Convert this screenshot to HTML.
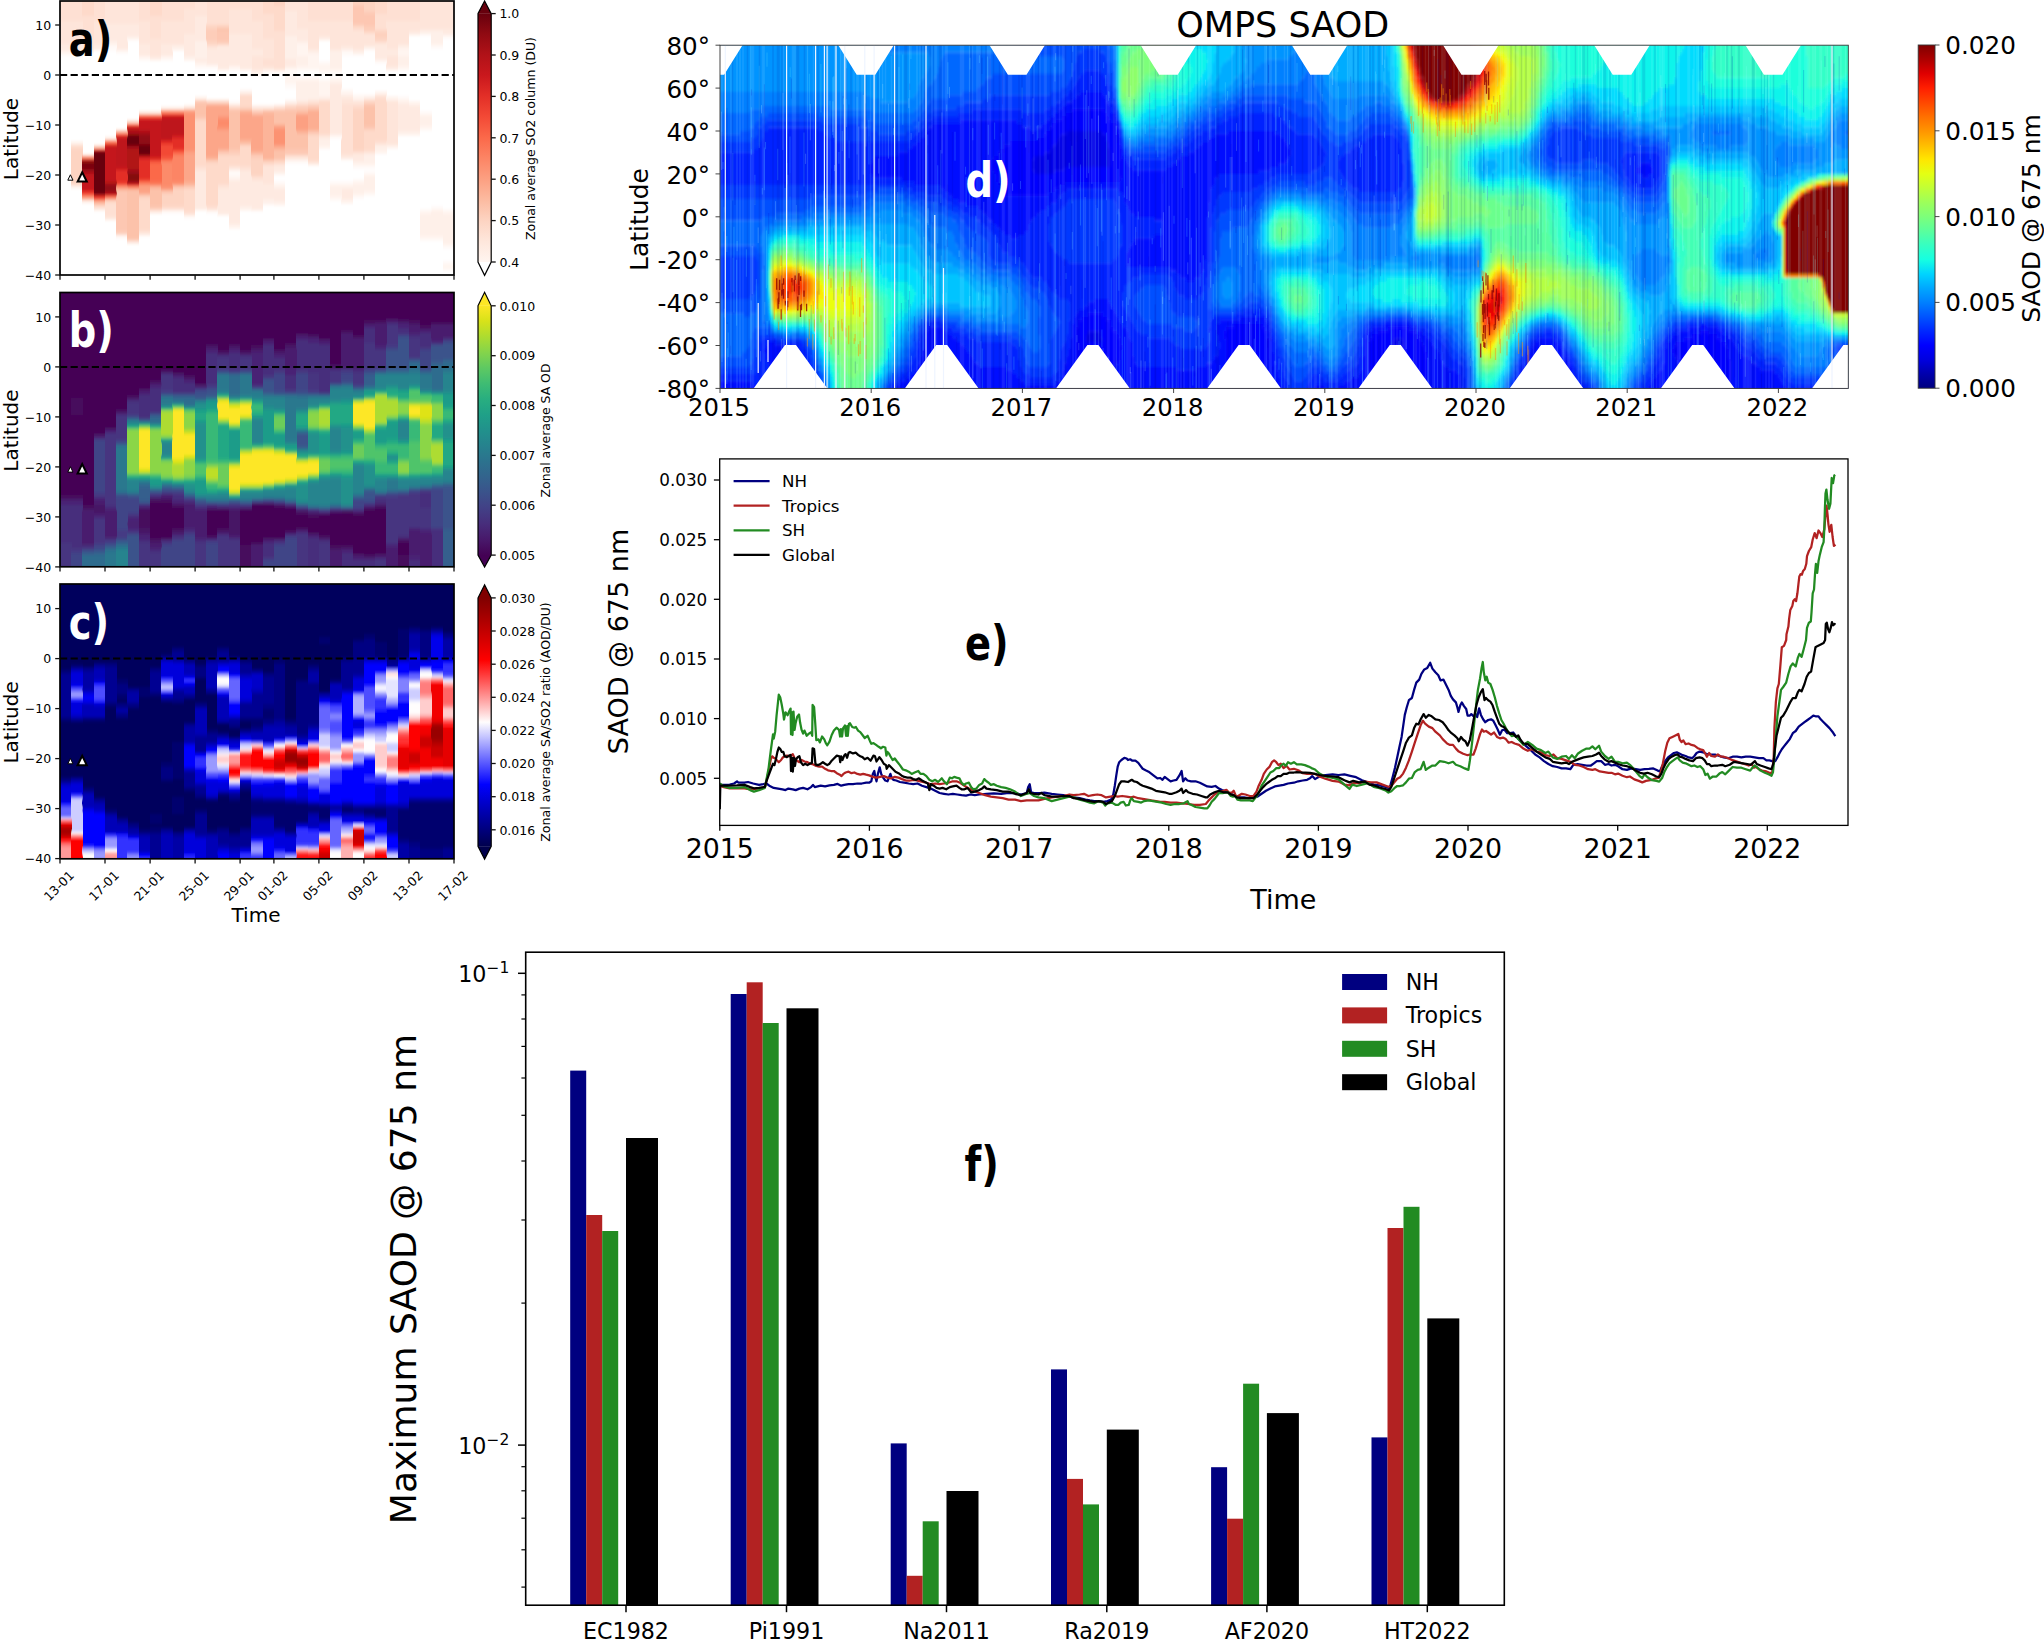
<!DOCTYPE html><html><head><meta charset="utf-8"><title>Figure</title><style>html,body{margin:0;padding:0;background:#fff}svg{display:block}text{white-space:pre}</style></head><body><svg width="2044" height="1639" viewBox="0 0 2044 1639" font-family="'DejaVu Sans','Liberation Sans',sans-serif" shape-rendering="auto"><defs>
<linearGradient id="gR" x1="0" y1="0" x2="0" y2="1"><stop offset="0%" stop-color="#67000d"/><stop offset="8.3%" stop-color="#900a12"/><stop offset="16.7%" stop-color="#b11218"/><stop offset="25%" stop-color="#ca181d"/><stop offset="33.3%" stop-color="#e32f27"/><stop offset="41.7%" stop-color="#f34a36"/><stop offset="50%" stop-color="#fb694a"/><stop offset="58.3%" stop-color="#fc8565"/><stop offset="66.7%" stop-color="#fca082"/><stop offset="75%" stop-color="#fcbba1"/><stop offset="83.3%" stop-color="#fdd4c2"/><stop offset="91.7%" stop-color="#fee7dc"/><stop offset="100%" stop-color="#fff5f0"/></linearGradient>
<linearGradient id="gV" x1="0" y1="0" x2="0" y2="1"><stop offset="0%" stop-color="#fde725"/><stop offset="6.2%" stop-color="#d8e219"/><stop offset="12.5%" stop-color="#addc30"/><stop offset="18.8%" stop-color="#84d44b"/><stop offset="25%" stop-color="#5ec962"/><stop offset="31.2%" stop-color="#3fbc73"/><stop offset="37.5%" stop-color="#28ae80"/><stop offset="43.8%" stop-color="#1fa088"/><stop offset="50%" stop-color="#21918c"/><stop offset="56.2%" stop-color="#26828e"/><stop offset="62.5%" stop-color="#2c728e"/><stop offset="68.8%" stop-color="#33638d"/><stop offset="75%" stop-color="#3b528b"/><stop offset="81.2%" stop-color="#424086"/><stop offset="87.5%" stop-color="#472d7b"/><stop offset="93.8%" stop-color="#48186a"/><stop offset="100%" stop-color="#440154"/></linearGradient>
<linearGradient id="gS" x1="0" y1="0" x2="0" y2="1"><stop offset="0%" stop-color="#800000"/><stop offset="6.2%" stop-color="#9e0000"/><stop offset="12.5%" stop-color="#be0000"/><stop offset="18.8%" stop-color="#de0000"/><stop offset="25%" stop-color="#fe0000"/><stop offset="31.2%" stop-color="#ff3d3d"/><stop offset="37.5%" stop-color="#ff7d7d"/><stop offset="43.8%" stop-color="#ffbdbd"/><stop offset="50%" stop-color="#fffdfd"/><stop offset="56.2%" stop-color="#c1c1ff"/><stop offset="62.5%" stop-color="#8181ff"/><stop offset="68.8%" stop-color="#4141ff"/><stop offset="75%" stop-color="#0101ff"/><stop offset="81.2%" stop-color="#0000d3"/><stop offset="87.5%" stop-color="#0000a6"/><stop offset="93.8%" stop-color="#000079"/><stop offset="100%" stop-color="#00004c"/></linearGradient>
<linearGradient id="gJ" x1="0" y1="0" x2="0" y2="1"><stop offset="0%" stop-color="#800000"/><stop offset="4.2%" stop-color="#ad0000"/><stop offset="8.3%" stop-color="#df0000"/><stop offset="12.5%" stop-color="#ff1e00"/><stop offset="16.7%" stop-color="#ff4700"/><stop offset="20.8%" stop-color="#ff6f00"/><stop offset="25%" stop-color="#ff9400"/><stop offset="29.2%" stop-color="#ffbd00"/><stop offset="33.3%" stop-color="#ffe600"/><stop offset="37.5%" stop-color="#e4ff13"/><stop offset="41.7%" stop-color="#c1ff36"/><stop offset="45.8%" stop-color="#9dff5a"/><stop offset="50%" stop-color="#7dff7a"/><stop offset="54.2%" stop-color="#5aff9d"/><stop offset="58.3%" stop-color="#36ffc1"/><stop offset="62.5%" stop-color="#16ffe1"/><stop offset="66.7%" stop-color="#00d4ff"/><stop offset="70.8%" stop-color="#00a8ff"/><stop offset="75%" stop-color="#0080ff"/><stop offset="79.2%" stop-color="#0054ff"/><stop offset="83.3%" stop-color="#0028ff"/><stop offset="87.5%" stop-color="#00f"/><stop offset="91.7%" stop-color="#0000df"/><stop offset="95.8%" stop-color="#0000ad"/><stop offset="100%" stop-color="#000080"/></linearGradient>
<clipPath id="ca"><rect x="60" y="1" width="394" height="274"/></clipPath>
<clipPath id="cb"><rect x="60" y="292.5" width="394" height="274.3"/></clipPath>
<clipPath id="cc"><rect x="60" y="584" width="394" height="274.8"/></clipPath>
<clipPath id="cd"><rect x="720" y="45.2" width="1128.3" height="343.2"/></clipPath>
<clipPath id="ce"><rect x="720" y="459" width="1128" height="366.5"/></clipPath>
<filter id="vb" x="-1%" y="-4%" width="102%" height="108%"><feGaussianBlur stdDeviation="0 1.4"/></filter>
<filter id="bl" x="-1%" y="-3%" width="102%" height="106%"><feGaussianBlur stdDeviation="1.1 1.6"/></filter>
</defs>
<g clip-path="url(#ca)" shape-rendering="crispEdges"><g filter="url(#vb)"><path fill="#fee0d3" d="M59.9 -5h11.6v26.2h-11.6zM71.1 -5h11.6v26.2h-11.6zM71.1 183.5h11.6v2.7h-11.6zM82.4 16h11.6v22.7h-11.6zM93.6 -5h11.6v26.2h-11.6zM93.6 206h11.6v2.7h-11.6zM104.9 203.5h11.6v12.7h-11.6zM138.6 -5h11.6v26.2h-11.6zM149.9 16h11.6v22.7h-11.6zM161.2 -5h11.6v26.2h-11.6zM172.4 -5h11.6v26.2h-11.6zM183.7 -5h11.6v13.7h-11.6zM183.7 211h11.6v2.7h-11.6zM194.9 98.5h11.6v2.7h-11.6zM194.9 166h11.6v2.7h-11.6zM206.2 -5h11.6v28.7h-11.6zM206.2 206h11.6v2.7h-11.6zM217.4 -5h11.6v28.7h-11.6zM217.4 43.5h11.6v2.7h-11.6zM217.4 183.5h11.6v2.7h-11.6zM228.7 -5h11.6v13.7h-11.6zM240 -5h11.6v13.7h-11.6zM240 93.5h11.6v2.7h-11.6zM240 166h11.6v2.7h-11.6zM251.2 -5h11.6v26.2h-11.6zM251.2 176h11.6v2.7h-11.6zM262.5 13.5h11.6v25.2h-11.6zM262.5 58.5h11.6v7.7h-11.6zM262.5 163.5h11.6v2.7h-11.6zM273.7 31h11.6v37.7h-11.6zM273.7 106h11.6v2.7h-11.6zM285 103.5h11.6v2.7h-11.6zM307.5 -5h11.6v26.2h-11.6zM307.5 101h11.6v2.7h-11.6zM318.8 -5h11.6v26.2h-11.6zM318.8 133.5h11.6v2.7h-11.6zM330 -5h11.6v26.2h-11.6zM341.3 -5h11.6v26.2h-11.6zM341.3 103.5h11.6v50.2h-11.6zM352.5 28.5h11.6v2.7h-11.6zM352.5 103.5h11.6v2.7h-11.6zM352.5 151h11.6v2.7h-11.6zM363.8 98.5h11.6v2.7h-11.6zM375 13.5h11.6v15.2h-11.6zM375 41h11.6v2.7h-11.6zM375 96h11.6v2.7h-11.6zM375 141h11.6v2.7h-11.6zM386.3 -5h11.6v26.2h-11.6zM397.6 -5h11.6v26.2h-11.6zM408.8 -5h11.6v26.2h-11.6z"/><path fill="#fee5da" d="M59.9 21h11.6v22.7h-11.6zM71.1 21h11.6v22.7h-11.6zM71.1 143.5h11.6v2.7h-11.6zM82.4 38.5h11.6v10.2h-11.6zM93.6 21h11.6v22.7h-11.6zM104.9 -5h11.6v28.7h-11.6zM104.9 216h11.6v2.7h-11.6zM116.1 -5h11.6v28.7h-11.6zM116.1 233.5h11.6v2.7h-11.6zM127.4 -5h11.6v28.7h-11.6zM138.6 21h11.6v22.7h-11.6zM138.6 231h11.6v2.7h-11.6zM149.9 38.5h11.6v17.7h-11.6zM161.2 21h11.6v22.7h-11.6zM172.4 21h11.6v22.7h-11.6zM183.7 8.5h11.6v25.2h-11.6zM183.7 106h11.6v2.7h-11.6zM194.9 -5h11.6v21.2h-11.6zM194.9 168.5h11.6v2.7h-11.6zM206.2 46h11.6v2.7h-11.6zM217.4 186h11.6v2.7h-11.6zM228.7 8.5h11.6v25.2h-11.6zM228.7 166h11.6v2.7h-11.6zM240 8.5h11.6v25.2h-11.6zM240 168.5h11.6v2.7h-11.6zM251.2 21h11.6v27.7h-11.6zM251.2 56h11.6v12.7h-11.6zM251.2 178.5h11.6v2.7h-11.6zM262.5 38.5h11.6v20.2h-11.6zM262.5 66h11.6v2.7h-11.6zM262.5 166h11.6v17.7h-11.6zM273.7 163.5h11.6v2.7h-11.6zM285 -5h11.6v16.2h-11.6zM285 156h11.6v2.7h-11.6zM296.2 -5h11.6v33.7h-11.6zM296.2 101h11.6v2.7h-11.6zM296.2 156h11.6v2.7h-11.6zM307.5 21h11.6v27.7h-11.6zM307.5 161h11.6v2.7h-11.6zM318.8 21h11.6v15.2h-11.6zM318.8 98.5h11.6v2.7h-11.6zM330 21h11.6v27.7h-11.6zM341.3 21h11.6v25.2h-11.6zM341.3 98.5h11.6v5.2h-11.6zM341.3 153.5h11.6v2.7h-11.6zM352.5 31h11.6v17.7h-11.6zM352.5 101h11.6v2.7h-11.6zM363.8 33.5h11.6v12.7h-11.6zM363.8 151h11.6v2.7h-11.6zM386.3 21h11.6v27.7h-11.6zM386.3 56h11.6v10.2h-11.6zM386.3 101h11.6v42.7h-11.6zM397.6 21h11.6v22.7h-11.6zM408.8 21h11.6v10.2h-11.6zM420.1 -5h11.6v33.7h-11.6zM431.3 -5h11.6v33.7h-11.6zM442.6 -5h11.6v33.7h-11.6z"/><path fill="#feeae1" d="M59.9 43.5h11.6v7.7h-11.6zM71.1 43.5h11.6v7.7h-11.6zM82.4 48.5h11.6v2.7h-11.6zM82.4 153.5h11.6v2.7h-11.6zM93.6 43.5h11.6v5.2h-11.6zM104.9 23.5h11.6v17.7h-11.6zM116.1 23.5h11.6v25.2h-11.6zM116.1 128.5h11.6v2.7h-11.6zM127.4 23.5h11.6v12.7h-11.6zM127.4 241h11.6v2.7h-11.6zM138.6 43.5h11.6v12.7h-11.6zM138.6 111h11.6v2.7h-11.6zM149.9 56h11.6v2.7h-11.6zM149.9 111h11.6v2.7h-11.6zM161.2 43.5h11.6v12.7h-11.6zM161.2 208.5h11.6v2.7h-11.6zM172.4 43.5h11.6v2.7h-11.6zM172.4 208.5h11.6v2.7h-11.6zM183.7 33.5h11.6v22.7h-11.6zM183.7 213.5h11.6v2.7h-11.6zM194.9 16h11.6v25.2h-11.6zM194.9 58.5h11.6v2.7h-11.6zM194.9 171h11.6v37.7h-11.6zM206.2 48.5h11.6v15.2h-11.6zM206.2 208.5h11.6v2.7h-11.6zM217.4 46h11.6v22.7h-11.6zM217.4 188.5h11.6v25.2h-11.6zM228.7 33.5h11.6v32.7h-11.6zM228.7 103.5h11.6v2.7h-11.6zM228.7 181h11.6v42.7h-11.6zM240 33.5h11.6v35.2h-11.6zM240 171h11.6v35.2h-11.6zM251.2 48.5h11.6v7.7h-11.6zM251.2 68.5h11.6v2.7h-11.6zM251.2 106h11.6v2.7h-11.6zM251.2 181h11.6v27.7h-11.6zM262.5 106h11.6v2.7h-11.6zM262.5 183.5h11.6v15.2h-11.6zM273.7 68.5h11.6v2.7h-11.6zM273.7 166h11.6v5.2h-11.6zM273.7 188.5h11.6v12.7h-11.6zM285 11h11.6v25.2h-11.6zM285 58.5h11.6v7.7h-11.6zM296.2 28.5h11.6v12.7h-11.6zM307.5 48.5h11.6v2.7h-11.6zM307.5 98.5h11.6v2.7h-11.6zM318.8 36h11.6v2.7h-11.6zM318.8 136h11.6v2.7h-11.6zM330 48.5h11.6v2.7h-11.6zM330 83.5h11.6v50.2h-11.6zM341.3 46h11.6v2.7h-11.6zM341.3 96h11.6v2.7h-11.6zM341.3 156h11.6v2.7h-11.6zM341.3 188.5h11.6v10.2h-11.6zM352.5 48.5h11.6v2.7h-11.6zM352.5 153.5h11.6v7.7h-11.6zM375 43.5h11.6v15.2h-11.6zM375 93.5h11.6v2.7h-11.6zM375 143.5h11.6v2.7h-11.6zM386.3 48.5h11.6v7.7h-11.6zM386.3 66h11.6v2.7h-11.6zM386.3 143.5h11.6v2.7h-11.6zM397.6 43.5h11.6v2.7h-11.6zM397.6 103.5h11.6v27.7h-11.6zM408.8 31h11.6v2.7h-11.6zM408.8 106h11.6v25.2h-11.6zM420.1 28.5h11.6v2.7h-11.6zM431.3 28.5h11.6v2.7h-11.6zM442.6 28.5h11.6v5.2h-11.6z"/><path fill="#fff5f0" d="M59.9 51h11.6v2.7h-11.6zM71.1 51h11.6v2.7h-11.6zM71.1 141h11.6v2.7h-11.6zM71.1 186h11.6v2.7h-11.6zM82.4 51h11.6v2.7h-11.6zM82.4 201h11.6v2.7h-11.6zM93.6 48.5h11.6v2.7h-11.6zM93.6 143.5h11.6v2.7h-11.6zM104.9 43.5h11.6v2.7h-11.6zM104.9 136h11.6v2.7h-11.6zM104.9 218.5h11.6v2.7h-11.6zM127.4 118.5h11.6v2.7h-11.6zM138.6 56h11.6v2.7h-11.6zM149.9 58.5h11.6v2.7h-11.6zM161.2 56h11.6v2.7h-11.6zM161.2 106h11.6v2.7h-11.6zM172.4 48.5h11.6v2.7h-11.6zM172.4 106h11.6v2.7h-11.6zM183.7 58.5h11.6v2.7h-11.6zM194.9 63.5h11.6v2.7h-11.6zM194.9 96h11.6v2.7h-11.6zM194.9 208.5h11.6v2.7h-11.6zM217.4 68.5h11.6v2.7h-11.6zM217.4 213.5h11.6v2.7h-11.6zM228.7 66h11.6v2.7h-11.6zM228.7 176h11.6v2.7h-11.6zM228.7 226h11.6v2.7h-11.6zM240 68.5h11.6v2.7h-11.6zM240 208.5h11.6v2.7h-11.6zM273.7 103.5h11.6v2.7h-11.6zM273.7 183.5h11.6v2.7h-11.6zM273.7 203.5h11.6v2.7h-11.6zM285 76h11.6v7.7h-11.6zM296.2 43.5h11.6v12.7h-11.6zM296.2 66h11.6v2.7h-11.6zM296.2 78.5h11.6v2.7h-11.6zM307.5 53.5h11.6v15.2h-11.6zM307.5 78.5h11.6v2.7h-11.6zM307.5 163.5h11.6v2.7h-11.6zM318.8 38.5h11.6v2.7h-11.6zM318.8 63.5h11.6v7.7h-11.6zM318.8 81h11.6v15.2h-11.6zM318.8 146h11.6v2.7h-11.6zM330 68.5h11.6v2.7h-11.6zM330 78.5h11.6v2.7h-11.6zM330 183.5h11.6v2.7h-11.6zM330 196h11.6v2.7h-11.6zM341.3 91h11.6v2.7h-11.6zM341.3 183.5h11.6v2.7h-11.6zM341.3 201h11.6v2.7h-11.6zM352.5 96h11.6v2.7h-11.6zM352.5 163.5h11.6v2.7h-11.6zM352.5 181h11.6v2.7h-11.6zM352.5 193.5h11.6v2.7h-11.6zM363.8 163.5h11.6v2.7h-11.6zM363.8 173.5h11.6v2.7h-11.6zM363.8 191h11.6v2.7h-11.6zM375 91h11.6v2.7h-11.6zM375 151h11.6v2.7h-11.6zM386.3 68.5h11.6v2.7h-11.6zM386.3 96h11.6v2.7h-11.6zM386.3 146h11.6v2.7h-11.6zM397.6 48.5h11.6v7.7h-11.6zM397.6 66h11.6v2.7h-11.6zM397.6 98.5h11.6v2.7h-11.6zM397.6 133.5h11.6v2.7h-11.6zM408.8 33.5h11.6v2.7h-11.6zM408.8 101h11.6v2.7h-11.6zM408.8 133.5h11.6v2.7h-11.6zM420.1 113.5h11.6v2.7h-11.6zM420.1 126h11.6v2.7h-11.6zM420.1 211h11.6v2.7h-11.6zM420.1 236h11.6v2.7h-11.6zM431.3 43.5h11.6v2.7h-11.6zM431.3 208.5h11.6v2.7h-11.6zM431.3 236h11.6v2.7h-11.6zM442.6 211h11.6v2.7h-11.6zM442.6 243.5h11.6v2.7h-11.6zM442.6 263.5h11.6v5.2h-11.6z"/><path fill="#fffaf8" d="M59.9 53.5h11.6v2.7h-11.6zM71.1 53.5h11.6v2.7h-11.6zM104.9 46h11.6v5.2h-11.6zM116.1 51h11.6v2.7h-11.6zM116.1 236h11.6v2.7h-11.6zM127.4 38.5h11.6v2.7h-11.6zM138.6 58.5h11.6v2.7h-11.6zM161.2 58.5h11.6v2.7h-11.6zM161.2 211h11.6v2.7h-11.6zM172.4 211h11.6v2.7h-11.6zM183.7 103.5h11.6v2.7h-11.6zM183.7 216h11.6v2.7h-11.6zM194.9 66h11.6v2.7h-11.6zM206.2 66h11.6v2.7h-11.6zM206.2 211h11.6v2.7h-11.6zM228.7 68.5h11.6v2.7h-11.6zM228.7 101h11.6v2.7h-11.6zM228.7 171h11.6v5.2h-11.6zM240 88.5h11.6v2.7h-11.6zM251.2 73.5h11.6v2.7h-11.6zM251.2 103.5h11.6v2.7h-11.6zM262.5 71h11.6v2.7h-11.6zM262.5 103.5h11.6v2.7h-11.6zM262.5 203.5h11.6v2.7h-11.6zM273.7 71h11.6v2.7h-11.6zM273.7 173.5h11.6v2.7h-11.6zM273.7 181h11.6v2.7h-11.6zM285 68.5h11.6v7.7h-11.6zM285 83.5h11.6v5.2h-11.6zM285 98.5h11.6v2.7h-11.6zM285 161h11.6v2.7h-11.6zM296.2 68.5h11.6v2.7h-11.6zM296.2 76h11.6v2.7h-11.6zM296.2 161h11.6v2.7h-11.6zM307.5 68.5h11.6v2.7h-11.6zM307.5 76h11.6v2.7h-11.6zM318.8 61h11.6v2.7h-11.6zM318.8 71h11.6v2.7h-11.6zM318.8 78.5h11.6v2.7h-11.6zM330 71h11.6v2.7h-11.6zM330 76h11.6v2.7h-11.6zM330 136h11.6v2.7h-11.6zM330 181h11.6v2.7h-11.6zM330 198.5h11.6v2.7h-11.6zM341.3 51h11.6v5.2h-11.6zM341.3 88.5h11.6v2.7h-11.6zM341.3 158.5h11.6v2.7h-11.6zM341.3 181h11.6v2.7h-11.6zM352.5 53.5h11.6v2.7h-11.6zM352.5 93.5h11.6v2.7h-11.6zM352.5 166h11.6v2.7h-11.6zM352.5 178.5h11.6v2.7h-11.6zM352.5 196h11.6v2.7h-11.6zM363.8 48.5h11.6v2.7h-11.6zM363.8 93.5h11.6v2.7h-11.6zM363.8 166h11.6v2.7h-11.6zM363.8 171h11.6v2.7h-11.6zM363.8 193.5h11.6v2.7h-11.6zM375 61h11.6v2.7h-11.6zM397.6 68.5h11.6v2.7h-11.6zM397.6 96h11.6v2.7h-11.6zM420.1 33.5h11.6v2.7h-11.6zM420.1 111h11.6v2.7h-11.6zM420.1 128.5h11.6v2.7h-11.6zM420.1 208.5h11.6v2.7h-11.6zM420.1 238.5h11.6v2.7h-11.6zM431.3 46h11.6v2.7h-11.6zM431.3 206h11.6v2.7h-11.6zM431.3 238.5h11.6v2.7h-11.6zM442.6 36h11.6v2.7h-11.6zM442.6 208.5h11.6v2.7h-11.6zM442.6 246h11.6v2.7h-11.6zM442.6 261h11.6v2.7h-11.6zM442.6 268.5h11.6v2.7h-11.6z"/><path fill="#fedaca" d="M71.1 146h11.6v2.7h-11.6zM82.4 -5h11.6v21.2h-11.6zM104.9 201h11.6v2.7h-11.6zM138.6 198.5h11.6v32.7h-11.6zM149.9 -5h11.6v21.2h-11.6zM149.9 208.5h11.6v2.7h-11.6zM161.2 206h11.6v2.7h-11.6zM172.4 206h11.6v2.7h-11.6zM183.7 188.5h11.6v22.7h-11.6zM194.9 121h11.6v45.2h-11.6zM206.2 23.5h11.6v2.7h-11.6zM206.2 43.5h11.6v2.7h-11.6zM206.2 163.5h11.6v42.7h-11.6zM217.4 23.5h11.6v2.7h-11.6zM217.4 156h11.6v27.7h-11.6zM228.7 106h11.6v2.7h-11.6zM228.7 156h11.6v10.2h-11.6zM240 96h11.6v10.2h-11.6zM240 146h11.6v20.2h-11.6zM251.2 108.5h11.6v2.7h-11.6zM262.5 -5h11.6v18.7h-11.6zM273.7 6h11.6v25.2h-11.6zM273.7 161h11.6v2.7h-11.6zM296.2 103.5h11.6v2.7h-11.6zM307.5 136h11.6v25.2h-11.6zM318.8 101h11.6v32.7h-11.6zM352.5 26h11.6v2.7h-11.6zM352.5 106h11.6v2.7h-11.6zM363.8 31h11.6v2.7h-11.6zM363.8 131h11.6v20.2h-11.6zM375 -5h11.6v18.7h-11.6zM375 28.5h11.6v2.7h-11.6zM375 98.5h11.6v42.7h-11.6z"/><path fill="#fdd4c2" d="M71.1 148.5h11.6v35.2h-11.6zM82.4 198.5h11.6v2.7h-11.6zM138.6 196h11.6v2.7h-11.6zM161.2 193.5h11.6v12.7h-11.6zM172.4 188.5h11.6v17.7h-11.6zM194.9 118.5h11.6v2.7h-11.6zM206.2 26h11.6v2.7h-11.6zM206.2 41h11.6v2.7h-11.6zM206.2 101h11.6v2.7h-11.6zM206.2 161h11.6v2.7h-11.6zM217.4 101h11.6v2.7h-11.6zM217.4 153.5h11.6v2.7h-11.6zM228.7 153.5h11.6v2.7h-11.6zM240 106h11.6v2.7h-11.6zM251.2 158.5h11.6v17.7h-11.6zM262.5 108.5h11.6v2.7h-11.6zM262.5 161h11.6v2.7h-11.6zM273.7 -5h11.6v11.2h-11.6zM285 106h11.6v2.7h-11.6zM285 153.5h11.6v2.7h-11.6zM296.2 153.5h11.6v2.7h-11.6zM307.5 103.5h11.6v2.7h-11.6zM307.5 133.5h11.6v2.7h-11.6zM352.5 -5h11.6v8.7h-11.6zM352.5 108.5h11.6v42.7h-11.6zM363.8 -5h11.6v16.2h-11.6zM363.8 101h11.6v2.7h-11.6zM363.8 128.5h11.6v2.7h-11.6zM375 31h11.6v2.7h-11.6zM375 36h11.6v5.2h-11.6z"/><path fill="#fc8b6b" d="M82.4 156h11.6v2.7h-11.6zM127.4 186h11.6v2.7h-11.6zM149.9 183.5h11.6v2.7h-11.6zM161.2 163.5h11.6v22.7h-11.6zM172.4 181h11.6v2.7h-11.6zM217.4 118.5h11.6v7.7h-11.6z"/><path fill="#c4161c" d="M82.4 158.5h11.6v2.7h-11.6zM82.4 176h11.6v12.7h-11.6zM104.9 146h11.6v35.2h-11.6zM116.1 166h11.6v2.7h-11.6zM138.6 121h11.6v7.7h-11.6zM149.9 121h11.6v35.2h-11.6zM161.2 116h11.6v2.7h-11.6zM172.4 116h11.6v2.7h-11.6zM172.4 133.5h11.6v2.7h-11.6z"/><path fill="#840711" d="M82.4 161h11.6v2.7h-11.6zM127.4 133.5h11.6v2.7h-11.6zM127.4 173.5h11.6v7.7h-11.6zM138.6 153.5h11.6v2.7h-11.6z"/><path fill="#7a0510" d="M82.4 163.5h11.6v5.2h-11.6zM138.6 143.5h11.6v2.7h-11.6z"/><path fill="#900a12" d="M82.4 168.5h11.6v2.7h-11.6zM104.9 186h11.6v5.2h-11.6zM138.6 136h11.6v7.7h-11.6z"/><path fill="#ab1016" d="M82.4 171h11.6v2.7h-11.6zM93.6 193.5h11.6v2.7h-11.6zM127.4 131h11.6v2.7h-11.6zM138.6 131h11.6v2.7h-11.6z"/><path fill="#be151a" d="M82.4 173.5h11.6v2.7h-11.6zM116.1 138.5h11.6v27.7h-11.6zM138.6 128.5h11.6v2.7h-11.6zM161.2 118.5h11.6v20.2h-11.6zM172.4 118.5h11.6v15.2h-11.6z"/><path fill="#ca181d" d="M82.4 188.5h11.6v2.7h-11.6zM116.1 136h11.6v2.7h-11.6zM127.4 126h11.6v2.7h-11.6zM138.6 118.5h11.6v2.7h-11.6zM138.6 156h11.6v2.7h-11.6zM149.9 118.5h11.6v2.7h-11.6zM161.2 138.5h11.6v2.7h-11.6z"/><path fill="#e93529" d="M82.4 191h11.6v2.7h-11.6zM93.6 196h11.6v2.7h-11.6zM116.1 181h11.6v2.7h-11.6zM149.9 158.5h11.6v2.7h-11.6zM161.2 113.5h11.6v2.7h-11.6zM172.4 113.5h11.6v2.7h-11.6z"/><path fill="#f96245" d="M82.4 193.5h11.6v2.7h-11.6zM116.1 183.5h11.6v2.7h-11.6zM172.4 151h11.6v2.7h-11.6z"/><path fill="#fc997a" d="M82.4 196h11.6v2.7h-11.6zM116.1 186h11.6v2.7h-11.6zM183.7 111h11.6v2.7h-11.6zM217.4 116h11.6v2.7h-11.6zM273.7 143.5h11.6v2.7h-11.6z"/><path fill="#fcbba1" d="M93.6 146h11.6v2.7h-11.6zM116.1 188.5h11.6v2.7h-11.6zM127.4 188.5h11.6v2.7h-11.6zM183.7 108.5h11.6v2.7h-11.6zM183.7 183.5h11.6v2.7h-11.6zM240 141h11.6v2.7h-11.6zM262.5 111h11.6v2.7h-11.6zM273.7 148.5h11.6v2.7h-11.6zM296.2 111h11.6v2.7h-11.6zM307.5 108.5h11.6v2.7h-11.6z"/><path fill="#e32f27" d="M93.6 148.5h11.6v2.7h-11.6zM116.1 171h11.6v10.2h-11.6zM127.4 183.5h11.6v2.7h-11.6zM138.6 158.5h11.6v20.2h-11.6zM161.2 141h11.6v2.7h-11.6zM172.4 138.5h11.6v10.2h-11.6z"/><path fill="#71020e" d="M93.6 151h11.6v2.7h-11.6zM127.4 143.5h11.6v2.7h-11.6z"/><path fill="#67000d" d="M93.6 153.5h11.6v40.2h-11.6zM127.4 136h11.6v2.7h-11.6zM127.4 138.5h11.6v5.2h-11.6zM138.6 146h11.6v2.7h-11.6zM138.6 148.5h11.6v5.2h-11.6z"/><path fill="#fb7d5d" d="M93.6 198.5h11.6v2.7h-11.6zM104.9 196h11.6v2.7h-11.6zM172.4 153.5h11.6v2.7h-11.6z"/><path fill="#fcb499" d="M93.6 201h11.6v2.7h-11.6zM149.9 186h11.6v2.7h-11.6zM206.2 103.5h11.6v2.7h-11.6zM217.4 103.5h11.6v2.7h-11.6zM217.4 148.5h11.6v2.7h-11.6zM251.2 113.5h11.6v2.7h-11.6zM251.2 151h11.6v2.7h-11.6zM262.5 113.5h11.6v45.2h-11.6zM273.7 123.5h11.6v2.7h-11.6zM296.2 131h11.6v2.7h-11.6zM307.5 128.5h11.6v2.7h-11.6z"/><path fill="#fdcdb9" d="M93.6 203.5h11.6v2.7h-11.6zM116.1 231h11.6v2.7h-11.6zM127.4 121h11.6v2.7h-11.6zM127.4 238.5h11.6v2.7h-11.6zM183.7 186h11.6v2.7h-11.6zM206.2 28.5h11.6v12.7h-11.6zM217.4 26h11.6v2.7h-11.6zM217.4 41h11.6v2.7h-11.6zM228.7 151h11.6v2.7h-11.6zM240 143.5h11.6v2.7h-11.6zM251.2 156h11.6v2.7h-11.6zM273.7 108.5h11.6v2.7h-11.6zM273.7 158.5h11.6v2.7h-11.6zM296.2 106h11.6v2.7h-11.6zM352.5 3.5h11.6v2.7h-11.6zM352.5 23.5h11.6v2.7h-11.6zM363.8 11h11.6v2.7h-11.6zM363.8 26h11.6v5.2h-11.6zM375 33.5h11.6v2.7h-11.6z"/><path fill="#fef0e9" d="M93.6 208.5h11.6v2.7h-11.6zM104.9 41h11.6v2.7h-11.6zM116.1 48.5h11.6v2.7h-11.6zM127.4 36h11.6v2.7h-11.6zM138.6 233.5h11.6v2.7h-11.6zM149.9 211h11.6v2.7h-11.6zM172.4 46h11.6v2.7h-11.6zM183.7 56h11.6v2.7h-11.6zM194.9 41h11.6v17.7h-11.6zM194.9 61h11.6v2.7h-11.6zM206.2 63.5h11.6v2.7h-11.6zM206.2 98.5h11.6v2.7h-11.6zM217.4 98.5h11.6v2.7h-11.6zM228.7 168.5h11.6v2.7h-11.6zM228.7 178.5h11.6v2.7h-11.6zM228.7 223.5h11.6v2.7h-11.6zM240 91h11.6v2.7h-11.6zM240 206h11.6v2.7h-11.6zM251.2 71h11.6v2.7h-11.6zM251.2 208.5h11.6v2.7h-11.6zM262.5 68.5h11.6v2.7h-11.6zM262.5 198.5h11.6v5.2h-11.6zM273.7 171h11.6v2.7h-11.6zM273.7 186h11.6v2.7h-11.6zM273.7 201h11.6v2.7h-11.6zM285 36h11.6v22.7h-11.6zM285 66h11.6v2.7h-11.6zM285 101h11.6v2.7h-11.6zM285 158.5h11.6v2.7h-11.6zM296.2 41h11.6v2.7h-11.6zM296.2 56h11.6v10.2h-11.6zM296.2 81h11.6v20.2h-11.6zM296.2 158.5h11.6v2.7h-11.6zM307.5 51h11.6v2.7h-11.6zM307.5 81h11.6v17.7h-11.6zM318.8 96h11.6v2.7h-11.6zM318.8 138.5h11.6v7.7h-11.6zM330 51h11.6v17.7h-11.6zM330 81h11.6v2.7h-11.6zM330 133.5h11.6v2.7h-11.6zM330 186h11.6v10.2h-11.6zM341.3 48.5h11.6v2.7h-11.6zM341.3 93.5h11.6v2.7h-11.6zM341.3 186h11.6v2.7h-11.6zM341.3 198.5h11.6v2.7h-11.6zM352.5 51h11.6v2.7h-11.6zM352.5 98.5h11.6v2.7h-11.6zM352.5 161h11.6v2.7h-11.6zM352.5 183.5h11.6v10.2h-11.6zM363.8 46h11.6v2.7h-11.6zM363.8 96h11.6v2.7h-11.6zM363.8 153.5h11.6v10.2h-11.6zM363.8 176h11.6v15.2h-11.6zM375 58.5h11.6v2.7h-11.6zM375 146h11.6v5.2h-11.6zM386.3 98.5h11.6v2.7h-11.6zM397.6 46h11.6v2.7h-11.6zM397.6 56h11.6v10.2h-11.6zM397.6 101h11.6v2.7h-11.6zM397.6 131h11.6v2.7h-11.6zM408.8 103.5h11.6v2.7h-11.6zM408.8 131h11.6v2.7h-11.6zM420.1 31h11.6v2.7h-11.6zM420.1 116h11.6v10.2h-11.6zM420.1 213.5h11.6v22.7h-11.6zM431.3 31h11.6v12.7h-11.6zM431.3 211h11.6v25.2h-11.6zM442.6 33.5h11.6v2.7h-11.6zM442.6 213.5h11.6v30.2h-11.6z"/><path fill="#fff" d="M93.6 211h11.6v2.7h-11.6zM138.6 236h11.6v2.7h-11.6zM251.2 211h11.6v2.7h-11.6zM273.7 206h11.6v2.7h-11.6zM318.8 73.5h11.6v5.2h-11.6zM318.8 148.5h11.6v2.7h-11.6zM363.8 168.5h11.6v2.7h-11.6zM375 153.5h11.6v2.7h-11.6z"/><path fill="#fdc7b2" d="M104.9 138.5h11.6v2.7h-11.6zM116.1 191h11.6v40.2h-11.6zM149.9 206h11.6v2.7h-11.6zM161.2 108.5h11.6v2.7h-11.6zM161.2 191h11.6v2.7h-11.6zM172.4 108.5h11.6v2.7h-11.6zM172.4 186h11.6v2.7h-11.6zM194.9 101h11.6v2.7h-11.6zM194.9 116h11.6v2.7h-11.6zM217.4 31h11.6v10.2h-11.6zM217.4 151h11.6v2.7h-11.6zM228.7 108.5h11.6v2.7h-11.6zM228.7 148.5h11.6v2.7h-11.6zM251.2 111h11.6v2.7h-11.6zM251.2 153.5h11.6v2.7h-11.6zM285 108.5h11.6v2.7h-11.6zM285 148.5h11.6v5.2h-11.6zM296.2 108.5h11.6v2.7h-11.6zM296.2 148.5h11.6v5.2h-11.6zM307.5 106h11.6v2.7h-11.6zM307.5 131h11.6v2.7h-11.6zM352.5 6h11.6v17.7h-11.6zM363.8 13.5h11.6v12.7h-11.6zM363.8 103.5h11.6v2.7h-11.6zM363.8 126h11.6v2.7h-11.6z"/><path fill="#fb7151" d="M104.9 141h11.6v2.7h-11.6zM138.6 181h11.6v2.7h-11.6zM149.9 181h11.6v2.7h-11.6z"/><path fill="#dc2924" d="M104.9 143.5h11.6v2.7h-11.6z"/><path fill="#b71319" d="M104.9 181h11.6v2.7h-11.6z"/><path fill="#9a0c14" d="M104.9 183.5h11.6v2.7h-11.6zM127.4 171h11.6v2.7h-11.6zM138.6 133.5h11.6v2.7h-11.6z"/><path fill="#a30f15" d="M104.9 191h11.6v2.7h-11.6zM127.4 146h11.6v2.7h-11.6zM127.4 168.5h11.6v2.7h-11.6zM127.4 181h11.6v2.7h-11.6z"/><path fill="#d72322" d="M104.9 193.5h11.6v2.7h-11.6zM116.1 168.5h11.6v2.7h-11.6zM172.4 136h11.6v2.7h-11.6z"/><path fill="#fcc2aa" d="M104.9 198.5h11.6v2.7h-11.6zM127.4 191h11.6v47.7h-11.6zM138.6 193.5h11.6v2.7h-11.6zM149.9 188.5h11.6v17.7h-11.6zM194.9 103.5h11.6v12.7h-11.6zM206.2 158.5h11.6v2.7h-11.6zM217.4 28.5h11.6v2.7h-11.6zM228.7 111h11.6v37.7h-11.6zM240 108.5h11.6v2.7h-11.6zM262.5 158.5h11.6v2.7h-11.6zM273.7 111h11.6v12.7h-11.6zM273.7 151h11.6v7.7h-11.6zM285 111h11.6v37.7h-11.6zM296.2 133.5h11.6v15.2h-11.6zM363.8 106h11.6v20.2h-11.6z"/><path fill="#fca689" d="M116.1 131h11.6v2.7h-11.6zM138.6 113.5h11.6v2.7h-11.6zM138.6 191h11.6v2.7h-11.6zM149.9 113.5h11.6v2.7h-11.6zM172.4 183.5h11.6v2.7h-11.6zM183.7 153.5h11.6v27.7h-11.6zM206.2 106h11.6v50.2h-11.6zM217.4 106h11.6v10.2h-11.6zM217.4 131h11.6v17.7h-11.6zM240 113.5h11.6v25.2h-11.6zM251.2 116h11.6v35.2h-11.6zM296.2 113.5h11.6v2.7h-11.6zM296.2 128.5h11.6v2.7h-11.6z"/><path fill="#f34a36" d="M116.1 133.5h11.6v2.7h-11.6zM161.2 146h11.6v10.2h-11.6z"/><path fill="#fb694a" d="M127.4 123.5h11.6v2.7h-11.6zM149.9 163.5h11.6v17.7h-11.6zM161.2 158.5h11.6v2.7h-11.6z"/><path fill="#b11218" d="M127.4 128.5h11.6v2.7h-11.6zM127.4 148.5h11.6v20.2h-11.6z"/><path fill="#f14331" d="M138.6 116h11.6v2.7h-11.6zM149.9 116h11.6v2.7h-11.6zM161.2 143.5h11.6v2.7h-11.6z"/><path fill="#ee3a2c" d="M138.6 178.5h11.6v2.7h-11.6zM172.4 148.5h11.6v2.7h-11.6z"/><path fill="#fc9272" d="M138.6 183.5h11.6v2.7h-11.6zM161.2 186h11.6v2.7h-11.6zM183.7 113.5h11.6v37.7h-11.6zM217.4 126h11.6v2.7h-11.6zM273.7 128.5h11.6v15.2h-11.6z"/><path fill="#fca082" d="M138.6 186h11.6v5.2h-11.6zM183.7 151h11.6v2.7h-11.6zM217.4 128.5h11.6v2.7h-11.6zM273.7 126h11.6v2.7h-11.6zM296.2 116h11.6v12.7h-11.6z"/><path fill="#d11e1f" d="M149.9 156h11.6v2.7h-11.6z"/><path fill="#f75b40" d="M149.9 161h11.6v2.7h-11.6z"/><path fill="#fc8565" d="M161.2 111h11.6v2.7h-11.6zM161.2 161h11.6v2.7h-11.6zM172.4 111h11.6v2.7h-11.6zM172.4 156h11.6v25.2h-11.6z"/><path fill="#f5523a" d="M161.2 156h11.6v2.7h-11.6z"/><path fill="#fcae92" d="M161.2 188.5h11.6v2.7h-11.6zM183.7 181h11.6v2.7h-11.6zM206.2 156h11.6v2.7h-11.6zM240 111h11.6v2.7h-11.6zM240 138.5h11.6v2.7h-11.6zM273.7 146h11.6v2.7h-11.6zM307.5 111h11.6v17.7h-11.6z"/></g></g>
<path d="M60 75H454" stroke="#000" stroke-width="2" stroke-dasharray="7.2 3.4"/><rect x="60" y="1" width="394" height="274" fill="none" stroke="#000" stroke-width="1.7"/><path d="M55.2 25L60 25" stroke="#111" stroke-width="1.3"/><text x="51.2" y="29.7" font-size="12.5" text-anchor="end">10</text><path d="M55.2 75L60 75" stroke="#111" stroke-width="1.3"/><text x="51.2" y="79.7" font-size="12.5" text-anchor="end">0</text><path d="M55.2 125L60 125" stroke="#111" stroke-width="1.3"/><text x="51.2" y="129.7" font-size="12.5" text-anchor="end">−10</text><path d="M55.2 175L60 175" stroke="#111" stroke-width="1.3"/><text x="51.2" y="179.7" font-size="12.5" text-anchor="end">−20</text><path d="M55.2 225L60 225" stroke="#111" stroke-width="1.3"/><text x="51.2" y="229.7" font-size="12.5" text-anchor="end">−30</text><path d="M55.2 275L60 275" stroke="#111" stroke-width="1.3"/><text x="51.2" y="279.7" font-size="12.5" text-anchor="end">−40</text><path d="M60 275L60 279.8" stroke="#111" stroke-width="1.3"/><path d="M105 275L105 279.8" stroke="#111" stroke-width="1.3"/><path d="M150.1 275L150.1 279.8" stroke="#111" stroke-width="1.3"/><path d="M195.1 275L195.1 279.8" stroke="#111" stroke-width="1.3"/><path d="M240.1 275L240.1 279.8" stroke="#111" stroke-width="1.3"/><path d="M273.9 275L273.9 279.8" stroke="#111" stroke-width="1.3"/><path d="M318.9 275L318.9 279.8" stroke="#111" stroke-width="1.3"/><path d="M363.9 275L363.9 279.8" stroke="#111" stroke-width="1.3"/><path d="M409 275L409 279.8" stroke="#111" stroke-width="1.3"/><path d="M454 275L454 279.8" stroke="#111" stroke-width="1.3"/><text x="18" y="139" font-size="20" text-anchor="middle" transform="rotate(-90 18 139)">Latitude</text><path d="M67.8 180.2l2.6 -5.4l2.6 5.4z" fill="#fff" stroke="#000" stroke-width="1"/><path d="M77.6 181.6l4.6 -9.4l4.6 9.4z" fill="#fff" stroke="#000" stroke-width="2"/><text transform="translate(68.8 55.6) scale(0.8 1)" font-size="48" font-weight="bold" fill="#000" font-family="'DejaVu Sans','Liberation Sans',sans-serif">a)</text><path d="M478 13.3H491.2V262.3H478Z" fill="url(#gR)"/><path d="M478 13.6L484.6 1L491.2 13.6Z" fill="#67000d"/><path d="M478 262L484.6 275.3L491.2 262Z" fill="#fff"/><path d="M478 13.6L484.6 1L491.2 13.6V262L484.6 275.3L478 262Z" fill="none" stroke="#000" stroke-width="1.2" stroke-linejoin="miter"/><path d="M491.2 262L495.7 262" stroke="#111" stroke-width="1.3"/><text x="499.4" y="266.7" font-size="12.5">0.4</text><path d="M491.2 220.6L495.7 220.6" stroke="#111" stroke-width="1.3"/><text x="499.4" y="225.3" font-size="12.5">0.5</text><path d="M491.2 179.2L495.7 179.2" stroke="#111" stroke-width="1.3"/><text x="499.4" y="183.9" font-size="12.5">0.6</text><path d="M491.2 137.8L495.7 137.8" stroke="#111" stroke-width="1.3"/><text x="499.4" y="142.5" font-size="12.5">0.7</text><path d="M491.2 96.4L495.7 96.4" stroke="#111" stroke-width="1.3"/><text x="499.4" y="101.1" font-size="12.5">0.8</text><path d="M491.2 55L495.7 55" stroke="#111" stroke-width="1.3"/><text x="499.4" y="59.7" font-size="12.5">0.9</text><path d="M491.2 13.6L495.7 13.6" stroke="#111" stroke-width="1.3"/><text x="499.4" y="18.3" font-size="12.5">1.0</text><text x="534.8" y="138.5" font-size="12.9" text-anchor="middle" transform="rotate(-90 534.8 138.5)" textLength="203" lengthAdjust="spacingAndGlyphs">Zonal average SO2 column (DU)</text>
<g clip-path="url(#cb)" shape-rendering="crispEdges"><g filter="url(#vb)"><rect x="60" y="282" width="394" height="295" fill="#440154"/><path fill="#460a5d" d="M59.9 495h11.6v2.7h-11.6zM71.1 397.5h11.6v17.7h-11.6zM71.1 495h11.6v2.7h-11.6zM82.4 505h11.6v2.7h-11.6zM93.6 432.5h11.6v2.7h-11.6zM127.4 395h11.6v2.7h-11.6zM138.6 387.5h11.6v2.7h-11.6zM138.6 510h11.6v17.7h-11.6zM149.9 380h11.6v2.7h-11.6zM149.9 500h11.6v2.7h-11.6zM149.9 537.5h11.6v2.7h-11.6zM161.2 500h11.6v2.7h-11.6zM172.4 505h11.6v2.7h-11.6zM172.4 527.5h11.6v2.7h-11.6zM183.7 375h11.6v2.7h-11.6zM194.9 382.5h11.6v2.7h-11.6zM206.2 535h11.6v2.7h-11.6zM217.4 350h11.6v2.7h-11.6zM217.4 527.5h11.6v2.7h-11.6zM240 350h11.6v2.7h-11.6zM240 545h11.6v28h-11.6zM251.2 345h11.6v2.7h-11.6zM262.5 337.5h11.6v2.7h-11.6zM273.7 505h11.6v2.7h-11.6zM285 342.5h11.6v2.7h-11.6zM285 530h11.6v2.7h-11.6zM296.2 332.5h11.6v2.7h-11.6zM296.2 512.5h11.6v2.7h-11.6zM296.2 527.5h11.6v2.7h-11.6zM307.5 515h11.6v2.7h-11.6zM318.8 337.5h11.6v2.7h-11.6zM318.8 535h11.6v2.7h-11.6zM330 545h11.6v2.7h-11.6zM341.3 330h11.6v2.7h-11.6zM341.3 545h11.6v2.7h-11.6zM352.5 335h11.6v2.7h-11.6zM352.5 512.5h11.6v2.7h-11.6zM352.5 552.5h11.6v2.7h-11.6zM363.8 320h11.6v2.7h-11.6zM363.8 507.5h11.6v2.7h-11.6zM375 320h11.6v2.7h-11.6zM375 552.5h11.6v2.7h-11.6zM386.3 317.5h11.6v2.7h-11.6zM397.6 540h11.6v2.7h-11.6zM397.6 555h11.6v18h-11.6zM408.8 320h11.6v2.7h-11.6zM420.1 325h11.6v2.7h-11.6z"/><path fill="#471365" d="M59.9 497.5h11.6v2.7h-11.6zM71.1 497.5h11.6v2.7h-11.6zM82.4 507.5h11.6v2.7h-11.6zM93.6 505h11.6v7.7h-11.6zM104.9 427.5h11.6v2.7h-11.6zM116.1 410h11.6v2.7h-11.6zM138.6 507.5h11.6v2.7h-11.6zM138.6 527.5h11.6v5.2h-11.6zM149.9 497.5h11.6v2.7h-11.6zM149.9 540h11.6v2.7h-11.6zM161.2 370h11.6v2.7h-11.6zM161.2 497.5h11.6v2.7h-11.6zM161.2 537.5h11.6v2.7h-11.6zM172.4 372.5h11.6v2.7h-11.6zM172.4 530h11.6v2.7h-11.6zM206.2 345h11.6v2.7h-11.6zM206.2 507.5h11.6v2.7h-11.6zM217.4 507.5h11.6v2.7h-11.6zM217.4 530h11.6v2.7h-11.6zM228.7 345h11.6v2.7h-11.6zM228.7 510h11.6v25.2h-11.6zM240 507.5h11.6v2.7h-11.6zM251.2 347.5h11.6v2.7h-11.6zM251.2 502.5h11.6v2.7h-11.6zM251.2 542.5h11.6v2.7h-11.6zM262.5 502.5h11.6v2.7h-11.6zM262.5 537.5h11.6v2.7h-11.6zM273.7 350h11.6v2.7h-11.6zM273.7 537.5h11.6v2.7h-11.6zM285 345h11.6v2.7h-11.6zM296.2 510h11.6v2.7h-11.6zM307.5 335h11.6v2.7h-11.6zM307.5 512.5h11.6v2.7h-11.6zM307.5 532.5h11.6v2.7h-11.6zM318.8 512.5h11.6v2.7h-11.6zM330 365h11.6v2.7h-11.6zM330 547.5h11.6v2.7h-11.6zM341.3 510h11.6v2.7h-11.6zM363.8 322.5h11.6v2.7h-11.6zM363.8 555h11.6v2.7h-11.6zM375 505h11.6v2.7h-11.6zM397.6 320h11.6v2.7h-11.6zM408.8 322.5h11.6v2.7h-11.6zM420.1 327.5h11.6v2.7h-11.6zM431.3 322.5h11.6v2.7h-11.6zM442.6 322.5h11.6v2.7h-11.6z"/><path fill="#482475" d="M59.9 500h11.6v5.2h-11.6zM71.1 500h11.6v5.2h-11.6zM93.6 497.5h11.6v2.7h-11.6zM93.6 515h11.6v2.7h-11.6zM104.9 430h11.6v2.7h-11.6zM104.9 507.5h11.6v2.7h-11.6zM116.1 412.5h11.6v2.7h-11.6zM127.4 517.5h11.6v5.2h-11.6zM127.4 525h11.6v5.2h-11.6zM138.6 392.5h11.6v2.7h-11.6zM138.6 505h11.6v2.7h-11.6zM138.6 535h11.6v5.2h-11.6zM149.9 385h11.6v2.7h-11.6zM149.9 547.5h11.6v2.7h-11.6zM172.4 375h11.6v2.7h-11.6zM172.4 500h11.6v2.7h-11.6zM183.7 380h11.6v2.7h-11.6zM183.7 527.5h11.6v2.7h-11.6zM194.9 507.5h11.6v2.7h-11.6zM194.9 537.5h11.6v2.7h-11.6zM206.2 350h11.6v2.7h-11.6zM206.2 505h11.6v2.7h-11.6zM206.2 537.5h11.6v2.7h-11.6zM217.4 532.5h11.6v2.7h-11.6zM228.7 350h11.6v2.7h-11.6zM251.2 352.5h11.6v32.7h-11.6zM262.5 342.5h11.6v2.7h-11.6zM262.5 540h11.6v2.7h-11.6zM273.7 355h11.6v2.7h-11.6zM273.7 502.5h11.6v2.7h-11.6zM285 367.5h11.6v7.7h-11.6zM285 532.5h11.6v2.7h-11.6zM296.2 337.5h11.6v2.7h-11.6zM296.2 530h11.6v2.7h-11.6zM307.5 337.5h11.6v5.2h-11.6zM307.5 510h11.6v2.7h-11.6zM307.5 535h11.6v2.7h-11.6zM318.8 342.5h11.6v2.7h-11.6zM330 367.5h11.6v2.7h-11.6zM341.3 550h11.6v2.7h-11.6zM352.5 367.5h11.6v2.7h-11.6zM352.5 510h11.6v2.7h-11.6zM352.5 557.5h11.6v2.7h-11.6zM363.8 325h11.6v2.7h-11.6zM363.8 505h11.6v2.7h-11.6zM363.8 557.5h11.6v2.7h-11.6zM375 345h11.6v2.7h-11.6zM375 502.5h11.6v2.7h-11.6zM386.3 545h11.6v2.7h-11.6zM397.6 322.5h11.6v5.2h-11.6zM408.8 332.5h11.6v2.7h-11.6zM408.8 527.5h11.6v2.7h-11.6zM408.8 555h11.6v5.2h-11.6zM420.1 330h11.6v2.7h-11.6zM420.1 530h11.6v2.7h-11.6zM431.3 340h11.6v2.7h-11.6z"/><path fill="#472d7b" d="M59.9 505h11.6v37.7h-11.6zM71.1 505h11.6v42.7h-11.6zM82.4 545h11.6v2.7h-11.6zM104.9 505h11.6v2.7h-11.6zM104.9 537.5h11.6v2.7h-11.6zM127.4 400h11.6v2.7h-11.6zM127.4 515h11.6v2.7h-11.6zM138.6 395h11.6v22.7h-11.6zM138.6 540h11.6v2.7h-11.6zM149.9 387.5h11.6v25.2h-11.6zM149.9 495h11.6v2.7h-11.6zM149.9 550h11.6v2.7h-11.6zM161.2 372.5h11.6v2.7h-11.6zM161.2 492.5h11.6v2.7h-11.6zM161.2 540h11.6v2.7h-11.6zM172.4 377.5h11.6v15.2h-11.6zM172.4 495h11.6v5.2h-11.6zM172.4 535h11.6v2.7h-11.6zM183.7 382.5h11.6v10.2h-11.6zM183.7 500h11.6v2.7h-11.6zM183.7 530h11.6v2.7h-11.6zM194.9 540h11.6v2.7h-11.6zM206.2 352.5h11.6v32.7h-11.6zM217.4 355h11.6v2.7h-11.6zM217.4 505h11.6v2.7h-11.6zM228.7 352.5h11.6v17.7h-11.6zM228.7 505h11.6v2.7h-11.6zM228.7 537.5h11.6v2.7h-11.6zM240 355h11.6v2.7h-11.6zM240 505h11.6v2.7h-11.6zM262.5 345h11.6v30.2h-11.6zM262.5 542.5h11.6v15.2h-11.6zM273.7 357.5h11.6v12.7h-11.6zM273.7 540h11.6v2.7h-11.6zM285 375h11.6v15.2h-11.6zM296.2 340h11.6v30.2h-11.6zM296.2 507.5h11.6v2.7h-11.6zM307.5 342.5h11.6v30.2h-11.6zM307.5 537.5h11.6v35.5h-11.6zM318.8 345h11.6v47.7h-11.6zM318.8 540h11.6v2.7h-11.6zM341.3 367.5h11.6v2.7h-11.6zM341.3 552.5h11.6v20.5h-11.6zM352.5 370h11.6v2.7h-11.6zM352.5 560h11.6v13h-11.6zM363.8 327.5h11.6v15.2h-11.6zM363.8 560h11.6v13h-11.6zM375 347.5h11.6v2.7h-11.6zM375 497.5h11.6v5.2h-11.6zM375 557.5h11.6v2.7h-11.6zM386.3 322.5h11.6v2.7h-11.6zM386.3 542.5h11.6v2.7h-11.6zM397.6 327.5h11.6v5.2h-11.6zM397.6 535h11.6v2.7h-11.6zM408.8 335h11.6v2.7h-11.6zM408.8 560h11.6v13h-11.6zM420.1 332.5h11.6v15.2h-11.6zM420.1 492.5h11.6v15.2h-11.6zM420.1 527.5h11.6v2.7h-11.6zM431.3 530h11.6v43h-11.6zM442.6 337.5h11.6v2.7h-11.6z"/><path fill="#463480" d="M59.9 542.5h11.6v30.5h-11.6zM71.1 547.5h11.6v2.7h-11.6zM93.6 437.5h11.6v2.7h-11.6zM93.6 495h11.6v2.7h-11.6zM93.6 517.5h11.6v25.2h-11.6zM104.9 432.5h11.6v72.7h-11.6zM116.1 415h11.6v25.2h-11.6zM127.4 402.5h11.6v12.7h-11.6zM127.4 530h11.6v2.7h-11.6zM138.6 542.5h11.6v30.5h-11.6zM149.9 552.5h11.6v20.5h-11.6zM161.2 375h11.6v15.2h-11.6zM172.4 492.5h11.6v2.7h-11.6zM172.4 537.5h11.6v2.7h-11.6zM194.9 505h11.6v2.7h-11.6zM194.9 542.5h11.6v30.5h-11.6zM217.4 357.5h11.6v12.7h-11.6zM217.4 535h11.6v38h-11.6zM228.7 540h11.6v33h-11.6zM240 357.5h11.6v12.7h-11.6zM251.2 385h11.6v2.7h-11.6zM262.5 375h11.6v2.7h-11.6zM273.7 370h11.6v2.7h-11.6zM296.2 370h11.6v2.7h-11.6zM296.2 532.5h11.6v40.5h-11.6zM307.5 372.5h11.6v17.7h-11.6zM318.8 510h11.6v2.7h-11.6zM318.8 542.5h11.6v30.5h-11.6zM330 370h11.6v12.7h-11.6zM352.5 372.5h11.6v12.7h-11.6zM363.8 342.5h11.6v25.2h-11.6zM375 350h11.6v17.7h-11.6zM375 560h11.6v13h-11.6zM386.3 325h11.6v20.2h-11.6zM386.3 497.5h11.6v45.2h-11.6zM397.6 332.5h11.6v2.7h-11.6zM397.6 495h11.6v40.2h-11.6zM408.8 337.5h11.6v20.2h-11.6zM408.8 492.5h11.6v35.2h-11.6zM420.1 490h11.6v2.7h-11.6zM420.1 507.5h11.6v20.2h-11.6zM431.3 527.5h11.6v2.7h-11.6z"/><path fill="#443b84" d="M71.1 550h11.6v2.7h-11.6zM82.4 547.5h11.6v2.7h-11.6zM93.6 492.5h11.6v2.7h-11.6zM93.6 542.5h11.6v2.7h-11.6zM104.9 540h11.6v2.7h-11.6zM116.1 530h11.6v7.7h-11.6zM127.4 512.5h11.6v2.7h-11.6zM138.6 417.5h11.6v2.7h-11.6zM149.9 492.5h11.6v2.7h-11.6zM161.2 390h11.6v2.7h-11.6zM161.2 542.5h11.6v2.7h-11.6zM183.7 497.5h11.6v2.7h-11.6zM183.7 532.5h11.6v2.7h-11.6zM194.9 387.5h11.6v2.7h-11.6zM206.2 385h11.6v2.7h-11.6zM206.2 540h11.6v2.7h-11.6zM228.7 370h11.6v2.7h-11.6zM228.7 502.5h11.6v2.7h-11.6zM262.5 500h11.6v2.7h-11.6zM262.5 557.5h11.6v2.7h-11.6zM273.7 542.5h11.6v2.7h-11.6zM285 390h11.6v2.7h-11.6zM285 502.5h11.6v2.7h-11.6zM285 535h11.6v2.7h-11.6zM307.5 390h11.6v2.7h-11.6zM330 507.5h11.6v2.7h-11.6zM341.3 370h11.6v2.7h-11.6zM352.5 507.5h11.6v2.7h-11.6zM363.8 367.5h11.6v2.7h-11.6zM363.8 502.5h11.6v2.7h-11.6zM375 367.5h11.6v2.7h-11.6zM375 495h11.6v2.7h-11.6zM386.3 345h11.6v2.7h-11.6zM386.3 495h11.6v2.7h-11.6zM420.1 347.5h11.6v2.7h-11.6zM431.3 342.5h11.6v2.7h-11.6z"/><path fill="#414487" d="M71.1 552.5h11.6v20.5h-11.6zM93.6 440h11.6v52.7h-11.6zM93.6 545h11.6v2.7h-11.6zM116.1 440h11.6v2.7h-11.6zM116.1 497.5h11.6v32.7h-11.6zM116.1 537.5h11.6v2.7h-11.6zM127.4 415h11.6v2.7h-11.6zM127.4 497.5h11.6v15.2h-11.6zM127.4 532.5h11.6v2.7h-11.6zM138.6 502.5h11.6v2.7h-11.6zM161.2 490h11.6v2.7h-11.6zM161.2 545h11.6v28h-11.6zM172.4 392.5h11.6v2.7h-11.6zM172.4 490h11.6v2.7h-11.6zM172.4 540h11.6v33h-11.6zM183.7 392.5h11.6v2.7h-11.6zM183.7 535h11.6v38h-11.6zM194.9 502.5h11.6v2.7h-11.6zM206.2 502.5h11.6v2.7h-11.6zM206.2 542.5h11.6v30.5h-11.6zM251.2 500h11.6v2.7h-11.6zM262.5 560h11.6v13h-11.6zM273.7 372.5h11.6v17.7h-11.6zM273.7 545h11.6v28h-11.6zM285 537.5h11.6v35.5h-11.6zM296.2 372.5h11.6v17.7h-11.6zM341.3 372.5h11.6v7.7h-11.6zM341.3 507.5h11.6v2.7h-11.6zM352.5 385h11.6v2.7h-11.6zM352.5 500h11.6v7.7h-11.6zM386.3 347.5h11.6v2.7h-11.6zM397.6 492.5h11.6v2.7h-11.6zM408.8 357.5h11.6v2.7h-11.6zM408.8 490h11.6v2.7h-11.6zM420.1 350h11.6v17.7h-11.6zM431.3 490h11.6v37.7h-11.6zM442.6 340h11.6v2.7h-11.6z"/><path fill="#481c6e" d="M82.4 510h11.6v35.2h-11.6zM93.6 435h11.6v2.7h-11.6zM93.6 500h11.6v5.2h-11.6zM93.6 512.5h11.6v2.7h-11.6zM104.9 510h11.6v27.7h-11.6zM127.4 397.5h11.6v2.7h-11.6zM127.4 522.5h11.6v2.7h-11.6zM138.6 390h11.6v2.7h-11.6zM138.6 532.5h11.6v2.7h-11.6zM149.9 382.5h11.6v2.7h-11.6zM149.9 542.5h11.6v5.2h-11.6zM161.2 495h11.6v2.7h-11.6zM172.4 502.5h11.6v2.7h-11.6zM172.4 532.5h11.6v2.7h-11.6zM183.7 377.5h11.6v2.7h-11.6zM183.7 502.5h11.6v25.2h-11.6zM194.9 385h11.6v2.7h-11.6zM194.9 510h11.6v27.7h-11.6zM206.2 347.5h11.6v2.7h-11.6zM217.4 352.5h11.6v2.7h-11.6zM228.7 347.5h11.6v2.7h-11.6zM228.7 507.5h11.6v2.7h-11.6zM228.7 535h11.6v2.7h-11.6zM240 352.5h11.6v2.7h-11.6zM251.2 350h11.6v2.7h-11.6zM251.2 545h11.6v28h-11.6zM262.5 340h11.6v2.7h-11.6zM273.7 352.5h11.6v2.7h-11.6zM285 347.5h11.6v20.2h-11.6zM285 505h11.6v2.7h-11.6zM296.2 335h11.6v2.7h-11.6zM318.8 340h11.6v2.7h-11.6zM318.8 537.5h11.6v2.7h-11.6zM330 510h11.6v2.7h-11.6zM330 550h11.6v23h-11.6zM341.3 332.5h11.6v35.2h-11.6zM341.3 547.5h11.6v2.7h-11.6zM352.5 337.5h11.6v30.2h-11.6zM352.5 555h11.6v2.7h-11.6zM375 322.5h11.6v22.7h-11.6zM375 555h11.6v2.7h-11.6zM386.3 320h11.6v2.7h-11.6zM386.3 547.5h11.6v25.5h-11.6zM397.6 537.5h11.6v2.7h-11.6zM408.8 325h11.6v7.7h-11.6zM408.8 530h11.6v25.2h-11.6zM420.1 532.5h11.6v40.5h-11.6zM431.3 325h11.6v15.2h-11.6zM442.6 325h11.6v12.7h-11.6z"/><path fill="#3b528b" d="M82.4 550h11.6v2.7h-11.6zM127.4 495h11.6v2.7h-11.6zM127.4 535h11.6v38h-11.6zM161.2 487.5h11.6v2.7h-11.6zM194.9 392.5h11.6v5.2h-11.6zM194.9 500h11.6v2.7h-11.6zM206.2 390h11.6v5.2h-11.6zM262.5 380h11.6v12.7h-11.6zM296.2 435h11.6v10.2h-11.6zM296.2 505h11.6v2.7h-11.6zM307.5 392.5h11.6v2.7h-11.6zM352.5 497.5h11.6v2.7h-11.6zM363.8 492.5h11.6v7.7h-11.6zM386.3 350h11.6v17.7h-11.6zM397.6 337.5h11.6v30.2h-11.6zM420.1 487.5h11.6v2.7h-11.6zM431.3 345h11.6v15.2h-11.6zM442.6 342.5h11.6v15.2h-11.6zM442.6 487.5h11.6v40.2h-11.6z"/><path fill="#355f8d" d="M82.4 552.5h11.6v2.7h-11.6zM116.1 492.5h11.6v2.7h-11.6zM138.6 487.5h11.6v12.7h-11.6zM149.9 415h11.6v2.7h-11.6zM172.4 395h11.6v2.7h-11.6zM183.7 395h11.6v2.7h-11.6zM194.9 397.5h11.6v2.7h-11.6zM206.2 395h11.6v2.7h-11.6zM228.7 372.5h11.6v2.7h-11.6zM251.2 387.5h11.6v2.7h-11.6zM341.3 382.5h11.6v2.7h-11.6zM363.8 375h11.6v10.2h-11.6zM375 492.5h11.6v2.7h-11.6zM397.6 490h11.6v2.7h-11.6zM408.8 360h11.6v2.7h-11.6zM408.8 487.5h11.6v2.7h-11.6zM420.1 370h11.6v2.7h-11.6zM431.3 362.5h11.6v2.7h-11.6zM431.3 485h11.6v2.7h-11.6zM442.6 530h11.6v43h-11.6z"/><path fill="#2f6c8e" d="M82.4 555h11.6v18h-11.6zM93.6 555h11.6v18h-11.6zM104.9 547.5h11.6v2.7h-11.6zM127.4 492.5h11.6v2.7h-11.6zM138.6 420h11.6v2.7h-11.6zM138.6 482.5h11.6v2.7h-11.6zM149.9 417.5h11.6v5.2h-11.6zM161.2 395h11.6v2.7h-11.6zM172.4 397.5h11.6v2.7h-11.6zM183.7 397.5h11.6v7.7h-11.6zM194.9 497.5h11.6v2.7h-11.6zM217.4 372.5h11.6v2.7h-11.6zM228.7 375h11.6v20.2h-11.6zM240 372.5h11.6v2.7h-11.6zM273.7 497.5h11.6v2.7h-11.6zM296.2 395h11.6v2.7h-11.6zM363.8 385h11.6v2.7h-11.6zM408.8 362.5h11.6v7.7h-11.6zM431.3 365h11.6v25.2h-11.6zM442.6 362.5h11.6v5.2h-11.6zM442.6 482.5h11.6v2.7h-11.6z"/><path fill="#3e4a89" d="M93.6 547.5h11.6v2.7h-11.6zM104.9 542.5h11.6v2.7h-11.6zM116.1 495h11.6v2.7h-11.6zM149.9 412.5h11.6v2.7h-11.6zM161.2 392.5h11.6v2.7h-11.6zM194.9 390h11.6v2.7h-11.6zM206.2 387.5h11.6v2.7h-11.6zM217.4 370h11.6v2.7h-11.6zM217.4 502.5h11.6v2.7h-11.6zM240 370h11.6v2.7h-11.6zM240 502.5h11.6v2.7h-11.6zM262.5 377.5h11.6v2.7h-11.6zM273.7 390h11.6v2.7h-11.6zM273.7 500h11.6v2.7h-11.6zM296.2 390h11.6v2.7h-11.6zM307.5 507.5h11.6v2.7h-11.6zM318.8 392.5h11.6v2.7h-11.6zM330 382.5h11.6v2.7h-11.6zM341.3 380h11.6v2.7h-11.6zM363.8 370h11.6v2.7h-11.6zM363.8 500h11.6v2.7h-11.6zM386.3 492.5h11.6v2.7h-11.6zM397.6 335h11.6v2.7h-11.6zM420.1 367.5h11.6v2.7h-11.6zM431.3 487.5h11.6v2.7h-11.6z"/><path fill="#38598c" d="M93.6 550h11.6v2.7h-11.6zM104.9 545h11.6v2.7h-11.6zM116.1 442.5h11.6v2.7h-11.6zM116.1 540h11.6v2.7h-11.6zM138.6 500h11.6v2.7h-11.6zM149.9 490h11.6v2.7h-11.6zM172.4 487.5h11.6v2.7h-11.6zM183.7 495h11.6v2.7h-11.6zM228.7 500h11.6v2.7h-11.6zM273.7 392.5h11.6v2.7h-11.6zM285 392.5h11.6v2.7h-11.6zM296.2 392.5h11.6v2.7h-11.6zM296.2 432.5h11.6v2.7h-11.6zM296.2 445h11.6v2.7h-11.6zM318.8 507.5h11.6v2.7h-11.6zM363.8 372.5h11.6v2.7h-11.6zM363.8 490h11.6v2.7h-11.6zM375 370h11.6v2.7h-11.6zM386.3 367.5h11.6v2.7h-11.6zM397.6 367.5h11.6v2.7h-11.6zM431.3 360h11.6v2.7h-11.6zM442.6 357.5h11.6v2.7h-11.6zM442.6 485h11.6v2.7h-11.6zM442.6 527.5h11.6v2.7h-11.6z"/><path fill="#31668e" d="M93.6 552.5h11.6v2.7h-11.6zM116.1 542.5h11.6v2.7h-11.6zM127.4 417.5h11.6v2.7h-11.6zM138.6 485h11.6v2.7h-11.6zM161.2 485h11.6v2.7h-11.6zM206.2 500h11.6v2.7h-11.6zM217.4 500h11.6v2.7h-11.6zM240 500h11.6v2.7h-11.6zM262.5 392.5h11.6v2.7h-11.6zM262.5 497.5h11.6v2.7h-11.6zM285 500h11.6v2.7h-11.6zM330 505h11.6v2.7h-11.6zM352.5 387.5h11.6v2.7h-11.6zM352.5 495h11.6v2.7h-11.6zM386.3 370h11.6v2.7h-11.6zM386.3 490h11.6v2.7h-11.6zM397.6 370h11.6v2.7h-11.6zM442.6 360h11.6v2.7h-11.6z"/><path fill="#2c728e" d="M104.9 550h11.6v2.7h-11.6zM116.1 445h11.6v2.7h-11.6zM116.1 490h11.6v2.7h-11.6zM116.1 545h11.6v2.7h-11.6zM172.4 400h11.6v2.7h-11.6zM172.4 485h11.6v2.7h-11.6zM183.7 492.5h11.6v2.7h-11.6zM251.2 497.5h11.6v2.7h-11.6zM285 395h11.6v2.7h-11.6zM296.2 430h11.6v2.7h-11.6zM296.2 447.5h11.6v2.7h-11.6zM307.5 395h11.6v2.7h-11.6zM307.5 505h11.6v2.7h-11.6zM318.8 395h11.6v2.7h-11.6zM330 385h11.6v2.7h-11.6zM363.8 487.5h11.6v2.7h-11.6zM420.1 372.5h11.6v2.7h-11.6zM420.1 485h11.6v2.7h-11.6zM442.6 367.5h11.6v2.7h-11.6z"/><path fill="#2a788e" d="M104.9 552.5h11.6v20.5h-11.6zM116.1 447.5h11.6v42.7h-11.6zM149.9 487.5h11.6v2.7h-11.6zM161.2 397.5h11.6v7.7h-11.6zM217.4 375h11.6v15.2h-11.6zM228.7 395h11.6v2.7h-11.6zM228.7 497.5h11.6v2.7h-11.6zM240 375h11.6v20.2h-11.6zM251.2 390h11.6v2.7h-11.6zM262.5 395h11.6v2.7h-11.6zM273.7 395h11.6v2.7h-11.6zM285 397.5h11.6v42.7h-11.6zM296.2 397.5h11.6v10.2h-11.6zM296.2 502.5h11.6v2.7h-11.6zM318.8 505h11.6v2.7h-11.6zM341.3 385h11.6v2.7h-11.6zM341.3 505h11.6v2.7h-11.6zM375 372.5h11.6v2.7h-11.6zM375 490h11.6v2.7h-11.6zM386.3 480h11.6v10.2h-11.6zM408.8 370h11.6v2.7h-11.6zM420.1 375h11.6v15.2h-11.6zM431.3 482.5h11.6v2.7h-11.6zM442.6 370h11.6v2.7h-11.6z"/><path fill="#277e8e" d="M116.1 547.5h11.6v2.7h-11.6zM127.4 420h11.6v2.7h-11.6zM127.4 490h11.6v2.7h-11.6zM138.6 480h11.6v2.7h-11.6zM149.9 422.5h11.6v2.7h-11.6zM161.2 482.5h11.6v2.7h-11.6zM183.7 405h11.6v2.7h-11.6zM194.9 400h11.6v2.7h-11.6zM206.2 397.5h11.6v2.7h-11.6zM206.2 497.5h11.6v2.7h-11.6zM217.4 390h11.6v2.7h-11.6zM217.4 497.5h11.6v2.7h-11.6zM240 497.5h11.6v2.7h-11.6zM251.2 392.5h11.6v5.2h-11.6zM262.5 495h11.6v2.7h-11.6zM273.7 495h11.6v2.7h-11.6zM285 440h11.6v2.7h-11.6zM285 497.5h11.6v2.7h-11.6zM296.2 407.5h11.6v2.7h-11.6zM330 502.5h11.6v2.7h-11.6zM352.5 390h11.6v2.7h-11.6zM352.5 492.5h11.6v2.7h-11.6zM386.3 372.5h11.6v2.7h-11.6zM386.3 477.5h11.6v2.7h-11.6zM397.6 372.5h11.6v2.7h-11.6zM397.6 487.5h11.6v2.7h-11.6zM408.8 372.5h11.6v2.7h-11.6zM408.8 485h11.6v2.7h-11.6zM431.3 390h11.6v2.7h-11.6zM442.6 480h11.6v2.7h-11.6z"/><path fill="#25848e" d="M116.1 550h11.6v23h-11.6zM127.4 480h11.6v10.2h-11.6zM161.2 442.5h11.6v12.7h-11.6zM183.7 490h11.6v2.7h-11.6zM194.9 495h11.6v2.7h-11.6zM206.2 495h11.6v2.7h-11.6zM217.4 495h11.6v2.7h-11.6zM240 395h11.6v2.7h-11.6zM240 492.5h11.6v5.2h-11.6zM251.2 420h11.6v22.7h-11.6zM251.2 492.5h11.6v5.2h-11.6zM262.5 397.5h11.6v7.7h-11.6zM262.5 490h11.6v5.2h-11.6zM273.7 397.5h11.6v10.2h-11.6zM273.7 490h11.6v5.2h-11.6zM285 487.5h11.6v10.2h-11.6zM307.5 397.5h11.6v7.7h-11.6zM307.5 482.5h11.6v22.7h-11.6zM318.8 397.5h11.6v5.2h-11.6zM318.8 480h11.6v25.2h-11.6zM330 387.5h11.6v12.7h-11.6zM330 427.5h11.6v22.7h-11.6zM330 477.5h11.6v25.2h-11.6zM341.3 387.5h11.6v10.2h-11.6zM352.5 392.5h11.6v2.7h-11.6zM352.5 465h11.6v27.7h-11.6zM363.8 387.5h11.6v2.7h-11.6zM375 375h11.6v12.7h-11.6zM375 480h11.6v10.2h-11.6zM386.3 375h11.6v10.2h-11.6zM397.6 375h11.6v12.7h-11.6zM397.6 422.5h11.6v15.2h-11.6zM397.6 480h11.6v7.7h-11.6zM408.8 375h11.6v10.2h-11.6zM408.8 480h11.6v5.2h-11.6zM420.1 477.5h11.6v7.7h-11.6zM431.3 477.5h11.6v5.2h-11.6zM442.6 372.5h11.6v17.7h-11.6zM442.6 470h11.6v10.2h-11.6z"/><path fill="#238a8d" d="M127.4 422.5h11.6v2.7h-11.6zM161.2 405h11.6v2.7h-11.6zM172.4 402.5h11.6v2.7h-11.6zM172.4 482.5h11.6v2.7h-11.6zM217.4 492.5h11.6v2.7h-11.6zM251.2 397.5h11.6v2.7h-11.6zM251.2 417.5h11.6v2.7h-11.6zM262.5 405h11.6v2.7h-11.6zM273.7 407.5h11.6v2.7h-11.6zM273.7 487.5h11.6v2.7h-11.6zM296.2 450h11.6v2.7h-11.6zM296.2 500h11.6v2.7h-11.6zM318.8 477.5h11.6v2.7h-11.6zM330 450h11.6v2.7h-11.6zM341.3 397.5h11.6v2.7h-11.6zM352.5 395h11.6v2.7h-11.6zM363.8 485h11.6v2.7h-11.6zM375 387.5h11.6v2.7h-11.6zM375 477.5h11.6v2.7h-11.6zM397.6 387.5h11.6v2.7h-11.6zM397.6 420h11.6v2.7h-11.6zM397.6 437.5h11.6v2.7h-11.6zM397.6 477.5h11.6v2.7h-11.6zM408.8 477.5h11.6v2.7h-11.6zM420.1 390h11.6v2.7h-11.6zM442.6 390h11.6v2.7h-11.6z"/><path fill="#22a884" d="M127.4 425h11.6v2.7h-11.6zM149.9 425h11.6v2.7h-11.6zM183.7 480h11.6v2.7h-11.6zM194.9 412.5h11.6v7.7h-11.6zM194.9 460h11.6v2.7h-11.6zM194.9 477.5h11.6v2.7h-11.6zM206.2 490h11.6v2.7h-11.6zM217.4 425h11.6v32.7h-11.6zM228.7 495h11.6v2.7h-11.6zM240 397.5h11.6v2.7h-11.6zM262.5 442.5h11.6v2.7h-11.6zM273.7 445h11.6v2.7h-11.6zM273.7 485h11.6v2.7h-11.6zM296.2 415h11.6v10.2h-11.6zM296.2 455h11.6v2.7h-11.6zM330 405h11.6v17.7h-11.6zM341.3 405h11.6v17.7h-11.6zM352.5 460h11.6v2.7h-11.6zM375 390h11.6v2.7h-11.6zM375 442.5h11.6v2.7h-11.6zM386.3 390h11.6v5.2h-11.6zM386.3 440h11.6v2.7h-11.6zM386.3 452.5h11.6v2.7h-11.6zM397.6 392.5h11.6v5.2h-11.6zM397.6 475h11.6v2.7h-11.6zM431.3 425h11.6v12.7h-11.6zM431.3 472.5h11.6v2.7h-11.6zM442.6 420h11.6v2.7h-11.6zM442.6 442.5h11.6v22.7h-11.6z"/><path fill="#6ccd5a" d="M127.4 427.5h11.6v2.7h-11.6zM127.4 472.5h11.6v2.7h-11.6zM138.6 425h11.6v2.7h-11.6zM138.6 472.5h11.6v2.7h-11.6zM149.9 427.5h11.6v2.7h-11.6zM149.9 472.5h11.6v2.7h-11.6zM172.4 477.5h11.6v2.7h-11.6zM183.7 410h11.6v2.7h-11.6zM217.4 465h11.6v20.2h-11.6zM273.7 417.5h11.6v10.2h-11.6zM318.8 460h11.6v10.2h-11.6zM352.5 445h11.6v12.7h-11.6zM375 392.5h11.6v2.7h-11.6zM397.6 460h11.6v2.7h-11.6zM408.8 400h11.6v2.7h-11.6zM420.1 400h11.6v2.7h-11.6zM431.3 440h11.6v2.7h-11.6z"/><path fill="#8bd646" d="M127.4 430h11.6v42.7h-11.6zM149.9 430h11.6v42.7h-11.6zM161.2 435h11.6v2.7h-11.6zM161.2 462.5h11.6v12.7h-11.6zM183.7 412.5h11.6v15.2h-11.6zM183.7 460h11.6v15.2h-11.6zM206.2 465h11.6v2.7h-11.6zM217.4 420h11.6v2.7h-11.6zM228.7 462.5h11.6v2.7h-11.6zM228.7 492.5h11.6v2.7h-11.6zM296.2 477.5h11.6v2.7h-11.6zM307.5 412.5h11.6v12.7h-11.6zM318.8 407.5h11.6v2.7h-11.6zM363.8 397.5h11.6v2.7h-11.6zM386.3 397.5h11.6v2.7h-11.6zM386.3 415h11.6v2.7h-11.6zM397.6 402.5h11.6v10.2h-11.6zM397.6 462.5h11.6v10.2h-11.6zM420.1 425h11.6v32.7h-11.6zM431.3 405h11.6v12.7h-11.6zM431.3 462.5h11.6v2.7h-11.6z"/><path fill="#2fb47c" d="M127.4 475h11.6v2.7h-11.6zM161.2 457.5h11.6v2.7h-11.6zM206.2 487.5h11.6v2.7h-11.6zM217.4 487.5h11.6v2.7h-11.6zM251.2 402.5h11.6v2.7h-11.6zM251.2 410h11.6v2.7h-11.6zM318.8 405h11.6v2.7h-11.6zM318.8 472.5h11.6v2.7h-11.6zM330 455h11.6v2.7h-11.6zM352.5 440h11.6v2.7h-11.6zM375 425h11.6v2.7h-11.6zM386.3 442.5h11.6v2.7h-11.6zM386.3 450h11.6v2.7h-11.6zM386.3 462.5h11.6v2.7h-11.6zM397.6 397.5h11.6v2.7h-11.6zM408.8 387.5h11.6v2.7h-11.6zM420.1 472.5h11.6v2.7h-11.6zM431.3 422.5h11.6v2.7h-11.6zM431.3 437.5h11.6v2.7h-11.6zM442.6 417.5h11.6v2.7h-11.6z"/><path fill="#21918c" d="M127.4 477.5h11.6v2.7h-11.6zM149.9 485h11.6v2.7h-11.6zM161.2 440h11.6v2.7h-11.6zM161.2 455h11.6v2.7h-11.6zM183.7 485h11.6v5.2h-11.6zM194.9 402.5h11.6v5.2h-11.6zM194.9 422.5h11.6v35.2h-11.6zM206.2 492.5h11.6v2.7h-11.6zM217.4 392.5h11.6v2.7h-11.6zM240 490h11.6v2.7h-11.6zM251.2 442.5h11.6v2.7h-11.6zM251.2 490h11.6v2.7h-11.6zM262.5 407.5h11.6v2.7h-11.6zM285 442.5h11.6v2.7h-11.6zM285 485h11.6v2.7h-11.6zM296.2 410h11.6v2.7h-11.6zM296.2 427.5h11.6v2.7h-11.6zM296.2 485h11.6v15.2h-11.6zM307.5 405h11.6v2.7h-11.6zM307.5 432.5h11.6v20.2h-11.6zM307.5 480h11.6v2.7h-11.6zM318.8 402.5h11.6v2.7h-11.6zM330 400h11.6v2.7h-11.6zM330 425h11.6v2.7h-11.6zM330 475h11.6v2.7h-11.6zM341.3 427.5h11.6v22.7h-11.6zM341.3 477.5h11.6v27.7h-11.6zM352.5 462.5h11.6v2.7h-11.6zM363.8 465h11.6v20.2h-11.6zM386.3 385h11.6v2.7h-11.6zM386.3 455h11.6v5.2h-11.6zM431.3 475h11.6v2.7h-11.6zM442.6 425h11.6v12.7h-11.6zM442.6 467.5h11.6v2.7h-11.6z"/><path fill="#1e9c89" d="M138.6 422.5h11.6v2.7h-11.6zM149.9 480h11.6v5.2h-11.6zM161.2 480h11.6v2.7h-11.6zM194.9 420h11.6v2.7h-11.6zM194.9 480h11.6v12.7h-11.6zM206.2 402.5h11.6v5.2h-11.6zM217.4 490h11.6v2.7h-11.6zM228.7 430h11.6v27.7h-11.6zM251.2 400h11.6v2.7h-11.6zM251.2 415h11.6v2.7h-11.6zM262.5 410h11.6v32.7h-11.6zM273.7 410h11.6v2.7h-11.6zM273.7 435h11.6v10.2h-11.6zM285 445h11.6v5.2h-11.6zM296.2 452.5h11.6v2.7h-11.6zM307.5 452.5h11.6v2.7h-11.6zM318.8 435h11.6v17.7h-11.6zM330 452.5h11.6v2.7h-11.6zM341.3 475h11.6v2.7h-11.6zM352.5 432.5h11.6v5.2h-11.6zM363.8 390h11.6v5.2h-11.6zM363.8 462.5h11.6v2.7h-11.6zM375 430h11.6v12.7h-11.6zM386.3 422.5h11.6v15.2h-11.6zM408.8 475h11.6v2.7h-11.6zM442.6 395h11.6v10.2h-11.6z"/><path fill="#dfe318" d="M138.6 427.5h11.6v2.7h-11.6zM172.4 460h11.6v2.7h-11.6zM183.7 455h11.6v2.7h-11.6zM217.4 417.5h11.6v2.7h-11.6zM228.7 405h11.6v2.7h-11.6zM228.7 422.5h11.6v2.7h-11.6zM228.7 465h11.6v2.7h-11.6zM228.7 490h11.6v2.7h-11.6zM240 402.5h11.6v2.7h-11.6zM240 415h11.6v2.7h-11.6zM273.7 480h11.6v2.7h-11.6zM296.2 475h11.6v2.7h-11.6zM307.5 472.5h11.6v2.7h-11.6zM363.8 427.5h11.6v2.7h-11.6zM408.8 415h11.6v2.7h-11.6zM420.1 405h11.6v12.7h-11.6z"/><path fill="#fde725" d="M138.6 430h11.6v37.7h-11.6zM172.4 410h11.6v47.7h-11.6zM183.7 435h11.6v20.2h-11.6zM217.4 402.5h11.6v15.2h-11.6zM228.7 407.5h11.6v15.2h-11.6zM228.7 467.5h11.6v22.7h-11.6zM240 405h11.6v10.2h-11.6zM240 455h11.6v27.7h-11.6zM251.2 452.5h11.6v30.2h-11.6zM262.5 452.5h11.6v30.2h-11.6zM273.7 455h11.6v25.2h-11.6zM285 455h11.6v22.7h-11.6zM296.2 462.5h11.6v12.7h-11.6zM307.5 462.5h11.6v10.2h-11.6zM352.5 402.5h11.6v20.2h-11.6zM363.8 402.5h11.6v25.2h-11.6zM408.8 407.5h11.6v7.7h-11.6z"/><path fill="#efe51c" d="M138.6 467.5h11.6v2.7h-11.6zM172.4 457.5h11.6v2.7h-11.6zM183.7 432.5h11.6v2.7h-11.6zM217.4 400h11.6v2.7h-11.6zM240 452.5h11.6v2.7h-11.6zM240 482.5h11.6v2.7h-11.6zM251.2 450h11.6v2.7h-11.6zM251.2 482.5h11.6v2.7h-11.6zM262.5 450h11.6v2.7h-11.6zM273.7 452.5h11.6v2.7h-11.6zM285 477.5h11.6v2.7h-11.6zM307.5 460h11.6v2.7h-11.6zM352.5 422.5h11.6v2.7h-11.6zM363.8 400h11.6v2.7h-11.6zM408.8 405h11.6v2.7h-11.6z"/><path fill="#cde11d" d="M138.6 470h11.6v2.7h-11.6zM172.4 407.5h11.6v2.7h-11.6zM262.5 482.5h11.6v2.7h-11.6zM296.2 460h11.6v2.7h-11.6zM420.1 417.5h11.6v2.7h-11.6z"/><path fill="#28ae80" d="M138.6 475h11.6v2.7h-11.6zM172.4 480h11.6v2.7h-11.6zM183.7 407.5h11.6v2.7h-11.6zM206.2 410h11.6v2.7h-11.6zM217.4 457.5h11.6v2.7h-11.6zM228.7 427.5h11.6v2.7h-11.6zM251.2 412.5h11.6v2.7h-11.6zM296.2 480h11.6v2.7h-11.6zM307.5 477.5h11.6v2.7h-11.6zM318.8 430h11.6v2.7h-11.6zM341.3 472.5h11.6v2.7h-11.6zM352.5 397.5h11.6v2.7h-11.6zM363.8 395h11.6v2.7h-11.6zM363.8 460h11.6v2.7h-11.6zM375 472.5h11.6v2.7h-11.6zM386.3 472.5h11.6v2.7h-11.6zM397.6 442.5h11.6v2.7h-11.6zM420.1 392.5h11.6v2.7h-11.6zM442.6 407.5h11.6v2.7h-11.6z"/><path fill="#1f968b" d="M138.6 477.5h11.6v2.7h-11.6zM183.7 482.5h11.6v2.7h-11.6zM194.9 407.5h11.6v2.7h-11.6zM194.9 457.5h11.6v2.7h-11.6zM194.9 492.5h11.6v2.7h-11.6zM206.2 400h11.6v2.7h-11.6zM228.7 397.5h11.6v2.7h-11.6zM262.5 487.5h11.6v2.7h-11.6zM296.2 482.5h11.6v2.7h-11.6zM318.8 475h11.6v2.7h-11.6zM341.3 400h11.6v2.7h-11.6zM341.3 425h11.6v2.7h-11.6zM341.3 450h11.6v2.7h-11.6zM375 475h11.6v2.7h-11.6zM386.3 475h11.6v2.7h-11.6zM397.6 440h11.6v2.7h-11.6zM408.8 385h11.6v2.7h-11.6zM420.1 475h11.6v2.7h-11.6zM442.6 392.5h11.6v2.7h-11.6zM442.6 422.5h11.6v2.7h-11.6zM442.6 437.5h11.6v2.7h-11.6z"/><path fill="#38b977" d="M149.9 475h11.6v2.7h-11.6zM161.2 407.5h11.6v2.7h-11.6zM161.2 437.5h11.6v2.7h-11.6zM194.9 475h11.6v2.7h-11.6zM206.2 412.5h11.6v47.7h-11.6zM206.2 485h11.6v2.7h-11.6zM217.4 395h11.6v2.7h-11.6zM217.4 422.5h11.6v2.7h-11.6zM217.4 460h11.6v2.7h-11.6zM228.7 460h11.6v2.7h-11.6zM240 422.5h11.6v25.2h-11.6zM240 487.5h11.6v2.7h-11.6zM251.2 405h11.6v5.2h-11.6zM251.2 445h11.6v2.7h-11.6zM251.2 487.5h11.6v2.7h-11.6zM273.7 412.5h11.6v2.7h-11.6zM273.7 430h11.6v2.7h-11.6zM285 450h11.6v2.7h-11.6zM285 482.5h11.6v2.7h-11.6zM307.5 407.5h11.6v2.7h-11.6zM318.8 455h11.6v2.7h-11.6zM330 470h11.6v2.7h-11.6zM341.3 455h11.6v2.7h-11.6zM341.3 470h11.6v2.7h-11.6zM375 445h11.6v2.7h-11.6zM375 462.5h11.6v10.2h-11.6zM386.3 395h11.6v2.7h-11.6zM386.3 445h11.6v5.2h-11.6zM386.3 465h11.6v7.7h-11.6zM397.6 445h11.6v12.7h-11.6zM408.8 422.5h11.6v17.7h-11.6zM408.8 472.5h11.6v2.7h-11.6zM431.3 395h11.6v5.2h-11.6zM431.3 467.5h11.6v5.2h-11.6zM442.6 410h11.6v7.7h-11.6z"/><path fill="#1fa287" d="M149.9 477.5h11.6v2.7h-11.6zM194.9 410h11.6v2.7h-11.6zM206.2 407.5h11.6v2.7h-11.6zM228.7 457.5h11.6v2.7h-11.6zM273.7 432.5h11.6v2.7h-11.6zM296.2 412.5h11.6v2.7h-11.6zM296.2 425h11.6v2.7h-11.6zM307.5 430h11.6v2.7h-11.6zM318.8 432.5h11.6v2.7h-11.6zM318.8 452.5h11.6v2.7h-11.6zM330 402.5h11.6v2.7h-11.6zM330 422.5h11.6v2.7h-11.6zM330 472.5h11.6v2.7h-11.6zM341.3 402.5h11.6v2.7h-11.6zM341.3 422.5h11.6v2.7h-11.6zM341.3 452.5h11.6v2.7h-11.6zM352.5 430h11.6v2.7h-11.6zM352.5 437.5h11.6v2.7h-11.6zM375 427.5h11.6v2.7h-11.6zM386.3 387.5h11.6v2.7h-11.6zM386.3 420h11.6v2.7h-11.6zM386.3 437.5h11.6v2.7h-11.6zM386.3 460h11.6v2.7h-11.6zM397.6 390h11.6v2.7h-11.6zM397.6 417.5h11.6v2.7h-11.6zM431.3 392.5h11.6v2.7h-11.6zM442.6 405h11.6v2.7h-11.6zM442.6 440h11.6v2.7h-11.6zM442.6 465h11.6v2.7h-11.6z"/><path fill="#9bd93c" d="M161.2 410h11.6v2.7h-11.6zM172.4 475h11.6v2.7h-11.6zM183.7 427.5h11.6v2.7h-11.6zM251.2 447.5h11.6v2.7h-11.6zM318.8 425h11.6v2.7h-11.6zM352.5 425h11.6v2.7h-11.6zM363.8 430h11.6v2.7h-11.6zM420.1 422.5h11.6v2.7h-11.6zM431.3 442.5h11.6v2.7h-11.6z"/><path fill="#addc30" d="M161.2 412.5h11.6v22.7h-11.6zM172.4 465h11.6v10.2h-11.6zM183.7 457.5h11.6v2.7h-11.6zM206.2 477.5h11.6v2.7h-11.6zM217.4 397.5h11.6v2.7h-11.6zM228.7 402.5h11.6v2.7h-11.6zM240 450h11.6v2.7h-11.6zM240 485h11.6v2.7h-11.6zM251.2 485h11.6v2.7h-11.6zM262.5 447.5h11.6v2.7h-11.6zM285 480h11.6v2.7h-11.6zM307.5 457.5h11.6v2.7h-11.6zM318.8 410h11.6v15.2h-11.6zM352.5 400h11.6v2.7h-11.6zM375 395h11.6v27.7h-11.6zM386.3 400h11.6v15.2h-11.6zM408.8 402.5h11.6v2.7h-11.6zM420.1 402.5h11.6v2.7h-11.6zM431.3 445h11.6v17.7h-11.6z"/><path fill="#7ad151" d="M161.2 460h11.6v2.7h-11.6zM161.2 475h11.6v2.7h-11.6zM183.7 475h11.6v2.7h-11.6zM206.2 480h11.6v2.7h-11.6zM228.7 425h11.6v2.7h-11.6zM240 400h11.6v2.7h-11.6zM240 417.5h11.6v2.7h-11.6zM273.7 482.5h11.6v2.7h-11.6zM307.5 410h11.6v2.7h-11.6zM307.5 425h11.6v2.7h-11.6zM307.5 475h11.6v2.7h-11.6zM375 422.5h11.6v2.7h-11.6zM397.6 412.5h11.6v2.7h-11.6zM408.8 417.5h11.6v2.7h-11.6zM420.1 457.5h11.6v2.7h-11.6zM431.3 402.5h11.6v2.7h-11.6zM431.3 417.5h11.6v2.7h-11.6z"/><path fill="#44bf70" d="M161.2 477.5h11.6v2.7h-11.6zM194.9 462.5h11.6v2.7h-11.6zM206.2 460h11.6v2.7h-11.6zM206.2 482.5h11.6v2.7h-11.6zM240 420h11.6v2.7h-11.6zM307.5 427.5h11.6v2.7h-11.6zM307.5 455h11.6v2.7h-11.6zM330 457.5h11.6v2.7h-11.6zM330 467.5h11.6v2.7h-11.6zM341.3 457.5h11.6v2.7h-11.6zM341.3 467.5h11.6v2.7h-11.6zM352.5 427.5h11.6v2.7h-11.6zM363.8 457.5h11.6v2.7h-11.6zM375 447.5h11.6v2.7h-11.6zM375 460h11.6v2.7h-11.6zM386.3 417.5h11.6v2.7h-11.6zM397.6 415h11.6v2.7h-11.6zM397.6 457.5h11.6v2.7h-11.6zM408.8 420h11.6v2.7h-11.6zM408.8 440h11.6v2.7h-11.6zM431.3 400h11.6v2.7h-11.6z"/><path fill="#50c46a" d="M172.4 405h11.6v2.7h-11.6zM183.7 477.5h11.6v2.7h-11.6zM194.9 465h11.6v10.2h-11.6zM217.4 485h11.6v2.7h-11.6zM228.7 400h11.6v2.7h-11.6zM240 447.5h11.6v2.7h-11.6zM262.5 445h11.6v2.7h-11.6zM273.7 447.5h11.6v2.7h-11.6zM330 460h11.6v7.7h-11.6zM341.3 460h11.6v7.7h-11.6zM352.5 442.5h11.6v2.7h-11.6zM352.5 457.5h11.6v2.7h-11.6zM363.8 435h11.6v22.7h-11.6zM375 450h11.6v10.2h-11.6zM408.8 390h11.6v10.2h-11.6zM408.8 442.5h11.6v30.2h-11.6zM420.1 395h11.6v5.2h-11.6zM420.1 462.5h11.6v10.2h-11.6zM431.3 420h11.6v2.7h-11.6zM431.3 465h11.6v2.7h-11.6z"/><path fill="#bddf26" d="M172.4 462.5h11.6v2.7h-11.6zM183.7 430h11.6v2.7h-11.6zM206.2 467.5h11.6v10.2h-11.6zM273.7 450h11.6v2.7h-11.6zM285 452.5h11.6v2.7h-11.6zM420.1 420h11.6v2.7h-11.6z"/><path fill="#5ec962" d="M206.2 462.5h11.6v2.7h-11.6zM217.4 462.5h11.6v2.7h-11.6zM262.5 485h11.6v2.7h-11.6zM273.7 415h11.6v2.7h-11.6zM273.7 427.5h11.6v2.7h-11.6zM296.2 457.5h11.6v2.7h-11.6zM318.8 427.5h11.6v2.7h-11.6zM318.8 457.5h11.6v2.7h-11.6zM318.8 470h11.6v2.7h-11.6zM363.8 432.5h11.6v2.7h-11.6zM397.6 400h11.6v2.7h-11.6zM397.6 472.5h11.6v2.7h-11.6zM420.1 460h11.6v2.7h-11.6z"/></g></g>
<path d="M60 366.9H454" stroke="#000" stroke-width="2" stroke-dasharray="7.2 3.4"/><rect x="60" y="292.5" width="394" height="274.3" fill="none" stroke="#000" stroke-width="1.7"/><path d="M55.2 316.9L60 316.9" stroke="#111" stroke-width="1.3"/><text x="51.2" y="321.6" font-size="12.5" text-anchor="end">10</text><path d="M55.2 366.9L60 366.9" stroke="#111" stroke-width="1.3"/><text x="51.2" y="371.6" font-size="12.5" text-anchor="end">0</text><path d="M55.2 416.9L60 416.9" stroke="#111" stroke-width="1.3"/><text x="51.2" y="421.6" font-size="12.5" text-anchor="end">−10</text><path d="M55.2 466.9L60 466.9" stroke="#111" stroke-width="1.3"/><text x="51.2" y="471.6" font-size="12.5" text-anchor="end">−20</text><path d="M55.2 516.9L60 516.9" stroke="#111" stroke-width="1.3"/><text x="51.2" y="521.6" font-size="12.5" text-anchor="end">−30</text><path d="M55.2 566.9L60 566.9" stroke="#111" stroke-width="1.3"/><text x="51.2" y="571.6" font-size="12.5" text-anchor="end">−40</text><path d="M60 566.8L60 571.6" stroke="#111" stroke-width="1.3"/><path d="M105 566.8L105 571.6" stroke="#111" stroke-width="1.3"/><path d="M150.1 566.8L150.1 571.6" stroke="#111" stroke-width="1.3"/><path d="M195.1 566.8L195.1 571.6" stroke="#111" stroke-width="1.3"/><path d="M240.1 566.8L240.1 571.6" stroke="#111" stroke-width="1.3"/><path d="M273.9 566.8L273.9 571.6" stroke="#111" stroke-width="1.3"/><path d="M318.9 566.8L318.9 571.6" stroke="#111" stroke-width="1.3"/><path d="M363.9 566.8L363.9 571.6" stroke="#111" stroke-width="1.3"/><path d="M409 566.8L409 571.6" stroke="#111" stroke-width="1.3"/><path d="M454 566.8L454 571.6" stroke="#111" stroke-width="1.3"/><text x="18" y="430.6" font-size="20" text-anchor="middle" transform="rotate(-90 18 430.6)">Latitude</text><path d="M67.8 472.1l2.6 -5.4l2.6 5.4z" fill="#fff" stroke="#000" stroke-width="1"/><path d="M77.6 473.5l4.6 -9.4l4.6 9.4z" fill="#fff" stroke="#000" stroke-width="2"/><text transform="translate(68.8 347.1) scale(0.8 1)" font-size="48" font-weight="bold" fill="#fff" font-family="'DejaVu Sans','Liberation Sans',sans-serif">b)</text><path d="M478 305.5H491.2V555.4H478Z" fill="url(#gV)"/><path d="M478 305.8L484.6 292.3L491.2 305.8Z" fill="#fde725"/><path d="M478 555.1L484.6 567L491.2 555.1Z" fill="#440154"/><path d="M478 305.8L484.6 292.3L491.2 305.8V555.1L484.6 567L478 555.1Z" fill="none" stroke="#000" stroke-width="1.2" stroke-linejoin="miter"/><path d="M491.2 555.1L495.7 555.1" stroke="#111" stroke-width="1.3"/><text x="499.4" y="559.8" font-size="12.5">0.005</text><path d="M491.2 505.2L495.7 505.2" stroke="#111" stroke-width="1.3"/><text x="499.4" y="509.9" font-size="12.5">0.006</text><path d="M491.2 455.4L495.7 455.4" stroke="#111" stroke-width="1.3"/><text x="499.4" y="460.1" font-size="12.5">0.007</text><path d="M491.2 405.5L495.7 405.5" stroke="#111" stroke-width="1.3"/><text x="499.4" y="410.2" font-size="12.5">0.008</text><path d="M491.2 355.7L495.7 355.7" stroke="#111" stroke-width="1.3"/><text x="499.4" y="360.4" font-size="12.5">0.009</text><path d="M491.2 305.8L495.7 305.8" stroke="#111" stroke-width="1.3"/><text x="499.4" y="310.5" font-size="12.5">0.010</text><text x="549.5" y="430.5" font-size="12.9" text-anchor="middle" transform="rotate(-90 549.5 430.5)" textLength="134" lengthAdjust="spacingAndGlyphs">Zonal average SA OD</text>
<g clip-path="url(#cc)" shape-rendering="crispEdges"><g filter="url(#vb)"><rect x="60" y="574" width="394" height="295" fill="#00004c"/><path fill="#00005d" d="M59.9 578h11.6v91.2h-11.6zM59.9 721.5h11.6v55.2h-11.6zM71.1 578h11.6v86.2h-11.6zM71.1 721.5h11.6v55.2h-11.6zM82.4 578h11.6v88.7h-11.6zM82.4 721.5h11.6v65.2h-11.6zM93.6 578h11.6v83.7h-11.6zM93.6 721.5h11.6v75.2h-11.6zM104.9 578h11.6v83.7h-11.6zM104.9 706.5h11.6v102.7h-11.6zM116.1 578h11.6v101.2h-11.6zM116.1 699h11.6v2.7h-11.6zM116.1 719h11.6v97.7h-11.6zM127.4 578h11.6v108.7h-11.6zM127.4 709h11.6v112.7h-11.6zM138.6 578h11.6v108.7h-11.6zM138.6 696.5h11.6v132.7h-11.6zM149.9 578h11.6v88.7h-11.6zM149.9 696.5h11.6v117.7h-11.6zM149.9 824h11.6v2.7h-11.6zM161.2 578h11.6v76.2h-11.6zM161.2 701.5h11.6v60.2h-11.6zM161.2 781.5h11.6v45.2h-11.6zM172.4 578h11.6v68.7h-11.6zM172.4 704h11.6v37.7h-11.6zM172.4 779h11.6v17.7h-11.6zM172.4 814h11.6v17.7h-11.6zM183.7 578h11.6v81.2h-11.6zM183.7 699h11.6v22.7h-11.6zM183.7 791.5h11.6v35.2h-11.6zM194.9 578h11.6v86.2h-11.6zM194.9 679h11.6v22.7h-11.6zM194.9 799h11.6v10.2h-11.6zM206.2 578h11.6v78.7h-11.6zM206.2 694h11.6v35.2h-11.6zM206.2 801.5h11.6v27.7h-11.6zM217.4 578h11.6v68.7h-11.6zM217.4 724h11.6v7.7h-11.6zM217.4 796.5h11.6v30.2h-11.6zM228.7 578h11.6v78.7h-11.6zM228.7 729h11.6v7.7h-11.6zM228.7 801.5h11.6v30.2h-11.6zM240 578h11.6v81.2h-11.6zM240 721.5h11.6v7.7h-11.6zM240 791.5h11.6v35.2h-11.6zM251.2 578h11.6v91.2h-11.6zM262.5 578h11.6v93.7h-11.6zM273.7 578h11.6v81.2h-11.6zM285 578h11.6v141.2h-11.6zM296.2 578h11.6v101.2h-11.6zM307.5 578h11.6v86.2h-11.6zM318.8 578h11.6v58.7h-11.6zM318.8 644h11.6v47.7h-11.6zM330 578h11.6v101.2h-11.6zM341.3 578h11.6v78.7h-11.6zM352.5 578h11.6v61.2h-11.6zM363.8 578h11.6v56.2h-11.6zM375 578h11.6v63.7h-11.6zM386.3 578h11.6v78.7h-11.6zM397.6 578h11.6v51.2h-11.6zM408.8 578h11.6v48.7h-11.6zM420.1 578h11.6v51.2h-11.6zM431.3 578h11.6v48.7h-11.6zM442.6 578h11.6v53.7h-11.6z"/><path fill="#00006e" d="M59.9 669h11.6v2.7h-11.6zM59.9 719h11.6v2.7h-11.6zM59.9 776.5h11.6v2.7h-11.6zM71.1 664h11.6v2.7h-11.6zM82.4 719h11.6v2.7h-11.6zM82.4 786.5h11.6v2.7h-11.6zM93.6 661.5h11.6v2.7h-11.6zM93.6 719h11.6v2.7h-11.6zM93.6 796.5h11.6v2.7h-11.6zM104.9 661.5h11.6v2.7h-11.6zM104.9 704h11.6v2.7h-11.6zM104.9 809h11.6v2.7h-11.6zM116.1 679h11.6v5.2h-11.6zM116.1 694h11.6v5.2h-11.6zM116.1 701.5h11.6v2.7h-11.6zM116.1 716.5h11.6v2.7h-11.6zM116.1 816.5h11.6v2.7h-11.6zM127.4 686.5h11.6v2.7h-11.6zM127.4 706.5h11.6v2.7h-11.6zM127.4 821.5h11.6v2.7h-11.6zM138.6 686.5h11.6v10.2h-11.6zM138.6 829h11.6v2.7h-11.6zM149.9 666.5h11.6v2.7h-11.6zM149.9 694h11.6v2.7h-11.6zM149.9 814h11.6v10.2h-11.6zM149.9 826.5h11.6v5.2h-11.6zM161.2 654h11.6v2.7h-11.6zM161.2 761.5h11.6v5.2h-11.6zM161.2 779h11.6v2.7h-11.6zM161.2 826.5h11.6v2.7h-11.6zM172.4 646.5h11.6v2.7h-11.6zM172.4 701.5h11.6v2.7h-11.6zM172.4 741.5h11.6v37.7h-11.6zM172.4 796.5h11.6v17.7h-11.6zM183.7 721.5h11.6v2.7h-11.6zM183.7 789h11.6v2.7h-11.6zM183.7 826.5h11.6v2.7h-11.6zM194.9 664h11.6v2.7h-11.6zM194.9 676.5h11.6v2.7h-11.6zM194.9 701.5h11.6v2.7h-11.6zM194.9 796.5h11.6v2.7h-11.6zM194.9 809h11.6v2.7h-11.6zM206.2 656.5h11.6v2.7h-11.6zM206.2 729h11.6v2.7h-11.6zM206.2 799h11.6v2.7h-11.6zM206.2 829h11.6v2.7h-11.6zM217.4 646.5h11.6v2.7h-11.6zM217.4 731.5h11.6v2.7h-11.6zM217.4 794h11.6v2.7h-11.6zM217.4 826.5h11.6v2.7h-11.6zM228.7 726.5h11.6v2.7h-11.6zM228.7 799h11.6v2.7h-11.6zM228.7 831.5h11.6v2.7h-11.6zM240 659h11.6v2.7h-11.6zM240 719h11.6v2.7h-11.6zM240 789h11.6v2.7h-11.6zM240 826.5h11.6v2.7h-11.6zM251.2 719h11.6v7.7h-11.6zM251.2 801.5h11.6v12.7h-11.6zM262.5 671.5h11.6v2.7h-11.6zM262.5 709h11.6v10.2h-11.6zM262.5 801.5h11.6v12.7h-11.6zM273.7 659h11.6v5.2h-11.6zM273.7 801.5h11.6v25.2h-11.6zM285 719h11.6v2.7h-11.6zM285 804h11.6v27.7h-11.6zM296.2 679h11.6v2.7h-11.6zM296.2 804h11.6v17.7h-11.6zM307.5 664h11.6v2.7h-11.6zM307.5 806.5h11.6v5.2h-11.6zM318.8 636.5h11.6v7.7h-11.6zM318.8 806.5h11.6v12.7h-11.6zM330 679h11.6v2.7h-11.6zM341.3 656.5h11.6v2.7h-11.6zM341.3 806.5h11.6v5.2h-11.6zM352.5 639h11.6v2.7h-11.6zM363.8 634h11.6v5.2h-11.6zM363.8 809h11.6v5.2h-11.6zM375 641.5h11.6v15.2h-11.6zM375 809h11.6v7.7h-11.6zM386.3 656.5h11.6v2.7h-11.6zM397.6 629h11.6v27.7h-11.6zM397.6 809h11.6v30.2h-11.6zM408.8 626.5h11.6v2.7h-11.6zM408.8 801.5h11.6v40.2h-11.6zM420.1 629h11.6v2.7h-11.6zM420.1 801.5h11.6v47.7h-11.6zM431.3 626.5h11.6v2.7h-11.6zM431.3 801.5h11.6v47.7h-11.6zM442.6 631.5h11.6v2.7h-11.6zM442.6 801.5h11.6v45.2h-11.6z"/><path fill="#000082" d="M59.9 671.5h11.6v2.7h-11.6zM59.9 716.5h11.6v2.7h-11.6zM59.9 779h11.6v2.7h-11.6zM71.1 719h11.6v2.7h-11.6zM71.1 776.5h11.6v2.7h-11.6zM82.4 666.5h11.6v2.7h-11.6zM82.4 789h11.6v2.7h-11.6zM104.9 664h11.6v2.7h-11.6zM104.9 701.5h11.6v2.7h-11.6zM104.9 811.5h11.6v2.7h-11.6zM116.1 684h11.6v10.2h-11.6zM116.1 704h11.6v2.7h-11.6zM116.1 714h11.6v2.7h-11.6zM127.4 704h11.6v2.7h-11.6zM127.4 824h11.6v2.7h-11.6zM138.6 831.5h11.6v2.7h-11.6zM149.9 669h11.6v2.7h-11.6zM149.9 691.5h11.6v2.7h-11.6zM149.9 831.5h11.6v2.7h-11.6zM161.2 699h11.6v2.7h-11.6zM161.2 766.5h11.6v12.7h-11.6zM172.4 649h11.6v2.7h-11.6zM172.4 699h11.6v2.7h-11.6zM172.4 831.5h11.6v2.7h-11.6zM183.7 659h11.6v2.7h-11.6zM183.7 696.5h11.6v2.7h-11.6zM183.7 786.5h11.6v2.7h-11.6zM194.9 666.5h11.6v10.2h-11.6zM194.9 704h11.6v2.7h-11.6zM194.9 794h11.6v2.7h-11.6zM194.9 811.5h11.6v2.7h-11.6zM206.2 691.5h11.6v2.7h-11.6zM206.2 731.5h11.6v2.7h-11.6zM206.2 831.5h11.6v2.7h-11.6zM217.4 649h11.6v2.7h-11.6zM217.4 721.5h11.6v2.7h-11.6zM217.4 829h11.6v2.7h-11.6zM228.7 656.5h11.6v2.7h-11.6zM228.7 724h11.6v2.7h-11.6zM228.7 736.5h11.6v2.7h-11.6zM228.7 796.5h11.6v2.7h-11.6zM228.7 834h11.6v2.7h-11.6zM240 661.5h11.6v2.7h-11.6zM240 716.5h11.6v2.7h-11.6zM240 729h11.6v2.7h-11.6zM240 786.5h11.6v2.7h-11.6zM240 829h11.6v2.7h-11.6zM251.2 669h11.6v2.7h-11.6zM251.2 716.5h11.6v2.7h-11.6zM251.2 726.5h11.6v2.7h-11.6zM251.2 799h11.6v2.7h-11.6zM251.2 814h11.6v2.7h-11.6zM262.5 674h11.6v2.7h-11.6zM262.5 704h11.6v5.2h-11.6zM262.5 719h11.6v5.2h-11.6zM262.5 814h11.6v2.7h-11.6zM273.7 664h11.6v55.2h-11.6zM273.7 826.5h11.6v2.7h-11.6zM285 721.5h11.6v2.7h-11.6zM285 801.5h11.6v2.7h-11.6zM296.2 681.5h11.6v52.7h-11.6zM307.5 666.5h11.6v2.7h-11.6zM307.5 684h11.6v40.2h-11.6zM307.5 804h11.6v2.7h-11.6zM318.8 691.5h11.6v2.7h-11.6zM341.3 659h11.6v2.7h-11.6zM352.5 641.5h11.6v17.7h-11.6zM352.5 806.5h11.6v5.2h-11.6zM363.8 639h11.6v17.7h-11.6zM363.8 806.5h11.6v2.7h-11.6zM375 656.5h11.6v2.7h-11.6zM375 806.5h11.6v2.7h-11.6zM386.3 659h11.6v2.7h-11.6zM397.6 656.5h11.6v2.7h-11.6zM397.6 839h11.6v2.7h-11.6zM408.8 629h11.6v2.7h-11.6zM408.8 841.5h11.6v5.2h-11.6zM420.1 631.5h11.6v25.2h-11.6zM420.1 849h11.6v16h-11.6zM431.3 849h11.6v16h-11.6zM442.6 634h11.6v2.7h-11.6zM442.6 846.5h11.6v2.7h-11.6z"/><path fill="#000092" d="M59.9 674h11.6v42.7h-11.6zM71.1 666.5h11.6v2.7h-11.6zM82.4 669h11.6v2.7h-11.6zM82.4 716.5h11.6v2.7h-11.6zM93.6 664h11.6v2.7h-11.6zM93.6 716.5h11.6v2.7h-11.6zM93.6 799h11.6v2.7h-11.6zM104.9 666.5h11.6v35.2h-11.6zM116.1 706.5h11.6v2.7h-11.6zM116.1 711.5h11.6v2.7h-11.6zM116.1 819h11.6v2.7h-11.6zM127.4 689h11.6v2.7h-11.6zM127.4 701.5h11.6v2.7h-11.6zM127.4 826.5h11.6v2.7h-11.6zM149.9 671.5h11.6v20.2h-11.6zM149.9 834h11.6v31h-11.6zM161.2 656.5h11.6v2.7h-11.6zM161.2 829h11.6v2.7h-11.6zM172.4 651.5h11.6v7.7h-11.6zM172.4 691.5h11.6v7.7h-11.6zM172.4 834h11.6v2.7h-11.6zM183.7 661.5h11.6v2.7h-11.6zM183.7 694h11.6v2.7h-11.6zM183.7 724h11.6v2.7h-11.6zM183.7 771.5h11.6v15.2h-11.6zM194.9 736.5h11.6v15.2h-11.6zM194.9 786.5h11.6v7.7h-11.6zM194.9 814h11.6v20.2h-11.6zM206.2 659h11.6v2.7h-11.6zM206.2 689h11.6v2.7h-11.6zM206.2 734h11.6v7.7h-11.6zM217.4 651.5h11.6v10.2h-11.6zM217.4 734h11.6v2.7h-11.6zM217.4 791.5h11.6v2.7h-11.6zM217.4 831.5h11.6v12.7h-11.6zM228.7 719h11.6v5.2h-11.6zM228.7 794h11.6v2.7h-11.6zM228.7 836.5h11.6v10.2h-11.6zM240 664h11.6v10.2h-11.6zM240 704h11.6v12.7h-11.6zM240 784h11.6v2.7h-11.6zM240 831.5h11.6v15.2h-11.6zM251.2 694h11.6v22.7h-11.6zM251.2 729h11.6v2.7h-11.6zM262.5 676.5h11.6v27.7h-11.6zM262.5 799h11.6v2.7h-11.6zM273.7 719h11.6v2.7h-11.6zM273.7 799h11.6v2.7h-11.6zM285 724h11.6v2.7h-11.6zM285 831.5h11.6v2.7h-11.6zM296.2 734h11.6v2.7h-11.6zM296.2 801.5h11.6v2.7h-11.6zM296.2 821.5h11.6v2.7h-11.6zM307.5 669h11.6v2.7h-11.6zM307.5 681.5h11.6v2.7h-11.6zM307.5 724h11.6v2.7h-11.6zM307.5 811.5h11.6v2.7h-11.6zM318.8 804h11.6v2.7h-11.6zM318.8 819h11.6v2.7h-11.6zM330 681.5h11.6v2.7h-11.6zM330 806.5h11.6v2.7h-11.6zM341.3 661.5h11.6v27.7h-11.6zM341.3 804h11.6v2.7h-11.6zM341.3 811.5h11.6v2.7h-11.6zM352.5 659h11.6v15.2h-11.6zM352.5 811.5h11.6v2.7h-11.6zM363.8 656.5h11.6v2.7h-11.6zM363.8 814h11.6v2.7h-11.6zM375 816.5h11.6v2.7h-11.6zM386.3 661.5h11.6v5.2h-11.6zM386.3 806.5h11.6v25.2h-11.6zM397.6 806.5h11.6v2.7h-11.6zM397.6 841.5h11.6v2.7h-11.6zM408.8 631.5h11.6v2.7h-11.6zM408.8 799h11.6v2.7h-11.6zM408.8 846.5h11.6v18.5h-11.6zM420.1 656.5h11.6v2.7h-11.6zM420.1 799h11.6v2.7h-11.6zM431.3 629h11.6v2.7h-11.6zM431.3 799h11.6v2.7h-11.6zM442.6 636.5h11.6v2.7h-11.6zM442.6 799h11.6v2.7h-11.6zM442.6 849h11.6v16h-11.6z"/><path fill="#0000a6" d="M59.9 781.5h11.6v2.7h-11.6zM71.1 716.5h11.6v2.7h-11.6zM71.1 779h11.6v2.7h-11.6zM82.4 671.5h11.6v17.7h-11.6zM82.4 791.5h11.6v2.7h-11.6zM93.6 666.5h11.6v2.7h-11.6zM93.6 801.5h11.6v2.7h-11.6zM104.9 814h11.6v2.7h-11.6zM116.1 709h11.6v2.7h-11.6zM116.1 821.5h11.6v2.7h-11.6zM127.4 691.5h11.6v10.2h-11.6zM127.4 829h11.6v5.2h-11.6zM138.6 834h11.6v2.7h-11.6zM161.2 696.5h11.6v2.7h-11.6zM161.2 831.5h11.6v2.7h-11.6zM172.4 659h11.6v2.7h-11.6zM172.4 689h11.6v2.7h-11.6zM172.4 836.5h11.6v28.5h-11.6zM183.7 726.5h11.6v15.2h-11.6zM183.7 829h11.6v2.7h-11.6zM194.9 706.5h11.6v2.7h-11.6zM194.9 734h11.6v2.7h-11.6zM194.9 784h11.6v2.7h-11.6zM194.9 834h11.6v2.7h-11.6zM206.2 661.5h11.6v2.7h-11.6zM206.2 741.5h11.6v2.7h-11.6zM206.2 796.5h11.6v2.7h-11.6zM206.2 834h11.6v2.7h-11.6zM217.4 719h11.6v2.7h-11.6zM217.4 844h11.6v2.7h-11.6zM228.7 659h11.6v2.7h-11.6zM228.7 791.5h11.6v2.7h-11.6zM228.7 846.5h11.6v2.7h-11.6zM240 701.5h11.6v2.7h-11.6zM240 731.5h11.6v2.7h-11.6zM240 781.5h11.6v2.7h-11.6zM251.2 671.5h11.6v2.7h-11.6zM251.2 691.5h11.6v2.7h-11.6zM251.2 796.5h11.6v2.7h-11.6zM251.2 816.5h11.6v2.7h-11.6zM262.5 724h11.6v2.7h-11.6zM262.5 816.5h11.6v2.7h-11.6zM273.7 721.5h11.6v5.2h-11.6zM273.7 829h11.6v2.7h-11.6zM285 726.5h11.6v7.7h-11.6zM285 799h11.6v2.7h-11.6zM296.2 736.5h11.6v2.7h-11.6zM307.5 671.5h11.6v10.2h-11.6zM307.5 726.5h11.6v2.7h-11.6zM307.5 814h11.6v2.7h-11.6zM318.8 694h11.6v2.7h-11.6zM352.5 674h11.6v2.7h-11.6zM375 804h11.6v2.7h-11.6zM397.6 844h11.6v21h-11.6zM408.8 634h11.6v15.2h-11.6zM442.6 639h11.6v17.7h-11.6z"/><path fill="#0000c8" d="M59.9 784h11.6v2.7h-11.6zM71.1 714h11.6v2.7h-11.6zM71.1 781.5h11.6v2.7h-11.6zM82.4 806.5h11.6v2.7h-11.6zM93.6 679h11.6v2.7h-11.6zM93.6 704h11.6v2.7h-11.6zM93.6 809h11.6v2.7h-11.6zM127.4 834h11.6v2.7h-11.6zM161.2 694h11.6v2.7h-11.6zM172.4 661.5h11.6v2.7h-11.6zM172.4 686.5h11.6v2.7h-11.6zM183.7 674h11.6v2.7h-11.6zM183.7 831.5h11.6v2.7h-11.6zM194.9 751.5h11.6v2.7h-11.6zM194.9 781.5h11.6v2.7h-11.6zM194.9 836.5h11.6v2.7h-11.6zM206.2 744h11.6v2.7h-11.6zM206.2 794h11.6v2.7h-11.6zM217.4 789h11.6v2.7h-11.6zM228.7 661.5h11.6v2.7h-11.6zM228.7 741.5h11.6v2.7h-11.6zM228.7 851.5h11.6v2.7h-11.6zM240 676.5h11.6v2.7h-11.6zM240 699h11.6v2.7h-11.6zM240 734h11.6v2.7h-11.6zM251.2 674h11.6v15.2h-11.6zM251.2 794h11.6v2.7h-11.6zM251.2 834h11.6v2.7h-11.6zM262.5 834h11.6v2.7h-11.6zM273.7 736.5h11.6v2.7h-11.6zM273.7 831.5h11.6v2.7h-11.6zM296.2 739h11.6v2.7h-11.6zM296.2 796.5h11.6v2.7h-11.6zM296.2 824h11.6v2.7h-11.6zM307.5 729h11.6v2.7h-11.6zM318.8 696.5h11.6v2.7h-11.6zM318.8 801.5h11.6v2.7h-11.6zM330 699h11.6v2.7h-11.6zM352.5 676.5h11.6v2.7h-11.6zM363.8 659h11.6v2.7h-11.6zM375 659h11.6v2.7h-11.6zM375 801.5h11.6v2.7h-11.6zM397.6 659h11.6v2.7h-11.6zM397.6 801.5h11.6v2.7h-11.6zM420.1 659h11.6v2.7h-11.6z"/><path fill="#0000db" d="M59.9 786.5h11.6v15.2h-11.6zM71.1 671.5h11.6v12.7h-11.6zM71.1 701.5h11.6v12.7h-11.6zM71.1 784h11.6v7.7h-11.6zM82.4 691.5h11.6v2.7h-11.6zM82.4 701.5h11.6v2.7h-11.6zM104.9 831.5h11.6v2.7h-11.6zM116.1 831.5h11.6v2.7h-11.6zM138.6 851.5h11.6v2.7h-11.6zM161.2 661.5h11.6v15.2h-11.6zM172.4 664h11.6v22.7h-11.6zM183.7 684h11.6v2.7h-11.6zM183.7 766.5h11.6v2.7h-11.6zM183.7 834h11.6v17.7h-11.6zM194.9 771.5h11.6v10.2h-11.6zM194.9 839h11.6v26h-11.6zM206.2 781.5h11.6v12.7h-11.6zM217.4 664h11.6v2.7h-11.6zM217.4 694h11.6v2.7h-11.6zM217.4 739h11.6v5.2h-11.6zM217.4 781.5h11.6v7.7h-11.6zM217.4 849h11.6v2.7h-11.6zM228.7 664h11.6v10.2h-11.6zM228.7 714h11.6v2.7h-11.6zM228.7 744h11.6v5.2h-11.6zM228.7 789h11.6v2.7h-11.6zM228.7 854h11.6v11h-11.6zM240 679h11.6v20.2h-11.6zM240 736.5h11.6v2.7h-11.6zM240 779h11.6v2.7h-11.6zM240 849h11.6v2.7h-11.6zM251.2 739h11.6v2.7h-11.6zM251.2 786.5h11.6v7.7h-11.6zM262.5 786.5h11.6v10.2h-11.6zM273.7 784h11.6v12.7h-11.6zM273.7 834h11.6v12.7h-11.6zM285 796.5h11.6v2.7h-11.6zM285 836.5h11.6v15.2h-11.6zM296.2 741.5h11.6v2.7h-11.6zM296.2 786.5h11.6v10.2h-11.6zM307.5 731.5h11.6v7.7h-11.6zM307.5 826.5h11.6v2.7h-11.6zM318.8 794h11.6v7.7h-11.6zM318.8 824h11.6v5.2h-11.6zM330 811.5h11.6v2.7h-11.6zM341.3 691.5h11.6v2.7h-11.6zM341.3 816.5h11.6v5.2h-11.6zM352.5 679h11.6v10.2h-11.6zM352.5 721.5h11.6v5.2h-11.6zM352.5 816.5h11.6v5.2h-11.6zM363.8 819h11.6v2.7h-11.6zM375 786.5h11.6v15.2h-11.6zM375 819h11.6v2.7h-11.6zM386.3 666.5h11.6v2.7h-11.6zM386.3 834h11.6v2.7h-11.6zM397.6 781.5h11.6v20.2h-11.6zM408.8 651.5h11.6v2.7h-11.6zM408.8 659h11.6v10.2h-11.6zM408.8 784h11.6v12.7h-11.6zM420.1 781.5h11.6v15.2h-11.6zM431.3 634h11.6v2.7h-11.6zM431.3 779h11.6v17.7h-11.6zM442.6 779h11.6v17.7h-11.6z"/><path fill="#0101ff" d="M59.9 801.5h11.6v2.7h-11.6zM82.4 696.5h11.6v2.7h-11.6zM82.4 811.5h11.6v32.7h-11.6zM93.6 681.5h11.6v2.7h-11.6zM93.6 814h11.6v32.7h-11.6zM127.4 836.5h11.6v2.7h-11.6zM138.6 854h11.6v2.7h-11.6zM161.2 676.5h11.6v2.7h-11.6zM161.2 691.5h11.6v2.7h-11.6zM183.7 676.5h11.6v2.7h-11.6zM183.7 681.5h11.6v2.7h-11.6zM183.7 746.5h11.6v20.2h-11.6zM194.9 754h11.6v2.7h-11.6zM206.2 749h11.6v2.7h-11.6zM217.4 666.5h11.6v5.2h-11.6zM217.4 691.5h11.6v2.7h-11.6zM217.4 744h11.6v2.7h-11.6zM217.4 779h11.6v2.7h-11.6zM217.4 854h11.6v11h-11.6zM228.7 674h11.6v2.7h-11.6zM228.7 704h11.6v10.2h-11.6zM240 739h11.6v2.7h-11.6zM262.5 781.5h11.6v2.7h-11.6zM262.5 839h11.6v26h-11.6zM285 736.5h11.6v2.7h-11.6zM285 784h11.6v12.7h-11.6zM285 851.5h11.6v2.7h-11.6zM296.2 744h11.6v2.7h-11.6zM296.2 781.5h11.6v2.7h-11.6zM307.5 739h11.6v2.7h-11.6zM307.5 789h11.6v10.2h-11.6zM318.8 791.5h11.6v2.7h-11.6zM330 784h11.6v17.7h-11.6zM330 814h11.6v2.7h-11.6zM341.3 694h11.6v45.2h-11.6zM341.3 769h11.6v30.2h-11.6zM341.3 821.5h11.6v2.7h-11.6zM352.5 766.5h11.6v35.2h-11.6zM363.8 664h11.6v20.2h-11.6zM363.8 759h11.6v15.2h-11.6zM363.8 781.5h11.6v20.2h-11.6zM363.8 821.5h11.6v2.7h-11.6zM363.8 836.5h11.6v2.7h-11.6zM375 664h11.6v7.7h-11.6zM375 711.5h11.6v12.7h-11.6zM375 821.5h11.6v12.7h-11.6zM386.3 709h11.6v12.7h-11.6zM386.3 784h11.6v17.7h-11.6zM386.3 836.5h11.6v12.7h-11.6zM397.6 664h11.6v10.2h-11.6zM397.6 701.5h11.6v15.2h-11.6zM397.6 779h11.6v2.7h-11.6zM408.8 781.5h11.6v2.7h-11.6zM420.1 664h11.6v2.7h-11.6zM431.3 661.5h11.6v7.7h-11.6zM442.6 776.5h11.6v2.7h-11.6z"/><path fill="#3131ff" d="M59.9 804h11.6v2.7h-11.6zM71.1 686.5h11.6v2.7h-11.6zM71.1 794h11.6v2.7h-11.6zM93.6 684h11.6v2.7h-11.6zM93.6 699h11.6v2.7h-11.6zM93.6 846.5h11.6v2.7h-11.6zM104.9 834h11.6v2.7h-11.6zM116.1 836.5h11.6v28.5h-11.6zM127.4 839h11.6v12.7h-11.6zM138.6 856.5h11.6v8.5h-11.6zM183.7 679h11.6v2.7h-11.6zM183.7 856.5h11.6v8.5h-11.6zM194.9 756.5h11.6v10.2h-11.6zM206.2 751.5h11.6v2.7h-11.6zM217.4 671.5h11.6v2.7h-11.6zM217.4 774h11.6v2.7h-11.6zM228.7 749h11.6v2.7h-11.6zM240 776.5h11.6v2.7h-11.6zM240 854h11.6v11h-11.6zM251.2 779h11.6v2.7h-11.6zM251.2 856.5h11.6v8.5h-11.6zM262.5 779h11.6v2.7h-11.6zM285 781.5h11.6v2.7h-11.6zM296.2 779h11.6v2.7h-11.6zM296.2 829h11.6v15.2h-11.6zM307.5 831.5h11.6v12.7h-11.6zM318.8 831.5h11.6v2.7h-11.6zM330 704h11.6v2.7h-11.6zM330 769h11.6v12.7h-11.6zM330 816.5h11.6v2.7h-11.6zM341.3 739h11.6v2.7h-11.6zM341.3 766.5h11.6v2.7h-11.6zM352.5 691.5h11.6v2.7h-11.6zM352.5 731.5h11.6v2.7h-11.6zM363.8 721.5h11.6v5.2h-11.6zM363.8 756.5h11.6v2.7h-11.6zM363.8 776.5h11.6v5.2h-11.6zM363.8 824h11.6v2.7h-11.6zM363.8 839h11.6v2.7h-11.6zM375 671.5h11.6v2.7h-11.6zM375 699h11.6v10.2h-11.6zM375 776.5h11.6v5.2h-11.6zM375 834h11.6v2.7h-11.6zM386.3 781.5h11.6v2.7h-11.6zM386.3 849h11.6v2.7h-11.6zM397.6 674h11.6v2.7h-11.6zM397.6 694h11.6v7.7h-11.6zM408.8 671.5h11.6v2.7h-11.6zM420.1 666.5h11.6v2.7h-11.6zM431.3 774h11.6v2.7h-11.6zM442.6 664h11.6v10.2h-11.6z"/><path fill="#6565ff" d="M59.9 806.5h11.6v10.2h-11.6zM71.1 689h11.6v2.7h-11.6zM71.1 696.5h11.6v2.7h-11.6zM82.4 846.5h11.6v2.7h-11.6zM206.2 771.5h11.6v2.7h-11.6zM217.4 771.5h11.6v2.7h-11.6zM228.7 679h11.6v20.2h-11.6zM228.7 784h11.6v2.7h-11.6zM251.2 776.5h11.6v2.7h-11.6zM251.2 841.5h11.6v2.7h-11.6zM262.5 776.5h11.6v2.7h-11.6zM273.7 776.5h11.6v2.7h-11.6zM273.7 854h11.6v11h-11.6zM318.8 706.5h11.6v22.7h-11.6zM318.8 779h11.6v10.2h-11.6zM330 711.5h11.6v2.7h-11.6zM330 719h11.6v2.7h-11.6zM330 731.5h11.6v2.7h-11.6zM330 766.5h11.6v2.7h-11.6zM330 819h11.6v27.7h-11.6zM341.3 824h11.6v2.7h-11.6zM352.5 761.5h11.6v2.7h-11.6zM363.8 709h11.6v2.7h-11.6zM363.8 826.5h11.6v5.2h-11.6zM386.3 704h11.6v2.7h-11.6zM386.3 724h11.6v2.7h-11.6zM397.6 676.5h11.6v2.7h-11.6zM397.6 719h11.6v2.7h-11.6zM408.8 674h11.6v5.2h-11.6zM408.8 779h11.6v2.7h-11.6zM431.3 671.5h11.6v2.7h-11.6z"/><path fill="#cdcdff" d="M59.9 816.5h11.6v2.7h-11.6zM71.1 799h11.6v32.7h-11.6zM161.2 686.5h11.6v2.7h-11.6zM217.4 749h11.6v2.7h-11.6zM217.4 766.5h11.6v2.7h-11.6zM228.7 781.5h11.6v2.7h-11.6zM240 744h11.6v2.7h-11.6zM251.2 774h11.6v2.7h-11.6zM285 856.5h11.6v8.5h-11.6zM296.2 746.5h11.6v2.7h-11.6zM296.2 846.5h11.6v2.7h-11.6zM307.5 771.5h11.6v2.7h-11.6zM318.8 734h11.6v12.7h-11.6zM318.8 769h11.6v5.2h-11.6zM318.8 834h11.6v2.7h-11.6zM330 749h11.6v2.7h-11.6zM341.3 831.5h11.6v2.7h-11.6zM363.8 734h11.6v2.7h-11.6zM375 736.5h11.6v5.2h-11.6zM375 771.5h11.6v2.7h-11.6zM386.3 696.5h11.6v2.7h-11.6zM386.3 744h11.6v7.7h-11.6zM386.3 854h11.6v11h-11.6zM397.6 724h11.6v2.7h-11.6zM408.8 689h11.6v10.2h-11.6zM408.8 774h11.6v2.7h-11.6zM420.1 669h11.6v2.7h-11.6zM431.3 674h11.6v2.7h-11.6zM442.6 771.5h11.6v2.7h-11.6z"/><path fill="#ff7d7d" d="M59.9 819h11.6v2.7h-11.6zM59.9 844h11.6v2.7h-11.6zM228.7 776.5h11.6v2.7h-11.6zM240 769h11.6v2.7h-11.6zM262.5 771.5h11.6v2.7h-11.6zM285 744h11.6v2.7h-11.6zM285 771.5h11.6v2.7h-11.6zM307.5 746.5h11.6v2.7h-11.6zM318.8 751.5h11.6v2.7h-11.6zM341.3 751.5h11.6v2.7h-11.6zM341.3 841.5h11.6v2.7h-11.6zM386.3 756.5h11.6v10.2h-11.6zM397.6 771.5h11.6v2.7h-11.6zM420.1 681.5h11.6v12.7h-11.6zM420.1 716.5h11.6v2.7h-11.6zM442.6 704h11.6v2.7h-11.6zM442.6 769h11.6v2.7h-11.6z"/><path fill="#f20000" d="M59.9 821.5h11.6v2.7h-11.6zM273.7 756.5h11.6v2.7h-11.6zM273.7 769h11.6v2.7h-11.6zM296.2 751.5h11.6v2.7h-11.6zM318.8 849h11.6v2.7h-11.6zM397.6 746.5h11.6v2.7h-11.6zM408.8 749h11.6v2.7h-11.6zM408.8 764h11.6v2.7h-11.6zM420.1 726.5h11.6v7.7h-11.6zM420.1 749h11.6v17.7h-11.6zM431.3 684h11.6v35.2h-11.6zM431.3 759h11.6v7.7h-11.6zM442.6 726.5h11.6v2.7h-11.6z"/><path fill="#d80000" d="M59.9 824h11.6v2.7h-11.6zM273.7 759h11.6v2.7h-11.6zM273.7 766.5h11.6v2.7h-11.6zM318.8 851.5h11.6v2.7h-11.6zM352.5 829h11.6v2.7h-11.6zM408.8 751.5h11.6v2.7h-11.6zM408.8 761.5h11.6v2.7h-11.6z"/><path fill="#b20000" d="M59.9 826.5h11.6v2.7h-11.6zM431.3 741.5h11.6v2.7h-11.6z"/><path fill="#a60000" d="M59.9 829h11.6v5.2h-11.6zM285 751.5h11.6v2.7h-11.6zM296.2 756.5h11.6v2.7h-11.6zM296.2 764h11.6v2.7h-11.6zM431.3 724h11.6v2.7h-11.6zM431.3 739h11.6v2.7h-11.6z"/><path fill="#be0000" d="M59.9 834h11.6v2.7h-11.6zM285 761.5h11.6v2.7h-11.6zM431.3 744h11.6v2.7h-11.6z"/><path fill="#e60000" d="M59.9 836.5h11.6v2.7h-11.6zM285 764h11.6v2.7h-11.6zM352.5 844h11.6v2.7h-11.6zM397.6 749h11.6v20.2h-11.6zM420.1 734h11.6v2.7h-11.6zM420.1 746.5h11.6v2.7h-11.6zM431.3 719h11.6v2.7h-11.6zM431.3 756.5h11.6v2.7h-11.6zM442.6 729h11.6v37.7h-11.6z"/><path fill="#ff1919" d="M59.9 839h11.6v2.7h-11.6zM228.7 766.5h11.6v2.7h-11.6zM228.7 774h11.6v2.7h-11.6zM240 754h11.6v12.7h-11.6zM262.5 756.5h11.6v2.7h-11.6zM262.5 769h11.6v2.7h-11.6zM285 766.5h11.6v2.7h-11.6zM296.2 769h11.6v2.7h-11.6zM296.2 854h11.6v11h-11.6zM307.5 854h11.6v11h-11.6zM318.8 844h11.6v2.7h-11.6zM352.5 826.5h11.6v2.7h-11.6zM397.6 744h11.6v2.7h-11.6zM442.6 724h11.6v2.7h-11.6z"/><path fill="#ff4d4d" d="M59.9 841.5h11.6v2.7h-11.6zM240 751.5h11.6v2.7h-11.6zM251.2 746.5h11.6v2.7h-11.6zM273.7 749h11.6v2.7h-11.6zM273.7 771.5h11.6v2.7h-11.6zM285 769h11.6v2.7h-11.6zM296.2 749h11.6v2.7h-11.6zM307.5 851.5h11.6v2.7h-11.6zM363.8 854h11.6v2.7h-11.6zM375 849h11.6v2.7h-11.6zM397.6 734h11.6v2.7h-11.6zM420.1 719h11.6v2.7h-11.6z"/><path fill="#f99" d="M59.9 846.5h11.6v18.5h-11.6zM71.1 834h11.6v2.7h-11.6zM104.9 854h11.6v11h-11.6zM228.7 754h11.6v10.2h-11.6zM262.5 754h11.6v2.7h-11.6zM296.2 849h11.6v2.7h-11.6zM318.8 761.5h11.6v2.7h-11.6zM318.8 839h11.6v2.7h-11.6zM341.3 759h11.6v2.7h-11.6zM341.3 836.5h11.6v2.7h-11.6zM341.3 844h11.6v2.7h-11.6zM363.8 851.5h11.6v2.7h-11.6zM386.3 766.5h11.6v2.7h-11.6zM397.6 729h11.6v2.7h-11.6zM408.8 719h11.6v2.7h-11.6zM420.1 679h11.6v2.7h-11.6zM420.1 694h11.6v2.7h-11.6zM431.3 769h11.6v2.7h-11.6zM442.6 684h11.6v2.7h-11.6z"/><path fill="#0000b7" d="M71.1 669h11.6v2.7h-11.6zM82.4 689h11.6v2.7h-11.6zM82.4 704h11.6v12.7h-11.6zM82.4 794h11.6v12.7h-11.6zM93.6 669h11.6v10.2h-11.6zM93.6 706.5h11.6v10.2h-11.6zM93.6 804h11.6v5.2h-11.6zM104.9 816.5h11.6v15.2h-11.6zM116.1 824h11.6v7.7h-11.6zM138.6 836.5h11.6v15.2h-11.6zM161.2 659h11.6v2.7h-11.6zM161.2 834h11.6v31h-11.6zM183.7 664h11.6v10.2h-11.6zM183.7 686.5h11.6v7.7h-11.6zM183.7 741.5h11.6v2.7h-11.6zM183.7 769h11.6v2.7h-11.6zM194.9 709h11.6v25.2h-11.6zM206.2 664h11.6v25.2h-11.6zM206.2 836.5h11.6v28.5h-11.6zM217.4 661.5h11.6v2.7h-11.6zM217.4 696.5h11.6v22.7h-11.6zM217.4 736.5h11.6v2.7h-11.6zM217.4 846.5h11.6v2.7h-11.6zM228.7 716.5h11.6v2.7h-11.6zM228.7 739h11.6v2.7h-11.6zM228.7 849h11.6v2.7h-11.6zM240 674h11.6v2.7h-11.6zM240 846.5h11.6v2.7h-11.6zM251.2 689h11.6v2.7h-11.6zM251.2 731.5h11.6v7.7h-11.6zM251.2 819h11.6v15.2h-11.6zM262.5 726.5h11.6v15.2h-11.6zM262.5 796.5h11.6v2.7h-11.6zM262.5 819h11.6v15.2h-11.6zM273.7 726.5h11.6v10.2h-11.6zM273.7 796.5h11.6v2.7h-11.6zM285 734h11.6v2.7h-11.6zM285 834h11.6v2.7h-11.6zM296.2 799h11.6v2.7h-11.6zM307.5 801.5h11.6v2.7h-11.6zM307.5 816.5h11.6v10.2h-11.6zM318.8 821.5h11.6v2.7h-11.6zM330 684h11.6v15.2h-11.6zM330 804h11.6v2.7h-11.6zM330 809h11.6v2.7h-11.6zM341.3 689h11.6v2.7h-11.6zM341.3 801.5h11.6v2.7h-11.6zM341.3 814h11.6v2.7h-11.6zM352.5 804h11.6v2.7h-11.6zM352.5 814h11.6v2.7h-11.6zM363.8 804h11.6v2.7h-11.6zM363.8 816.5h11.6v2.7h-11.6zM386.3 804h11.6v2.7h-11.6zM386.3 831.5h11.6v2.7h-11.6zM397.6 804h11.6v2.7h-11.6zM408.8 649h11.6v2.7h-11.6zM408.8 796.5h11.6v2.7h-11.6zM420.1 796.5h11.6v2.7h-11.6zM431.3 631.5h11.6v2.7h-11.6zM431.3 796.5h11.6v2.7h-11.6zM442.6 656.5h11.6v2.7h-11.6zM442.6 796.5h11.6v2.7h-11.6z"/><path fill="#0000ec" d="M71.1 684h11.6v2.7h-11.6zM71.1 791.5h11.6v2.7h-11.6zM82.4 694h11.6v2.7h-11.6zM82.4 699h11.6v2.7h-11.6zM82.4 809h11.6v2.7h-11.6zM93.6 701.5h11.6v2.7h-11.6zM93.6 811.5h11.6v2.7h-11.6zM183.7 744h11.6v2.7h-11.6zM183.7 851.5h11.6v2.7h-11.6zM194.9 769h11.6v2.7h-11.6zM206.2 746.5h11.6v2.7h-11.6zM206.2 779h11.6v2.7h-11.6zM217.4 851.5h11.6v2.7h-11.6zM251.2 784h11.6v2.7h-11.6zM251.2 836.5h11.6v2.7h-11.6zM262.5 741.5h11.6v2.7h-11.6zM262.5 784h11.6v2.7h-11.6zM262.5 836.5h11.6v2.7h-11.6zM273.7 781.5h11.6v2.7h-11.6zM273.7 846.5h11.6v2.7h-11.6zM296.2 784h11.6v2.7h-11.6zM307.5 799h11.6v2.7h-11.6zM318.8 699h11.6v2.7h-11.6zM318.8 829h11.6v2.7h-11.6zM330 701.5h11.6v2.7h-11.6zM330 801.5h11.6v2.7h-11.6zM341.3 799h11.6v2.7h-11.6zM352.5 689h11.6v2.7h-11.6zM352.5 719h11.6v2.7h-11.6zM352.5 726.5h11.6v2.7h-11.6zM352.5 801.5h11.6v2.7h-11.6zM363.8 661.5h11.6v2.7h-11.6zM363.8 801.5h11.6v2.7h-11.6zM375 661.5h11.6v2.7h-11.6zM375 784h11.6v2.7h-11.6zM386.3 801.5h11.6v2.7h-11.6zM397.6 661.5h11.6v2.7h-11.6zM408.8 654h11.6v5.2h-11.6zM408.8 669h11.6v2.7h-11.6zM420.1 661.5h11.6v2.7h-11.6zM420.1 779h11.6v2.7h-11.6zM431.3 636.5h11.6v25.2h-11.6zM431.3 776.5h11.6v2.7h-11.6zM442.6 659h11.6v2.7h-11.6z"/><path fill="#99f" d="M71.1 691.5h11.6v5.2h-11.6zM71.1 796.5h11.6v2.7h-11.6zM93.6 851.5h11.6v13.5h-11.6zM104.9 839h11.6v7.7h-11.6zM127.4 856.5h11.6v8.5h-11.6zM206.2 756.5h11.6v15.2h-11.6zM217.4 746.5h11.6v2.7h-11.6zM217.4 769h11.6v2.7h-11.6zM240 741.5h11.6v2.7h-11.6zM251.2 846.5h11.6v5.2h-11.6zM262.5 746.5h11.6v2.7h-11.6zM273.7 741.5h11.6v2.7h-11.6zM285 779h11.6v2.7h-11.6zM296.2 774h11.6v2.7h-11.6zM307.5 741.5h11.6v2.7h-11.6zM307.5 774h11.6v7.7h-11.6zM318.8 731.5h11.6v2.7h-11.6zM330 736.5h11.6v12.7h-11.6zM330 764h11.6v2.7h-11.6zM330 846.5h11.6v2.7h-11.6zM341.3 741.5h11.6v2.7h-11.6zM341.3 826.5h11.6v2.7h-11.6zM352.5 694h11.6v2.7h-11.6zM352.5 754h11.6v7.7h-11.6zM363.8 714h11.6v2.7h-11.6zM363.8 731.5h11.6v2.7h-11.6zM363.8 841.5h11.6v2.7h-11.6zM375 676.5h11.6v5.2h-11.6zM375 731.5h11.6v2.7h-11.6zM375 839h11.6v2.7h-11.6zM386.3 669h11.6v2.7h-11.6zM386.3 701.5h11.6v2.7h-11.6zM386.3 726.5h11.6v2.7h-11.6zM397.6 721.5h11.6v2.7h-11.6zM397.6 776.5h11.6v2.7h-11.6zM408.8 679h11.6v2.7h-11.6zM408.8 776.5h11.6v2.7h-11.6zM442.6 676.5h11.6v2.7h-11.6z"/><path fill="#1919ff" d="M71.1 699h11.6v2.7h-11.6zM82.4 844h11.6v2.7h-11.6zM116.1 834h11.6v2.7h-11.6zM183.7 854h11.6v2.7h-11.6zM194.9 766.5h11.6v2.7h-11.6zM206.2 776.5h11.6v2.7h-11.6zM217.4 776.5h11.6v2.7h-11.6zM228.7 701.5h11.6v2.7h-11.6zM228.7 786.5h11.6v2.7h-11.6zM240 851.5h11.6v2.7h-11.6zM251.2 781.5h11.6v2.7h-11.6zM251.2 839h11.6v2.7h-11.6zM273.7 739h11.6v2.7h-11.6zM273.7 779h11.6v2.7h-11.6zM273.7 849h11.6v2.7h-11.6zM296.2 826.5h11.6v2.7h-11.6zM307.5 786.5h11.6v2.7h-11.6zM307.5 829h11.6v2.7h-11.6zM318.8 701.5h11.6v2.7h-11.6zM330 781.5h11.6v2.7h-11.6zM352.5 716.5h11.6v2.7h-11.6zM352.5 729h11.6v2.7h-11.6zM352.5 764h11.6v2.7h-11.6zM352.5 821.5h11.6v2.7h-11.6zM363.8 684h11.6v2.7h-11.6zM363.8 774h11.6v2.7h-11.6zM363.8 834h11.6v2.7h-11.6zM375 709h11.6v2.7h-11.6zM375 724h11.6v2.7h-11.6zM375 781.5h11.6v2.7h-11.6zM386.3 706.5h11.6v2.7h-11.6zM386.3 721.5h11.6v2.7h-11.6zM397.6 716.5h11.6v2.7h-11.6zM420.1 776.5h11.6v2.7h-11.6zM431.3 669h11.6v2.7h-11.6zM442.6 661.5h11.6v2.7h-11.6z"/><path fill="#fffdfd" d="M71.1 831.5h11.6v2.7h-11.6zM82.4 854h11.6v11h-11.6zM104.9 849h11.6v2.7h-11.6zM217.4 676.5h11.6v7.7h-11.6zM228.7 751.5h11.6v2.7h-11.6zM273.7 744h11.6v2.7h-11.6zM273.7 774h11.6v2.7h-11.6zM285 741.5h11.6v2.7h-11.6zM318.8 746.5h11.6v2.7h-11.6zM330 751.5h11.6v2.7h-11.6zM330 851.5h11.6v13.5h-11.6zM341.3 744h11.6v2.7h-11.6zM341.3 761.5h11.6v2.7h-11.6zM352.5 739h11.6v2.7h-11.6zM352.5 749h11.6v2.7h-11.6zM352.5 851.5h11.6v13.5h-11.6zM363.8 739h11.6v12.7h-11.6zM363.8 846.5h11.6v2.7h-11.6zM375 686.5h11.6v2.7h-11.6zM375 741.5h11.6v2.7h-11.6zM375 769h11.6v2.7h-11.6zM386.3 676.5h11.6v2.7h-11.6zM386.3 734h11.6v7.7h-11.6zM386.3 751.5h11.6v2.7h-11.6zM386.3 771.5h11.6v2.7h-11.6zM408.8 684h11.6v2.7h-11.6zM408.8 701.5h11.6v12.7h-11.6zM420.1 671.5h11.6v5.2h-11.6z"/><path fill="#ff3131" d="M71.1 836.5h11.6v2.7h-11.6zM240 766.5h11.6v2.7h-11.6zM296.2 851.5h11.6v2.7h-11.6zM307.5 749h11.6v2.7h-11.6zM307.5 766.5h11.6v2.7h-11.6zM352.5 846.5h11.6v2.7h-11.6zM363.8 856.5h11.6v8.5h-11.6zM397.6 736.5h11.6v7.7h-11.6zM408.8 721.5h11.6v2.7h-11.6zM408.8 769h11.6v2.7h-11.6zM420.1 721.5h11.6v2.7h-11.6zM442.6 721.5h11.6v2.7h-11.6z"/><path fill="#fe0000" d="M71.1 839h11.6v26h-11.6zM228.7 769h11.6v5.2h-11.6zM251.2 749h11.6v20.2h-11.6zM262.5 759h11.6v10.2h-11.6zM273.7 751.5h11.6v5.2h-11.6zM285 746.5h11.6v2.7h-11.6zM307.5 751.5h11.6v15.2h-11.6zM318.8 846.5h11.6v2.7h-11.6zM375 851.5h11.6v13.5h-11.6zM397.6 769h11.6v2.7h-11.6zM408.8 724h11.6v25.2h-11.6zM408.8 766.5h11.6v2.7h-11.6zM420.1 724h11.6v2.7h-11.6zM420.1 766.5h11.6v2.7h-11.6zM431.3 681.5h11.6v2.7h-11.6zM431.3 766.5h11.6v2.7h-11.6zM442.6 766.5h11.6v2.7h-11.6z"/><path fill="#b1b1ff" d="M82.4 849h11.6v2.7h-11.6zM104.9 846.5h11.6v2.7h-11.6zM161.2 684h11.6v2.7h-11.6zM217.4 674h11.6v2.7h-11.6zM240 774h11.6v2.7h-11.6zM307.5 846.5h11.6v2.7h-11.6zM318.8 774h11.6v2.7h-11.6zM341.3 829h11.6v2.7h-11.6zM352.5 696.5h11.6v17.7h-11.6zM352.5 736.5h11.6v2.7h-11.6zM352.5 751.5h11.6v2.7h-11.6zM375 681.5h11.6v2.7h-11.6zM375 691.5h11.6v2.7h-11.6zM375 734h11.6v2.7h-11.6zM375 841.5h11.6v2.7h-11.6zM386.3 699h11.6v2.7h-11.6zM386.3 729h11.6v2.7h-11.6zM386.3 776.5h11.6v2.7h-11.6zM431.3 771.5h11.6v2.7h-11.6z"/><path fill="#e5e5ff" d="M82.4 851.5h11.6v2.7h-11.6zM217.4 684h11.6v2.7h-11.6zM217.4 751.5h11.6v2.7h-11.6zM217.4 764h11.6v2.7h-11.6zM240 746.5h11.6v2.7h-11.6zM262.5 749h11.6v2.7h-11.6zM262.5 774h11.6v2.7h-11.6zM285 776.5h11.6v2.7h-11.6zM318.8 766.5h11.6v2.7h-11.6zM330 761.5h11.6v2.7h-11.6zM330 849h11.6v2.7h-11.6zM352.5 824h11.6v2.7h-11.6zM363.8 736.5h11.6v2.7h-11.6zM363.8 751.5h11.6v2.7h-11.6zM363.8 844h11.6v2.7h-11.6zM375 684h11.6v2.7h-11.6zM375 689h11.6v2.7h-11.6zM375 844h11.6v2.7h-11.6zM386.3 679h11.6v17.7h-11.6zM386.3 731.5h11.6v2.7h-11.6zM386.3 741.5h11.6v2.7h-11.6zM386.3 774h11.6v2.7h-11.6zM408.8 681.5h11.6v2.7h-11.6zM408.8 686.5h11.6v2.7h-11.6zM408.8 699h11.6v2.7h-11.6zM420.1 771.5h11.6v2.7h-11.6zM442.6 679h11.6v2.7h-11.6z"/><path fill="#4d4dff" d="M93.6 686.5h11.6v12.7h-11.6zM127.4 851.5h11.6v2.7h-11.6zM161.2 679h11.6v2.7h-11.6zM206.2 774h11.6v2.7h-11.6zM217.4 689h11.6v2.7h-11.6zM228.7 676.5h11.6v2.7h-11.6zM228.7 699h11.6v2.7h-11.6zM251.2 854h11.6v2.7h-11.6zM262.5 744h11.6v2.7h-11.6zM273.7 851.5h11.6v2.7h-11.6zM296.2 776.5h11.6v2.7h-11.6zM296.2 844h11.6v2.7h-11.6zM307.5 784h11.6v2.7h-11.6zM307.5 844h11.6v2.7h-11.6zM318.8 704h11.6v2.7h-11.6zM318.8 789h11.6v2.7h-11.6zM330 706.5h11.6v5.2h-11.6zM330 721.5h11.6v10.2h-11.6zM352.5 734h11.6v2.7h-11.6zM363.8 686.5h11.6v22.7h-11.6zM363.8 719h11.6v2.7h-11.6zM363.8 726.5h11.6v2.7h-11.6zM363.8 831.5h11.6v2.7h-11.6zM375 696.5h11.6v2.7h-11.6zM375 726.5h11.6v2.7h-11.6zM397.6 691.5h11.6v2.7h-11.6zM420.1 774h11.6v2.7h-11.6zM442.6 674h11.6v2.7h-11.6zM442.6 774h11.6v2.7h-11.6z"/><path fill="#8181ff" d="M93.6 849h11.6v2.7h-11.6zM104.9 836.5h11.6v2.7h-11.6zM127.4 854h11.6v2.7h-11.6zM161.2 681.5h11.6v2.7h-11.6zM161.2 689h11.6v2.7h-11.6zM206.2 754h11.6v2.7h-11.6zM217.4 686.5h11.6v2.7h-11.6zM251.2 741.5h11.6v2.7h-11.6zM251.2 844h11.6v2.7h-11.6zM251.2 851.5h11.6v2.7h-11.6zM285 739h11.6v2.7h-11.6zM285 854h11.6v2.7h-11.6zM307.5 781.5h11.6v2.7h-11.6zM318.8 729h11.6v2.7h-11.6zM318.8 776.5h11.6v2.7h-11.6zM330 714h11.6v5.2h-11.6zM330 734h11.6v2.7h-11.6zM341.3 764h11.6v2.7h-11.6zM352.5 714h11.6v2.7h-11.6zM363.8 711.5h11.6v2.7h-11.6zM363.8 716.5h11.6v2.7h-11.6zM363.8 729h11.6v2.7h-11.6zM363.8 754h11.6v2.7h-11.6zM375 674h11.6v2.7h-11.6zM375 694h11.6v2.7h-11.6zM375 729h11.6v2.7h-11.6zM375 774h11.6v2.7h-11.6zM375 836.5h11.6v2.7h-11.6zM386.3 779h11.6v2.7h-11.6zM386.3 851.5h11.6v2.7h-11.6zM397.6 679h11.6v12.7h-11.6z"/><path fill="#ffb1b1" d="M104.9 851.5h11.6v2.7h-11.6zM273.7 746.5h11.6v2.7h-11.6zM296.2 771.5h11.6v2.7h-11.6zM307.5 849h11.6v2.7h-11.6zM318.8 749h11.6v2.7h-11.6zM341.3 749h11.6v2.7h-11.6zM341.3 846.5h11.6v18.5h-11.6zM352.5 849h11.6v2.7h-11.6zM386.3 754h11.6v2.7h-11.6zM408.8 771.5h11.6v2.7h-11.6zM420.1 696.5h11.6v2.7h-11.6zM420.1 714h11.6v2.7h-11.6zM442.6 706.5h11.6v2.7h-11.6zM442.6 716.5h11.6v2.7h-11.6z"/><path fill="#ffe5e5" d="M217.4 754h11.6v2.7h-11.6zM217.4 761.5h11.6v2.7h-11.6zM228.7 779h11.6v2.7h-11.6zM240 771.5h11.6v2.7h-11.6zM262.5 751.5h11.6v2.7h-11.6zM318.8 764h11.6v2.7h-11.6zM330 759h11.6v2.7h-11.6zM341.3 834h11.6v2.7h-11.6zM363.8 849h11.6v2.7h-11.6zM375 766.5h11.6v2.7h-11.6zM386.3 671.5h11.6v5.2h-11.6zM397.6 774h11.6v2.7h-11.6zM408.8 714h11.6v2.7h-11.6zM420.1 676.5h11.6v2.7h-11.6z"/><path fill="#ffcdcd" d="M217.4 756.5h11.6v5.2h-11.6zM240 749h11.6v2.7h-11.6zM251.2 744h11.6v2.7h-11.6zM251.2 771.5h11.6v2.7h-11.6zM285 774h11.6v2.7h-11.6zM307.5 744h11.6v2.7h-11.6zM307.5 769h11.6v2.7h-11.6zM318.8 836.5h11.6v2.7h-11.6zM330 754h11.6v5.2h-11.6zM341.3 746.5h11.6v2.7h-11.6zM352.5 741.5h11.6v7.7h-11.6zM375 744h11.6v22.7h-11.6zM375 846.5h11.6v2.7h-11.6zM386.3 769h11.6v2.7h-11.6zM397.6 726.5h11.6v2.7h-11.6zM408.8 716.5h11.6v2.7h-11.6zM420.1 699h11.6v15.2h-11.6zM431.3 676.5h11.6v2.7h-11.6zM442.6 681.5h11.6v2.7h-11.6zM442.6 709h11.6v7.7h-11.6z"/><path fill="#ff6565" d="M228.7 764h11.6v2.7h-11.6zM251.2 769h11.6v2.7h-11.6zM318.8 754h11.6v7.7h-11.6zM318.8 841.5h11.6v2.7h-11.6zM341.3 754h11.6v5.2h-11.6zM341.3 839h11.6v2.7h-11.6zM397.6 731.5h11.6v2.7h-11.6zM420.1 769h11.6v2.7h-11.6zM431.3 679h11.6v2.7h-11.6zM442.6 686.5h11.6v17.7h-11.6zM442.6 719h11.6v2.7h-11.6z"/><path fill="#c00" d="M273.7 761.5h11.6v5.2h-11.6zM285 749h11.6v2.7h-11.6zM296.2 754h11.6v2.7h-11.6zM296.2 766.5h11.6v2.7h-11.6zM318.8 854h11.6v11h-11.6zM352.5 831.5h11.6v12.7h-11.6zM408.8 754h11.6v7.7h-11.6zM420.1 736.5h11.6v10.2h-11.6zM431.3 721.5h11.6v2.7h-11.6zM431.3 746.5h11.6v10.2h-11.6z"/><path fill="#980000" d="M285 754h11.6v7.7h-11.6zM296.2 759h11.6v5.2h-11.6zM431.3 726.5h11.6v12.7h-11.6z"/></g></g>
<path d="M60 658.6H454" stroke="#000" stroke-width="2" stroke-dasharray="7.2 3.4"/><rect x="60" y="584" width="394" height="274.8" fill="none" stroke="#000" stroke-width="1.7"/><path d="M55.2 608.6L60 608.6" stroke="#111" stroke-width="1.3"/><text x="51.2" y="613.3" font-size="12.5" text-anchor="end">10</text><path d="M55.2 658.6L60 658.6" stroke="#111" stroke-width="1.3"/><text x="51.2" y="663.3" font-size="12.5" text-anchor="end">0</text><path d="M55.2 708.6L60 708.6" stroke="#111" stroke-width="1.3"/><text x="51.2" y="713.3" font-size="12.5" text-anchor="end">−10</text><path d="M55.2 758.6L60 758.6" stroke="#111" stroke-width="1.3"/><text x="51.2" y="763.3" font-size="12.5" text-anchor="end">−20</text><path d="M55.2 808.6L60 808.6" stroke="#111" stroke-width="1.3"/><text x="51.2" y="813.3" font-size="12.5" text-anchor="end">−30</text><path d="M55.2 858.6L60 858.6" stroke="#111" stroke-width="1.3"/><text x="51.2" y="863.3" font-size="12.5" text-anchor="end">−40</text><path d="M60 858.8L60 863.6" stroke="#111" stroke-width="1.3"/><path d="M105 858.8L105 863.6" stroke="#111" stroke-width="1.3"/><path d="M150.1 858.8L150.1 863.6" stroke="#111" stroke-width="1.3"/><path d="M195.1 858.8L195.1 863.6" stroke="#111" stroke-width="1.3"/><path d="M240.1 858.8L240.1 863.6" stroke="#111" stroke-width="1.3"/><path d="M273.9 858.8L273.9 863.6" stroke="#111" stroke-width="1.3"/><path d="M318.9 858.8L318.9 863.6" stroke="#111" stroke-width="1.3"/><path d="M363.9 858.8L363.9 863.6" stroke="#111" stroke-width="1.3"/><path d="M409 858.8L409 863.6" stroke="#111" stroke-width="1.3"/><path d="M454 858.8L454 863.6" stroke="#111" stroke-width="1.3"/><text x="18" y="722.4" font-size="20" text-anchor="middle" transform="rotate(-90 18 722.4)">Latitude</text><path d="M67.8 763.8l2.6 -5.4l2.6 5.4z" fill="#fff" stroke="#000" stroke-width="1"/><path d="M77.6 765.2l4.6 -9.4l4.6 9.4z" fill="#fff" stroke="#000" stroke-width="2"/><text transform="translate(68.8 638.6) scale(0.8 1)" font-size="48" font-weight="bold" fill="#fff" font-family="'DejaVu Sans','Liberation Sans',sans-serif">c)</text><path d="M478 597.6H491.2V846.7H478Z" fill="url(#gS)"/><path d="M478 597.9L484.6 584.9L491.2 597.9Z" fill="#800000"/><path d="M478 846.4L484.6 859.1L491.2 846.4Z" fill="#00004c"/><path d="M478 597.9L484.6 584.9L491.2 597.9V846.4L484.6 859.1L478 846.4Z" fill="none" stroke="#000" stroke-width="1.2" stroke-linejoin="miter"/><path d="M491.2 597.9L495.7 597.9" stroke="#111" stroke-width="1.3"/><text x="499.4" y="602.6" font-size="12.5">0.030</text><path d="M491.2 631L495.7 631" stroke="#111" stroke-width="1.3"/><text x="499.4" y="635.7" font-size="12.5">0.028</text><path d="M491.2 664.2L495.7 664.2" stroke="#111" stroke-width="1.3"/><text x="499.4" y="668.9" font-size="12.5">0.026</text><path d="M491.2 697.3L495.7 697.3" stroke="#111" stroke-width="1.3"/><text x="499.4" y="702" font-size="12.5">0.024</text><path d="M491.2 730.4L495.7 730.4" stroke="#111" stroke-width="1.3"/><text x="499.4" y="735.1" font-size="12.5">0.022</text><path d="M491.2 763.5L495.7 763.5" stroke="#111" stroke-width="1.3"/><text x="499.4" y="768.2" font-size="12.5">0.020</text><path d="M491.2 796.7L495.7 796.7" stroke="#111" stroke-width="1.3"/><text x="499.4" y="801.4" font-size="12.5">0.018</text><path d="M491.2 829.8L495.7 829.8" stroke="#111" stroke-width="1.3"/><text x="499.4" y="834.5" font-size="12.5">0.016</text><text x="549.5" y="722" font-size="12.9" text-anchor="middle" transform="rotate(-90 549.5 722)" textLength="239.5" lengthAdjust="spacingAndGlyphs">Zonal average SA/SO2 ratio (AOD/DU)</text>
<text x="62" y="889" font-size="12.5" text-anchor="middle" transform="rotate(-45 62 889)">13-01</text>
<text x="107" y="889" font-size="12.5" text-anchor="middle" transform="rotate(-45 107 889)">17-01</text>
<text x="152.1" y="889" font-size="12.5" text-anchor="middle" transform="rotate(-45 152.1 889)">21-01</text>
<text x="197.1" y="889" font-size="12.5" text-anchor="middle" transform="rotate(-45 197.1 889)">25-01</text>
<text x="242.1" y="889" font-size="12.5" text-anchor="middle" transform="rotate(-45 242.1 889)">29-01</text>
<text x="275.9" y="889" font-size="12.5" text-anchor="middle" transform="rotate(-45 275.9 889)">01-02</text>
<text x="320.9" y="889" font-size="12.5" text-anchor="middle" transform="rotate(-45 320.9 889)">05-02</text>
<text x="365.9" y="889" font-size="12.5" text-anchor="middle" transform="rotate(-45 365.9 889)">09-02</text>
<text x="411" y="889" font-size="12.5" text-anchor="middle" transform="rotate(-45 411 889)">13-02</text>
<text x="456" y="889" font-size="12.5" text-anchor="middle" transform="rotate(-45 456 889)">17-02</text>
<text x="256" y="922" font-size="20" text-anchor="middle">Time</text>
<g clip-path="url(#cd)">
<g filter="url(#bl)"><path fill="#0094ff" d="M715 40.2h155.3v8.8h-155.3zM1242.1 40.2h54.3v8.8h-54.3zM1316.2 40.2h10.3v8.8h-10.3zM715 48.8h163.3v3.8h-163.3zM1244.1 48.8h50.3v3.8h-50.3zM1318.2 48.8h8.3v3.8h-8.3zM715 52.4h213.4v3.8h-213.4zM1244.1 52.4h48.3v3.8h-48.3zM1318.2 52.4h8.3v3.8h-8.3zM715 55.9h215.4v3.8h-215.4zM1244.1 55.9h44.3v3.8h-44.3zM1320.2 55.9h8.3v3.8h-8.3zM715 59.5h215.4v3.8h-215.4zM1246.1 59.5h20.3v3.8h-20.3zM1320.2 59.5h8.3v3.8h-8.3zM715 63.1h215.4v3.8h-215.4zM1244.1 63.1h16.3v3.8h-16.3zM1322.2 63.1h6.3v3.8h-6.3zM715 66.7h213.4v3.8h-213.4zM1244.1 66.7h12.3v3.8h-12.3zM1322.2 66.7h6.3v3.8h-6.3zM715 70.2h211.4v3.8h-211.4zM1242.1 70.2h12.3v3.8h-12.3zM1322.2 70.2h8.3v3.8h-8.3zM715 73.8h209.4v3.8h-209.4zM1238.1 73.8h12.3v3.8h-12.3zM1322.2 73.8h8.3v3.8h-8.3zM715 77.4h207.4v3.8h-207.4zM1234.1 77.4h12.3v3.8h-12.3zM1324.2 77.4h10.3v3.8h-10.3zM715 81h205.4v3.8h-205.4zM1232.1 81h10.3v3.8h-10.3zM1324.2 81h60.3v3.8h-60.3zM715 84.5h203.4v3.8h-203.4zM1228.1 84.5h10.3v3.8h-10.3zM1326.2 84.5h62.3v3.8h-62.3zM715 88.1h203.4v3.8h-203.4zM1116.1 88.1h2.3v3.8h-2.3zM1224.1 88.1h10.3v3.8h-10.3zM1328.2 88.1h62.3v3.8h-62.3zM864 91.7h52.3v3.8h-52.3zM1116.1 91.7h2.3v3.8h-2.3zM1210.1 91.7h20.3v3.8h-20.3zM1330.2 91.7h62.3v3.8h-62.3zM870 95.2h44.3v3.8h-44.3zM1204.1 95.2h18.3v3.8h-18.3zM1332.2 95.2h26.3v3.8h-26.3zM1388.2 95.2h6.3v3.8h-6.3zM880 98.8h28.3v3.8h-28.3zM1200.1 98.8h8.3v3.8h-8.3zM1390.2 98.8h4.3v3.8h-4.3zM1198.1 102.4h6.3v3.8h-6.3zM1394.2 102.4h2.3v3.8h-2.3zM1576.2 102.4h14.3v3.8h-14.3zM1194.1 106h6.3v3.8h-6.3zM1396.2 106h4.3v3.8h-4.3zM1570.2 106h8.3v3.8h-8.3zM1588.2 106h6.3v3.8h-6.3zM1118.1 109.5h2.3v3.8h-2.3zM1190.1 109.5h6.3v3.8h-6.3zM1398.2 109.5h4.3v3.8h-4.3zM1560.2 109.5h14.3v3.8h-14.3zM1590.2 109.5h6.3v3.8h-6.3zM1182.1 113.1h10.3v3.8h-10.3zM1400.2 113.1h2.3v3.8h-2.3zM1550.2 113.1h14.3v3.8h-14.3zM1594.2 113.1h8.3v3.8h-8.3zM1838.3 113.1h15.3v3.8h-15.3zM1178.1 116.7h8.3v3.8h-8.3zM1402.2 116.7h2.3v3.8h-2.3zM1546.2 116.7h4.3v3.8h-4.3zM1598.2 116.7h24.3v3.8h-24.3zM1696.3 116.7h46.3v3.8h-46.3zM1834.3 116.7h19.3v3.8h-19.3zM1120.1 120.3h2.3v3.8h-2.3zM1174.1 120.3h8.3v3.8h-8.3zM1404.2 120.3h2.3v3.8h-2.3zM1544.2 120.3h2.3v3.8h-2.3zM1620.2 120.3h10.3v3.8h-10.3zM1688.3 120.3h62.3v3.8h-62.3zM1832.3 120.3h6.3v3.8h-6.3zM1168.1 123.8h10.3v3.8h-10.3zM1406.2 123.8h2.3v3.8h-2.3zM1542.2 123.8h2.3v3.8h-2.3zM1628.2 123.8h26.3v3.8h-26.3zM1682.3 123.8h12.3v3.8h-12.3zM1742.3 123.8h14.3v3.8h-14.3zM1830.3 123.8h6.3v3.8h-6.3zM1122.1 127.4h2.3v3.8h-2.3zM1148.1 127.4h26.3v3.8h-26.3zM1540.2 127.4h2.3v3.8h-2.3zM1642.2 127.4h50.3v3.8h-50.3zM1746.3 127.4h22.3v3.8h-22.3zM1830.3 127.4h4.3v3.8h-4.3zM1142.1 131h24.3v3.8h-24.3zM1538.2 131h2.3v3.8h-2.3zM1662.3 131h28.3v3.8h-28.3zM1748.3 131h28.3v3.8h-28.3zM1828.3 131h4.3v3.8h-4.3zM1124.1 134.6h4.3v3.8h-4.3zM1136.1 134.6h8.3v3.8h-8.3zM1408.2 134.6h2.3v3.8h-2.3zM1536.2 134.6h4.3v3.8h-4.3zM1670.3 134.6h20.3v3.8h-20.3zM1748.3 134.6h42.3v3.8h-42.3zM1826.3 134.6h6.3v3.8h-6.3zM1130.1 138.1h8.3v3.8h-8.3zM1534.2 138.1h4.3v3.8h-4.3zM1670.3 138.1h24.3v3.8h-24.3zM1748.3 138.1h66.3v3.8h-66.3zM1824.3 138.1h8.3v3.8h-8.3zM1532.2 141.7h4.3v3.8h-4.3zM1670.3 141.7h30.3v3.8h-30.3zM1746.3 141.7h34.3v3.8h-34.3zM1788.3 141.7h46.3v3.8h-46.3zM1530.2 145.3h2.3v3.8h-2.3zM1670.3 145.3h6.3v3.8h-6.3zM1692.3 145.3h24.3v3.8h-24.3zM1730.3 145.3h46.3v3.8h-46.3zM1814.3 145.3h26.3v3.8h-26.3zM1528.2 148.9h4.3v3.8h-4.3zM1670.3 148.9h2.3v3.8h-2.3zM1700.3 148.9h74.3v3.8h-74.3zM1818.3 148.9h35.3v3.8h-35.3zM1410.2 152.4h2.3v3.8h-2.3zM1526.2 152.4h4.3v3.8h-4.3zM1670.3 152.4h2.3v3.8h-2.3zM1748.3 152.4h26.3v3.8h-26.3zM1818.3 152.4h35.3v3.8h-35.3zM1410.2 156h2.3v3.8h-2.3zM1526.2 156h6.3v3.8h-6.3zM1754.3 156h20.3v3.8h-20.3zM1818.3 156h35.3v3.8h-35.3zM1528.2 159.6h4.3v3.8h-4.3zM1668.3 159.6h2.3v3.8h-2.3zM1756.3 159.6h20.3v3.8h-20.3zM1814.3 159.6h20.3v3.8h-20.3zM1530.2 163.2h4.3v3.8h-4.3zM1758.3 163.2h20.3v3.8h-20.3zM1792.3 163.2h32.3v3.8h-32.3zM1534.2 166.8h4.3v3.8h-4.3zM1760.3 166.8h56.3v3.8h-56.3zM1536.2 170.3h6.3v3.8h-6.3zM1762.3 170.3h32.3v3.8h-32.3zM1412.2 173.9h2.3v3.8h-2.3zM1540.2 173.9h6.3v3.8h-6.3zM1766.3 173.9h18.3v3.8h-18.3zM1412.2 177.5h2.3v3.8h-2.3zM1548.2 177.5h16.3v3.8h-16.3zM1562.2 181.1h10.3v3.8h-10.3zM1570.2 184.6h8.3v3.8h-8.3zM1572.2 188.2h30.3v3.8h-30.3zM1576.2 191.8h38.3v3.8h-38.3zM1278.1 195.3h22.3v3.8h-22.3zM1578.2 195.3h40.3v3.8h-40.3zM1272.1 198.9h4.3v3.8h-4.3zM1302.2 198.9h16.3v3.8h-16.3zM1582.2 198.9h38.3v3.8h-38.3zM1268.1 202.5h4.3v3.8h-4.3zM1318.2 202.5h8.3v3.8h-8.3zM1614.2 202.5h8.3v3.8h-8.3zM1266.1 206.1h2.3v3.8h-2.3zM1324.2 206.1h8.3v3.8h-8.3zM1412.2 206.1h2.3v3.8h-2.3zM1618.2 206.1h6.3v3.8h-6.3zM880 209.6h22.3v3.8h-22.3zM1264.1 209.6h2.3v3.8h-2.3zM1326.2 209.6h12.3v3.8h-12.3zM1410.2 209.6h2.3v3.8h-2.3zM1620.2 209.6h6.3v3.8h-6.3zM872 213.2h40.3v3.8h-40.3zM1262.1 213.2h2.3v3.8h-2.3zM1330.2 213.2h12.3v3.8h-12.3zM1408.2 213.2h4.3v3.8h-4.3zM1620.2 213.2h8.3v3.8h-8.3zM1666.3 213.2h2.3v3.8h-2.3zM824 216.8h92.3v3.8h-92.3zM1260.1 216.8h4.3v3.8h-4.3zM1332.2 216.8h14.3v3.8h-14.3zM1406.2 216.8h4.3v3.8h-4.3zM1622.2 216.8h8.3v3.8h-8.3zM1660.2 216.8h8.3v3.8h-8.3zM806 220.4h114.3v3.8h-114.3zM1260.1 220.4h2.3v3.8h-2.3zM1336.2 220.4h12.3v3.8h-12.3zM1406.2 220.4h4.3v3.8h-4.3zM1622.2 220.4h12.3v3.8h-12.3zM1658.2 220.4h10.3v3.8h-10.3zM776 223.9h32.3v3.8h-32.3zM908 223.9h14.3v3.8h-14.3zM1258.1 223.9h2.3v3.8h-2.3zM1340.2 223.9h10.3v3.8h-10.3zM1404.2 223.9h4.3v3.8h-4.3zM1624.2 223.9h44.3v3.8h-44.3zM770 227.5h6.3v3.8h-6.3zM914.1 227.5h8.3v3.8h-8.3zM1258.1 227.5h2.3v3.8h-2.3zM1342.2 227.5h8.3v3.8h-8.3zM1402.2 227.5h6.3v3.8h-6.3zM1624.2 227.5h44.3v3.8h-44.3zM768 231.1h4.3v3.8h-4.3zM916.1 231.1h8.3v3.8h-8.3zM1256.1 231.1h4.3v3.8h-4.3zM1344.2 231.1h8.3v3.8h-8.3zM1402.2 231.1h4.3v3.8h-4.3zM1626.2 231.1h42.3v3.8h-42.3zM1764.3 231.1h4.3v3.8h-4.3zM766 234.7h4.3v3.8h-4.3zM918.1 234.7h8.3v3.8h-8.3zM1256.1 234.7h2.3v3.8h-2.3zM1344.2 234.7h8.3v3.8h-8.3zM1400.2 234.7h6.3v3.8h-6.3zM1626.2 234.7h42.3v3.8h-42.3zM1760.3 234.7h12.3v3.8h-12.3zM766 238.2h2.3v3.8h-2.3zM920.1 238.2h8.3v3.8h-8.3zM1256.1 238.2h4.3v3.8h-4.3zM1344.2 238.2h8.3v3.8h-8.3zM1400.2 238.2h8.3v3.8h-8.3zM1626.2 238.2h42.3v3.8h-42.3zM1756.3 238.2h16.3v3.8h-16.3zM766 241.8h2.3v3.8h-2.3zM920.1 241.8h10.3v3.8h-10.3zM1256.1 241.8h4.3v3.8h-4.3zM1344.2 241.8h8.3v3.8h-8.3zM1400.2 241.8h10.3v3.8h-10.3zM1626.2 241.8h42.3v3.8h-42.3zM1754.3 241.8h20.3v3.8h-20.3zM766 245.4h2.3v3.8h-2.3zM922.1 245.4h12.3v3.8h-12.3zM1258.1 245.4h2.3v3.8h-2.3zM1342.2 245.4h10.3v3.8h-10.3zM1402.2 245.4h10.3v3.8h-10.3zM1476.2 245.4h4.3v3.8h-4.3zM1626.2 245.4h44.3v3.8h-44.3zM1750.3 245.4h24.3v3.8h-24.3zM766 249h2.3v3.8h-2.3zM924.1 249h24.3v3.8h-24.3zM1258.1 249h4.3v3.8h-4.3zM1340.2 249h12.3v3.8h-12.3zM1404.2 249h12.3v3.8h-12.3zM1468.2 249h8.3v3.8h-8.3zM1478.2 249h2.3v3.8h-2.3zM1626.2 249h14.3v3.8h-14.3zM1656.2 249h14.3v3.8h-14.3zM1742.3 249h16.3v3.8h-16.3zM1768.3 249h6.3v3.8h-6.3zM766 252.6h2.3v3.8h-2.3zM924.1 252.6h28.3v3.8h-28.3zM1260.1 252.6h6.3v3.8h-6.3zM1334.2 252.6h18.3v3.8h-18.3zM1406.2 252.6h68.3v3.8h-68.3zM1626.2 252.6h10.3v3.8h-10.3zM1660.2 252.6h6.3v3.8h-6.3zM1668.3 252.6h2.3v3.8h-2.3zM1724.3 252.6h30.3v3.8h-30.3zM1768.3 252.6h6.3v3.8h-6.3zM766 256.1h2.3v3.8h-2.3zM928.1 256.1h28.3v3.8h-28.3zM1264.1 256.1h6.3v3.8h-6.3zM1314.2 256.1h40.3v3.8h-40.3zM1390.2 256.1h20.3v3.8h-20.3zM1420.2 256.1h20.3v3.8h-20.3zM1626.2 256.1h8.3v3.8h-8.3zM1724.3 256.1h30.3v3.8h-30.3zM1766.3 256.1h8.3v3.8h-8.3zM766 259.7h2.3v3.8h-2.3zM932.1 259.7h28.3v3.8h-28.3zM1266.1 259.7h8.3v3.8h-8.3zM1312.2 259.7h18.3v3.8h-18.3zM1338.2 259.7h100.3v3.8h-100.3zM1628.2 259.7h6.3v3.8h-6.3zM1670.3 259.7h2.3v3.8h-2.3zM1724.3 259.7h48.3v3.8h-48.3zM766 263.3h2.3v3.8h-2.3zM952.1 263.3h12.3v3.8h-12.3zM1266.1 263.3h8.3v3.8h-8.3zM1346.2 263.3h38.3v3.8h-38.3zM1408.2 263.3h36.3v3.8h-36.3zM1628.2 263.3h6.3v3.8h-6.3zM1668.3 263.3h2.3v3.8h-2.3zM1734.3 263.3h30.3v3.8h-30.3zM766 266.8h2.3v3.8h-2.3zM958.1 266.8h12.3v3.8h-12.3zM1266.1 266.8h6.3v3.8h-6.3zM1354.2 266.8h14.3v3.8h-14.3zM1440.2 266.8h10.3v3.8h-10.3zM1472.2 266.8h2.3v3.8h-2.3zM1478.2 266.8h2.3v3.8h-2.3zM1628.2 266.8h6.3v3.8h-6.3zM1666.3 266.8h4.3v3.8h-4.3zM766 270.4h2.3v3.8h-2.3zM964.1 270.4h10.3v3.8h-10.3zM1264.1 270.4h6.3v3.8h-6.3zM1446.2 270.4h34.3v3.8h-34.3zM1630.2 270.4h4.3v3.8h-4.3zM1666.3 270.4h4.3v3.8h-4.3zM766 274h2.3v3.8h-2.3zM970.1 274h10.3v3.8h-10.3zM1264.1 274h4.3v3.8h-4.3zM1452.2 274h18.3v3.8h-18.3zM1630.2 274h6.3v3.8h-6.3zM1664.3 274h4.3v3.8h-4.3zM766 277.6h2.3v3.8h-2.3zM974.1 277.6h14.3v3.8h-14.3zM1226.1 277.6h4.3v3.8h-4.3zM1264.1 277.6h4.3v3.8h-4.3zM1632.2 277.6h6.3v3.8h-6.3zM1660.2 277.6h8.3v3.8h-8.3zM766 281.1h2.3v3.8h-2.3zM980.1 281.1h18.3v3.8h-18.3zM1222.1 281.1h10.3v3.8h-10.3zM1264.1 281.1h4.3v3.8h-4.3zM1632.2 281.1h10.3v3.8h-10.3zM1656.2 281.1h12.3v3.8h-12.3zM766 284.7h2.3v3.8h-2.3zM990.1 284.7h14.3v3.8h-14.3zM1222.1 284.7h10.3v3.8h-10.3zM1266.1 284.7h2.3v3.8h-2.3zM1634.2 284.7h32.3v3.8h-32.3zM766 288.3h2.3v3.8h-2.3zM996.1 288.3h14.3v3.8h-14.3zM1222.1 288.3h10.3v3.8h-10.3zM1266.1 288.3h4.3v3.8h-4.3zM1638.2 288.3h28.3v3.8h-28.3zM766 291.9h2.3v3.8h-2.3zM998.1 291.9h14.3v3.8h-14.3zM1222.1 291.9h10.3v3.8h-10.3zM1268.1 291.9h2.3v3.8h-2.3zM1648.2 291.9h14.3v3.8h-14.3zM766 295.4h2.3v3.8h-2.3zM1000.1 295.4h14.3v3.8h-14.3zM1224.1 295.4h6.3v3.8h-6.3zM1270.1 295.4h2.3v3.8h-2.3zM766 299h2.3v3.8h-2.3zM1000.1 299h16.3v3.8h-16.3zM1270.1 299h4.3v3.8h-4.3zM766 302.6h2.3v3.8h-2.3zM1000.1 302.6h16.3v3.8h-16.3zM1272.1 302.6h2.3v3.8h-2.3zM930.1 306.2h18.3v3.8h-18.3zM998.1 306.2h18.3v3.8h-18.3zM1274.1 306.2h2.3v3.8h-2.3zM922.1 309.7h6.3v3.8h-6.3zM948.1 309.7h22.3v3.8h-22.3zM996.1 309.7h18.3v3.8h-18.3zM1274.1 309.7h2.3v3.8h-2.3zM1364.2 309.7h32.3v3.8h-32.3zM1400.2 309.7h12.3v3.8h-12.3zM1662.3 309.7h16.3v3.8h-16.3zM768 313.3h2.3v3.8h-2.3zM918.1 313.3h4.3v3.8h-4.3zM964.1 313.3h20.3v3.8h-20.3zM986.1 313.3h24.3v3.8h-24.3zM1276.1 313.3h2.3v3.8h-2.3zM1354.2 313.3h10.3v3.8h-10.3zM1418.2 313.3h16.3v3.8h-16.3zM1658.2 313.3h10.3v3.8h-10.3zM1718.3 313.3h4.3v3.8h-4.3zM768 316.9h2.3v3.8h-2.3zM914.1 316.9h4.3v3.8h-4.3zM976.1 316.9h22.3v3.8h-22.3zM1278.1 316.9h2.3v3.8h-2.3zM1340.2 316.9h16.3v3.8h-16.3zM1436.2 316.9h26.3v3.8h-26.3zM1656.2 316.9h8.3v3.8h-8.3zM1726.3 316.9h6.3v3.8h-6.3zM912.1 320.5h4.3v3.8h-4.3zM1278.1 320.5h4.3v3.8h-4.3zM1336.2 320.5h14.3v3.8h-14.3zM1448.2 320.5h16.3v3.8h-16.3zM1536.2 320.5h6.3v3.8h-6.3zM1554.2 320.5h4.3v3.8h-4.3zM1654.2 320.5h6.3v3.8h-6.3zM1738.3 320.5h6.3v3.8h-6.3zM910.1 324h2.3v3.8h-2.3zM1280.1 324h4.3v3.8h-4.3zM1336.2 324h8.3v3.8h-8.3zM1462.2 324h4.3v3.8h-4.3zM1530.2 324h4.3v3.8h-4.3zM1560.2 324h2.3v3.8h-2.3zM1652.2 324h6.3v3.8h-6.3zM1746.3 324h38.3v3.8h-38.3zM772 327.6h2.3v3.8h-2.3zM908 327.6h4.3v3.8h-4.3zM1282.1 327.6h6.3v3.8h-6.3zM1334.2 327.6h6.3v3.8h-6.3zM1464.2 327.6h2.3v3.8h-2.3zM1528.2 327.6h2.3v3.8h-2.3zM1564.2 327.6h2.3v3.8h-2.3zM1650.2 327.6h6.3v3.8h-6.3zM1760.3 327.6h26.3v3.8h-26.3zM782 331.2h10.3v3.8h-10.3zM800 331.2h6.3v3.8h-6.3zM906 331.2h4.3v3.8h-4.3zM1286.2 331.2h8.3v3.8h-8.3zM1334.2 331.2h6.3v3.8h-6.3zM1464.2 331.2h4.3v3.8h-4.3zM1524.2 331.2h2.3v3.8h-2.3zM1566.2 331.2h2.3v3.8h-2.3zM1650.2 331.2h4.3v3.8h-4.3zM1782.3 331.2h8.3v3.8h-8.3zM808 334.8h2.3v3.8h-2.3zM904 334.8h4.3v3.8h-4.3zM1290.2 334.8h16.3v3.8h-16.3zM1334.2 334.8h6.3v3.8h-6.3zM1466.2 334.8h2.3v3.8h-2.3zM1522.2 334.8h2.3v3.8h-2.3zM1568.2 334.8h2.3v3.8h-2.3zM1648.2 334.8h4.3v3.8h-4.3zM1786.3 334.8h6.3v3.8h-6.3zM810 338.3h2.3v3.8h-2.3zM902 338.3h4.3v3.8h-4.3zM1294.2 338.3h22.3v3.8h-22.3zM1334.2 338.3h4.3v3.8h-4.3zM1466.2 338.3h2.3v3.8h-2.3zM1520.2 338.3h2.3v3.8h-2.3zM1570.2 338.3h4.3v3.8h-4.3zM1646.2 338.3h4.3v3.8h-4.3zM1788.3 338.3h8.3v3.8h-8.3zM1822.3 338.3h10.3v3.8h-10.3zM812 341.9h2.3v3.8h-2.3zM902 341.9h2.3v3.8h-2.3zM1310.2 341.9h12.3v3.8h-12.3zM1334.2 341.9h4.3v3.8h-4.3zM1468.2 341.9h2.3v3.8h-2.3zM1518.2 341.9h2.3v3.8h-2.3zM1572.2 341.9h4.3v3.8h-4.3zM1646.2 341.9h2.3v3.8h-2.3zM1790.3 341.9h36.3v3.8h-36.3zM814 345.5h2.3v3.8h-2.3zM900 345.5h4.3v3.8h-4.3zM1318.2 345.5h8.3v3.8h-8.3zM1332.2 345.5h6.3v3.8h-6.3zM1468.2 345.5h2.3v3.8h-2.3zM1516.2 345.5h2.3v3.8h-2.3zM1576.2 345.5h2.3v3.8h-2.3zM1644.2 345.5h4.3v3.8h-4.3zM1792.3 345.5h30.3v3.8h-30.3zM816 349.1h2.3v3.8h-2.3zM898 349.1h4.3v3.8h-4.3zM1322.2 349.1h14.3v3.8h-14.3zM1470.2 349.1h2.3v3.8h-2.3zM1514.2 349.1h2.3v3.8h-2.3zM1578.2 349.1h2.3v3.8h-2.3zM1642.2 349.1h4.3v3.8h-4.3zM1796.3 349.1h24.3v3.8h-24.3zM896 352.6h4.3v3.8h-4.3zM1324.2 352.6h12.3v3.8h-12.3zM1470.2 352.6h2.3v3.8h-2.3zM1580.2 352.6h2.3v3.8h-2.3zM1642.2 352.6h2.3v3.8h-2.3zM1798.3 352.6h20.3v3.8h-20.3zM818 356.2h2.3v3.8h-2.3zM894 356.2h4.3v3.8h-4.3zM1328.2 356.2h4.3v3.8h-4.3zM1512.2 356.2h2.3v3.8h-2.3zM1580.2 356.2h4.3v3.8h-4.3zM1640.2 356.2h4.3v3.8h-4.3zM820 359.8h2.3v3.8h-2.3zM894 359.8h2.3v3.8h-2.3zM1472.2 359.8h2.3v3.8h-2.3zM1582.2 359.8h2.3v3.8h-2.3zM1638.2 359.8h4.3v3.8h-4.3zM892 363.4h2.3v3.8h-2.3zM1472.2 363.4h2.3v3.8h-2.3zM1510.2 363.4h2.3v3.8h-2.3zM1584.2 363.4h4.3v3.8h-4.3zM1634.2 363.4h6.3v3.8h-6.3zM822 366.9h2.3v3.8h-2.3zM890 366.9h2.3v3.8h-2.3zM1472.2 366.9h2.3v3.8h-2.3zM1586.2 366.9h4.3v3.8h-4.3zM1632.2 366.9h4.3v3.8h-4.3zM824 370.5h2.3v3.8h-2.3zM888 370.5h2.3v3.8h-2.3zM1472.2 370.5h2.3v3.8h-2.3zM1508.2 370.5h2.3v3.8h-2.3zM1590.2 370.5h6.3v3.8h-6.3zM1630.2 370.5h4.3v3.8h-4.3zM886 374.1h2.3v3.8h-2.3zM1506.2 374.1h2.3v3.8h-2.3zM1596.2 374.1h2.3v3.8h-2.3zM1628.2 374.1h4.3v3.8h-4.3zM826 377.7h2.3v3.8h-2.3zM884 377.7h2.3v3.8h-2.3zM1504.2 377.7h2.3v3.8h-2.3zM1598.2 377.7h2.3v3.8h-2.3zM1626.2 377.7h4.3v3.8h-4.3zM826 381.2h2.3v3.8h-2.3zM882 381.2h2.3v3.8h-2.3zM1600.2 381.2h2.3v3.8h-2.3zM1626.2 381.2h2.3v3.8h-2.3zM880 384.8h2.3v8.8h-2.3zM1474.2 384.8h2.3v8.8h-2.3zM1502.2 384.8h2.3v8.8h-2.3zM1600.2 384.8h2.3v8.8h-2.3zM1624.2 384.8h4.3v8.8h-4.3z"/><path fill="#0080ff" d="M870 40.2h144.3v8.8h-144.3zM1112.1 40.2h4.3v8.8h-4.3zM1296.2 40.2h20.3v8.8h-20.3zM878 48.8h136.3v3.8h-136.3zM1114.1 48.8h2.3v3.8h-2.3zM1294.2 48.8h24.3v3.8h-24.3zM928.1 52.4h16.3v3.8h-16.3zM996.1 52.4h8.3v3.8h-8.3zM1114.1 52.4h2.3v3.8h-2.3zM1292.2 52.4h26.3v3.8h-26.3zM930.1 55.9h12.3v3.8h-12.3zM1114.1 55.9h2.3v3.8h-2.3zM1288.2 55.9h32.3v3.8h-32.3zM930.1 59.5h10.3v3.8h-10.3zM1266.1 59.5h54.3v3.8h-54.3zM930.1 63.1h10.3v3.8h-10.3zM1260.1 63.1h62.3v3.8h-62.3zM928.1 66.7h10.3v3.8h-10.3zM1256.1 66.7h66.3v3.8h-66.3zM926.1 70.2h12.3v3.8h-12.3zM1254.1 70.2h52.3v3.8h-52.3zM1312.2 70.2h10.3v3.8h-10.3zM924.1 73.8h12.3v3.8h-12.3zM1250.1 73.8h54.3v3.8h-54.3zM1314.2 73.8h8.3v3.8h-8.3zM922.1 77.4h12.3v3.8h-12.3zM1246.1 77.4h56.3v3.8h-56.3zM1314.2 77.4h10.3v3.8h-10.3zM920.1 81h12.3v3.8h-12.3zM1242.1 81h56.3v3.8h-56.3zM1314.2 81h10.3v3.8h-10.3zM918.1 84.5h10.3v3.8h-10.3zM1238.1 84.5h12.3v3.8h-12.3zM1316.2 84.5h10.3v3.8h-10.3zM918.1 88.1h8.3v3.8h-8.3zM1234.1 88.1h8.3v3.8h-8.3zM1318.2 88.1h10.3v3.8h-10.3zM715 91.7h149.3v3.8h-149.3zM916.1 91.7h8.3v3.8h-8.3zM1230.1 91.7h8.3v3.8h-8.3zM1320.2 91.7h10.3v3.8h-10.3zM715 95.2h155.3v3.8h-155.3zM914.1 95.2h10.3v3.8h-10.3zM1116.1 95.2h2.3v3.8h-2.3zM1222.1 95.2h10.3v3.8h-10.3zM1322.2 95.2h10.3v3.8h-10.3zM1358.2 95.2h30.3v3.8h-30.3zM715 98.8h165.3v3.8h-165.3zM908 98.8h14.3v3.8h-14.3zM1116.1 98.8h2.3v3.8h-2.3zM1208.1 98.8h18.3v3.8h-18.3zM1324.2 98.8h66.3v3.8h-66.3zM715 102.4h205.4v3.8h-205.4zM1204.1 102.4h14.3v3.8h-14.3zM1326.2 102.4h48.3v3.8h-48.3zM1382.2 102.4h12.3v3.8h-12.3zM715 106h47.3v3.8h-47.3zM830 106h88.3v3.8h-88.3zM1200.1 106h8.3v3.8h-8.3zM1328.2 106h36.3v3.8h-36.3zM1390.2 106h6.3v3.8h-6.3zM1578.2 106h10.3v3.8h-10.3zM715 109.5h35.3v3.8h-35.3zM872 109.5h42.3v3.8h-42.3zM1196.1 109.5h6.3v3.8h-6.3zM1328.2 109.5h32.3v3.8h-32.3zM1394.2 109.5h4.3v3.8h-4.3zM1574.2 109.5h16.3v3.8h-16.3zM1118.1 113.1h2.3v3.8h-2.3zM1192.1 113.1h6.3v3.8h-6.3zM1332.2 113.1h24.3v3.8h-24.3zM1396.2 113.1h4.3v3.8h-4.3zM1564.2 113.1h12.3v3.8h-12.3zM1588.2 113.1h6.3v3.8h-6.3zM1186.1 116.7h8.3v3.8h-8.3zM1336.2 116.7h14.3v3.8h-14.3zM1400.2 116.7h2.3v3.8h-2.3zM1550.2 116.7h18.3v3.8h-18.3zM1592.2 116.7h6.3v3.8h-6.3zM1182.1 120.3h6.3v3.8h-6.3zM1402.2 120.3h2.3v3.8h-2.3zM1546.2 120.3h4.3v3.8h-4.3zM1596.2 120.3h24.3v3.8h-24.3zM1838.3 120.3h15.3v3.8h-15.3zM1178.1 123.8h6.3v3.8h-6.3zM1404.2 123.8h2.3v3.8h-2.3zM1544.2 123.8h4.3v3.8h-4.3zM1616.2 123.8h12.3v3.8h-12.3zM1694.3 123.8h48.3v3.8h-48.3zM1836.3 123.8h17.3v3.8h-17.3zM1174.1 127.4h6.3v3.8h-6.3zM1406.2 127.4h2.3v3.8h-2.3zM1542.2 127.4h4.3v3.8h-4.3zM1626.2 127.4h16.3v3.8h-16.3zM1692.3 127.4h54.3v3.8h-54.3zM1834.3 127.4h19.3v3.8h-19.3zM1122.1 131h2.3v3.8h-2.3zM1166.1 131h10.3v3.8h-10.3zM1540.2 131h4.3v3.8h-4.3zM1634.2 131h28.3v3.8h-28.3zM1690.3 131h22.3v3.8h-22.3zM1730.3 131h18.3v3.8h-18.3zM1832.3 131h12.3v3.8h-12.3zM1144.1 134.6h28.3v3.8h-28.3zM1540.2 134.6h2.3v3.8h-2.3zM1656.2 134.6h14.3v3.8h-14.3zM1690.3 134.6h58.3v3.8h-58.3zM1832.3 134.6h21.3v3.8h-21.3zM1124.1 138.1h6.3v3.8h-6.3zM1138.1 138.1h16.3v3.8h-16.3zM1408.2 138.1h2.3v3.8h-2.3zM1538.2 138.1h2.3v3.8h-2.3zM1668.3 138.1h2.3v3.8h-2.3zM1694.3 138.1h54.3v3.8h-54.3zM1832.3 138.1h21.3v3.8h-21.3zM1130.1 141.7h8.3v3.8h-8.3zM1536.2 141.7h2.3v3.8h-2.3zM1668.3 141.7h2.3v3.8h-2.3zM1700.3 141.7h46.3v3.8h-46.3zM1780.3 141.7h8.3v3.8h-8.3zM1834.3 141.7h19.3v3.8h-19.3zM1532.2 145.3h6.3v3.8h-6.3zM1716.3 145.3h14.3v3.8h-14.3zM1776.3 145.3h38.3v3.8h-38.3zM1840.3 145.3h13.3v3.8h-13.3zM1532.2 148.9h4.3v3.8h-4.3zM1774.3 148.9h44.3v3.8h-44.3zM1530.2 152.4h6.3v3.8h-6.3zM1774.3 152.4h44.3v3.8h-44.3zM1532.2 156h4.3v3.8h-4.3zM1668.3 156h2.3v3.8h-2.3zM1774.3 156h44.3v3.8h-44.3zM1410.2 159.6h2.3v3.8h-2.3zM1532.2 159.6h6.3v3.8h-6.3zM1776.3 159.6h38.3v3.8h-38.3zM1534.2 163.2h6.3v3.8h-6.3zM1778.3 163.2h14.3v3.8h-14.3zM1538.2 166.8h4.3v3.8h-4.3zM1542.2 170.3h6.3v3.8h-6.3zM1546.2 173.9h22.3v3.8h-22.3zM1666.3 173.9h2.3v3.8h-2.3zM1564.2 177.5h18.3v3.8h-18.3zM1666.3 177.5h2.3v3.8h-2.3zM1412.2 181.1h2.3v3.8h-2.3zM1572.2 181.1h34.3v3.8h-34.3zM1666.3 181.1h2.3v3.8h-2.3zM1578.2 184.6h34.3v3.8h-34.3zM1666.3 184.6h2.3v3.8h-2.3zM1602.2 188.2h16.3v3.8h-16.3zM1666.3 188.2h2.3v3.8h-2.3zM1276.1 191.8h24.3v3.8h-24.3zM1614.2 191.8h8.3v3.8h-8.3zM1666.3 191.8h2.3v3.8h-2.3zM1272.1 195.3h6.3v3.8h-6.3zM1300.2 195.3h24.3v3.8h-24.3zM1618.2 195.3h6.3v3.8h-6.3zM1666.3 195.3h2.3v3.8h-2.3zM1268.1 198.9h4.3v3.8h-4.3zM1318.2 198.9h16.3v3.8h-16.3zM1412.2 198.9h2.3v3.8h-2.3zM1620.2 198.9h6.3v3.8h-6.3zM1666.3 198.9h2.3v3.8h-2.3zM874 202.5h32.3v3.8h-32.3zM1264.1 202.5h4.3v3.8h-4.3zM1326.2 202.5h16.3v3.8h-16.3zM1412.2 202.5h2.3v3.8h-2.3zM1622.2 202.5h6.3v3.8h-6.3zM1662.3 202.5h6.3v3.8h-6.3zM870 206.1h42.3v3.8h-42.3zM1262.1 206.1h4.3v3.8h-4.3zM1332.2 206.1h14.3v3.8h-14.3zM1408.2 206.1h4.3v3.8h-4.3zM1624.2 206.1h6.3v3.8h-6.3zM1660.2 206.1h8.3v3.8h-8.3zM862 209.6h18.3v3.8h-18.3zM902 209.6h16.3v3.8h-16.3zM1260.1 209.6h4.3v3.8h-4.3zM1338.2 209.6h10.3v3.8h-10.3zM1406.2 209.6h4.3v3.8h-4.3zM1626.2 209.6h10.3v3.8h-10.3zM1656.2 209.6h12.3v3.8h-12.3zM812 213.2h60.3v3.8h-60.3zM912.1 213.2h10.3v3.8h-10.3zM1260.1 213.2h2.3v3.8h-2.3zM1342.2 213.2h10.3v3.8h-10.3zM1404.2 213.2h4.3v3.8h-4.3zM1628.2 213.2h38.3v3.8h-38.3zM802 216.8h22.3v3.8h-22.3zM916.1 216.8h10.3v3.8h-10.3zM1258.1 216.8h2.3v3.8h-2.3zM1346.2 216.8h8.3v3.8h-8.3zM1402.2 216.8h4.3v3.8h-4.3zM1630.2 216.8h30.3v3.8h-30.3zM774 220.4h32.3v3.8h-32.3zM920.1 220.4h8.3v3.8h-8.3zM1256.1 220.4h4.3v3.8h-4.3zM1348.2 220.4h8.3v3.8h-8.3zM1400.2 220.4h6.3v3.8h-6.3zM1634.2 220.4h24.3v3.8h-24.3zM768 223.9h8.3v3.8h-8.3zM922.1 223.9h10.3v3.8h-10.3zM1254.1 223.9h4.3v3.8h-4.3zM1350.2 223.9h12.3v3.8h-12.3zM1392.2 223.9h12.3v3.8h-12.3zM764 227.5h6.3v3.8h-6.3zM922.1 227.5h24.3v3.8h-24.3zM1254.1 227.5h4.3v3.8h-4.3zM1350.2 227.5h52.3v3.8h-52.3zM762 231.1h6.3v3.8h-6.3zM924.1 231.1h28.3v3.8h-28.3zM1254.1 231.1h2.3v3.8h-2.3zM1352.2 231.1h50.3v3.8h-50.3zM760 234.7h6.3v3.8h-6.3zM926.1 234.7h28.3v3.8h-28.3zM1252.1 234.7h4.3v3.8h-4.3zM1352.2 234.7h48.3v3.8h-48.3zM760 238.2h6.3v3.8h-6.3zM928.1 238.2h26.3v3.8h-26.3zM1252.1 238.2h4.3v3.8h-4.3zM1352.2 238.2h48.3v3.8h-48.3zM760 241.8h6.3v3.8h-6.3zM930.1 241.8h26.3v3.8h-26.3zM1252.1 241.8h4.3v3.8h-4.3zM1352.2 241.8h48.3v3.8h-48.3zM762 245.4h4.3v3.8h-4.3zM934.1 245.4h24.3v3.8h-24.3zM1252.1 245.4h6.3v3.8h-6.3zM1352.2 245.4h50.3v3.8h-50.3zM762 249h4.3v3.8h-4.3zM948.1 249h12.3v3.8h-12.3zM1254.1 249h4.3v3.8h-4.3zM1352.2 249h52.3v3.8h-52.3zM1476.2 249h2.3v3.8h-2.3zM1640.2 249h16.3v3.8h-16.3zM1758.3 249h10.3v3.8h-10.3zM764 252.6h2.3v3.8h-2.3zM952.1 252.6h10.3v3.8h-10.3zM1256.1 252.6h4.3v3.8h-4.3zM1352.2 252.6h54.3v3.8h-54.3zM1474.2 252.6h6.3v3.8h-6.3zM1636.2 252.6h24.3v3.8h-24.3zM1666.3 252.6h2.3v3.8h-2.3zM1754.3 252.6h14.3v3.8h-14.3zM764 256.1h2.3v3.8h-2.3zM956.1 256.1h8.3v3.8h-8.3zM1256.1 256.1h8.3v3.8h-8.3zM1354.2 256.1h36.3v3.8h-36.3zM1410.2 256.1h10.3v3.8h-10.3zM1440.2 256.1h36.3v3.8h-36.3zM1478.2 256.1h2.3v3.8h-2.3zM1634.2 256.1h36.3v3.8h-36.3zM1754.3 256.1h12.3v3.8h-12.3zM764 259.7h2.3v3.8h-2.3zM960.1 259.7h10.3v3.8h-10.3zM1258.1 259.7h8.3v3.8h-8.3zM1438.2 259.7h38.3v3.8h-38.3zM1478.2 259.7h2.3v3.8h-2.3zM1634.2 259.7h36.3v3.8h-36.3zM764 263.3h2.3v3.8h-2.3zM964.1 263.3h12.3v3.8h-12.3zM1258.1 263.3h8.3v3.8h-8.3zM1444.2 263.3h36.3v3.8h-36.3zM1634.2 263.3h34.3v3.8h-34.3zM764 266.8h2.3v3.8h-2.3zM970.1 266.8h10.3v3.8h-10.3zM1222.1 266.8h14.3v3.8h-14.3zM1258.1 266.8h8.3v3.8h-8.3zM1450.2 266.8h22.3v3.8h-22.3zM1474.2 266.8h4.3v3.8h-4.3zM1634.2 266.8h32.3v3.8h-32.3zM762 270.4h4.3v3.8h-4.3zM974.1 270.4h12.3v3.8h-12.3zM1220.1 270.4h18.3v3.8h-18.3zM1258.1 270.4h6.3v3.8h-6.3zM1634.2 270.4h32.3v3.8h-32.3zM762 274h4.3v3.8h-4.3zM980.1 274h16.3v3.8h-16.3zM1218.1 274h22.3v3.8h-22.3zM1258.1 274h6.3v3.8h-6.3zM1636.2 274h28.3v3.8h-28.3zM762 277.6h4.3v3.8h-4.3zM988.1 277.6h22.3v3.8h-22.3zM1218.1 277.6h8.3v3.8h-8.3zM1230.1 277.6h10.3v3.8h-10.3zM1258.1 277.6h6.3v3.8h-6.3zM1638.2 277.6h22.3v3.8h-22.3zM762 281.1h4.3v3.8h-4.3zM998.1 281.1h16.3v3.8h-16.3zM1216.1 281.1h6.3v3.8h-6.3zM1232.1 281.1h8.3v3.8h-8.3zM1258.1 281.1h6.3v3.8h-6.3zM1642.2 281.1h14.3v3.8h-14.3zM762 284.7h4.3v3.8h-4.3zM1004.1 284.7h14.3v3.8h-14.3zM1216.1 284.7h6.3v3.8h-6.3zM1232.1 284.7h8.3v3.8h-8.3zM1260.1 284.7h6.3v3.8h-6.3zM762 288.3h4.3v3.8h-4.3zM1010.1 288.3h10.3v3.8h-10.3zM1216.1 288.3h6.3v3.8h-6.3zM1232.1 288.3h8.3v3.8h-8.3zM1262.1 288.3h4.3v3.8h-4.3zM762 291.9h4.3v3.8h-4.3zM1012.1 291.9h8.3v3.8h-8.3zM1216.1 291.9h6.3v3.8h-6.3zM1232.1 291.9h6.3v3.8h-6.3zM1264.1 291.9h4.3v3.8h-4.3zM762 295.4h4.3v3.8h-4.3zM1014.1 295.4h8.3v3.8h-8.3zM1216.1 295.4h8.3v3.8h-8.3zM1230.1 295.4h8.3v3.8h-8.3zM1266.1 295.4h4.3v3.8h-4.3zM762 299h4.3v3.8h-4.3zM1016.1 299h8.3v3.8h-8.3zM1218.1 299h18.3v3.8h-18.3zM1268.1 299h2.3v3.8h-2.3zM762 302.6h4.3v3.8h-4.3zM1016.1 302.6h8.3v3.8h-8.3zM1220.1 302.6h12.3v3.8h-12.3zM1270.1 302.6h2.3v3.8h-2.3zM762 306.2h6.3v3.8h-6.3zM1016.1 306.2h10.3v3.8h-10.3zM1272.1 306.2h2.3v3.8h-2.3zM762 309.7h6.3v3.8h-6.3zM928.1 309.7h20.3v3.8h-20.3zM1014.1 309.7h14.3v3.8h-14.3zM1272.1 309.7h2.3v3.8h-2.3zM1396.2 309.7h4.3v3.8h-4.3zM762 313.3h6.3v3.8h-6.3zM922.1 313.3h4.3v3.8h-4.3zM948.1 313.3h16.3v3.8h-16.3zM1010.1 313.3h18.3v3.8h-18.3zM1274.1 313.3h2.3v3.8h-2.3zM1364.2 313.3h20.3v3.8h-20.3zM1410.2 313.3h8.3v3.8h-8.3zM1668.3 313.3h50.3v3.8h-50.3zM762 316.9h6.3v3.8h-6.3zM918.1 316.9h4.3v3.8h-4.3zM962.1 316.9h14.3v3.8h-14.3zM998.1 316.9h30.3v3.8h-30.3zM1276.1 316.9h2.3v3.8h-2.3zM1356.2 316.9h6.3v3.8h-6.3zM1426.2 316.9h10.3v3.8h-10.3zM1664.3 316.9h6.3v3.8h-6.3zM1720.3 316.9h6.3v3.8h-6.3zM766 320.5h4.3v3.8h-4.3zM916.1 320.5h2.3v3.8h-2.3zM972.1 320.5h56.3v3.8h-56.3zM1276.1 320.5h2.3v3.8h-2.3zM1350.2 320.5h8.3v3.8h-8.3zM1438.2 320.5h10.3v3.8h-10.3zM1542.2 320.5h12.3v3.8h-12.3zM1660.2 320.5h6.3v3.8h-6.3zM1730.3 320.5h8.3v3.8h-8.3zM770 324h2.3v3.8h-2.3zM912.1 324h4.3v3.8h-4.3zM1020.1 324h6.3v3.8h-6.3zM1278.1 324h2.3v3.8h-2.3zM1344.2 324h12.3v3.8h-12.3zM1444.2 324h18.3v3.8h-18.3zM1534.2 324h4.3v3.8h-4.3zM1558.2 324h2.3v3.8h-2.3zM1658.2 324h6.3v3.8h-6.3zM1740.3 324h6.3v3.8h-6.3zM912.1 327.6h2.3v3.8h-2.3zM1280.1 327.6h2.3v3.8h-2.3zM1340.2 327.6h12.3v3.8h-12.3zM1454.2 327.6h10.3v3.8h-10.3zM1530.2 327.6h2.3v3.8h-2.3zM1562.2 327.6h2.3v3.8h-2.3zM1656.2 327.6h4.3v3.8h-4.3zM1746.3 327.6h14.3v3.8h-14.3zM776 331.2h6.3v3.8h-6.3zM792 331.2h8.3v3.8h-8.3zM910.1 331.2h2.3v3.8h-2.3zM1282.1 331.2h4.3v3.8h-4.3zM1340.2 331.2h10.3v3.8h-10.3zM1458.2 331.2h6.3v3.8h-6.3zM1526.2 331.2h2.3v3.8h-2.3zM1564.2 331.2h2.3v3.8h-2.3zM1654.2 331.2h4.3v3.8h-4.3zM1756.3 331.2h26.3v3.8h-26.3zM804 334.8h4.3v3.8h-4.3zM908 334.8h2.3v3.8h-2.3zM1284.2 334.8h6.3v3.8h-6.3zM1340.2 334.8h6.3v3.8h-6.3zM1460.2 334.8h6.3v3.8h-6.3zM1524.2 334.8h2.3v3.8h-2.3zM1566.2 334.8h2.3v3.8h-2.3zM1652.2 334.8h4.3v3.8h-4.3zM1762.3 334.8h24.3v3.8h-24.3zM808 338.3h2.3v3.8h-2.3zM906 338.3h4.3v3.8h-4.3zM1286.2 338.3h8.3v3.8h-8.3zM1338.2 338.3h6.3v3.8h-6.3zM1462.2 338.3h4.3v3.8h-4.3zM1522.2 338.3h2.3v3.8h-2.3zM1568.2 338.3h2.3v3.8h-2.3zM1650.2 338.3h4.3v3.8h-4.3zM1764.3 338.3h24.3v3.8h-24.3zM1832.3 338.3h21.3v3.8h-21.3zM810 341.9h2.3v3.8h-2.3zM904 341.9h4.3v3.8h-4.3zM1288.2 341.9h22.3v3.8h-22.3zM1338.2 341.9h6.3v3.8h-6.3zM1464.2 341.9h4.3v3.8h-4.3zM1520.2 341.9h2.3v3.8h-2.3zM1570.2 341.9h2.3v3.8h-2.3zM1648.2 341.9h4.3v3.8h-4.3zM1782.3 341.9h8.3v3.8h-8.3zM1826.3 341.9h4.3v3.8h-4.3zM812 345.5h2.3v3.8h-2.3zM904 345.5h2.3v3.8h-2.3zM1292.2 345.5h26.3v3.8h-26.3zM1338.2 345.5h4.3v3.8h-4.3zM1466.2 345.5h2.3v3.8h-2.3zM1518.2 345.5h2.3v3.8h-2.3zM1572.2 345.5h4.3v3.8h-4.3zM1648.2 345.5h4.3v3.8h-4.3zM1786.3 345.5h6.3v3.8h-6.3zM1822.3 345.5h6.3v3.8h-6.3zM814 349.1h2.3v3.8h-2.3zM902 349.1h2.3v3.8h-2.3zM1294.2 349.1h14.3v3.8h-14.3zM1314.2 349.1h8.3v3.8h-8.3zM1336.2 349.1h4.3v3.8h-4.3zM1466.2 349.1h4.3v3.8h-4.3zM1516.2 349.1h2.3v3.8h-2.3zM1574.2 349.1h4.3v3.8h-4.3zM1646.2 349.1h4.3v3.8h-4.3zM1788.3 349.1h8.3v3.8h-8.3zM1820.3 349.1h6.3v3.8h-6.3zM816 352.6h2.3v3.8h-2.3zM900 352.6h4.3v3.8h-4.3zM1320.2 352.6h4.3v3.8h-4.3zM1336.2 352.6h4.3v3.8h-4.3zM1468.2 352.6h2.3v3.8h-2.3zM1514.2 352.6h2.3v3.8h-2.3zM1576.2 352.6h4.3v3.8h-4.3zM1644.2 352.6h4.3v3.8h-4.3zM1790.3 352.6h8.3v3.8h-8.3zM1818.3 352.6h8.3v3.8h-8.3zM816 356.2h2.3v3.8h-2.3zM898 356.2h4.3v3.8h-4.3zM1322.2 356.2h6.3v3.8h-6.3zM1332.2 356.2h6.3v3.8h-6.3zM1470.2 356.2h2.3v3.8h-2.3zM1514.2 356.2h2.3v3.8h-2.3zM1578.2 356.2h2.3v3.8h-2.3zM1644.2 356.2h2.3v3.8h-2.3zM1790.3 356.2h36.3v3.8h-36.3zM818 359.8h2.3v3.8h-2.3zM896 359.8h4.3v3.8h-4.3zM1324.2 359.8h12.3v3.8h-12.3zM1470.2 359.8h2.3v3.8h-2.3zM1512.2 359.8h2.3v3.8h-2.3zM1580.2 359.8h2.3v3.8h-2.3zM1642.2 359.8h4.3v3.8h-4.3zM1792.3 359.8h36.3v3.8h-36.3zM820 363.4h2.3v3.8h-2.3zM894 363.4h4.3v3.8h-4.3zM1328.2 363.4h6.3v3.8h-6.3zM1470.2 363.4h2.3v3.8h-2.3zM1512.2 363.4h2.3v3.8h-2.3zM1582.2 363.4h2.3v3.8h-2.3zM1640.2 363.4h4.3v3.8h-4.3zM1794.3 363.4h32.3v3.8h-32.3zM820 366.9h2.3v3.8h-2.3zM892 366.9h2.3v3.8h-2.3zM1510.2 366.9h2.3v3.8h-2.3zM1584.2 366.9h2.3v3.8h-2.3zM1636.2 366.9h6.3v3.8h-6.3zM822 370.5h2.3v3.8h-2.3zM890 370.5h2.3v3.8h-2.3zM1510.2 370.5h2.3v3.8h-2.3zM1586.2 370.5h4.3v3.8h-4.3zM1634.2 370.5h4.3v3.8h-4.3zM824 374.1h2.3v3.8h-2.3zM888 374.1h2.3v3.8h-2.3zM1472.2 374.1h2.3v3.8h-2.3zM1508.2 374.1h2.3v3.8h-2.3zM1590.2 374.1h6.3v3.8h-6.3zM1632.2 374.1h4.3v3.8h-4.3zM824 377.7h2.3v3.8h-2.3zM886 377.7h2.3v3.8h-2.3zM1472.2 377.7h2.3v3.8h-2.3zM1506.2 377.7h2.3v3.8h-2.3zM1594.2 377.7h4.3v3.8h-4.3zM1630.2 377.7h2.3v3.8h-2.3zM884 381.2h2.3v3.8h-2.3zM1472.2 381.2h2.3v3.8h-2.3zM1504.2 381.2h2.3v3.8h-2.3zM1598.2 381.2h2.3v3.8h-2.3zM1628.2 381.2h2.3v3.8h-2.3zM826 384.8h2.3v8.8h-2.3zM882 384.8h2.3v8.8h-2.3zM1472.2 384.8h2.3v8.8h-2.3zM1504.2 384.8h2.3v8.8h-2.3zM1598.2 384.8h2.3v8.8h-2.3zM1628.2 384.8h2.3v8.8h-2.3z"/><path fill="#0068ff" d="M1014.1 40.2h12.3v8.8h-12.3zM1108.1 40.2h4.3v8.8h-4.3zM1014.1 48.8h14.3v3.8h-14.3zM1110.1 48.8h4.3v3.8h-4.3zM944.1 52.4h52.3v3.8h-52.3zM1004.1 52.4h28.3v3.8h-28.3zM1110.1 52.4h4.3v3.8h-4.3zM942.1 55.9h120.3v3.8h-120.3zM1110.1 55.9h4.3v3.8h-4.3zM940.1 59.5h124.3v3.8h-124.3zM1110.1 59.5h6.3v3.8h-6.3zM940.1 63.1h124.3v3.8h-124.3zM1112.1 63.1h4.3v3.8h-4.3zM938.1 66.7h126.3v3.8h-126.3zM1112.1 66.7h4.3v3.8h-4.3zM938.1 70.2h124.3v3.8h-124.3zM1114.1 70.2h2.3v3.8h-2.3zM1306.2 70.2h6.3v3.8h-6.3zM936.1 73.8h56.3v3.8h-56.3zM1114.1 73.8h2.3v3.8h-2.3zM1304.2 73.8h10.3v3.8h-10.3zM934.1 77.4h52.3v3.8h-52.3zM1114.1 77.4h2.3v3.8h-2.3zM1302.2 77.4h12.3v3.8h-12.3zM932.1 81h52.3v3.8h-52.3zM1114.1 81h2.3v3.8h-2.3zM1298.2 81h16.3v3.8h-16.3zM928.1 84.5h52.3v3.8h-52.3zM1114.1 84.5h2.3v3.8h-2.3zM1250.1 84.5h66.3v3.8h-66.3zM926.1 88.1h50.3v3.8h-50.3zM1242.1 88.1h76.3v3.8h-76.3zM924.1 91.7h38.3v3.8h-38.3zM1238.1 91.7h82.3v3.8h-82.3zM924.1 95.2h24.3v3.8h-24.3zM1232.1 95.2h10.3v3.8h-10.3zM1288.2 95.2h34.3v3.8h-34.3zM922.1 98.8h8.3v3.8h-8.3zM1226.1 98.8h10.3v3.8h-10.3zM1304.2 98.8h20.3v3.8h-20.3zM920.1 102.4h8.3v3.8h-8.3zM1116.1 102.4h2.3v3.8h-2.3zM1218.1 102.4h10.3v3.8h-10.3zM1316.2 102.4h10.3v3.8h-10.3zM1374.2 102.4h8.3v3.8h-8.3zM762 106h68.3v3.8h-68.3zM918.1 106h8.3v3.8h-8.3zM1208.1 106h14.3v3.8h-14.3zM1318.2 106h10.3v3.8h-10.3zM1364.2 106h26.3v3.8h-26.3zM750 109.5h122.3v3.8h-122.3zM914.1 109.5h8.3v3.8h-8.3zM1202.1 109.5h14.3v3.8h-14.3zM1320.2 109.5h8.3v3.8h-8.3zM1360.2 109.5h34.3v3.8h-34.3zM715 113.1h53.3v3.8h-53.3zM818 113.1h102.3v3.8h-102.3zM1198.1 113.1h8.3v3.8h-8.3zM1322.2 113.1h10.3v3.8h-10.3zM1356.2 113.1h14.3v3.8h-14.3zM1390.2 113.1h6.3v3.8h-6.3zM1576.2 113.1h12.3v3.8h-12.3zM715 116.7h45.3v3.8h-45.3zM866 116.7h50.3v3.8h-50.3zM1118.1 116.7h2.3v3.8h-2.3zM1194.1 116.7h8.3v3.8h-8.3zM1324.2 116.7h12.3v3.8h-12.3zM1350.2 116.7h14.3v3.8h-14.3zM1394.2 116.7h6.3v3.8h-6.3zM1568.2 116.7h24.3v3.8h-24.3zM715 120.3h41.3v3.8h-41.3zM874 120.3h38.3v3.8h-38.3zM1188.1 120.3h8.3v3.8h-8.3zM1326.2 120.3h36.3v3.8h-36.3zM1398.2 120.3h4.3v3.8h-4.3zM1550.2 120.3h22.3v3.8h-22.3zM1586.2 120.3h10.3v3.8h-10.3zM715 123.8h39.3v3.8h-39.3zM1120.1 123.8h2.3v3.8h-2.3zM1184.1 123.8h6.3v3.8h-6.3zM1326.2 123.8h32.3v3.8h-32.3zM1400.2 123.8h4.3v3.8h-4.3zM1548.2 123.8h4.3v3.8h-4.3zM1590.2 123.8h26.3v3.8h-26.3zM715 127.4h35.3v3.8h-35.3zM1180.1 127.4h6.3v3.8h-6.3zM1330.2 127.4h26.3v3.8h-26.3zM1404.2 127.4h2.3v3.8h-2.3zM1546.2 127.4h2.3v3.8h-2.3zM1600.2 127.4h26.3v3.8h-26.3zM715 131h25.3v3.8h-25.3zM1176.1 131h8.3v3.8h-8.3zM1334.2 131h14.3v3.8h-14.3zM1406.2 131h2.3v3.8h-2.3zM1544.2 131h2.3v3.8h-2.3zM1622.2 131h12.3v3.8h-12.3zM1712.3 131h18.3v3.8h-18.3zM1844.3 131h9.3v3.8h-9.3zM1122.1 134.6h2.3v3.8h-2.3zM1172.1 134.6h8.3v3.8h-8.3zM1542.2 134.6h4.3v3.8h-4.3zM1628.2 134.6h28.3v3.8h-28.3zM1154.1 138.1h20.3v3.8h-20.3zM1540.2 138.1h4.3v3.8h-4.3zM1650.2 138.1h18.3v3.8h-18.3zM1124.1 141.7h6.3v3.8h-6.3zM1138.1 141.7h30.3v3.8h-30.3zM1408.2 141.7h2.3v3.8h-2.3zM1538.2 141.7h4.3v3.8h-4.3zM1666.3 141.7h2.3v3.8h-2.3zM1130.1 145.3h12.3v3.8h-12.3zM1408.2 145.3h2.3v3.8h-2.3zM1538.2 145.3h4.3v3.8h-4.3zM1668.3 145.3h2.3v3.8h-2.3zM1536.2 148.9h4.3v3.8h-4.3zM1668.3 148.9h2.3v3.8h-2.3zM1536.2 152.4h4.3v3.8h-4.3zM1668.3 152.4h2.3v3.8h-2.3zM1536.2 156h6.3v3.8h-6.3zM1538.2 159.6h4.3v3.8h-4.3zM1410.2 163.2h2.3v3.8h-2.3zM1540.2 163.2h6.3v3.8h-6.3zM1666.3 163.2h2.3v3.8h-2.3zM1410.2 166.8h2.3v3.8h-2.3zM1542.2 166.8h10.3v3.8h-10.3zM1666.3 166.8h2.3v3.8h-2.3zM1548.2 170.3h54.3v3.8h-54.3zM1666.3 170.3h2.3v3.8h-2.3zM1568.2 173.9h40.3v3.8h-40.3zM1582.2 177.5h30.3v3.8h-30.3zM1606.2 181.1h10.3v3.8h-10.3zM1412.2 184.6h2.3v3.8h-2.3zM1612.2 184.6h8.3v3.8h-8.3zM1276.1 188.2h30.3v3.8h-30.3zM1324.2 188.2h4.3v3.8h-4.3zM1412.2 188.2h2.3v3.8h-2.3zM1618.2 188.2h6.3v3.8h-6.3zM1270.1 191.8h6.3v3.8h-6.3zM1300.2 191.8h38.3v3.8h-38.3zM1412.2 191.8h2.3v3.8h-2.3zM1622.2 191.8h4.3v3.8h-4.3zM1662.3 191.8h4.3v3.8h-4.3zM874 195.3h30.3v3.8h-30.3zM1266.1 195.3h6.3v3.8h-6.3zM1324.2 195.3h20.3v3.8h-20.3zM1412.2 195.3h2.3v3.8h-2.3zM1624.2 195.3h6.3v3.8h-6.3zM1660.2 195.3h6.3v3.8h-6.3zM868 198.9h42.3v3.8h-42.3zM1264.1 198.9h4.3v3.8h-4.3zM1334.2 198.9h14.3v3.8h-14.3zM1408.2 198.9h4.3v3.8h-4.3zM1626.2 198.9h6.3v3.8h-6.3zM1658.2 198.9h8.3v3.8h-8.3zM862 202.5h12.3v3.8h-12.3zM906 202.5h12.3v3.8h-12.3zM1260.1 202.5h4.3v3.8h-4.3zM1342.2 202.5h8.3v3.8h-8.3zM1406.2 202.5h6.3v3.8h-6.3zM1628.2 202.5h34.3v3.8h-34.3zM810 206.1h60.3v3.8h-60.3zM912.1 206.1h12.3v3.8h-12.3zM1258.1 206.1h4.3v3.8h-4.3zM1346.2 206.1h8.3v3.8h-8.3zM1404.2 206.1h4.3v3.8h-4.3zM1630.2 206.1h30.3v3.8h-30.3zM804 209.6h58.3v3.8h-58.3zM918.1 209.6h12.3v3.8h-12.3zM1256.1 209.6h4.3v3.8h-4.3zM1348.2 209.6h10.3v3.8h-10.3zM1400.2 209.6h6.3v3.8h-6.3zM1636.2 209.6h20.3v3.8h-20.3zM776 213.2h36.3v3.8h-36.3zM922.1 213.2h22.3v3.8h-22.3zM1254.1 213.2h6.3v3.8h-6.3zM1352.2 213.2h52.3v3.8h-52.3zM762 216.8h40.3v3.8h-40.3zM926.1 216.8h26.3v3.8h-26.3zM1252.1 216.8h6.3v3.8h-6.3zM1354.2 216.8h48.3v3.8h-48.3zM715 220.4h59.3v3.8h-59.3zM928.1 220.4h28.3v3.8h-28.3zM1250.1 220.4h6.3v3.8h-6.3zM1356.2 220.4h44.3v3.8h-44.3zM715 223.9h53.3v3.8h-53.3zM932.1 223.9h26.3v3.8h-26.3zM1248.1 223.9h6.3v3.8h-6.3zM1362.2 223.9h30.3v3.8h-30.3zM715 227.5h49.3v3.8h-49.3zM946.1 227.5h12.3v3.8h-12.3zM1232.1 227.5h22.3v3.8h-22.3zM715 231.1h47.3v3.8h-47.3zM952.1 231.1h8.3v3.8h-8.3zM1222.1 231.1h32.3v3.8h-32.3zM715 234.7h45.3v3.8h-45.3zM954.1 234.7h8.3v3.8h-8.3zM1222.1 234.7h30.3v3.8h-30.3zM715 238.2h45.3v3.8h-45.3zM954.1 238.2h10.3v3.8h-10.3zM1220.1 238.2h32.3v3.8h-32.3zM715 241.8h45.3v3.8h-45.3zM956.1 241.8h8.3v3.8h-8.3zM1220.1 241.8h32.3v3.8h-32.3zM756 245.4h6.3v3.8h-6.3zM958.1 245.4h8.3v3.8h-8.3zM1220.1 245.4h32.3v3.8h-32.3zM758 249h4.3v3.8h-4.3zM960.1 249h10.3v3.8h-10.3zM1220.1 249h34.3v3.8h-34.3zM760 252.6h4.3v3.8h-4.3zM962.1 252.6h14.3v3.8h-14.3zM1220.1 252.6h36.3v3.8h-36.3zM760 256.1h4.3v3.8h-4.3zM964.1 256.1h16.3v3.8h-16.3zM1218.1 256.1h38.3v3.8h-38.3zM1476.2 256.1h2.3v3.8h-2.3zM760 259.7h4.3v3.8h-4.3zM970.1 259.7h12.3v3.8h-12.3zM1218.1 259.7h40.3v3.8h-40.3zM1476.2 259.7h2.3v3.8h-2.3zM760 263.3h4.3v3.8h-4.3zM976.1 263.3h10.3v3.8h-10.3zM1216.1 263.3h42.3v3.8h-42.3zM760 266.8h4.3v3.8h-4.3zM980.1 266.8h12.3v3.8h-12.3zM1216.1 266.8h6.3v3.8h-6.3zM1236.1 266.8h22.3v3.8h-22.3zM760 270.4h2.3v3.8h-2.3zM986.1 270.4h24.3v3.8h-24.3zM1216.1 270.4h4.3v3.8h-4.3zM1238.1 270.4h20.3v3.8h-20.3zM760 274h2.3v3.8h-2.3zM996.1 274h20.3v3.8h-20.3zM1214.1 274h4.3v3.8h-4.3zM1240.1 274h18.3v3.8h-18.3zM760 277.6h2.3v3.8h-2.3zM1010.1 277.6h10.3v3.8h-10.3zM1214.1 277.6h4.3v3.8h-4.3zM1240.1 277.6h18.3v3.8h-18.3zM760 281.1h2.3v3.8h-2.3zM1014.1 281.1h8.3v3.8h-8.3zM1214.1 281.1h2.3v3.8h-2.3zM1240.1 281.1h18.3v3.8h-18.3zM760 284.7h2.3v3.8h-2.3zM1018.1 284.7h6.3v3.8h-6.3zM1212.1 284.7h4.3v3.8h-4.3zM1240.1 284.7h20.3v3.8h-20.3zM760 288.3h2.3v3.8h-2.3zM1020.1 288.3h4.3v3.8h-4.3zM1212.1 288.3h4.3v3.8h-4.3zM1240.1 288.3h22.3v3.8h-22.3zM760 291.9h2.3v3.8h-2.3zM1020.1 291.9h8.3v3.8h-8.3zM1212.1 291.9h4.3v3.8h-4.3zM1238.1 291.9h10.3v3.8h-10.3zM1254.1 291.9h10.3v3.8h-10.3zM760 295.4h2.3v3.8h-2.3zM1022.1 295.4h8.3v3.8h-8.3zM1212.1 295.4h4.3v3.8h-4.3zM1238.1 295.4h6.3v3.8h-6.3zM1260.1 295.4h6.3v3.8h-6.3zM758 299h4.3v3.8h-4.3zM1024.1 299h12.3v3.8h-12.3zM1212.1 299h6.3v3.8h-6.3zM1236.1 299h6.3v3.8h-6.3zM1264.1 299h4.3v3.8h-4.3zM758 302.6h4.3v3.8h-4.3zM1024.1 302.6h14.3v3.8h-14.3zM1214.1 302.6h6.3v3.8h-6.3zM1232.1 302.6h6.3v3.8h-6.3zM1266.1 302.6h4.3v3.8h-4.3zM758 306.2h4.3v3.8h-4.3zM1026.1 306.2h14.3v3.8h-14.3zM1218.1 306.2h16.3v3.8h-16.3zM1268.1 306.2h4.3v3.8h-4.3zM756 309.7h6.3v3.8h-6.3zM1028.1 309.7h12.3v3.8h-12.3zM1270.1 309.7h2.3v3.8h-2.3zM715 313.3h29.3v3.8h-29.3zM750 313.3h12.3v3.8h-12.3zM926.1 313.3h22.3v3.8h-22.3zM1028.1 313.3h12.3v3.8h-12.3zM1272.1 313.3h2.3v3.8h-2.3zM1384.2 313.3h26.3v3.8h-26.3zM715 316.9h47.3v3.8h-47.3zM922.1 316.9h2.3v3.8h-2.3zM948.1 316.9h14.3v3.8h-14.3zM1028.1 316.9h10.3v3.8h-10.3zM1272.1 316.9h4.3v3.8h-4.3zM1362.2 316.9h10.3v3.8h-10.3zM1414.2 316.9h12.3v3.8h-12.3zM1670.3 316.9h20.3v3.8h-20.3zM1714.3 316.9h6.3v3.8h-6.3zM715 320.5h51.3v3.8h-51.3zM918.1 320.5h4.3v3.8h-4.3zM958.1 320.5h14.3v3.8h-14.3zM1028.1 320.5h10.3v3.8h-10.3zM1274.1 320.5h2.3v3.8h-2.3zM1358.2 320.5h6.3v3.8h-6.3zM1430.2 320.5h8.3v3.8h-8.3zM1666.3 320.5h6.3v3.8h-6.3zM1724.3 320.5h6.3v3.8h-6.3zM715 324h55.3v3.8h-55.3zM916.1 324h2.3v3.8h-2.3zM970.1 324h50.3v3.8h-50.3zM1026.1 324h12.3v3.8h-12.3zM1276.1 324h2.3v3.8h-2.3zM1356.2 324h4.3v3.8h-4.3zM1438.2 324h6.3v3.8h-6.3zM1538.2 324h20.3v3.8h-20.3zM1664.3 324h4.3v3.8h-4.3zM1732.3 324h8.3v3.8h-8.3zM715 327.6h39.3v3.8h-39.3zM770 327.6h2.3v3.8h-2.3zM914.1 327.6h4.3v3.8h-4.3zM980.1 327.6h58.3v3.8h-58.3zM1276.1 327.6h4.3v3.8h-4.3zM1352.2 327.6h6.3v3.8h-6.3zM1442.2 327.6h12.3v3.8h-12.3zM1532.2 327.6h4.3v3.8h-4.3zM1558.2 327.6h4.3v3.8h-4.3zM1660.2 327.6h4.3v3.8h-4.3zM1740.3 327.6h6.3v3.8h-6.3zM715 331.2h37.3v3.8h-37.3zM772 331.2h4.3v3.8h-4.3zM912.1 331.2h4.3v3.8h-4.3zM1018.1 331.2h20.3v3.8h-20.3zM1278.1 331.2h4.3v3.8h-4.3zM1350.2 331.2h6.3v3.8h-6.3zM1448.2 331.2h10.3v3.8h-10.3zM1528.2 331.2h4.3v3.8h-4.3zM1562.2 331.2h2.3v3.8h-2.3zM1658.2 331.2h4.3v3.8h-4.3zM1744.3 331.2h12.3v3.8h-12.3zM715 334.8h37.3v3.8h-37.3zM782 334.8h22.3v3.8h-22.3zM910.1 334.8h4.3v3.8h-4.3zM1022.1 334.8h18.3v3.8h-18.3zM1280.1 334.8h4.3v3.8h-4.3zM1346.2 334.8h10.3v3.8h-10.3zM1452.2 334.8h8.3v3.8h-8.3zM1526.2 334.8h2.3v3.8h-2.3zM1564.2 334.8h2.3v3.8h-2.3zM1656.2 334.8h4.3v3.8h-4.3zM1752.3 334.8h10.3v3.8h-10.3zM715 338.3h35.3v3.8h-35.3zM806 338.3h2.3v3.8h-2.3zM910.1 338.3h2.3v3.8h-2.3zM1026.1 338.3h14.3v3.8h-14.3zM1282.1 338.3h4.3v3.8h-4.3zM1344.2 338.3h10.3v3.8h-10.3zM1454.2 338.3h8.3v3.8h-8.3zM1524.2 338.3h2.3v3.8h-2.3zM1566.2 338.3h2.3v3.8h-2.3zM1654.2 338.3h4.3v3.8h-4.3zM1758.3 338.3h6.3v3.8h-6.3zM715 341.9h35.3v3.8h-35.3zM808 341.9h2.3v3.8h-2.3zM908 341.9h4.3v3.8h-4.3zM1028.1 341.9h12.3v3.8h-12.3zM1282.1 341.9h6.3v3.8h-6.3zM1344.2 341.9h8.3v3.8h-8.3zM1458.2 341.9h6.3v3.8h-6.3zM1522.2 341.9h2.3v3.8h-2.3zM1568.2 341.9h2.3v3.8h-2.3zM1652.2 341.9h4.3v3.8h-4.3zM1760.3 341.9h22.3v3.8h-22.3zM1830.3 341.9h6.3v3.8h-6.3zM715 345.5h33.3v3.8h-33.3zM810 345.5h2.3v3.8h-2.3zM906 345.5h4.3v3.8h-4.3zM1030.1 345.5h10.3v3.8h-10.3zM1284.2 345.5h8.3v3.8h-8.3zM1342.2 345.5h8.3v3.8h-8.3zM1460.2 345.5h6.3v3.8h-6.3zM1520.2 345.5h2.3v3.8h-2.3zM1570.2 345.5h2.3v3.8h-2.3zM1652.2 345.5h2.3v3.8h-2.3zM1764.3 345.5h22.3v3.8h-22.3zM1828.3 345.5h4.3v3.8h-4.3zM715 349.1h31.3v3.8h-31.3zM812 349.1h2.3v3.8h-2.3zM904 349.1h4.3v3.8h-4.3zM1032.1 349.1h6.3v3.8h-6.3zM1286.2 349.1h8.3v3.8h-8.3zM1308.2 349.1h6.3v3.8h-6.3zM1340.2 349.1h8.3v3.8h-8.3zM1464.2 349.1h2.3v3.8h-2.3zM1518.2 349.1h2.3v3.8h-2.3zM1572.2 349.1h2.3v3.8h-2.3zM1650.2 349.1h4.3v3.8h-4.3zM1770.3 349.1h18.3v3.8h-18.3zM1826.3 349.1h4.3v3.8h-4.3zM715 352.6h27.3v3.8h-27.3zM814 352.6h2.3v3.8h-2.3zM904 352.6h4.3v3.8h-4.3zM1288.2 352.6h32.3v3.8h-32.3zM1340.2 352.6h4.3v3.8h-4.3zM1466.2 352.6h2.3v3.8h-2.3zM1516.2 352.6h4.3v3.8h-4.3zM1574.2 352.6h2.3v3.8h-2.3zM1648.2 352.6h4.3v3.8h-4.3zM1782.3 352.6h8.3v3.8h-8.3zM1826.3 352.6h4.3v3.8h-4.3zM814 356.2h2.3v3.8h-2.3zM902 356.2h4.3v3.8h-4.3zM1290.2 356.2h22.3v3.8h-22.3zM1316.2 356.2h6.3v3.8h-6.3zM1338.2 356.2h4.3v3.8h-4.3zM1466.2 356.2h4.3v3.8h-4.3zM1516.2 356.2h2.3v3.8h-2.3zM1576.2 356.2h2.3v3.8h-2.3zM1646.2 356.2h4.3v3.8h-4.3zM1784.3 356.2h6.3v3.8h-6.3zM1826.3 356.2h6.3v3.8h-6.3zM816 359.8h2.3v3.8h-2.3zM900 359.8h4.3v3.8h-4.3zM1292.2 359.8h16.3v3.8h-16.3zM1320.2 359.8h4.3v3.8h-4.3zM1336.2 359.8h4.3v3.8h-4.3zM1468.2 359.8h2.3v3.8h-2.3zM1514.2 359.8h2.3v3.8h-2.3zM1578.2 359.8h2.3v3.8h-2.3zM1646.2 359.8h2.3v3.8h-2.3zM1786.3 359.8h6.3v3.8h-6.3zM1828.3 359.8h10.3v3.8h-10.3zM818 363.4h2.3v3.8h-2.3zM898 363.4h4.3v3.8h-4.3zM1294.2 363.4h10.3v3.8h-10.3zM1322.2 363.4h6.3v3.8h-6.3zM1334.2 363.4h4.3v3.8h-4.3zM1468.2 363.4h2.3v3.8h-2.3zM1580.2 363.4h2.3v3.8h-2.3zM1644.2 363.4h2.3v3.8h-2.3zM1788.3 363.4h6.3v3.8h-6.3zM1826.3 363.4h27.3v3.8h-27.3zM818 366.9h2.3v3.8h-2.3zM894 366.9h4.3v3.8h-4.3zM1326.2 366.9h10.3v3.8h-10.3zM1470.2 366.9h2.3v3.8h-2.3zM1512.2 366.9h2.3v3.8h-2.3zM1580.2 366.9h4.3v3.8h-4.3zM1642.2 366.9h4.3v3.8h-4.3zM1790.3 366.9h63.3v3.8h-63.3zM820 370.5h2.3v3.8h-2.3zM892 370.5h4.3v3.8h-4.3zM1470.2 370.5h2.3v3.8h-2.3zM1582.2 370.5h4.3v3.8h-4.3zM1638.2 370.5h6.3v3.8h-6.3zM1794.3 370.5h59.3v3.8h-59.3zM822 374.1h2.3v3.8h-2.3zM890 374.1h2.3v3.8h-2.3zM1470.2 374.1h2.3v3.8h-2.3zM1510.2 374.1h2.3v3.8h-2.3zM1586.2 374.1h4.3v3.8h-4.3zM1636.2 374.1h4.3v3.8h-4.3zM822 377.7h2.3v3.8h-2.3zM888 377.7h2.3v3.8h-2.3zM1470.2 377.7h2.3v3.8h-2.3zM1508.2 377.7h2.3v3.8h-2.3zM1590.2 377.7h4.3v3.8h-4.3zM1632.2 377.7h4.3v3.8h-4.3zM824 381.2h2.3v3.8h-2.3zM886 381.2h2.3v3.8h-2.3zM1470.2 381.2h2.3v3.8h-2.3zM1506.2 381.2h2.3v3.8h-2.3zM1594.2 381.2h4.3v3.8h-4.3zM1630.2 381.2h4.3v3.8h-4.3zM824 384.8h2.3v8.8h-2.3zM884 384.8h2.3v8.8h-2.3zM1470.2 384.8h2.3v8.8h-2.3zM1506.2 384.8h2.3v8.8h-2.3zM1596.2 384.8h2.3v8.8h-2.3zM1630.2 384.8h2.3v8.8h-2.3z"/><path fill="#0050ff" d="M1026.1 40.2h82.3v8.8h-82.3zM1028.1 48.8h54.3v3.8h-54.3zM1100.1 48.8h10.3v3.8h-10.3zM1032.1 52.4h46.3v3.8h-46.3zM1104.1 52.4h6.3v3.8h-6.3zM1062.1 55.9h14.3v3.8h-14.3zM1106.1 55.9h4.3v3.8h-4.3zM1064.1 59.5h12.3v3.8h-12.3zM1106.1 59.5h4.3v3.8h-4.3zM1064.1 63.1h10.3v3.8h-10.3zM1108.1 63.1h4.3v3.8h-4.3zM1064.1 66.7h10.3v3.8h-10.3zM1108.1 66.7h4.3v3.8h-4.3zM1062.1 70.2h10.3v3.8h-10.3zM1108.1 70.2h6.3v3.8h-6.3zM992.1 73.8h80.3v3.8h-80.3zM1110.1 73.8h4.3v3.8h-4.3zM986.1 77.4h84.3v3.8h-84.3zM1110.1 77.4h4.3v3.8h-4.3zM984.1 81h84.3v3.8h-84.3zM1110.1 81h4.3v3.8h-4.3zM980.1 84.5h86.3v3.8h-86.3zM1112.1 84.5h2.3v3.8h-2.3zM976.1 88.1h84.3v3.8h-84.3zM1112.1 88.1h4.3v3.8h-4.3zM962.1 91.7h88.3v3.8h-88.3zM1114.1 91.7h2.3v3.8h-2.3zM948.1 95.2h42.3v3.8h-42.3zM1114.1 95.2h2.3v3.8h-2.3zM1242.1 95.2h46.3v3.8h-46.3zM930.1 98.8h52.3v3.8h-52.3zM1236.1 98.8h68.3v3.8h-68.3zM928.1 102.4h36.3v3.8h-36.3zM1228.1 102.4h14.3v3.8h-14.3zM1278.1 102.4h38.3v3.8h-38.3zM926.1 106h30.3v3.8h-30.3zM1116.1 106h2.3v3.8h-2.3zM1222.1 106h12.3v3.8h-12.3zM1286.2 106h32.3v3.8h-32.3zM922.1 109.5h10.3v3.8h-10.3zM1216.1 109.5h10.3v3.8h-10.3zM1292.2 109.5h28.3v3.8h-28.3zM768 113.1h50.3v3.8h-50.3zM920.1 113.1h6.3v3.8h-6.3zM1206.1 113.1h16.3v3.8h-16.3zM1298.2 113.1h24.3v3.8h-24.3zM1370.2 113.1h20.3v3.8h-20.3zM760 116.7h106.3v3.8h-106.3zM916.1 116.7h8.3v3.8h-8.3zM1202.1 116.7h12.3v3.8h-12.3zM1314.2 116.7h10.3v3.8h-10.3zM1364.2 116.7h30.3v3.8h-30.3zM756 120.3h10.3v3.8h-10.3zM822 120.3h52.3v3.8h-52.3zM912.1 120.3h8.3v3.8h-8.3zM1196.1 120.3h10.3v3.8h-10.3zM1316.2 120.3h10.3v3.8h-10.3zM1362.2 120.3h36.3v3.8h-36.3zM1572.2 120.3h14.3v3.8h-14.3zM754 123.8h8.3v3.8h-8.3zM860 123.8h58.3v3.8h-58.3zM1190.1 123.8h10.3v3.8h-10.3zM1318.2 123.8h8.3v3.8h-8.3zM1358.2 123.8h10.3v3.8h-10.3zM1394.2 123.8h6.3v3.8h-6.3zM1552.2 123.8h38.3v3.8h-38.3zM750 127.4h8.3v3.8h-8.3zM870 127.4h44.3v3.8h-44.3zM1120.1 127.4h2.3v3.8h-2.3zM1186.1 127.4h8.3v3.8h-8.3zM1320.2 127.4h10.3v3.8h-10.3zM1356.2 127.4h8.3v3.8h-8.3zM1398.2 127.4h6.3v3.8h-6.3zM1548.2 127.4h12.3v3.8h-12.3zM1578.2 127.4h22.3v3.8h-22.3zM740 131h18.3v3.8h-18.3zM878 131h28.3v3.8h-28.3zM1184.1 131h6.3v3.8h-6.3zM1322.2 131h12.3v3.8h-12.3zM1348.2 131h14.3v3.8h-14.3zM1400.2 131h6.3v3.8h-6.3zM1546.2 131h6.3v3.8h-6.3zM1584.2 131h38.3v3.8h-38.3zM715 134.6h41.3v3.8h-41.3zM1180.1 134.6h6.3v3.8h-6.3zM1326.2 134.6h32.3v3.8h-32.3zM1406.2 134.6h2.3v3.8h-2.3zM1546.2 134.6h4.3v3.8h-4.3zM1592.2 134.6h36.3v3.8h-36.3zM715 138.1h37.3v3.8h-37.3zM1122.1 138.1h2.3v3.8h-2.3zM1174.1 138.1h8.3v3.8h-8.3zM1328.2 138.1h24.3v3.8h-24.3zM1406.2 138.1h2.3v3.8h-2.3zM1544.2 138.1h4.3v3.8h-4.3zM1620.2 138.1h30.3v3.8h-30.3zM1168.1 141.7h10.3v3.8h-10.3zM1334.2 141.7h8.3v3.8h-8.3zM1542.2 141.7h6.3v3.8h-6.3zM1634.2 141.7h32.3v3.8h-32.3zM1124.1 145.3h6.3v3.8h-6.3zM1142.1 145.3h30.3v3.8h-30.3zM1542.2 145.3h4.3v3.8h-4.3zM1658.2 145.3h10.3v3.8h-10.3zM1128.1 148.9h38.3v3.8h-38.3zM1408.2 148.9h2.3v3.8h-2.3zM1540.2 148.9h6.3v3.8h-6.3zM1666.3 148.9h2.3v3.8h-2.3zM1408.2 152.4h2.3v3.8h-2.3zM1540.2 152.4h6.3v3.8h-6.3zM1666.3 152.4h2.3v3.8h-2.3zM1408.2 156h2.3v3.8h-2.3zM1542.2 156h6.3v3.8h-6.3zM1666.3 156h2.3v3.8h-2.3zM1542.2 159.6h12.3v3.8h-12.3zM1582.2 159.6h12.3v3.8h-12.3zM1666.3 159.6h2.3v3.8h-2.3zM1546.2 163.2h62.3v3.8h-62.3zM1552.2 166.8h60.3v3.8h-60.3zM1410.2 170.3h2.3v3.8h-2.3zM1602.2 170.3h12.3v3.8h-12.3zM1410.2 173.9h2.3v3.8h-2.3zM1608.2 173.9h10.3v3.8h-10.3zM1664.3 173.9h2.3v3.8h-2.3zM1324.2 177.5h8.3v3.8h-8.3zM1410.2 177.5h2.3v3.8h-2.3zM1612.2 177.5h8.3v3.8h-8.3zM1664.3 177.5h2.3v3.8h-2.3zM1278.1 181.1h26.3v3.8h-26.3zM1316.2 181.1h20.3v3.8h-20.3zM1410.2 181.1h2.3v3.8h-2.3zM1616.2 181.1h8.3v3.8h-8.3zM1662.3 181.1h4.3v3.8h-4.3zM1272.1 184.6h68.3v3.8h-68.3zM1410.2 184.6h2.3v3.8h-2.3zM1620.2 184.6h6.3v3.8h-6.3zM1660.2 184.6h6.3v3.8h-6.3zM878 188.2h20.3v3.8h-20.3zM1266.1 188.2h10.3v3.8h-10.3zM1306.2 188.2h18.3v3.8h-18.3zM1328.2 188.2h18.3v3.8h-18.3zM1408.2 188.2h4.3v3.8h-4.3zM1624.2 188.2h6.3v3.8h-6.3zM1658.2 188.2h8.3v3.8h-8.3zM866 191.8h42.3v3.8h-42.3zM1262.1 191.8h8.3v3.8h-8.3zM1338.2 191.8h12.3v3.8h-12.3zM1406.2 191.8h6.3v3.8h-6.3zM1626.2 191.8h8.3v3.8h-8.3zM1656.2 191.8h6.3v3.8h-6.3zM812 195.3h62.3v3.8h-62.3zM904 195.3h10.3v3.8h-10.3zM1260.1 195.3h6.3v3.8h-6.3zM1344.2 195.3h10.3v3.8h-10.3zM1404.2 195.3h8.3v3.8h-8.3zM1630.2 195.3h30.3v3.8h-30.3zM715 198.9h153.3v3.8h-153.3zM910.1 198.9h14.3v3.8h-14.3zM1256.1 198.9h8.3v3.8h-8.3zM1348.2 198.9h10.3v3.8h-10.3zM1402.2 198.9h6.3v3.8h-6.3zM1632.2 198.9h26.3v3.8h-26.3zM715 202.5h147.3v3.8h-147.3zM918.1 202.5h20.3v3.8h-20.3zM1254.1 202.5h6.3v3.8h-6.3zM1350.2 202.5h56.3v3.8h-56.3zM715 206.1h95.3v3.8h-95.3zM924.1 206.1h22.3v3.8h-22.3zM1250.1 206.1h8.3v3.8h-8.3zM1354.2 206.1h50.3v3.8h-50.3zM715 209.6h89.3v3.8h-89.3zM930.1 209.6h22.3v3.8h-22.3zM1226.1 209.6h30.3v3.8h-30.3zM1358.2 209.6h42.3v3.8h-42.3zM715 213.2h61.3v3.8h-61.3zM944.1 213.2h14.3v3.8h-14.3zM1220.1 213.2h34.3v3.8h-34.3zM715 216.8h47.3v3.8h-47.3zM952.1 216.8h8.3v3.8h-8.3zM1218.1 216.8h34.3v3.8h-34.3zM956.1 220.4h8.3v3.8h-8.3zM1216.1 220.4h34.3v3.8h-34.3zM958.1 223.9h8.3v3.8h-8.3zM1216.1 223.9h32.3v3.8h-32.3zM958.1 227.5h12.3v3.8h-12.3zM1216.1 227.5h16.3v3.8h-16.3zM960.1 231.1h16.3v3.8h-16.3zM1214.1 231.1h8.3v3.8h-8.3zM962.1 234.7h20.3v3.8h-20.3zM1214.1 234.7h8.3v3.8h-8.3zM964.1 238.2h22.3v3.8h-22.3zM1214.1 238.2h6.3v3.8h-6.3zM964.1 241.8h24.3v3.8h-24.3zM1214.1 241.8h6.3v3.8h-6.3zM715 245.4h41.3v3.8h-41.3zM966.1 245.4h22.3v3.8h-22.3zM1214.1 245.4h6.3v3.8h-6.3zM715 249h43.3v3.8h-43.3zM970.1 249h18.3v3.8h-18.3zM1214.1 249h6.3v3.8h-6.3zM715 252.6h45.3v3.8h-45.3zM976.1 252.6h12.3v3.8h-12.3zM1214.1 252.6h6.3v3.8h-6.3zM756 256.1h4.3v3.8h-4.3zM980.1 256.1h10.3v3.8h-10.3zM1214.1 256.1h4.3v3.8h-4.3zM758 259.7h2.3v3.8h-2.3zM982.1 259.7h12.3v3.8h-12.3zM1214.1 259.7h4.3v3.8h-4.3zM758 263.3h2.3v3.8h-2.3zM986.1 263.3h24.3v3.8h-24.3zM1212.1 263.3h4.3v3.8h-4.3zM758 266.8h2.3v3.8h-2.3zM992.1 266.8h26.3v3.8h-26.3zM1212.1 266.8h4.3v3.8h-4.3zM758 270.4h2.3v3.8h-2.3zM1010.1 270.4h10.3v3.8h-10.3zM1212.1 270.4h4.3v3.8h-4.3zM758 274h2.3v3.8h-2.3zM1016.1 274h6.3v3.8h-6.3zM1210.1 274h4.3v3.8h-4.3zM758 277.6h2.3v3.8h-2.3zM1020.1 277.6h6.3v3.8h-6.3zM1210.1 277.6h4.3v3.8h-4.3zM758 281.1h2.3v3.8h-2.3zM1022.1 281.1h6.3v3.8h-6.3zM1210.1 281.1h4.3v3.8h-4.3zM756 284.7h4.3v3.8h-4.3zM1024.1 284.7h8.3v3.8h-8.3zM1144.1 284.7h20.3v3.8h-20.3zM1210.1 284.7h2.3v3.8h-2.3zM756 288.3h4.3v3.8h-4.3zM1024.1 288.3h16.3v3.8h-16.3zM1140.1 288.3h26.3v3.8h-26.3zM1208.1 288.3h4.3v3.8h-4.3zM754 291.9h6.3v3.8h-6.3zM1028.1 291.9h16.3v3.8h-16.3zM1136.1 291.9h30.3v3.8h-30.3zM1208.1 291.9h4.3v3.8h-4.3zM1248.1 291.9h6.3v3.8h-6.3zM750 295.4h10.3v3.8h-10.3zM1030.1 295.4h16.3v3.8h-16.3zM1134.1 295.4h34.3v3.8h-34.3zM1208.1 295.4h4.3v3.8h-4.3zM1244.1 295.4h16.3v3.8h-16.3zM715 299h43.3v3.8h-43.3zM1036.1 299h12.3v3.8h-12.3zM1134.1 299h34.3v3.8h-34.3zM1208.1 299h4.3v3.8h-4.3zM1242.1 299h22.3v3.8h-22.3zM715 302.6h43.3v3.8h-43.3zM1038.1 302.6h10.3v3.8h-10.3zM1134.1 302.6h36.3v3.8h-36.3zM1208.1 302.6h6.3v3.8h-6.3zM1238.1 302.6h10.3v3.8h-10.3zM1260.1 302.6h6.3v3.8h-6.3zM715 306.2h43.3v3.8h-43.3zM1040.1 306.2h10.3v3.8h-10.3zM1136.1 306.2h34.3v3.8h-34.3zM1208.1 306.2h10.3v3.8h-10.3zM1234.1 306.2h8.3v3.8h-8.3zM1264.1 306.2h4.3v3.8h-4.3zM715 309.7h41.3v3.8h-41.3zM1040.1 309.7h12.3v3.8h-12.3zM1138.1 309.7h34.3v3.8h-34.3zM1214.1 309.7h22.3v3.8h-22.3zM1268.1 309.7h2.3v3.8h-2.3zM744 313.3h6.3v3.8h-6.3zM1040.1 313.3h14.3v3.8h-14.3zM1140.1 313.3h36.3v3.8h-36.3zM1270.1 313.3h2.3v3.8h-2.3zM924.1 316.9h8.3v3.8h-8.3zM940.1 316.9h8.3v3.8h-8.3zM1038.1 316.9h20.3v3.8h-20.3zM1142.1 316.9h52.3v3.8h-52.3zM1270.1 316.9h2.3v3.8h-2.3zM1372.2 316.9h16.3v3.8h-16.3zM1408.2 316.9h6.3v3.8h-6.3zM1690.3 316.9h24.3v3.8h-24.3zM922.1 320.5h2.3v3.8h-2.3zM948.1 320.5h10.3v3.8h-10.3zM1038.1 320.5h22.3v3.8h-22.3zM1146.1 320.5h52.3v3.8h-52.3zM1272.1 320.5h2.3v3.8h-2.3zM1364.2 320.5h4.3v3.8h-4.3zM1416.2 320.5h14.3v3.8h-14.3zM1672.3 320.5h14.3v3.8h-14.3zM1718.3 320.5h6.3v3.8h-6.3zM918.1 324h4.3v3.8h-4.3zM956.1 324h14.3v3.8h-14.3zM1038.1 324h20.3v3.8h-20.3zM1172.1 324h26.3v3.8h-26.3zM1272.1 324h4.3v3.8h-4.3zM1360.2 324h4.3v3.8h-4.3zM1430.2 324h8.3v3.8h-8.3zM1668.3 324h4.3v3.8h-4.3zM1726.3 324h6.3v3.8h-6.3zM754 327.6h16.3v3.8h-16.3zM918.1 327.6h2.3v3.8h-2.3zM966.1 327.6h14.3v3.8h-14.3zM1038.1 327.6h18.3v3.8h-18.3zM1184.1 327.6h10.3v3.8h-10.3zM1274.1 327.6h2.3v3.8h-2.3zM1358.2 327.6h4.3v3.8h-4.3zM1436.2 327.6h6.3v3.8h-6.3zM1536.2 327.6h8.3v3.8h-8.3zM1552.2 327.6h6.3v3.8h-6.3zM1664.3 327.6h4.3v3.8h-4.3zM1732.3 327.6h8.3v3.8h-8.3zM752 331.2h20.3v3.8h-20.3zM916.1 331.2h2.3v3.8h-2.3zM974.1 331.2h44.3v3.8h-44.3zM1038.1 331.2h16.3v3.8h-16.3zM1276.1 331.2h2.3v3.8h-2.3zM1356.2 331.2h4.3v3.8h-4.3zM1440.2 331.2h8.3v3.8h-8.3zM1532.2 331.2h4.3v3.8h-4.3zM1558.2 331.2h4.3v3.8h-4.3zM1662.3 331.2h4.3v3.8h-4.3zM1738.3 331.2h6.3v3.8h-6.3zM752 334.8h6.3v3.8h-6.3zM774 334.8h8.3v3.8h-8.3zM914.1 334.8h4.3v3.8h-4.3zM1012.1 334.8h10.3v3.8h-10.3zM1040.1 334.8h12.3v3.8h-12.3zM1276.1 334.8h4.3v3.8h-4.3zM1356.2 334.8h4.3v3.8h-4.3zM1444.2 334.8h8.3v3.8h-8.3zM1528.2 334.8h4.3v3.8h-4.3zM1560.2 334.8h4.3v3.8h-4.3zM1660.2 334.8h4.3v3.8h-4.3zM1742.3 334.8h10.3v3.8h-10.3zM750 338.3h6.3v3.8h-6.3zM802 338.3h4.3v3.8h-4.3zM912.1 338.3h4.3v3.8h-4.3zM1018.1 338.3h8.3v3.8h-8.3zM1040.1 338.3h10.3v3.8h-10.3zM1278.1 338.3h4.3v3.8h-4.3zM1354.2 338.3h4.3v3.8h-4.3zM1448.2 338.3h6.3v3.8h-6.3zM1526.2 338.3h2.3v3.8h-2.3zM1564.2 338.3h2.3v3.8h-2.3zM1658.2 338.3h4.3v3.8h-4.3zM1746.3 338.3h12.3v3.8h-12.3zM750 341.9h6.3v3.8h-6.3zM806 341.9h2.3v3.8h-2.3zM912.1 341.9h2.3v3.8h-2.3zM1020.1 341.9h8.3v3.8h-8.3zM1040.1 341.9h10.3v3.8h-10.3zM1278.1 341.9h4.3v3.8h-4.3zM1352.2 341.9h6.3v3.8h-6.3zM1450.2 341.9h8.3v3.8h-8.3zM1524.2 341.9h2.3v3.8h-2.3zM1564.2 341.9h4.3v3.8h-4.3zM1656.2 341.9h4.3v3.8h-4.3zM1754.3 341.9h6.3v3.8h-6.3zM1836.3 341.9h17.3v3.8h-17.3zM748 345.5h8.3v3.8h-8.3zM808 345.5h2.3v3.8h-2.3zM910.1 345.5h4.3v3.8h-4.3zM1022.1 345.5h8.3v3.8h-8.3zM1040.1 345.5h10.3v3.8h-10.3zM1280.1 345.5h4.3v3.8h-4.3zM1350.2 345.5h6.3v3.8h-6.3zM1452.2 345.5h8.3v3.8h-8.3zM1522.2 345.5h2.3v3.8h-2.3zM1566.2 345.5h4.3v3.8h-4.3zM1654.2 345.5h4.3v3.8h-4.3zM1756.3 345.5h8.3v3.8h-8.3zM1832.3 345.5h4.3v3.8h-4.3zM746 349.1h8.3v3.8h-8.3zM810 349.1h2.3v3.8h-2.3zM908 349.1h4.3v3.8h-4.3zM1024.1 349.1h8.3v3.8h-8.3zM1038.1 349.1h12.3v3.8h-12.3zM1282.1 349.1h4.3v3.8h-4.3zM1348.2 349.1h8.3v3.8h-8.3zM1456.2 349.1h8.3v3.8h-8.3zM1520.2 349.1h4.3v3.8h-4.3zM1568.2 349.1h4.3v3.8h-4.3zM1654.2 349.1h2.3v3.8h-2.3zM1760.3 349.1h10.3v3.8h-10.3zM1830.3 349.1h6.3v3.8h-6.3zM742 352.6h12.3v3.8h-12.3zM810 352.6h4.3v3.8h-4.3zM908 352.6h2.3v3.8h-2.3zM1024.1 352.6h26.3v3.8h-26.3zM1282.1 352.6h6.3v3.8h-6.3zM1344.2 352.6h10.3v3.8h-10.3zM1460.2 352.6h6.3v3.8h-6.3zM1520.2 352.6h2.3v3.8h-2.3zM1572.2 352.6h2.3v3.8h-2.3zM1652.2 352.6h4.3v3.8h-4.3zM1764.3 352.6h18.3v3.8h-18.3zM1830.3 352.6h8.3v3.8h-8.3zM715 356.2h39.3v3.8h-39.3zM812 356.2h2.3v3.8h-2.3zM906 356.2h4.3v3.8h-4.3zM1026.1 356.2h24.3v3.8h-24.3zM1284.2 356.2h6.3v3.8h-6.3zM1312.2 356.2h4.3v3.8h-4.3zM1342.2 356.2h10.3v3.8h-10.3zM1464.2 356.2h2.3v3.8h-2.3zM1518.2 356.2h2.3v3.8h-2.3zM1574.2 356.2h2.3v3.8h-2.3zM1650.2 356.2h4.3v3.8h-4.3zM1778.3 356.2h6.3v3.8h-6.3zM1832.3 356.2h21.3v3.8h-21.3zM715 359.8h37.3v3.8h-37.3zM814 359.8h2.3v3.8h-2.3zM904 359.8h4.3v3.8h-4.3zM1026.1 359.8h24.3v3.8h-24.3zM1286.2 359.8h6.3v3.8h-6.3zM1308.2 359.8h12.3v3.8h-12.3zM1340.2 359.8h8.3v3.8h-8.3zM1466.2 359.8h2.3v3.8h-2.3zM1516.2 359.8h2.3v3.8h-2.3zM1576.2 359.8h2.3v3.8h-2.3zM1648.2 359.8h4.3v3.8h-4.3zM1782.3 359.8h4.3v3.8h-4.3zM1838.3 359.8h15.3v3.8h-15.3zM715 363.4h35.3v3.8h-35.3zM814 363.4h4.3v3.8h-4.3zM902 363.4h4.3v3.8h-4.3zM1028.1 363.4h20.3v3.8h-20.3zM1286.2 363.4h8.3v3.8h-8.3zM1304.2 363.4h10.3v3.8h-10.3zM1316.2 363.4h6.3v3.8h-6.3zM1338.2 363.4h6.3v3.8h-6.3zM1466.2 363.4h2.3v3.8h-2.3zM1514.2 363.4h2.3v3.8h-2.3zM1576.2 363.4h4.3v3.8h-4.3zM1646.2 363.4h4.3v3.8h-4.3zM1784.3 363.4h4.3v3.8h-4.3zM816 366.9h2.3v3.8h-2.3zM898 366.9h6.3v3.8h-6.3zM1288.2 366.9h22.3v3.8h-22.3zM1320.2 366.9h6.3v3.8h-6.3zM1336.2 366.9h4.3v3.8h-4.3zM1468.2 366.9h2.3v3.8h-2.3zM1514.2 366.9h2.3v3.8h-2.3zM1578.2 366.9h2.3v3.8h-2.3zM1646.2 366.9h2.3v3.8h-2.3zM1786.3 366.9h4.3v3.8h-4.3zM818 370.5h2.3v3.8h-2.3zM896 370.5h4.3v3.8h-4.3zM1290.2 370.5h18.3v3.8h-18.3zM1324.2 370.5h14.3v3.8h-14.3zM1468.2 370.5h2.3v3.8h-2.3zM1512.2 370.5h2.3v3.8h-2.3zM1580.2 370.5h2.3v3.8h-2.3zM1644.2 370.5h2.3v3.8h-2.3zM1788.3 370.5h6.3v3.8h-6.3zM818 374.1h4.3v3.8h-4.3zM892 374.1h4.3v3.8h-4.3zM1292.2 374.1h14.3v3.8h-14.3zM1328.2 374.1h6.3v3.8h-6.3zM1468.2 374.1h2.3v3.8h-2.3zM1512.2 374.1h2.3v3.8h-2.3zM1582.2 374.1h4.3v3.8h-4.3zM1640.2 374.1h4.3v3.8h-4.3zM1790.3 374.1h63.3v3.8h-63.3zM820 377.7h2.3v3.8h-2.3zM890 377.7h4.3v3.8h-4.3zM1294.2 377.7h8.3v3.8h-8.3zM1468.2 377.7h2.3v3.8h-2.3zM1510.2 377.7h2.3v3.8h-2.3zM1584.2 377.7h6.3v3.8h-6.3zM1636.2 377.7h6.3v3.8h-6.3zM1824.3 377.7h29.3v3.8h-29.3zM820 381.2h4.3v3.8h-4.3zM888 381.2h2.3v3.8h-2.3zM1468.2 381.2h2.3v3.8h-2.3zM1508.2 381.2h2.3v3.8h-2.3zM1590.2 381.2h4.3v3.8h-4.3zM1634.2 381.2h4.3v3.8h-4.3zM822 384.8h2.3v8.8h-2.3zM886 384.8h2.3v8.8h-2.3zM1468.2 384.8h2.3v8.8h-2.3zM1508.2 384.8h2.3v8.8h-2.3zM1594.2 384.8h2.3v8.8h-2.3zM1632.2 384.8h4.3v8.8h-4.3z"/><path fill="#00acff" d="M1116.1 40.2h2.3v8.8h-2.3zM1234.1 40.2h8.3v8.8h-8.3zM1326.2 40.2h60.3v8.8h-60.3zM1116.1 48.8h2.3v3.8h-2.3zM1234.1 48.8h10.3v3.8h-10.3zM1326.2 48.8h60.3v3.8h-60.3zM1116.1 52.4h2.3v3.8h-2.3zM1232.1 52.4h12.3v3.8h-12.3zM1326.2 52.4h60.3v3.8h-60.3zM1116.1 55.9h2.3v3.8h-2.3zM1230.1 55.9h14.3v3.8h-14.3zM1328.2 55.9h60.3v3.8h-60.3zM1116.1 59.5h2.3v3.8h-2.3zM1226.1 59.5h20.3v3.8h-20.3zM1328.2 59.5h60.3v3.8h-60.3zM1116.1 63.1h2.3v3.8h-2.3zM1222.1 63.1h22.3v3.8h-22.3zM1328.2 63.1h60.3v3.8h-60.3zM1116.1 66.7h2.3v3.8h-2.3zM1220.1 66.7h24.3v3.8h-24.3zM1328.2 66.7h60.3v3.8h-60.3zM1116.1 70.2h2.3v3.8h-2.3zM1220.1 70.2h22.3v3.8h-22.3zM1330.2 70.2h60.3v3.8h-60.3zM1116.1 73.8h2.3v3.8h-2.3zM1218.1 73.8h20.3v3.8h-20.3zM1330.2 73.8h60.3v3.8h-60.3zM1116.1 77.4h2.3v3.8h-2.3zM1216.1 77.4h18.3v3.8h-18.3zM1334.2 77.4h56.3v3.8h-56.3zM1116.1 81h2.3v3.8h-2.3zM1214.1 81h18.3v3.8h-18.3zM1384.2 81h8.3v3.8h-8.3zM1116.1 84.5h2.3v3.8h-2.3zM1208.1 84.5h20.3v3.8h-20.3zM1388.2 84.5h4.3v3.8h-4.3zM1204.1 88.1h20.3v3.8h-20.3zM1390.2 88.1h4.3v3.8h-4.3zM1202.1 91.7h8.3v3.8h-8.3zM1392.2 91.7h2.3v3.8h-2.3zM1198.1 95.2h6.3v3.8h-6.3zM1394.2 95.2h2.3v3.8h-2.3zM1580.2 95.2h6.3v3.8h-6.3zM1196.1 98.8h4.3v3.8h-4.3zM1394.2 98.8h4.3v3.8h-4.3zM1572.2 98.8h20.3v3.8h-20.3zM1192.1 102.4h6.3v3.8h-6.3zM1396.2 102.4h4.3v3.8h-4.3zM1568.2 102.4h8.3v3.8h-8.3zM1590.2 102.4h6.3v3.8h-6.3zM1184.1 106h10.3v3.8h-10.3zM1400.2 106h2.3v3.8h-2.3zM1556.2 106h14.3v3.8h-14.3zM1594.2 106h4.3v3.8h-4.3zM1838.3 106h15.3v3.8h-15.3zM1178.1 109.5h12.3v3.8h-12.3zM1550.2 109.5h10.3v3.8h-10.3zM1596.2 109.5h16.3v3.8h-16.3zM1834.3 109.5h19.3v3.8h-19.3zM1174.1 113.1h8.3v3.8h-8.3zM1402.2 113.1h2.3v3.8h-2.3zM1546.2 113.1h4.3v3.8h-4.3zM1602.2 113.1h22.3v3.8h-22.3zM1684.3 113.1h68.3v3.8h-68.3zM1832.3 113.1h6.3v3.8h-6.3zM1170.1 116.7h8.3v3.8h-8.3zM1544.2 116.7h2.3v3.8h-2.3zM1622.2 116.7h12.3v3.8h-12.3zM1658.2 116.7h38.3v3.8h-38.3zM1742.3 116.7h28.3v3.8h-28.3zM1830.3 116.7h4.3v3.8h-4.3zM1158.1 120.3h16.3v3.8h-16.3zM1542.2 120.3h2.3v3.8h-2.3zM1630.2 120.3h58.3v3.8h-58.3zM1750.3 120.3h26.3v3.8h-26.3zM1828.3 120.3h4.3v3.8h-4.3zM1144.1 123.8h24.3v3.8h-24.3zM1540.2 123.8h2.3v3.8h-2.3zM1654.2 123.8h28.3v3.8h-28.3zM1756.3 123.8h26.3v3.8h-26.3zM1826.3 123.8h4.3v3.8h-4.3zM1140.1 127.4h8.3v3.8h-8.3zM1538.2 127.4h2.3v3.8h-2.3zM1768.3 127.4h24.3v3.8h-24.3zM1824.3 127.4h6.3v3.8h-6.3zM1124.1 131h4.3v3.8h-4.3zM1136.1 131h6.3v3.8h-6.3zM1408.2 131h2.3v3.8h-2.3zM1536.2 131h2.3v3.8h-2.3zM1776.3 131h26.3v3.8h-26.3zM1822.3 131h6.3v3.8h-6.3zM1128.1 134.6h8.3v3.8h-8.3zM1534.2 134.6h2.3v3.8h-2.3zM1790.3 134.6h36.3v3.8h-36.3zM1530.2 138.1h4.3v3.8h-4.3zM1814.3 138.1h10.3v3.8h-10.3zM1528.2 141.7h4.3v3.8h-4.3zM1526.2 145.3h4.3v3.8h-4.3zM1676.3 145.3h16.3v3.8h-16.3zM1410.2 148.9h2.3v3.8h-2.3zM1522.2 148.9h6.3v3.8h-6.3zM1672.3 148.9h28.3v3.8h-28.3zM1520.2 152.4h6.3v3.8h-6.3zM1672.3 152.4h4.3v3.8h-4.3zM1694.3 152.4h54.3v3.8h-54.3zM1518.2 156h8.3v3.8h-8.3zM1670.3 156h2.3v3.8h-2.3zM1704.3 156h50.3v3.8h-50.3zM1484.2 159.6h12.3v3.8h-12.3zM1518.2 159.6h10.3v3.8h-10.3zM1748.3 159.6h8.3v3.8h-8.3zM1834.3 159.6h19.3v3.8h-19.3zM1482.2 163.2h16.3v3.8h-16.3zM1522.2 163.2h8.3v3.8h-8.3zM1668.3 163.2h2.3v3.8h-2.3zM1750.3 163.2h8.3v3.8h-8.3zM1824.3 163.2h29.3v3.8h-29.3zM1482.2 166.8h14.3v3.8h-14.3zM1526.2 166.8h8.3v3.8h-8.3zM1752.3 166.8h8.3v3.8h-8.3zM1816.3 166.8h37.3v3.8h-37.3zM1412.2 170.3h2.3v3.8h-2.3zM1484.2 170.3h8.3v3.8h-8.3zM1532.2 170.3h4.3v3.8h-4.3zM1754.3 170.3h8.3v3.8h-8.3zM1794.3 170.3h59.3v3.8h-59.3zM1536.2 173.9h4.3v3.8h-4.3zM1756.3 173.9h10.3v3.8h-10.3zM1784.3 173.9h18.3v3.8h-18.3zM1542.2 177.5h6.3v3.8h-6.3zM1758.3 177.5h32.3v3.8h-32.3zM1550.2 181.1h12.3v3.8h-12.3zM1760.3 181.1h24.3v3.8h-24.3zM1562.2 184.6h8.3v3.8h-8.3zM1764.3 184.6h16.3v3.8h-16.3zM1414.2 188.2h2.3v3.8h-2.3zM1568.2 188.2h4.3v3.8h-4.3zM1414.2 191.8h2.3v3.8h-2.3zM1570.2 191.8h6.3v3.8h-6.3zM1414.2 195.3h2.3v3.8h-2.3zM1572.2 195.3h6.3v3.8h-6.3zM1276.1 198.9h26.3v3.8h-26.3zM1574.2 198.9h8.3v3.8h-8.3zM1272.1 202.5h4.3v3.8h-4.3zM1302.2 202.5h16.3v3.8h-16.3zM1574.2 202.5h40.3v3.8h-40.3zM1268.1 206.1h4.3v3.8h-4.3zM1316.2 206.1h8.3v3.8h-8.3zM1576.2 206.1h42.3v3.8h-42.3zM1266.1 209.6h2.3v3.8h-2.3zM1322.2 209.6h4.3v3.8h-4.3zM1412.2 209.6h2.3v3.8h-2.3zM1578.2 209.6h42.3v3.8h-42.3zM1668.3 209.6h2.3v3.8h-2.3zM1264.1 213.2h2.3v3.8h-2.3zM1324.2 213.2h6.3v3.8h-6.3zM1580.2 213.2h40.3v3.8h-40.3zM1668.3 213.2h2.3v3.8h-2.3zM1762.3 213.2h12.3v3.8h-12.3zM1264.1 216.8h2.3v3.8h-2.3zM1326.2 216.8h6.3v3.8h-6.3zM1410.2 216.8h2.3v3.8h-2.3zM1590.2 216.8h32.3v3.8h-32.3zM1668.3 216.8h2.3v3.8h-2.3zM1760.3 216.8h12.3v3.8h-12.3zM1262.1 220.4h2.3v3.8h-2.3zM1328.2 220.4h8.3v3.8h-8.3zM1410.2 220.4h2.3v3.8h-2.3zM1594.2 220.4h28.3v3.8h-28.3zM1668.3 220.4h2.3v3.8h-2.3zM1758.3 220.4h14.3v3.8h-14.3zM808 223.9h100.3v3.8h-100.3zM1260.1 223.9h2.3v3.8h-2.3zM1328.2 223.9h12.3v3.8h-12.3zM1408.2 223.9h4.3v3.8h-4.3zM1598.2 223.9h26.3v3.8h-26.3zM1668.3 223.9h2.3v3.8h-2.3zM1756.3 223.9h16.3v3.8h-16.3zM776 227.5h32.3v3.8h-32.3zM862 227.5h52.3v3.8h-52.3zM1260.1 227.5h2.3v3.8h-2.3zM1330.2 227.5h12.3v3.8h-12.3zM1408.2 227.5h4.3v3.8h-4.3zM1600.2 227.5h24.3v3.8h-24.3zM1668.3 227.5h2.3v3.8h-2.3zM1756.3 227.5h18.3v3.8h-18.3zM772 231.1h4.3v3.8h-4.3zM872 231.1h44.3v3.8h-44.3zM1260.1 231.1h2.3v3.8h-2.3zM1330.2 231.1h14.3v3.8h-14.3zM1406.2 231.1h6.3v3.8h-6.3zM1600.2 231.1h26.3v3.8h-26.3zM1668.3 231.1h2.3v3.8h-2.3zM1754.3 231.1h10.3v3.8h-10.3zM1768.3 231.1h8.3v3.8h-8.3zM770 234.7h2.3v3.8h-2.3zM876 234.7h42.3v3.8h-42.3zM1258.1 234.7h4.3v3.8h-4.3zM1330.2 234.7h14.3v3.8h-14.3zM1406.2 234.7h6.3v3.8h-6.3zM1602.2 234.7h24.3v3.8h-24.3zM1668.3 234.7h2.3v3.8h-2.3zM1752.3 234.7h8.3v3.8h-8.3zM1772.3 234.7h6.3v3.8h-6.3zM768 238.2h2.3v3.8h-2.3zM878 238.2h42.3v3.8h-42.3zM1260.1 238.2h2.3v3.8h-2.3zM1328.2 238.2h16.3v3.8h-16.3zM1408.2 238.2h4.3v3.8h-4.3zM1602.2 238.2h24.3v3.8h-24.3zM1668.3 238.2h2.3v3.8h-2.3zM1750.3 238.2h6.3v3.8h-6.3zM1772.3 238.2h6.3v3.8h-6.3zM768 241.8h2.3v3.8h-2.3zM886 241.8h34.3v3.8h-34.3zM1260.1 241.8h2.3v3.8h-2.3zM1326.2 241.8h18.3v3.8h-18.3zM1410.2 241.8h4.3v3.8h-4.3zM1476.2 241.8h4.3v3.8h-4.3zM1606.2 241.8h20.3v3.8h-20.3zM1668.3 241.8h2.3v3.8h-2.3zM1746.3 241.8h8.3v3.8h-8.3zM1774.3 241.8h4.3v3.8h-4.3zM912.1 245.4h10.3v3.8h-10.3zM1260.1 245.4h4.3v3.8h-4.3zM1324.2 245.4h18.3v3.8h-18.3zM1412.2 245.4h4.3v3.8h-4.3zM1468.2 245.4h8.3v3.8h-8.3zM1614.2 245.4h12.3v3.8h-12.3zM1726.3 245.4h24.3v3.8h-24.3zM1774.3 245.4h4.3v3.8h-4.3zM914.1 249h10.3v3.8h-10.3zM1262.1 249h4.3v3.8h-4.3zM1316.2 249h24.3v3.8h-24.3zM1416.2 249h52.3v3.8h-52.3zM1618.2 249h8.3v3.8h-8.3zM1670.3 249h2.3v3.8h-2.3zM1722.3 249h20.3v3.8h-20.3zM1774.3 249h4.3v3.8h-4.3zM916.1 252.6h8.3v3.8h-8.3zM1266.1 252.6h6.3v3.8h-6.3zM1298.2 252.6h36.3v3.8h-36.3zM1620.2 252.6h6.3v3.8h-6.3zM1670.3 252.6h2.3v3.8h-2.3zM1720.3 252.6h4.3v3.8h-4.3zM1774.3 252.6h4.3v3.8h-4.3zM918.1 256.1h10.3v3.8h-10.3zM1270.1 256.1h44.3v3.8h-44.3zM1480.2 256.1h2.3v3.8h-2.3zM1622.2 256.1h4.3v3.8h-4.3zM1670.3 256.1h2.3v3.8h-2.3zM1720.3 256.1h4.3v3.8h-4.3zM1774.3 256.1h4.3v3.8h-4.3zM920.1 259.7h12.3v3.8h-12.3zM1274.1 259.7h38.3v3.8h-38.3zM1330.2 259.7h8.3v3.8h-8.3zM1480.2 259.7h2.3v3.8h-2.3zM1622.2 259.7h6.3v3.8h-6.3zM1720.3 259.7h4.3v3.8h-4.3zM1772.3 259.7h4.3v3.8h-4.3zM922.1 263.3h30.3v3.8h-30.3zM1274.1 263.3h72.3v3.8h-72.3zM1384.2 263.3h24.3v3.8h-24.3zM1624.2 263.3h4.3v3.8h-4.3zM1670.3 263.3h2.3v3.8h-2.3zM1722.3 263.3h12.3v3.8h-12.3zM1764.3 263.3h12.3v3.8h-12.3zM926.1 266.8h32.3v3.8h-32.3zM1272.1 266.8h4.3v3.8h-4.3zM1312.2 266.8h42.3v3.8h-42.3zM1368.2 266.8h72.3v3.8h-72.3zM1626.2 266.8h2.3v3.8h-2.3zM1670.3 266.8h2.3v3.8h-2.3zM1728.3 266.8h40.3v3.8h-40.3zM932.1 270.4h32.3v3.8h-32.3zM1270.1 270.4h4.3v3.8h-4.3zM1322.2 270.4h52.3v3.8h-52.3zM1438.2 270.4h8.3v3.8h-8.3zM1626.2 270.4h4.3v3.8h-4.3zM1670.3 270.4h2.3v3.8h-2.3zM958.1 274h12.3v3.8h-12.3zM1268.1 274h4.3v3.8h-4.3zM1350.2 274h16.3v3.8h-16.3zM1444.2 274h8.3v3.8h-8.3zM1470.2 274h10.3v3.8h-10.3zM1628.2 274h2.3v3.8h-2.3zM1668.3 274h2.3v3.8h-2.3zM964.1 277.6h10.3v3.8h-10.3zM1268.1 277.6h4.3v3.8h-4.3zM1448.2 277.6h24.3v3.8h-24.3zM1628.2 277.6h4.3v3.8h-4.3zM1668.3 277.6h2.3v3.8h-2.3zM968.1 281.1h12.3v3.8h-12.3zM1268.1 281.1h2.3v3.8h-2.3zM1452.2 281.1h16.3v3.8h-16.3zM1630.2 281.1h2.3v3.8h-2.3zM1668.3 281.1h2.3v3.8h-2.3zM972.1 284.7h18.3v3.8h-18.3zM1268.1 284.7h4.3v3.8h-4.3zM1630.2 284.7h4.3v3.8h-4.3zM1666.3 284.7h4.3v3.8h-4.3zM974.1 288.3h22.3v3.8h-22.3zM1270.1 288.3h2.3v3.8h-2.3zM1632.2 288.3h6.3v3.8h-6.3zM1666.3 288.3h4.3v3.8h-4.3zM982.1 291.9h16.3v3.8h-16.3zM1270.1 291.9h2.3v3.8h-2.3zM1634.2 291.9h14.3v3.8h-14.3zM1662.3 291.9h8.3v3.8h-8.3zM990.1 295.4h10.3v3.8h-10.3zM1272.1 295.4h2.3v3.8h-2.3zM1638.2 295.4h32.3v3.8h-32.3zM990.1 299h10.3v3.8h-10.3zM1274.1 299h2.3v3.8h-2.3zM1644.2 299h28.3v3.8h-28.3zM768 302.6h2.3v3.8h-2.3zM930.1 302.6h30.3v3.8h-30.3zM990.1 302.6h10.3v3.8h-10.3zM1274.1 302.6h2.3v3.8h-2.3zM1648.2 302.6h26.3v3.8h-26.3zM768 306.2h2.3v3.8h-2.3zM922.1 306.2h8.3v3.8h-8.3zM948.1 306.2h50.3v3.8h-50.3zM1276.1 306.2h2.3v3.8h-2.3zM1366.2 306.2h8.3v3.8h-8.3zM1386.2 306.2h20.3v3.8h-20.3zM1648.2 306.2h30.3v3.8h-30.3zM768 309.7h2.3v3.8h-2.3zM916.1 309.7h6.3v3.8h-6.3zM970.1 309.7h26.3v3.8h-26.3zM1276.1 309.7h2.3v3.8h-2.3zM1336.2 309.7h28.3v3.8h-28.3zM1412.2 309.7h18.3v3.8h-18.3zM1454.2 309.7h10.3v3.8h-10.3zM1650.2 309.7h12.3v3.8h-12.3zM1678.3 309.7h40.3v3.8h-40.3zM914.1 313.3h4.3v3.8h-4.3zM984.1 313.3h2.3v3.8h-2.3zM1278.1 313.3h2.3v3.8h-2.3zM1334.2 313.3h20.3v3.8h-20.3zM1434.2 313.3h32.3v3.8h-32.3zM1648.2 313.3h10.3v3.8h-10.3zM1722.3 313.3h6.3v3.8h-6.3zM910.1 316.9h4.3v3.8h-4.3zM1280.1 316.9h2.3v3.8h-2.3zM1332.2 316.9h8.3v3.8h-8.3zM1462.2 316.9h4.3v3.8h-4.3zM1542.2 316.9h14.3v3.8h-14.3zM1648.2 316.9h8.3v3.8h-8.3zM1732.3 316.9h8.3v3.8h-8.3zM1774.3 316.9h6.3v3.8h-6.3zM770 320.5h2.3v3.8h-2.3zM908 320.5h4.3v3.8h-4.3zM1282.1 320.5h2.3v3.8h-2.3zM1330.2 320.5h6.3v3.8h-6.3zM1464.2 320.5h4.3v3.8h-4.3zM1534.2 320.5h2.3v3.8h-2.3zM1558.2 320.5h4.3v3.8h-4.3zM1648.2 320.5h6.3v3.8h-6.3zM1744.3 320.5h42.3v3.8h-42.3zM906 324h4.3v3.8h-4.3zM1284.2 324h4.3v3.8h-4.3zM1330.2 324h6.3v3.8h-6.3zM1466.2 324h2.3v3.8h-2.3zM1528.2 324h2.3v3.8h-2.3zM1562.2 324h4.3v3.8h-4.3zM1646.2 324h6.3v3.8h-6.3zM1784.3 324h4.3v3.8h-4.3zM774 327.6h6.3v3.8h-6.3zM798 327.6h2.3v3.8h-2.3zM904 327.6h4.3v3.8h-4.3zM1288.2 327.6h10.3v3.8h-10.3zM1328.2 327.6h6.3v3.8h-6.3zM1466.2 327.6h2.3v3.8h-2.3zM1526.2 327.6h2.3v3.8h-2.3zM1566.2 327.6h2.3v3.8h-2.3zM1646.2 327.6h4.3v3.8h-4.3zM1786.3 327.6h6.3v3.8h-6.3zM806 331.2h2.3v3.8h-2.3zM902 331.2h4.3v3.8h-4.3zM1294.2 331.2h16.3v3.8h-16.3zM1328.2 331.2h6.3v3.8h-6.3zM1468.2 331.2h2.3v3.8h-2.3zM1522.2 331.2h2.3v3.8h-2.3zM1568.2 331.2h2.3v3.8h-2.3zM1644.2 331.2h6.3v3.8h-6.3zM1790.3 331.2h6.3v3.8h-6.3zM810 334.8h2.3v3.8h-2.3zM900 334.8h4.3v3.8h-4.3zM1306.2 334.8h16.3v3.8h-16.3zM1324.2 334.8h10.3v3.8h-10.3zM1468.2 334.8h2.3v3.8h-2.3zM1520.2 334.8h2.3v3.8h-2.3zM1570.2 334.8h4.3v3.8h-4.3zM1644.2 334.8h4.3v3.8h-4.3zM1792.3 334.8h61.3v3.8h-61.3zM812 338.3h2.3v3.8h-2.3zM898 338.3h4.3v3.8h-4.3zM1316.2 338.3h18.3v3.8h-18.3zM1468.2 338.3h2.3v3.8h-2.3zM1518.2 338.3h2.3v3.8h-2.3zM1574.2 338.3h2.3v3.8h-2.3zM1642.2 338.3h4.3v3.8h-4.3zM1796.3 338.3h26.3v3.8h-26.3zM814 341.9h2.3v3.8h-2.3zM898 341.9h4.3v3.8h-4.3zM1322.2 341.9h12.3v3.8h-12.3zM1470.2 341.9h2.3v3.8h-2.3zM1516.2 341.9h2.3v3.8h-2.3zM1576.2 341.9h2.3v3.8h-2.3zM1642.2 341.9h4.3v3.8h-4.3zM816 345.5h2.3v3.8h-2.3zM896 345.5h4.3v3.8h-4.3zM1326.2 345.5h6.3v3.8h-6.3zM1470.2 345.5h2.3v3.8h-2.3zM1514.2 345.5h2.3v3.8h-2.3zM1578.2 345.5h2.3v3.8h-2.3zM1640.2 345.5h4.3v3.8h-4.3zM818 349.1h2.3v3.8h-2.3zM894 349.1h4.3v3.8h-4.3zM1512.2 349.1h2.3v3.8h-2.3zM1580.2 349.1h2.3v3.8h-2.3zM1640.2 349.1h2.3v3.8h-2.3zM818 352.6h2.3v3.8h-2.3zM894 352.6h2.3v3.8h-2.3zM1472.2 352.6h2.3v3.8h-2.3zM1512.2 352.6h2.3v3.8h-2.3zM1582.2 352.6h2.3v3.8h-2.3zM1638.2 352.6h4.3v3.8h-4.3zM820 356.2h2.3v3.8h-2.3zM892 356.2h2.3v3.8h-2.3zM1472.2 356.2h2.3v3.8h-2.3zM1510.2 356.2h2.3v3.8h-2.3zM1584.2 356.2h2.3v3.8h-2.3zM1636.2 356.2h4.3v3.8h-4.3zM822 359.8h2.3v3.8h-2.3zM890 359.8h4.3v3.8h-4.3zM1510.2 359.8h2.3v3.8h-2.3zM1584.2 359.8h4.3v3.8h-4.3zM1632.2 359.8h6.3v3.8h-6.3zM822 363.4h2.3v3.8h-2.3zM888 363.4h4.3v3.8h-4.3zM1508.2 363.4h2.3v3.8h-2.3zM1588.2 363.4h4.3v3.8h-4.3zM1630.2 363.4h4.3v3.8h-4.3zM824 366.9h2.3v3.8h-2.3zM888 366.9h2.3v3.8h-2.3zM1508.2 366.9h2.3v3.8h-2.3zM1590.2 366.9h6.3v3.8h-6.3zM1628.2 366.9h4.3v3.8h-4.3zM826 370.5h2.3v3.8h-2.3zM886 370.5h2.3v3.8h-2.3zM1506.2 370.5h2.3v3.8h-2.3zM1596.2 370.5h2.3v3.8h-2.3zM1626.2 370.5h4.3v3.8h-4.3zM826 374.1h2.3v3.8h-2.3zM884 374.1h2.3v3.8h-2.3zM1474.2 374.1h2.3v3.8h-2.3zM1504.2 374.1h2.3v3.8h-2.3zM1598.2 374.1h2.3v3.8h-2.3zM1626.2 374.1h2.3v3.8h-2.3zM828 377.7h2.3v3.8h-2.3zM880 377.7h4.3v3.8h-4.3zM1474.2 377.7h2.3v3.8h-2.3zM1502.2 377.7h2.3v3.8h-2.3zM1600.2 377.7h2.3v3.8h-2.3zM1624.2 377.7h2.3v3.8h-2.3zM828 381.2h2.3v3.8h-2.3zM878 381.2h4.3v3.8h-4.3zM1474.2 381.2h2.3v3.8h-2.3zM1502.2 381.2h2.3v3.8h-2.3zM1602.2 381.2h2.3v3.8h-2.3zM1624.2 381.2h2.3v3.8h-2.3zM828 384.8h2.3v8.8h-2.3zM878 384.8h2.3v8.8h-2.3zM1500.2 384.8h2.3v8.8h-2.3zM1602.2 384.8h2.3v8.8h-2.3zM1622.2 384.8h2.3v8.8h-2.3z"/><path fill="#1cffdb" d="M1118.1 40.2h2.3v8.8h-2.3zM1176.1 40.2h2.3v8.8h-2.3zM1396.2 40.2h2.3v8.8h-2.3zM1554.2 40.2h60.3v8.8h-60.3zM1708.3 40.2h8.3v8.8h-8.3zM1778.3 40.2h28.3v8.8h-28.3zM1118.1 48.8h2.3v3.8h-2.3zM1176.1 48.8h4.3v3.8h-4.3zM1396.2 48.8h2.3v3.8h-2.3zM1554.2 48.8h58.3v3.8h-58.3zM1708.3 48.8h6.3v3.8h-6.3zM1778.3 48.8h28.3v3.8h-28.3zM1118.1 52.4h2.3v3.8h-2.3zM1176.1 52.4h4.3v3.8h-4.3zM1556.2 52.4h54.3v3.8h-54.3zM1708.3 52.4h6.3v3.8h-6.3zM1776.3 52.4h30.3v3.8h-30.3zM1118.1 55.9h2.3v3.8h-2.3zM1178.1 55.9h4.3v3.8h-4.3zM1556.2 55.9h50.3v3.8h-50.3zM1708.3 55.9h4.3v3.8h-4.3zM1776.3 55.9h32.3v3.8h-32.3zM1118.1 59.5h2.3v3.8h-2.3zM1178.1 59.5h6.3v3.8h-6.3zM1398.2 59.5h2.3v3.8h-2.3zM1558.2 59.5h46.3v3.8h-46.3zM1706.3 59.5h6.3v3.8h-6.3zM1776.3 59.5h32.3v3.8h-32.3zM1178.1 63.1h12.3v3.8h-12.3zM1398.2 63.1h2.3v3.8h-2.3zM1560.2 63.1h42.3v3.8h-42.3zM1706.3 63.1h6.3v3.8h-6.3zM1774.3 63.1h34.3v3.8h-34.3zM1178.1 66.7h14.3v3.8h-14.3zM1398.2 66.7h2.3v3.8h-2.3zM1558.2 66.7h42.3v3.8h-42.3zM1706.3 66.7h6.3v3.8h-6.3zM1774.3 66.7h34.3v3.8h-34.3zM1178.1 70.2h14.3v3.8h-14.3zM1398.2 70.2h2.3v3.8h-2.3zM1558.2 70.2h38.3v3.8h-38.3zM1706.3 70.2h8.3v3.8h-8.3zM1772.3 70.2h36.3v3.8h-36.3zM1178.1 73.8h12.3v3.8h-12.3zM1398.2 73.8h2.3v3.8h-2.3zM1556.2 73.8h36.3v3.8h-36.3zM1706.3 73.8h10.3v3.8h-10.3zM1768.3 73.8h40.3v3.8h-40.3zM1844.3 73.8h9.3v3.8h-9.3zM1176.1 77.4h12.3v3.8h-12.3zM1398.2 77.4h2.3v3.8h-2.3zM1554.2 77.4h16.3v3.8h-16.3zM1706.3 77.4h102.3v3.8h-102.3zM1832.3 77.4h21.3v3.8h-21.3zM1174.1 81h12.3v3.8h-12.3zM1398.2 81h2.3v3.8h-2.3zM1552.2 81h10.3v3.8h-10.3zM1708.3 81h100.3v3.8h-100.3zM1828.3 81h14.3v3.8h-14.3zM1172.1 84.5h10.3v3.8h-10.3zM1398.2 84.5h2.3v3.8h-2.3zM1552.2 84.5h8.3v3.8h-8.3zM1710.3 84.5h70.3v3.8h-70.3zM1788.3 84.5h20.3v3.8h-20.3zM1824.3 84.5h10.3v3.8h-10.3zM1164.1 88.1h12.3v3.8h-12.3zM1548.2 88.1h8.3v3.8h-8.3zM1790.3 88.1h40.3v3.8h-40.3zM1118.1 91.7h2.3v3.8h-2.3zM1150.1 91.7h22.3v3.8h-22.3zM1546.2 91.7h6.3v3.8h-6.3zM1792.3 91.7h36.3v3.8h-36.3zM1118.1 95.2h2.3v3.8h-2.3zM1148.1 95.2h18.3v3.8h-18.3zM1400.2 95.2h2.3v3.8h-2.3zM1544.2 95.2h6.3v3.8h-6.3zM1796.3 95.2h30.3v3.8h-30.3zM1144.1 98.8h8.3v3.8h-8.3zM1544.2 98.8h2.3v3.8h-2.3zM1798.3 98.8h26.3v3.8h-26.3zM1142.1 102.4h4.3v3.8h-4.3zM1402.2 102.4h2.3v3.8h-2.3zM1542.2 102.4h2.3v3.8h-2.3zM1802.3 102.4h18.3v3.8h-18.3zM1140.1 106h4.3v3.8h-4.3zM1540.2 106h2.3v3.8h-2.3zM1808.3 106h6.3v3.8h-6.3zM1120.1 109.5h2.3v3.8h-2.3zM1138.1 109.5h4.3v3.8h-4.3zM1404.2 109.5h2.3v3.8h-2.3zM1538.2 109.5h2.3v3.8h-2.3zM1122.1 113.1h2.3v3.8h-2.3zM1136.1 113.1h2.3v3.8h-2.3zM1406.2 113.1h2.3v3.8h-2.3zM1536.2 113.1h2.3v3.8h-2.3zM1124.1 116.7h12.3v3.8h-12.3zM1408.2 116.7h2.3v3.8h-2.3zM1536.2 116.7h2.3v3.8h-2.3zM1130.1 120.3h2.3v3.8h-2.3zM1534.2 120.3h2.3v3.8h-2.3zM1410.2 123.8h2.3v3.8h-2.3zM1532.2 123.8h2.3v3.8h-2.3zM1410.2 127.4h2.3v3.8h-2.3zM1528.2 127.4h4.3v3.8h-4.3zM1526.2 131h2.3v3.8h-2.3zM1412.2 134.6h2.3v3.8h-2.3zM1522.2 134.6h4.3v3.8h-4.3zM1412.2 138.1h2.3v3.8h-2.3zM1502.2 138.1h18.3v3.8h-18.3zM1412.2 141.7h2.3v3.8h-2.3zM1482.2 141.7h16.3v3.8h-16.3zM1412.2 145.3h2.3v3.8h-2.3zM1474.2 145.3h8.3v3.8h-8.3zM1412.2 148.9h2.3v3.8h-2.3zM1468.2 148.9h6.3v3.8h-6.3zM1464.2 152.4h6.3v3.8h-6.3zM1464.2 156h4.3v3.8h-4.3zM1462.2 159.6h6.3v3.8h-6.3zM1414.2 163.2h2.3v3.8h-2.3zM1462.2 163.2h6.3v3.8h-6.3zM1672.3 163.2h16.3v3.8h-16.3zM1414.2 166.8h2.3v3.8h-2.3zM1464.2 166.8h6.3v3.8h-6.3zM1670.3 166.8h2.3v3.8h-2.3zM1688.3 166.8h4.3v3.8h-4.3zM1414.2 170.3h2.3v3.8h-2.3zM1466.2 170.3h4.3v3.8h-4.3zM1690.3 170.3h8.3v3.8h-8.3zM1468.2 173.9h4.3v3.8h-4.3zM1694.3 173.9h26.3v3.8h-26.3zM1818.3 173.9h4.3v3.8h-4.3zM1472.2 177.5h4.3v3.8h-4.3zM1698.3 177.5h44.3v3.8h-44.3zM1474.2 181.1h6.3v3.8h-6.3zM1504.2 181.1h24.3v3.8h-24.3zM1712.3 181.1h32.3v3.8h-32.3zM1800.3 181.1h2.3v3.8h-2.3zM1482.2 184.6h38.3v3.8h-38.3zM1524.2 184.6h14.3v3.8h-14.3zM1722.3 184.6h24.3v3.8h-24.3zM1794.3 184.6h2.3v3.8h-2.3zM1538.2 188.2h8.3v3.8h-8.3zM1726.3 188.2h20.3v3.8h-20.3zM1546.2 191.8h4.3v3.8h-4.3zM1728.3 191.8h20.3v3.8h-20.3zM1550.2 195.3h6.3v3.8h-6.3zM1728.3 195.3h20.3v3.8h-20.3zM1784.3 195.3h2.3v3.8h-2.3zM1552.2 198.9h8.3v3.8h-8.3zM1726.3 198.9h22.3v3.8h-22.3zM1554.2 202.5h8.3v3.8h-8.3zM1724.3 202.5h22.3v3.8h-22.3zM1556.2 206.1h6.3v3.8h-6.3zM1670.3 206.1h2.3v3.8h-2.3zM1722.3 206.1h24.3v3.8h-24.3zM1278.1 209.6h20.3v3.8h-20.3zM1414.2 209.6h2.3v3.8h-2.3zM1558.2 209.6h6.3v3.8h-6.3zM1670.3 209.6h2.3v3.8h-2.3zM1720.3 209.6h24.3v3.8h-24.3zM1776.3 209.6h2.3v3.8h-2.3zM1274.1 213.2h4.3v3.8h-4.3zM1298.2 213.2h6.3v3.8h-6.3zM1558.2 213.2h6.3v3.8h-6.3zM1718.3 213.2h22.3v3.8h-22.3zM1774.3 213.2h2.3v3.8h-2.3zM1272.1 216.8h2.3v3.8h-2.3zM1302.2 216.8h6.3v3.8h-6.3zM1560.2 216.8h6.3v3.8h-6.3zM1716.3 216.8h14.3v3.8h-14.3zM1270.1 220.4h2.3v3.8h-2.3zM1304.2 220.4h8.3v3.8h-8.3zM1560.2 220.4h6.3v3.8h-6.3zM1714.3 220.4h10.3v3.8h-10.3zM1772.3 220.4h2.3v3.8h-2.3zM1268.1 223.9h2.3v3.8h-2.3zM1306.2 223.9h8.3v3.8h-8.3zM1560.2 223.9h6.3v3.8h-6.3zM1712.3 223.9h8.3v3.8h-8.3zM1268.1 227.5h2.3v3.8h-2.3zM1308.2 227.5h6.3v3.8h-6.3zM1414.2 227.5h2.3v3.8h-2.3zM1562.2 227.5h4.3v3.8h-4.3zM1672.3 227.5h2.3v3.8h-2.3zM1710.3 227.5h8.3v3.8h-8.3zM1774.3 227.5h2.3v3.8h-2.3zM1268.1 231.1h2.3v3.8h-2.3zM1308.2 231.1h6.3v3.8h-6.3zM1414.2 231.1h2.3v3.8h-2.3zM1474.2 231.1h6.3v3.8h-6.3zM1562.2 231.1h6.3v3.8h-6.3zM1672.3 231.1h2.3v3.8h-2.3zM1710.3 231.1h6.3v3.8h-6.3zM1268.1 234.7h2.3v3.8h-2.3zM1306.2 234.7h8.3v3.8h-8.3zM1464.2 234.7h8.3v3.8h-8.3zM1480.2 234.7h2.3v3.8h-2.3zM1562.2 234.7h8.3v3.8h-8.3zM1672.3 234.7h2.3v3.8h-2.3zM1708.3 234.7h6.3v3.8h-6.3zM778 238.2h22.3v3.8h-22.3zM1268.1 238.2h2.3v3.8h-2.3zM1300.2 238.2h10.3v3.8h-10.3zM1416.2 238.2h2.3v3.8h-2.3zM1436.2 238.2h24.3v3.8h-24.3zM1482.2 238.2h2.3v3.8h-2.3zM1562.2 238.2h12.3v3.8h-12.3zM1674.3 238.2h2.3v3.8h-2.3zM1708.3 238.2h4.3v3.8h-4.3zM772 241.8h4.3v3.8h-4.3zM798 241.8h12.3v3.8h-12.3zM1270.1 241.8h4.3v3.8h-4.3zM1292.2 241.8h8.3v3.8h-8.3zM1420.2 241.8h2.3v3.8h-2.3zM1482.2 241.8h2.3v3.8h-2.3zM1564.2 241.8h18.3v3.8h-18.3zM1674.3 241.8h2.3v3.8h-2.3zM1708.3 241.8h4.3v3.8h-4.3zM806 245.4h10.3v3.8h-10.3zM1274.1 245.4h16.3v3.8h-16.3zM1482.2 245.4h2.3v3.8h-2.3zM1564.2 245.4h20.3v3.8h-20.3zM1674.3 245.4h4.3v3.8h-4.3zM1708.3 245.4h4.3v3.8h-4.3zM812 249h18.3v3.8h-18.3zM1484.2 249h2.3v3.8h-2.3zM1568.2 249h18.3v3.8h-18.3zM1674.3 249h4.3v3.8h-4.3zM1708.3 249h4.3v3.8h-4.3zM818 252.6h46.3v3.8h-46.3zM1484.2 252.6h2.3v3.8h-2.3zM1574.2 252.6h14.3v3.8h-14.3zM1676.3 252.6h2.3v3.8h-2.3zM1708.3 252.6h4.3v3.8h-4.3zM854 256.1h14.3v3.8h-14.3zM1484.2 256.1h2.3v3.8h-2.3zM1584.2 256.1h8.3v3.8h-8.3zM1676.3 256.1h4.3v3.8h-4.3zM1708.3 256.1h4.3v3.8h-4.3zM866 259.7h4.3v3.8h-4.3zM1590.2 259.7h4.3v3.8h-4.3zM1676.3 259.7h4.3v3.8h-4.3zM1710.3 259.7h2.3v3.8h-2.3zM868 263.3h4.3v3.8h-4.3zM1482.2 263.3h2.3v3.8h-2.3zM1594.2 263.3h6.3v3.8h-6.3zM1676.3 263.3h2.3v3.8h-2.3zM1710.3 263.3h2.3v3.8h-2.3zM870 266.8h4.3v3.8h-4.3zM1482.2 266.8h2.3v3.8h-2.3zM1600.2 266.8h6.3v3.8h-6.3zM1676.3 266.8h2.3v3.8h-2.3zM1712.3 266.8h2.3v3.8h-2.3zM768 270.4h2.3v3.8h-2.3zM872 270.4h4.3v3.8h-4.3zM1604.2 270.4h10.3v3.8h-10.3zM1676.3 270.4h2.3v3.8h-2.3zM1712.3 270.4h4.3v3.8h-4.3zM768 274h2.3v3.8h-2.3zM874 274h2.3v3.8h-2.3zM1612.2 274h6.3v3.8h-6.3zM1676.3 274h2.3v3.8h-2.3zM1714.3 274h4.3v3.8h-4.3zM1780.3 274h2.3v3.8h-2.3zM768 277.6h2.3v3.8h-2.3zM876 277.6h2.3v3.8h-2.3zM1280.1 277.6h12.3v3.8h-12.3zM1300.2 277.6h10.3v3.8h-10.3zM1616.2 277.6h4.3v3.8h-4.3zM1676.3 277.6h2.3v3.8h-2.3zM1716.3 277.6h48.3v3.8h-48.3zM1778.3 277.6h6.3v3.8h-6.3zM768 281.1h2.3v3.8h-2.3zM876 281.1h4.3v3.8h-4.3zM1280.1 281.1h4.3v3.8h-4.3zM1308.2 281.1h6.3v3.8h-6.3zM1420.2 281.1h6.3v3.8h-6.3zM1620.2 281.1h2.3v3.8h-2.3zM1676.3 281.1h2.3v3.8h-2.3zM1718.3 281.1h12.3v3.8h-12.3zM1760.3 281.1h22.3v3.8h-22.3zM878 284.7h6.3v3.8h-6.3zM1278.1 284.7h4.3v3.8h-4.3zM1312.2 284.7h4.3v3.8h-4.3zM1408.2 284.7h28.3v3.8h-28.3zM1620.2 284.7h4.3v3.8h-4.3zM1678.3 284.7h2.3v3.8h-2.3zM1770.3 284.7h12.3v3.8h-12.3zM880 288.3h12.3v3.8h-12.3zM1280.1 288.3h2.3v3.8h-2.3zM1314.2 288.3h4.3v3.8h-4.3zM1406.2 288.3h32.3v3.8h-32.3zM1474.2 288.3h4.3v3.8h-4.3zM1622.2 288.3h2.3v3.8h-2.3zM1678.3 288.3h2.3v3.8h-2.3zM1772.3 288.3h10.3v3.8h-10.3zM884 291.9h18.3v3.8h-18.3zM1280.1 291.9h2.3v3.8h-2.3zM1314.2 291.9h6.3v3.8h-6.3zM1406.2 291.9h34.3v3.8h-34.3zM1472.2 291.9h4.3v3.8h-4.3zM1622.2 291.9h4.3v3.8h-4.3zM1678.3 291.9h2.3v3.8h-2.3zM1774.3 291.9h8.3v3.8h-8.3zM888 295.4h16.3v3.8h-16.3zM1280.1 295.4h4.3v3.8h-4.3zM1316.2 295.4h4.3v3.8h-4.3zM1412.2 295.4h28.3v3.8h-28.3zM1472.2 295.4h2.3v3.8h-2.3zM1624.2 295.4h2.3v3.8h-2.3zM1680.3 295.4h2.3v3.8h-2.3zM1774.3 295.4h10.3v3.8h-10.3zM890 299h16.3v3.8h-16.3zM1282.1 299h2.3v3.8h-2.3zM1316.2 299h4.3v3.8h-4.3zM1470.2 299h2.3v3.8h-2.3zM1624.2 299h4.3v3.8h-4.3zM1682.3 299h6.3v3.8h-6.3zM1704.3 299h18.3v3.8h-18.3zM1772.3 299h12.3v3.8h-12.3zM890 302.6h14.3v3.8h-14.3zM1282.1 302.6h4.3v3.8h-4.3zM1316.2 302.6h4.3v3.8h-4.3zM1470.2 302.6h2.3v3.8h-2.3zM1626.2 302.6h2.3v3.8h-2.3zM1720.3 302.6h6.3v3.8h-6.3zM1770.3 302.6h8.3v3.8h-8.3zM1780.3 302.6h6.3v3.8h-6.3zM890 306.2h14.3v3.8h-14.3zM1284.2 306.2h2.3v3.8h-2.3zM1314.2 306.2h6.3v3.8h-6.3zM1470.2 306.2h2.3v3.8h-2.3zM1626.2 306.2h2.3v3.8h-2.3zM1726.3 306.2h6.3v3.8h-6.3zM1766.3 306.2h6.3v3.8h-6.3zM1784.3 306.2h6.3v3.8h-6.3zM770 309.7h2.3v3.8h-2.3zM890 309.7h10.3v3.8h-10.3zM1286.2 309.7h4.3v3.8h-4.3zM1312.2 309.7h6.3v3.8h-6.3zM1470.2 309.7h2.3v3.8h-2.3zM1546.2 309.7h8.3v3.8h-8.3zM1626.2 309.7h4.3v3.8h-4.3zM1736.3 309.7h10.3v3.8h-10.3zM1756.3 309.7h10.3v3.8h-10.3zM1788.3 309.7h6.3v3.8h-6.3zM888 313.3h8.3v3.8h-8.3zM1290.2 313.3h6.3v3.8h-6.3zM1306.2 313.3h10.3v3.8h-10.3zM1534.2 313.3h4.3v3.8h-4.3zM1560.2 313.3h4.3v3.8h-4.3zM1628.2 313.3h2.3v3.8h-2.3zM1792.3 313.3h16.3v3.8h-16.3zM888 316.9h4.3v3.8h-4.3zM1528.2 316.9h2.3v3.8h-2.3zM1566.2 316.9h2.3v3.8h-2.3zM1628.2 316.9h2.3v3.8h-2.3zM1800.3 316.9h16.3v3.8h-16.3zM888 320.5h4.3v3.8h-4.3zM1472.2 320.5h2.3v3.8h-2.3zM1524.2 320.5h2.3v3.8h-2.3zM1570.2 320.5h2.3v3.8h-2.3zM1628.2 320.5h2.3v3.8h-2.3zM1816.3 320.5h6.3v3.8h-6.3zM784 324h6.3v3.8h-6.3zM806 324h4.3v3.8h-4.3zM886 324h4.3v3.8h-4.3zM1472.2 324h2.3v3.8h-2.3zM1520.2 324h2.3v3.8h-2.3zM1572.2 324h4.3v3.8h-4.3zM1628.2 324h2.3v3.8h-2.3zM1822.3 324h4.3v3.8h-4.3zM812 327.6h2.3v3.8h-2.3zM886 327.6h4.3v3.8h-4.3zM1472.2 327.6h2.3v3.8h-2.3zM1516.2 327.6h2.3v3.8h-2.3zM1576.2 327.6h2.3v3.8h-2.3zM1628.2 327.6h2.3v3.8h-2.3zM1828.3 327.6h4.3v3.8h-4.3zM816 331.2h2.3v3.8h-2.3zM886 331.2h4.3v3.8h-4.3zM1514.2 331.2h2.3v3.8h-2.3zM1578.2 331.2h4.3v3.8h-4.3zM1626.2 331.2h4.3v3.8h-4.3zM818 334.8h2.3v3.8h-2.3zM886 334.8h2.3v3.8h-2.3zM1512.2 334.8h2.3v3.8h-2.3zM1582.2 334.8h2.3v3.8h-2.3zM1626.2 334.8h4.3v3.8h-4.3zM820 338.3h2.3v3.8h-2.3zM886 338.3h2.3v3.8h-2.3zM1510.2 338.3h2.3v3.8h-2.3zM1584.2 338.3h2.3v3.8h-2.3zM1626.2 338.3h2.3v3.8h-2.3zM820 341.9h2.3v3.8h-2.3zM886 341.9h2.3v3.8h-2.3zM1474.2 341.9h2.3v3.8h-2.3zM1508.2 341.9h2.3v3.8h-2.3zM1586.2 341.9h2.3v3.8h-2.3zM1624.2 341.9h4.3v3.8h-4.3zM822 345.5h2.3v3.8h-2.3zM886 345.5h2.3v3.8h-2.3zM1474.2 345.5h2.3v3.8h-2.3zM1588.2 345.5h4.3v3.8h-4.3zM1622.2 345.5h4.3v3.8h-4.3zM824 349.1h2.3v3.8h-2.3zM884 349.1h2.3v3.8h-2.3zM1506.2 349.1h2.3v3.8h-2.3zM1590.2 349.1h6.3v3.8h-6.3zM1622.2 349.1h4.3v3.8h-4.3zM884 352.6h2.3v3.8h-2.3zM1594.2 352.6h8.3v3.8h-8.3zM1620.2 352.6h4.3v3.8h-4.3zM826 356.2h2.3v3.8h-2.3zM882 356.2h4.3v3.8h-4.3zM1504.2 356.2h2.3v3.8h-2.3zM1598.2 356.2h8.3v3.8h-8.3zM1618.2 356.2h4.3v3.8h-4.3zM828 359.8h2.3v3.8h-2.3zM882 359.8h2.3v3.8h-2.3zM1602.2 359.8h8.3v3.8h-8.3zM1616.2 359.8h6.3v3.8h-6.3zM830 363.4h2.3v3.8h-2.3zM880 363.4h2.3v3.8h-2.3zM1502.2 363.4h2.3v3.8h-2.3zM1604.2 363.4h16.3v3.8h-16.3zM830 366.9h2.3v3.8h-2.3zM878 366.9h2.3v3.8h-2.3zM1476.2 366.9h2.3v3.8h-2.3zM1500.2 366.9h2.3v3.8h-2.3zM1606.2 366.9h12.3v3.8h-12.3zM832 370.5h2.3v3.8h-2.3zM876 370.5h2.3v3.8h-2.3zM1476.2 370.5h2.3v3.8h-2.3zM1498.2 370.5h2.3v3.8h-2.3zM1610.2 370.5h6.3v3.8h-6.3zM832 374.1h2.3v3.8h-2.3zM874 374.1h2.3v3.8h-2.3zM1478.2 374.1h2.3v3.8h-2.3zM1494.2 374.1h4.3v3.8h-4.3zM872 377.7h2.3v3.8h-2.3zM1478.2 377.7h8.3v3.8h-8.3zM1490.2 377.7h6.3v3.8h-6.3zM834 381.2h2.3v3.8h-2.3zM870 381.2h2.3v3.8h-2.3zM1484.2 381.2h8.3v3.8h-8.3zM834 384.8h2.3v8.8h-2.3zM870 384.8h2.3v8.8h-2.3z"/><path fill="#43ffb4" d="M1120.1 40.2h2.3v8.8h-2.3zM1170.1 40.2h2.3v8.8h-2.3zM1546.2 40.2h4.3v8.8h-4.3zM1120.1 48.8h2.3v3.8h-2.3zM1170.1 48.8h4.3v3.8h-4.3zM1398.2 48.8h2.3v3.8h-2.3zM1546.2 48.8h4.3v3.8h-4.3zM1170.1 52.4h4.3v3.8h-4.3zM1548.2 52.4h2.3v3.8h-2.3zM1172.1 55.9h2.3v3.8h-2.3zM1548.2 55.9h2.3v3.8h-2.3zM1172.1 59.5h2.3v3.8h-2.3zM1548.2 59.5h4.3v3.8h-4.3zM1172.1 63.1h2.3v3.8h-2.3zM1548.2 63.1h4.3v3.8h-4.3zM1172.1 66.7h2.3v3.8h-2.3zM1548.2 66.7h4.3v3.8h-4.3zM1170.1 70.2h4.3v3.8h-4.3zM1400.2 70.2h2.3v3.8h-2.3zM1548.2 70.2h2.3v3.8h-2.3zM1168.1 73.8h6.3v3.8h-6.3zM1400.2 73.8h2.3v3.8h-2.3zM1546.2 73.8h4.3v3.8h-4.3zM1164.1 77.4h8.3v3.8h-8.3zM1400.2 77.4h2.3v3.8h-2.3zM1546.2 77.4h2.3v3.8h-2.3zM1150.1 81h18.3v3.8h-18.3zM1400.2 81h2.3v3.8h-2.3zM1544.2 81h4.3v3.8h-4.3zM1146.1 84.5h8.3v3.8h-8.3zM1400.2 84.5h2.3v3.8h-2.3zM1544.2 84.5h2.3v3.8h-2.3zM1144.1 88.1h4.3v3.8h-4.3zM1400.2 88.1h2.3v3.8h-2.3zM1542.2 88.1h2.3v3.8h-2.3zM1142.1 91.7h4.3v3.8h-4.3zM1540.2 91.7h4.3v3.8h-4.3zM1140.1 95.2h4.3v3.8h-4.3zM1402.2 95.2h2.3v3.8h-2.3zM1540.2 95.2h2.3v3.8h-2.3zM1138.1 98.8h4.3v3.8h-4.3zM1538.2 98.8h2.3v3.8h-2.3zM1120.1 102.4h2.3v3.8h-2.3zM1136.1 102.4h4.3v3.8h-4.3zM1404.2 102.4h2.3v3.8h-2.3zM1538.2 102.4h2.3v3.8h-2.3zM1122.1 106h2.3v3.8h-2.3zM1134.1 106h2.3v3.8h-2.3zM1406.2 106h2.3v3.8h-2.3zM1536.2 106h2.3v3.8h-2.3zM1124.1 109.5h10.3v3.8h-10.3zM1408.2 109.5h2.3v3.8h-2.3zM1534.2 109.5h2.3v3.8h-2.3zM1410.2 113.1h2.3v3.8h-2.3zM1534.2 113.1h2.3v3.8h-2.3zM1412.2 116.7h2.3v3.8h-2.3zM1532.2 116.7h2.3v3.8h-2.3zM1412.2 120.3h2.3v3.8h-2.3zM1530.2 120.3h2.3v3.8h-2.3zM1414.2 123.8h2.3v3.8h-2.3zM1526.2 123.8h4.3v3.8h-4.3zM1414.2 127.4h4.3v3.8h-4.3zM1524.2 127.4h2.3v3.8h-2.3zM1416.2 131h2.3v3.8h-2.3zM1518.2 131h4.3v3.8h-4.3zM1416.2 134.6h4.3v3.8h-4.3zM1492.2 134.6h22.3v3.8h-22.3zM1418.2 138.1h2.3v3.8h-2.3zM1476.2 138.1h12.3v3.8h-12.3zM1418.2 141.7h2.3v3.8h-2.3zM1466.2 141.7h8.3v3.8h-8.3zM1418.2 145.3h4.3v3.8h-4.3zM1460.2 145.3h6.3v3.8h-6.3zM1418.2 148.9h4.3v3.8h-4.3zM1458.2 148.9h4.3v3.8h-4.3zM1418.2 152.4h4.3v3.8h-4.3zM1456.2 152.4h4.3v3.8h-4.3zM1418.2 156h4.3v3.8h-4.3zM1454.2 156h4.3v3.8h-4.3zM1418.2 159.6h4.3v3.8h-4.3zM1454.2 159.6h4.3v3.8h-4.3zM1418.2 163.2h4.3v3.8h-4.3zM1454.2 163.2h4.3v3.8h-4.3zM1418.2 166.8h4.3v3.8h-4.3zM1454.2 166.8h4.3v3.8h-4.3zM1418.2 170.3h4.3v3.8h-4.3zM1454.2 170.3h4.3v3.8h-4.3zM1672.3 170.3h14.3v3.8h-14.3zM1418.2 173.9h2.3v3.8h-2.3zM1454.2 173.9h6.3v3.8h-6.3zM1670.3 173.9h2.3v3.8h-2.3zM1684.3 173.9h4.3v3.8h-4.3zM1828.3 173.9h14.3v3.8h-14.3zM1418.2 177.5h2.3v3.8h-2.3zM1456.2 177.5h10.3v3.8h-10.3zM1670.3 177.5h2.3v3.8h-2.3zM1686.3 177.5h6.3v3.8h-6.3zM1810.3 177.5h4.3v3.8h-4.3zM1462.2 181.1h8.3v3.8h-8.3zM1670.3 181.1h2.3v3.8h-2.3zM1688.3 181.1h6.3v3.8h-6.3zM1804.3 181.1h2.3v3.8h-2.3zM1470.2 184.6h6.3v3.8h-6.3zM1670.3 184.6h2.3v3.8h-2.3zM1690.3 184.6h6.3v3.8h-6.3zM1474.2 188.2h10.3v3.8h-10.3zM1670.3 188.2h2.3v3.8h-2.3zM1692.3 188.2h6.3v3.8h-6.3zM1486.2 191.8h52.3v3.8h-52.3zM1670.3 191.8h2.3v3.8h-2.3zM1692.3 191.8h10.3v3.8h-10.3zM1416.2 195.3h2.3v3.8h-2.3zM1532.2 195.3h12.3v3.8h-12.3zM1670.3 195.3h2.3v3.8h-2.3zM1694.3 195.3h14.3v3.8h-14.3zM1786.3 195.3h2.3v3.8h-2.3zM1416.2 198.9h2.3v3.8h-2.3zM1540.2 198.9h6.3v3.8h-6.3zM1694.3 198.9h16.3v3.8h-16.3zM1544.2 202.5h4.3v3.8h-4.3zM1696.3 202.5h14.3v3.8h-14.3zM1544.2 206.1h6.3v3.8h-6.3zM1672.3 206.1h2.3v3.8h-2.3zM1696.3 206.1h14.3v3.8h-14.3zM1546.2 209.6h4.3v3.8h-4.3zM1672.3 209.6h2.3v3.8h-2.3zM1696.3 209.6h12.3v3.8h-12.3zM1546.2 213.2h6.3v3.8h-6.3zM1672.3 213.2h4.3v3.8h-4.3zM1696.3 213.2h12.3v3.8h-12.3zM1776.3 213.2h2.3v3.8h-2.3zM1278.1 216.8h18.3v3.8h-18.3zM1546.2 216.8h6.3v3.8h-6.3zM1674.3 216.8h4.3v3.8h-4.3zM1696.3 216.8h10.3v3.8h-10.3zM1274.1 220.4h4.3v3.8h-4.3zM1292.2 220.4h6.3v3.8h-6.3zM1548.2 220.4h6.3v3.8h-6.3zM1674.3 220.4h6.3v3.8h-6.3zM1694.3 220.4h12.3v3.8h-12.3zM1774.3 220.4h2.3v3.8h-2.3zM1274.1 223.9h2.3v3.8h-2.3zM1292.2 223.9h8.3v3.8h-8.3zM1476.2 223.9h2.3v3.8h-2.3zM1548.2 223.9h6.3v3.8h-6.3zM1674.3 223.9h8.3v3.8h-8.3zM1692.3 223.9h12.3v3.8h-12.3zM1774.3 223.9h2.3v3.8h-2.3zM1272.1 227.5h2.3v3.8h-2.3zM1294.2 227.5h6.3v3.8h-6.3zM1464.2 227.5h10.3v3.8h-10.3zM1480.2 227.5h4.3v3.8h-4.3zM1548.2 227.5h8.3v3.8h-8.3zM1678.3 227.5h24.3v3.8h-24.3zM1776.3 227.5h2.3v3.8h-2.3zM1272.1 231.1h2.3v3.8h-2.3zM1292.2 231.1h8.3v3.8h-8.3zM1444.2 231.1h22.3v3.8h-22.3zM1482.2 231.1h6.3v3.8h-6.3zM1548.2 231.1h8.3v3.8h-8.3zM1680.3 231.1h22.3v3.8h-22.3zM1780.3 231.1h2.3v3.8h-2.3zM1272.1 234.7h2.3v3.8h-2.3zM1290.2 234.7h6.3v3.8h-6.3zM1416.2 234.7h2.3v3.8h-2.3zM1432.2 234.7h8.3v3.8h-8.3zM1484.2 234.7h6.3v3.8h-6.3zM1550.2 234.7h6.3v3.8h-6.3zM1682.3 234.7h20.3v3.8h-20.3zM1274.1 238.2h4.3v3.8h-4.3zM1286.2 238.2h6.3v3.8h-6.3zM1486.2 238.2h4.3v3.8h-4.3zM1550.2 238.2h8.3v3.8h-8.3zM1682.3 238.2h18.3v3.8h-18.3zM1278.1 241.8h8.3v3.8h-8.3zM1488.2 241.8h2.3v3.8h-2.3zM1552.2 241.8h6.3v3.8h-6.3zM1684.3 241.8h16.3v3.8h-16.3zM774 245.4h8.3v3.8h-8.3zM788 245.4h10.3v3.8h-10.3zM1488.2 245.4h2.3v3.8h-2.3zM1554.2 245.4h6.3v3.8h-6.3zM1684.3 245.4h16.3v3.8h-16.3zM798 249h6.3v3.8h-6.3zM1488.2 249h2.3v3.8h-2.3zM1556.2 249h4.3v3.8h-4.3zM1686.3 249h16.3v3.8h-16.3zM770 252.6h2.3v3.8h-2.3zM804 252.6h6.3v3.8h-6.3zM1488.2 252.6h2.3v3.8h-2.3zM1556.2 252.6h6.3v3.8h-6.3zM1686.3 252.6h16.3v3.8h-16.3zM810 256.1h6.3v3.8h-6.3zM1560.2 256.1h6.3v3.8h-6.3zM1684.3 256.1h20.3v3.8h-20.3zM818 259.7h12.3v3.8h-12.3zM1486.2 259.7h2.3v3.8h-2.3zM1562.2 259.7h14.3v3.8h-14.3zM1684.3 259.7h20.3v3.8h-20.3zM832 263.3h32.3v3.8h-32.3zM1484.2 263.3h2.3v3.8h-2.3zM1570.2 263.3h18.3v3.8h-18.3zM1684.3 263.3h22.3v3.8h-22.3zM864 266.8h4.3v3.8h-4.3zM1586.2 266.8h8.3v3.8h-8.3zM1682.3 266.8h8.3v3.8h-8.3zM1700.3 266.8h8.3v3.8h-8.3zM868 270.4h2.3v3.8h-2.3zM1594.2 270.4h6.3v3.8h-6.3zM1682.3 270.4h4.3v3.8h-4.3zM1704.3 270.4h4.3v3.8h-4.3zM870 274h2.3v3.8h-2.3zM1600.2 274h4.3v3.8h-4.3zM1682.3 274h4.3v3.8h-4.3zM1706.3 274h4.3v3.8h-4.3zM872 277.6h2.3v3.8h-2.3zM1604.2 277.6h6.3v3.8h-6.3zM1682.3 277.6h4.3v3.8h-4.3zM1706.3 277.6h6.3v3.8h-6.3zM1786.3 277.6h4.3v3.8h-4.3zM872 281.1h2.3v3.8h-2.3zM1294.2 281.1h6.3v3.8h-6.3zM1608.2 281.1h6.3v3.8h-6.3zM1682.3 281.1h4.3v3.8h-4.3zM1706.3 281.1h6.3v3.8h-6.3zM1786.3 281.1h4.3v3.8h-4.3zM874 284.7h2.3v3.8h-2.3zM1286.2 284.7h20.3v3.8h-20.3zM1612.2 284.7h6.3v3.8h-6.3zM1682.3 284.7h4.3v3.8h-4.3zM1706.3 284.7h6.3v3.8h-6.3zM1734.3 284.7h22.3v3.8h-22.3zM1786.3 284.7h4.3v3.8h-4.3zM876 288.3h2.3v3.8h-2.3zM1286.2 288.3h4.3v3.8h-4.3zM1304.2 288.3h6.3v3.8h-6.3zM1616.2 288.3h4.3v3.8h-4.3zM1682.3 288.3h6.3v3.8h-6.3zM1704.3 288.3h8.3v3.8h-8.3zM1726.3 288.3h38.3v3.8h-38.3zM1786.3 288.3h4.3v3.8h-4.3zM876 291.9h4.3v3.8h-4.3zM1286.2 291.9h4.3v3.8h-4.3zM1306.2 291.9h4.3v3.8h-4.3zM1618.2 291.9h2.3v3.8h-2.3zM1684.3 291.9h26.3v3.8h-26.3zM1724.3 291.9h8.3v3.8h-8.3zM1758.3 291.9h8.3v3.8h-8.3zM1786.3 291.9h6.3v3.8h-6.3zM878 295.4h4.3v3.8h-4.3zM1286.2 295.4h2.3v3.8h-2.3zM1308.2 295.4h4.3v3.8h-4.3zM1476.2 295.4h2.3v3.8h-2.3zM1618.2 295.4h4.3v3.8h-4.3zM1690.3 295.4h12.3v3.8h-12.3zM1726.3 295.4h4.3v3.8h-4.3zM1760.3 295.4h8.3v3.8h-8.3zM1788.3 295.4h4.3v3.8h-4.3zM880 299h4.3v3.8h-4.3zM1286.2 299h4.3v3.8h-4.3zM1308.2 299h4.3v3.8h-4.3zM1474.2 299h2.3v3.8h-2.3zM1620.2 299h2.3v3.8h-2.3zM1726.3 299h6.3v3.8h-6.3zM1760.3 299h6.3v3.8h-6.3zM1790.3 299h6.3v3.8h-6.3zM880 302.6h4.3v3.8h-4.3zM1288.2 302.6h4.3v3.8h-4.3zM1306.2 302.6h6.3v3.8h-6.3zM1474.2 302.6h2.3v3.8h-2.3zM1620.2 302.6h4.3v3.8h-4.3zM1730.3 302.6h10.3v3.8h-10.3zM1756.3 302.6h8.3v3.8h-8.3zM1792.3 302.6h16.3v3.8h-16.3zM770 306.2h2.3v3.8h-2.3zM882 306.2h2.3v3.8h-2.3zM1290.2 306.2h4.3v3.8h-4.3zM1302.2 306.2h8.3v3.8h-8.3zM1546.2 306.2h8.3v3.8h-8.3zM1622.2 306.2h2.3v3.8h-2.3zM1740.3 306.2h18.3v3.8h-18.3zM1796.3 306.2h16.3v3.8h-16.3zM882 309.7h2.3v3.8h-2.3zM1294.2 309.7h10.3v3.8h-10.3zM1534.2 309.7h4.3v3.8h-4.3zM1560.2 309.7h4.3v3.8h-4.3zM1622.2 309.7h2.3v3.8h-2.3zM1810.3 309.7h6.3v3.8h-6.3zM882 313.3h2.3v3.8h-2.3zM1526.2 313.3h4.3v3.8h-4.3zM1566.2 313.3h4.3v3.8h-4.3zM1622.2 313.3h2.3v3.8h-2.3zM1816.3 313.3h4.3v3.8h-4.3zM882 316.9h2.3v3.8h-2.3zM1522.2 316.9h2.3v3.8h-2.3zM1572.2 316.9h4.3v3.8h-4.3zM1622.2 316.9h4.3v3.8h-4.3zM1820.3 316.9h4.3v3.8h-4.3zM778 320.5h32.3v3.8h-32.3zM882 320.5h2.3v3.8h-2.3zM1518.2 320.5h2.3v3.8h-2.3zM1576.2 320.5h4.3v3.8h-4.3zM1622.2 320.5h4.3v3.8h-4.3zM1826.3 320.5h2.3v3.8h-2.3zM812 324h4.3v3.8h-4.3zM882 324h2.3v3.8h-2.3zM1516.2 324h2.3v3.8h-2.3zM1578.2 324h4.3v3.8h-4.3zM1622.2 324h2.3v3.8h-2.3zM1830.3 324h2.3v3.8h-2.3zM816 327.6h4.3v3.8h-4.3zM882 327.6h2.3v3.8h-2.3zM1474.2 327.6h2.3v3.8h-2.3zM1582.2 327.6h2.3v3.8h-2.3zM1622.2 327.6h2.3v3.8h-2.3zM1838.3 327.6h15.3v3.8h-15.3zM820 331.2h2.3v3.8h-2.3zM882 331.2h2.3v3.8h-2.3zM1474.2 331.2h2.3v3.8h-2.3zM1584.2 331.2h4.3v3.8h-4.3zM1620.2 331.2h4.3v3.8h-4.3zM882 334.8h2.3v3.8h-2.3zM1586.2 334.8h6.3v3.8h-6.3zM1618.2 334.8h4.3v3.8h-4.3zM822 338.3h2.3v3.8h-2.3zM882 338.3h2.3v3.8h-2.3zM1590.2 338.3h8.3v3.8h-8.3zM1614.2 338.3h8.3v3.8h-8.3zM824 341.9h2.3v3.8h-2.3zM882 341.9h2.3v3.8h-2.3zM1506.2 341.9h2.3v3.8h-2.3zM1594.2 341.9h26.3v3.8h-26.3zM826 345.5h2.3v3.8h-2.3zM880 345.5h4.3v3.8h-4.3zM1476.2 345.5h2.3v3.8h-2.3zM1504.2 345.5h2.3v3.8h-2.3zM1602.2 345.5h14.3v3.8h-14.3zM826 349.1h2.3v3.8h-2.3zM880 349.1h2.3v3.8h-2.3zM1476.2 349.1h2.3v3.8h-2.3zM828 352.6h2.3v3.8h-2.3zM880 352.6h2.3v3.8h-2.3zM1476.2 352.6h2.3v3.8h-2.3zM1502.2 352.6h2.3v3.8h-2.3zM830 356.2h2.3v3.8h-2.3zM878 356.2h2.3v3.8h-2.3zM1500.2 356.2h2.3v3.8h-2.3zM832 359.8h2.3v3.8h-2.3zM876 359.8h4.3v3.8h-4.3zM1500.2 359.8h2.3v3.8h-2.3zM834 363.4h2.3v3.8h-2.3zM876 363.4h2.3v3.8h-2.3zM1498.2 363.4h2.3v3.8h-2.3zM834 366.9h2.3v3.8h-2.3zM874 366.9h2.3v3.8h-2.3zM1478.2 366.9h2.3v3.8h-2.3zM1494.2 366.9h4.3v3.8h-4.3zM836 370.5h2.3v3.8h-2.3zM870 370.5h4.3v3.8h-4.3zM1480.2 370.5h6.3v3.8h-6.3zM1488.2 370.5h6.3v3.8h-6.3zM836 374.1h2.3v3.8h-2.3zM868 374.1h4.3v3.8h-4.3zM836 377.7h2.3v3.8h-2.3zM868 377.7h2.3v3.8h-2.3zM836 381.2h2.3v3.8h-2.3zM866 381.2h2.3v3.8h-2.3zM838 384.8h2.3v8.8h-2.3zM866 384.8h2.3v8.8h-2.3z"/><path fill="#56ffa0" d="M1122.1 40.2h6.3v8.8h-6.3zM1166.1 40.2h4.3v8.8h-4.3zM1398.2 40.2h2.3v8.8h-2.3zM1544.2 40.2h2.3v8.8h-2.3zM1122.1 48.8h4.3v3.8h-4.3zM1168.1 48.8h2.3v3.8h-2.3zM1544.2 48.8h2.3v3.8h-2.3zM1120.1 52.4h4.3v3.8h-4.3zM1168.1 52.4h2.3v3.8h-2.3zM1546.2 52.4h2.3v3.8h-2.3zM1120.1 55.9h2.3v3.8h-2.3zM1168.1 55.9h4.3v3.8h-4.3zM1546.2 55.9h2.3v3.8h-2.3zM1120.1 59.5h2.3v3.8h-2.3zM1168.1 59.5h4.3v3.8h-4.3zM1400.2 59.5h2.3v3.8h-2.3zM1546.2 59.5h2.3v3.8h-2.3zM1168.1 63.1h4.3v3.8h-4.3zM1400.2 63.1h2.3v3.8h-2.3zM1546.2 63.1h2.3v3.8h-2.3zM1168.1 66.7h4.3v3.8h-4.3zM1400.2 66.7h2.3v3.8h-2.3zM1546.2 66.7h2.3v3.8h-2.3zM1166.1 70.2h4.3v3.8h-4.3zM1544.2 70.2h4.3v3.8h-4.3zM1162.1 73.8h6.3v3.8h-6.3zM1544.2 73.8h2.3v3.8h-2.3zM1148.1 77.4h16.3v3.8h-16.3zM1542.2 77.4h4.3v3.8h-4.3zM1144.1 81h6.3v3.8h-6.3zM1542.2 81h2.3v3.8h-2.3zM1142.1 84.5h4.3v3.8h-4.3zM1540.2 84.5h4.3v3.8h-4.3zM1140.1 88.1h4.3v3.8h-4.3zM1540.2 88.1h2.3v3.8h-2.3zM1140.1 91.7h2.3v3.8h-2.3zM1402.2 91.7h2.3v3.8h-2.3zM1538.2 91.7h2.3v3.8h-2.3zM1138.1 95.2h2.3v3.8h-2.3zM1404.2 95.2h2.3v3.8h-2.3zM1538.2 95.2h2.3v3.8h-2.3zM1120.1 98.8h2.3v3.8h-2.3zM1136.1 98.8h2.3v3.8h-2.3zM1404.2 98.8h2.3v3.8h-2.3zM1536.2 98.8h2.3v3.8h-2.3zM1122.1 102.4h4.3v3.8h-4.3zM1132.1 102.4h4.3v3.8h-4.3zM1406.2 102.4h2.3v3.8h-2.3zM1536.2 102.4h2.3v3.8h-2.3zM1124.1 106h10.3v3.8h-10.3zM1408.2 106h2.3v3.8h-2.3zM1534.2 106h2.3v3.8h-2.3zM1410.2 109.5h2.3v3.8h-2.3zM1532.2 109.5h2.3v3.8h-2.3zM1412.2 113.1h2.3v3.8h-2.3zM1532.2 113.1h2.3v3.8h-2.3zM1530.2 116.7h2.3v3.8h-2.3zM1414.2 120.3h2.3v3.8h-2.3zM1528.2 120.3h2.3v3.8h-2.3zM1416.2 123.8h2.3v3.8h-2.3zM1524.2 123.8h2.3v3.8h-2.3zM1418.2 127.4h2.3v3.8h-2.3zM1518.2 127.4h6.3v3.8h-6.3zM1418.2 131h2.3v3.8h-2.3zM1496.2 131h22.3v3.8h-22.3zM1420.2 134.6h2.3v3.8h-2.3zM1478.2 134.6h14.3v3.8h-14.3zM1420.2 138.1h2.3v3.8h-2.3zM1468.2 138.1h8.3v3.8h-8.3zM1420.2 141.7h4.3v3.8h-4.3zM1460.2 141.7h6.3v3.8h-6.3zM1422.2 145.3h4.3v3.8h-4.3zM1456.2 145.3h4.3v3.8h-4.3zM1422.2 148.9h4.3v3.8h-4.3zM1454.2 148.9h4.3v3.8h-4.3zM1422.2 152.4h4.3v3.8h-4.3zM1450.2 152.4h6.3v3.8h-6.3zM1422.2 156h4.3v3.8h-4.3zM1450.2 156h4.3v3.8h-4.3zM1422.2 159.6h4.3v3.8h-4.3zM1450.2 159.6h4.3v3.8h-4.3zM1422.2 163.2h4.3v3.8h-4.3zM1450.2 163.2h4.3v3.8h-4.3zM1422.2 166.8h2.3v3.8h-2.3zM1450.2 166.8h4.3v3.8h-4.3zM1422.2 170.3h2.3v3.8h-2.3zM1450.2 170.3h4.3v3.8h-4.3zM1420.2 173.9h4.3v3.8h-4.3zM1450.2 173.9h4.3v3.8h-4.3zM1672.3 173.9h12.3v3.8h-12.3zM1842.3 173.9h11.3v3.8h-11.3zM1420.2 177.5h2.3v3.8h-2.3zM1452.2 177.5h4.3v3.8h-4.3zM1672.3 177.5h14.3v3.8h-14.3zM1814.3 177.5h4.3v3.8h-4.3zM1418.2 181.1h4.3v3.8h-4.3zM1454.2 181.1h8.3v3.8h-8.3zM1672.3 181.1h8.3v3.8h-8.3zM1682.3 181.1h6.3v3.8h-6.3zM1806.3 181.1h2.3v3.8h-2.3zM1418.2 184.6h2.3v3.8h-2.3zM1458.2 184.6h12.3v3.8h-12.3zM1672.3 184.6h6.3v3.8h-6.3zM1684.3 184.6h6.3v3.8h-6.3zM1798.3 184.6h2.3v3.8h-2.3zM1468.2 188.2h6.3v3.8h-6.3zM1672.3 188.2h2.3v3.8h-2.3zM1686.3 188.2h6.3v3.8h-6.3zM1794.3 188.2h2.3v3.8h-2.3zM1474.2 191.8h12.3v3.8h-12.3zM1672.3 191.8h2.3v3.8h-2.3zM1686.3 191.8h6.3v3.8h-6.3zM1790.3 191.8h2.3v3.8h-2.3zM1482.2 195.3h50.3v3.8h-50.3zM1672.3 195.3h2.3v3.8h-2.3zM1688.3 195.3h6.3v3.8h-6.3zM1496.2 198.9h44.3v3.8h-44.3zM1672.3 198.9h4.3v3.8h-4.3zM1688.3 198.9h6.3v3.8h-6.3zM1784.3 198.9h2.3v3.8h-2.3zM1416.2 202.5h2.3v3.8h-2.3zM1502.2 202.5h42.3v3.8h-42.3zM1672.3 202.5h6.3v3.8h-6.3zM1688.3 202.5h8.3v3.8h-8.3zM1782.3 202.5h2.3v3.8h-2.3zM1530.2 206.1h14.3v3.8h-14.3zM1674.3 206.1h6.3v3.8h-6.3zM1688.3 206.1h8.3v3.8h-8.3zM1780.3 206.1h2.3v3.8h-2.3zM1536.2 209.6h10.3v3.8h-10.3zM1674.3 209.6h8.3v3.8h-8.3zM1688.3 209.6h8.3v3.8h-8.3zM1778.3 209.6h2.3v3.8h-2.3zM1538.2 213.2h8.3v3.8h-8.3zM1676.3 213.2h8.3v3.8h-8.3zM1686.3 213.2h10.3v3.8h-10.3zM1538.2 216.8h8.3v3.8h-8.3zM1678.3 216.8h18.3v3.8h-18.3zM1278.1 220.4h14.3v3.8h-14.3zM1474.2 220.4h6.3v3.8h-6.3zM1536.2 220.4h12.3v3.8h-12.3zM1680.3 220.4h14.3v3.8h-14.3zM1276.1 223.9h6.3v3.8h-6.3zM1286.2 223.9h6.3v3.8h-6.3zM1456.2 223.9h20.3v3.8h-20.3zM1478.2 223.9h8.3v3.8h-8.3zM1504.2 223.9h44.3v3.8h-44.3zM1682.3 223.9h10.3v3.8h-10.3zM1274.1 227.5h4.3v3.8h-4.3zM1288.2 227.5h6.3v3.8h-6.3zM1444.2 227.5h20.3v3.8h-20.3zM1484.2 227.5h64.3v3.8h-64.3zM1274.1 231.1h4.3v3.8h-4.3zM1286.2 231.1h6.3v3.8h-6.3zM1416.2 231.1h2.3v3.8h-2.3zM1436.2 231.1h8.3v3.8h-8.3zM1488.2 231.1h60.3v3.8h-60.3zM1274.1 234.7h6.3v3.8h-6.3zM1284.2 234.7h6.3v3.8h-6.3zM1418.2 234.7h14.3v3.8h-14.3zM1490.2 234.7h60.3v3.8h-60.3zM1278.1 238.2h8.3v3.8h-8.3zM1490.2 238.2h60.3v3.8h-60.3zM1490.2 241.8h6.3v3.8h-6.3zM1504.2 241.8h48.3v3.8h-48.3zM782 245.4h6.3v3.8h-6.3zM1490.2 245.4h4.3v3.8h-4.3zM1508.2 245.4h46.3v3.8h-46.3zM772 249h6.3v3.8h-6.3zM792 249h6.3v3.8h-6.3zM1490.2 249h2.3v3.8h-2.3zM1516.2 249h40.3v3.8h-40.3zM800 252.6h4.3v3.8h-4.3zM1548.2 252.6h8.3v3.8h-8.3zM770 256.1h2.3v3.8h-2.3zM806 256.1h4.3v3.8h-4.3zM1488.2 256.1h2.3v3.8h-2.3zM1554.2 256.1h6.3v3.8h-6.3zM814 259.7h4.3v3.8h-4.3zM1488.2 259.7h2.3v3.8h-2.3zM1556.2 259.7h6.3v3.8h-6.3zM822 263.3h10.3v3.8h-10.3zM1486.2 263.3h2.3v3.8h-2.3zM1562.2 263.3h8.3v3.8h-8.3zM842 266.8h22.3v3.8h-22.3zM1484.2 266.8h2.3v3.8h-2.3zM1570.2 266.8h16.3v3.8h-16.3zM1690.3 266.8h10.3v3.8h-10.3zM864 270.4h4.3v3.8h-4.3zM1586.2 270.4h8.3v3.8h-8.3zM1686.3 270.4h18.3v3.8h-18.3zM868 274h2.3v3.8h-2.3zM1482.2 274h2.3v3.8h-2.3zM1594.2 274h6.3v3.8h-6.3zM1686.3 274h20.3v3.8h-20.3zM870 277.6h2.3v3.8h-2.3zM1600.2 277.6h4.3v3.8h-4.3zM1686.3 277.6h20.3v3.8h-20.3zM1790.3 277.6h10.3v3.8h-10.3zM870 281.1h2.3v3.8h-2.3zM1602.2 281.1h6.3v3.8h-6.3zM1686.3 281.1h20.3v3.8h-20.3zM1790.3 281.1h8.3v3.8h-8.3zM872 284.7h2.3v3.8h-2.3zM1480.2 284.7h2.3v3.8h-2.3zM1606.2 284.7h6.3v3.8h-6.3zM1686.3 284.7h20.3v3.8h-20.3zM1790.3 284.7h8.3v3.8h-8.3zM874 288.3h2.3v3.8h-2.3zM1290.2 288.3h14.3v3.8h-14.3zM1610.2 288.3h6.3v3.8h-6.3zM1688.3 288.3h16.3v3.8h-16.3zM1790.3 288.3h10.3v3.8h-10.3zM874 291.9h2.3v3.8h-2.3zM1290.2 291.9h16.3v3.8h-16.3zM1478.2 291.9h2.3v3.8h-2.3zM1612.2 291.9h6.3v3.8h-6.3zM1732.3 291.9h26.3v3.8h-26.3zM1792.3 291.9h12.3v3.8h-12.3zM876 295.4h2.3v3.8h-2.3zM1288.2 295.4h6.3v3.8h-6.3zM1302.2 295.4h6.3v3.8h-6.3zM1614.2 295.4h4.3v3.8h-4.3zM1730.3 295.4h30.3v3.8h-30.3zM1792.3 295.4h16.3v3.8h-16.3zM876 299h4.3v3.8h-4.3zM1290.2 299h4.3v3.8h-4.3zM1302.2 299h6.3v3.8h-6.3zM1476.2 299h2.3v3.8h-2.3zM1616.2 299h4.3v3.8h-4.3zM1732.3 299h28.3v3.8h-28.3zM1796.3 299h16.3v3.8h-16.3zM770 302.6h2.3v3.8h-2.3zM878 302.6h2.3v3.8h-2.3zM1292.2 302.6h14.3v3.8h-14.3zM1618.2 302.6h2.3v3.8h-2.3zM1740.3 302.6h16.3v3.8h-16.3zM1808.3 302.6h6.3v3.8h-6.3zM878 306.2h4.3v3.8h-4.3zM1294.2 306.2h8.3v3.8h-8.3zM1474.2 306.2h2.3v3.8h-2.3zM1538.2 306.2h8.3v3.8h-8.3zM1554.2 306.2h8.3v3.8h-8.3zM1618.2 306.2h4.3v3.8h-4.3zM1812.3 306.2h4.3v3.8h-4.3zM878 309.7h4.3v3.8h-4.3zM1474.2 309.7h2.3v3.8h-2.3zM1530.2 309.7h4.3v3.8h-4.3zM1564.2 309.7h6.3v3.8h-6.3zM1618.2 309.7h4.3v3.8h-4.3zM1816.3 309.7h4.3v3.8h-4.3zM880 313.3h2.3v3.8h-2.3zM1474.2 313.3h2.3v3.8h-2.3zM1524.2 313.3h2.3v3.8h-2.3zM1570.2 313.3h4.3v3.8h-4.3zM1620.2 313.3h2.3v3.8h-2.3zM1820.3 313.3h4.3v3.8h-4.3zM880 316.9h2.3v3.8h-2.3zM1474.2 316.9h2.3v3.8h-2.3zM1520.2 316.9h2.3v3.8h-2.3zM1576.2 316.9h4.3v3.8h-4.3zM1620.2 316.9h2.3v3.8h-2.3zM1824.3 316.9h2.3v3.8h-2.3zM810 320.5h4.3v3.8h-4.3zM880 320.5h2.3v3.8h-2.3zM1474.2 320.5h2.3v3.8h-2.3zM1516.2 320.5h2.3v3.8h-2.3zM1580.2 320.5h2.3v3.8h-2.3zM1620.2 320.5h2.3v3.8h-2.3zM1828.3 320.5h2.3v3.8h-2.3zM816 324h2.3v3.8h-2.3zM880 324h2.3v3.8h-2.3zM1474.2 324h2.3v3.8h-2.3zM1514.2 324h2.3v3.8h-2.3zM1582.2 324h4.3v3.8h-4.3zM1618.2 324h4.3v3.8h-4.3zM1832.3 324h4.3v3.8h-4.3zM820 327.6h2.3v3.8h-2.3zM880 327.6h2.3v3.8h-2.3zM1512.2 327.6h2.3v3.8h-2.3zM1584.2 327.6h6.3v3.8h-6.3zM1618.2 327.6h4.3v3.8h-4.3zM822 331.2h2.3v3.8h-2.3zM880 331.2h2.3v3.8h-2.3zM1510.2 331.2h2.3v3.8h-2.3zM1588.2 331.2h6.3v3.8h-6.3zM1614.2 331.2h6.3v3.8h-6.3zM822 334.8h2.3v3.8h-2.3zM880 334.8h2.3v3.8h-2.3zM1508.2 334.8h2.3v3.8h-2.3zM1592.2 334.8h26.3v3.8h-26.3zM824 338.3h2.3v3.8h-2.3zM878 338.3h4.3v3.8h-4.3zM1476.2 338.3h2.3v3.8h-2.3zM1506.2 338.3h2.3v3.8h-2.3zM1598.2 338.3h16.3v3.8h-16.3zM826 341.9h2.3v3.8h-2.3zM878 341.9h4.3v3.8h-4.3zM1476.2 341.9h2.3v3.8h-2.3zM1504.2 341.9h2.3v3.8h-2.3zM828 345.5h2.3v3.8h-2.3zM878 345.5h2.3v3.8h-2.3zM1502.2 345.5h2.3v3.8h-2.3zM828 349.1h4.3v3.8h-4.3zM878 349.1h2.3v3.8h-2.3zM1502.2 349.1h2.3v3.8h-2.3zM830 352.6h4.3v3.8h-4.3zM876 352.6h4.3v3.8h-4.3zM1500.2 352.6h2.3v3.8h-2.3zM832 356.2h4.3v3.8h-4.3zM876 356.2h2.3v3.8h-2.3zM1498.2 356.2h2.3v3.8h-2.3zM834 359.8h2.3v3.8h-2.3zM874 359.8h2.3v3.8h-2.3zM1478.2 359.8h2.3v3.8h-2.3zM1498.2 359.8h2.3v3.8h-2.3zM836 363.4h2.3v3.8h-2.3zM872 363.4h4.3v3.8h-4.3zM1478.2 363.4h2.3v3.8h-2.3zM1494.2 363.4h4.3v3.8h-4.3zM836 366.9h4.3v3.8h-4.3zM870 366.9h4.3v3.8h-4.3zM1480.2 366.9h4.3v3.8h-4.3zM1490.2 366.9h4.3v3.8h-4.3zM838 370.5h2.3v3.8h-2.3zM868 370.5h2.3v3.8h-2.3zM1486.2 370.5h2.3v3.8h-2.3zM838 374.1h2.3v3.8h-2.3zM866 374.1h2.3v3.8h-2.3zM838 377.7h4.3v3.8h-4.3zM864 377.7h4.3v3.8h-4.3zM838 381.2h4.3v3.8h-4.3zM862 381.2h4.3v3.8h-4.3zM840 384.8h2.3v8.8h-2.3zM862 384.8h4.3v8.8h-4.3z"/><path fill="#6aff8d" d="M1128.1 40.2h14.3v8.8h-14.3zM1160.1 40.2h6.3v8.8h-6.3zM1542.2 40.2h2.3v8.8h-2.3zM1126.1 48.8h10.3v3.8h-10.3zM1162.1 48.8h6.3v3.8h-6.3zM1542.2 48.8h2.3v3.8h-2.3zM1124.1 52.4h8.3v3.8h-8.3zM1164.1 52.4h4.3v3.8h-4.3zM1542.2 52.4h4.3v3.8h-4.3zM1122.1 55.9h8.3v3.8h-8.3zM1164.1 55.9h4.3v3.8h-4.3zM1400.2 55.9h2.3v3.8h-2.3zM1544.2 55.9h2.3v3.8h-2.3zM1122.1 59.5h6.3v3.8h-6.3zM1166.1 59.5h2.3v3.8h-2.3zM1544.2 59.5h2.3v3.8h-2.3zM1120.1 63.1h6.3v3.8h-6.3zM1164.1 63.1h4.3v3.8h-4.3zM1544.2 63.1h2.3v3.8h-2.3zM1120.1 66.7h2.3v3.8h-2.3zM1162.1 66.7h6.3v3.8h-6.3zM1542.2 66.7h4.3v3.8h-4.3zM1120.1 70.2h2.3v3.8h-2.3zM1150.1 70.2h16.3v3.8h-16.3zM1542.2 70.2h2.3v3.8h-2.3zM1120.1 73.8h2.3v3.8h-2.3zM1144.1 73.8h18.3v3.8h-18.3zM1542.2 73.8h2.3v3.8h-2.3zM1142.1 77.4h6.3v3.8h-6.3zM1540.2 77.4h2.3v3.8h-2.3zM1140.1 81h4.3v3.8h-4.3zM1540.2 81h2.3v3.8h-2.3zM1140.1 84.5h2.3v3.8h-2.3zM1402.2 84.5h2.3v3.8h-2.3zM1538.2 84.5h2.3v3.8h-2.3zM1138.1 88.1h2.3v3.8h-2.3zM1402.2 88.1h2.3v3.8h-2.3zM1538.2 88.1h2.3v3.8h-2.3zM1120.1 91.7h2.3v3.8h-2.3zM1136.1 91.7h4.3v3.8h-4.3zM1404.2 91.7h2.3v3.8h-2.3zM1536.2 91.7h2.3v3.8h-2.3zM1120.1 95.2h2.3v3.8h-2.3zM1134.1 95.2h4.3v3.8h-4.3zM1406.2 95.2h2.3v3.8h-2.3zM1536.2 95.2h2.3v3.8h-2.3zM1122.1 98.8h6.3v3.8h-6.3zM1130.1 98.8h6.3v3.8h-6.3zM1406.2 98.8h2.3v3.8h-2.3zM1534.2 98.8h2.3v3.8h-2.3zM1126.1 102.4h6.3v3.8h-6.3zM1408.2 102.4h2.3v3.8h-2.3zM1534.2 102.4h2.3v3.8h-2.3zM1410.2 106h2.3v3.8h-2.3zM1532.2 106h2.3v3.8h-2.3zM1412.2 109.5h2.3v3.8h-2.3zM1530.2 109.5h2.3v3.8h-2.3zM1530.2 113.1h2.3v3.8h-2.3zM1414.2 116.7h2.3v3.8h-2.3zM1528.2 116.7h2.3v3.8h-2.3zM1416.2 120.3h2.3v3.8h-2.3zM1524.2 120.3h4.3v3.8h-4.3zM1418.2 123.8h2.3v3.8h-2.3zM1520.2 123.8h4.3v3.8h-4.3zM1498.2 127.4h20.3v3.8h-20.3zM1420.2 131h2.3v3.8h-2.3zM1482.2 131h14.3v3.8h-14.3zM1422.2 134.6h2.3v3.8h-2.3zM1472.2 134.6h6.3v3.8h-6.3zM1422.2 138.1h4.3v3.8h-4.3zM1462.2 138.1h6.3v3.8h-6.3zM1424.2 141.7h4.3v3.8h-4.3zM1454.2 141.7h6.3v3.8h-6.3zM1426.2 145.3h6.3v3.8h-6.3zM1450.2 145.3h6.3v3.8h-6.3zM1426.2 148.9h28.3v3.8h-28.3zM1426.2 152.4h24.3v3.8h-24.3zM1426.2 156h24.3v3.8h-24.3zM1426.2 159.6h8.3v3.8h-8.3zM1442.2 159.6h8.3v3.8h-8.3zM1426.2 163.2h4.3v3.8h-4.3zM1444.2 163.2h6.3v3.8h-6.3zM1424.2 166.8h4.3v3.8h-4.3zM1446.2 166.8h4.3v3.8h-4.3zM1424.2 170.3h2.3v3.8h-2.3zM1446.2 170.3h4.3v3.8h-4.3zM1424.2 173.9h2.3v3.8h-2.3zM1446.2 173.9h4.3v3.8h-4.3zM1422.2 177.5h2.3v3.8h-2.3zM1448.2 177.5h4.3v3.8h-4.3zM1818.3 177.5h4.3v3.8h-4.3zM1422.2 181.1h2.3v3.8h-2.3zM1448.2 181.1h6.3v3.8h-6.3zM1680.3 181.1h2.3v3.8h-2.3zM1808.3 181.1h2.3v3.8h-2.3zM1420.2 184.6h2.3v3.8h-2.3zM1450.2 184.6h8.3v3.8h-8.3zM1678.3 184.6h6.3v3.8h-6.3zM1800.3 184.6h2.3v3.8h-2.3zM1418.2 188.2h2.3v3.8h-2.3zM1452.2 188.2h16.3v3.8h-16.3zM1674.3 188.2h12.3v3.8h-12.3zM1418.2 191.8h2.3v3.8h-2.3zM1456.2 191.8h18.3v3.8h-18.3zM1674.3 191.8h12.3v3.8h-12.3zM1792.3 191.8h2.3v3.8h-2.3zM1466.2 195.3h16.3v3.8h-16.3zM1674.3 195.3h14.3v3.8h-14.3zM1788.3 195.3h2.3v3.8h-2.3zM1472.2 198.9h24.3v3.8h-24.3zM1676.3 198.9h12.3v3.8h-12.3zM1478.2 202.5h24.3v3.8h-24.3zM1678.3 202.5h10.3v3.8h-10.3zM1416.2 206.1h2.3v3.8h-2.3zM1486.2 206.1h44.3v3.8h-44.3zM1680.3 206.1h8.3v3.8h-8.3zM1490.2 209.6h46.3v3.8h-46.3zM1682.3 209.6h6.3v3.8h-6.3zM1474.2 213.2h10.3v3.8h-10.3zM1488.2 213.2h50.3v3.8h-50.3zM1684.3 213.2h2.3v3.8h-2.3zM1778.3 213.2h2.3v3.8h-2.3zM1456.2 216.8h82.3v3.8h-82.3zM1776.3 216.8h2.3v3.8h-2.3zM1450.2 220.4h24.3v3.8h-24.3zM1480.2 220.4h56.3v3.8h-56.3zM1282.1 223.9h4.3v3.8h-4.3zM1444.2 223.9h12.3v3.8h-12.3zM1486.2 223.9h18.3v3.8h-18.3zM1776.3 223.9h2.3v3.8h-2.3zM1278.1 227.5h10.3v3.8h-10.3zM1416.2 227.5h2.3v3.8h-2.3zM1438.2 227.5h6.3v3.8h-6.3zM1778.3 227.5h2.3v3.8h-2.3zM1278.1 231.1h8.3v3.8h-8.3zM1418.2 231.1h18.3v3.8h-18.3zM1280.1 234.7h4.3v3.8h-4.3zM1496.2 241.8h8.3v3.8h-8.3zM1494.2 245.4h14.3v3.8h-14.3zM778 249h14.3v3.8h-14.3zM1492.2 249h4.3v3.8h-4.3zM1504.2 249h12.3v3.8h-12.3zM772 252.6h2.3v3.8h-2.3zM794 252.6h6.3v3.8h-6.3zM1490.2 252.6h4.3v3.8h-4.3zM1508.2 252.6h40.3v3.8h-40.3zM802 256.1h4.3v3.8h-4.3zM1490.2 256.1h2.3v3.8h-2.3zM1514.2 256.1h40.3v3.8h-40.3zM770 259.7h2.3v3.8h-2.3zM810 259.7h4.3v3.8h-4.3zM1546.2 259.7h10.3v3.8h-10.3zM816 263.3h6.3v3.8h-6.3zM1556.2 263.3h6.3v3.8h-6.3zM826 266.8h16.3v3.8h-16.3zM1486.2 266.8h2.3v3.8h-2.3zM1562.2 266.8h8.3v3.8h-8.3zM858 270.4h6.3v3.8h-6.3zM1570.2 270.4h16.3v3.8h-16.3zM864 274h4.3v3.8h-4.3zM1584.2 274h10.3v3.8h-10.3zM868 277.6h2.3v3.8h-2.3zM1482.2 277.6h2.3v3.8h-2.3zM1594.2 277.6h6.3v3.8h-6.3zM1800.3 277.6h12.3v3.8h-12.3zM868 281.1h2.3v3.8h-2.3zM1598.2 281.1h4.3v3.8h-4.3zM1798.3 281.1h12.3v3.8h-12.3zM870 284.7h2.3v3.8h-2.3zM1602.2 284.7h4.3v3.8h-4.3zM1798.3 284.7h12.3v3.8h-12.3zM872 288.3h2.3v3.8h-2.3zM1604.2 288.3h6.3v3.8h-6.3zM1800.3 288.3h12.3v3.8h-12.3zM872 291.9h2.3v3.8h-2.3zM1608.2 291.9h4.3v3.8h-4.3zM1804.3 291.9h8.3v3.8h-8.3zM874 295.4h2.3v3.8h-2.3zM1294.2 295.4h8.3v3.8h-8.3zM1610.2 295.4h4.3v3.8h-4.3zM1808.3 295.4h6.3v3.8h-6.3zM770 299h2.3v3.8h-2.3zM874 299h2.3v3.8h-2.3zM1294.2 299h8.3v3.8h-8.3zM1612.2 299h4.3v3.8h-4.3zM1812.3 299h4.3v3.8h-4.3zM876 302.6h2.3v3.8h-2.3zM1476.2 302.6h2.3v3.8h-2.3zM1544.2 302.6h16.3v3.8h-16.3zM1612.2 302.6h6.3v3.8h-6.3zM1814.3 302.6h4.3v3.8h-4.3zM876 306.2h2.3v3.8h-2.3zM1534.2 306.2h4.3v3.8h-4.3zM1562.2 306.2h6.3v3.8h-6.3zM1614.2 306.2h4.3v3.8h-4.3zM1816.3 306.2h4.3v3.8h-4.3zM876 309.7h2.3v3.8h-2.3zM1526.2 309.7h4.3v3.8h-4.3zM1570.2 309.7h4.3v3.8h-4.3zM1614.2 309.7h4.3v3.8h-4.3zM1820.3 309.7h2.3v3.8h-2.3zM772 313.3h2.3v3.8h-2.3zM876 313.3h4.3v3.8h-4.3zM1522.2 313.3h2.3v3.8h-2.3zM1574.2 313.3h6.3v3.8h-6.3zM1614.2 313.3h6.3v3.8h-6.3zM1824.3 313.3h2.3v3.8h-2.3zM774 316.9h2.3v3.8h-2.3zM800 316.9h6.3v3.8h-6.3zM876 316.9h4.3v3.8h-4.3zM1518.2 316.9h2.3v3.8h-2.3zM1580.2 316.9h4.3v3.8h-4.3zM1614.2 316.9h6.3v3.8h-6.3zM1826.3 316.9h4.3v3.8h-4.3zM814 320.5h4.3v3.8h-4.3zM876 320.5h4.3v3.8h-4.3zM1582.2 320.5h6.3v3.8h-6.3zM1614.2 320.5h6.3v3.8h-6.3zM1830.3 320.5h4.3v3.8h-4.3zM818 324h4.3v3.8h-4.3zM876 324h4.3v3.8h-4.3zM1512.2 324h2.3v3.8h-2.3zM1586.2 324h6.3v3.8h-6.3zM1610.2 324h8.3v3.8h-8.3zM1836.3 324h17.3v3.8h-17.3zM822 327.6h2.3v3.8h-2.3zM876 327.6h4.3v3.8h-4.3zM1510.2 327.6h2.3v3.8h-2.3zM1590.2 327.6h28.3v3.8h-28.3zM824 331.2h2.3v3.8h-2.3zM876 331.2h4.3v3.8h-4.3zM1508.2 331.2h2.3v3.8h-2.3zM1594.2 331.2h20.3v3.8h-20.3zM824 334.8h2.3v3.8h-2.3zM876 334.8h4.3v3.8h-4.3zM1476.2 334.8h2.3v3.8h-2.3zM1506.2 334.8h2.3v3.8h-2.3zM826 338.3h2.3v3.8h-2.3zM876 338.3h2.3v3.8h-2.3zM1504.2 338.3h2.3v3.8h-2.3zM828 341.9h2.3v3.8h-2.3zM876 341.9h2.3v3.8h-2.3zM830 345.5h2.3v3.8h-2.3zM874 345.5h4.3v3.8h-4.3zM832 349.1h2.3v3.8h-2.3zM874 349.1h4.3v3.8h-4.3zM1478.2 349.1h2.3v3.8h-2.3zM1500.2 349.1h2.3v3.8h-2.3zM834 352.6h2.3v3.8h-2.3zM872 352.6h4.3v3.8h-4.3zM1478.2 352.6h2.3v3.8h-2.3zM1498.2 352.6h2.3v3.8h-2.3zM836 356.2h4.3v3.8h-4.3zM870 356.2h6.3v3.8h-6.3zM1478.2 356.2h2.3v3.8h-2.3zM836 359.8h4.3v3.8h-4.3zM868 359.8h6.3v3.8h-6.3zM1496.2 359.8h2.3v3.8h-2.3zM838 363.4h4.3v3.8h-4.3zM866 363.4h6.3v3.8h-6.3zM1480.2 363.4h4.3v3.8h-4.3zM1492.2 363.4h2.3v3.8h-2.3zM840 366.9h4.3v3.8h-4.3zM864 366.9h6.3v3.8h-6.3zM1484.2 366.9h6.3v3.8h-6.3zM840 370.5h6.3v3.8h-6.3zM860 370.5h8.3v3.8h-8.3zM840 374.1h10.3v3.8h-10.3zM856 374.1h10.3v3.8h-10.3zM842 377.7h22.3v3.8h-22.3zM842 381.2h20.3v3.8h-20.3zM842 384.8h20.3v8.8h-20.3z"/><path fill="#7dff7a" d="M1142.1 40.2h18.3v8.8h-18.3zM1538.2 40.2h4.3v8.8h-4.3zM1136.1 48.8h26.3v3.8h-26.3zM1540.2 48.8h2.3v3.8h-2.3zM1132.1 52.4h32.3v3.8h-32.3zM1400.2 52.4h2.3v3.8h-2.3zM1540.2 52.4h2.3v3.8h-2.3zM1130.1 55.9h34.3v3.8h-34.3zM1540.2 55.9h4.3v3.8h-4.3zM1128.1 59.5h38.3v3.8h-38.3zM1540.2 59.5h4.3v3.8h-4.3zM1126.1 63.1h38.3v3.8h-38.3zM1540.2 63.1h4.3v3.8h-4.3zM1122.1 66.7h8.3v3.8h-8.3zM1138.1 66.7h24.3v3.8h-24.3zM1540.2 66.7h2.3v3.8h-2.3zM1122.1 70.2h6.3v3.8h-6.3zM1138.1 70.2h12.3v3.8h-12.3zM1402.2 70.2h2.3v3.8h-2.3zM1540.2 70.2h2.3v3.8h-2.3zM1122.1 73.8h4.3v3.8h-4.3zM1138.1 73.8h6.3v3.8h-6.3zM1402.2 73.8h2.3v3.8h-2.3zM1540.2 73.8h2.3v3.8h-2.3zM1120.1 77.4h4.3v3.8h-4.3zM1138.1 77.4h4.3v3.8h-4.3zM1402.2 77.4h2.3v3.8h-2.3zM1538.2 77.4h2.3v3.8h-2.3zM1120.1 81h2.3v3.8h-2.3zM1138.1 81h2.3v3.8h-2.3zM1402.2 81h2.3v3.8h-2.3zM1536.2 81h4.3v3.8h-4.3zM1120.1 84.5h2.3v3.8h-2.3zM1136.1 84.5h4.3v3.8h-4.3zM1404.2 84.5h2.3v3.8h-2.3zM1536.2 84.5h2.3v3.8h-2.3zM1120.1 88.1h2.3v3.8h-2.3zM1136.1 88.1h2.3v3.8h-2.3zM1404.2 88.1h4.3v3.8h-4.3zM1534.2 88.1h4.3v3.8h-4.3zM1122.1 91.7h4.3v3.8h-4.3zM1134.1 91.7h2.3v3.8h-2.3zM1406.2 91.7h2.3v3.8h-2.3zM1534.2 91.7h2.3v3.8h-2.3zM1122.1 95.2h12.3v3.8h-12.3zM1408.2 95.2h2.3v3.8h-2.3zM1534.2 95.2h2.3v3.8h-2.3zM1128.1 98.8h2.3v3.8h-2.3zM1408.2 98.8h2.3v3.8h-2.3zM1532.2 98.8h2.3v3.8h-2.3zM1410.2 102.4h2.3v3.8h-2.3zM1532.2 102.4h2.3v3.8h-2.3zM1412.2 106h2.3v3.8h-2.3zM1530.2 106h2.3v3.8h-2.3zM1528.2 109.5h2.3v3.8h-2.3zM1414.2 113.1h2.3v3.8h-2.3zM1526.2 113.1h4.3v3.8h-4.3zM1416.2 116.7h2.3v3.8h-2.3zM1524.2 116.7h4.3v3.8h-4.3zM1418.2 120.3h2.3v3.8h-2.3zM1520.2 120.3h4.3v3.8h-4.3zM1420.2 123.8h2.3v3.8h-2.3zM1500.2 123.8h20.3v3.8h-20.3zM1420.2 127.4h4.3v3.8h-4.3zM1486.2 127.4h12.3v3.8h-12.3zM1422.2 131h4.3v3.8h-4.3zM1474.2 131h8.3v3.8h-8.3zM1424.2 134.6h4.3v3.8h-4.3zM1464.2 134.6h8.3v3.8h-8.3zM1426.2 138.1h6.3v3.8h-6.3zM1454.2 138.1h8.3v3.8h-8.3zM1428.2 141.7h26.3v3.8h-26.3zM1432.2 145.3h18.3v3.8h-18.3zM1434.2 159.6h8.3v3.8h-8.3zM1430.2 163.2h14.3v3.8h-14.3zM1428.2 166.8h18.3v3.8h-18.3zM1426.2 170.3h8.3v3.8h-8.3zM1440.2 170.3h6.3v3.8h-6.3zM1426.2 173.9h4.3v3.8h-4.3zM1442.2 173.9h4.3v3.8h-4.3zM1424.2 177.5h4.3v3.8h-4.3zM1444.2 177.5h4.3v3.8h-4.3zM1822.3 177.5h2.3v3.8h-2.3zM1424.2 181.1h2.3v3.8h-2.3zM1444.2 181.1h4.3v3.8h-4.3zM1422.2 184.6h2.3v3.8h-2.3zM1444.2 184.6h6.3v3.8h-6.3zM1802.3 184.6h2.3v3.8h-2.3zM1420.2 188.2h4.3v3.8h-4.3zM1446.2 188.2h6.3v3.8h-6.3zM1796.3 188.2h2.3v3.8h-2.3zM1420.2 191.8h2.3v3.8h-2.3zM1446.2 191.8h10.3v3.8h-10.3zM1418.2 195.3h2.3v3.8h-2.3zM1448.2 195.3h18.3v3.8h-18.3zM1448.2 198.9h24.3v3.8h-24.3zM1786.3 198.9h2.3v3.8h-2.3zM1448.2 202.5h30.3v3.8h-30.3zM1784.3 202.5h2.3v3.8h-2.3zM1448.2 206.1h38.3v3.8h-38.3zM1416.2 209.6h2.3v3.8h-2.3zM1448.2 209.6h42.3v3.8h-42.3zM1780.3 209.6h2.3v3.8h-2.3zM1448.2 213.2h26.3v3.8h-26.3zM1484.2 213.2h4.3v3.8h-4.3zM1446.2 216.8h10.3v3.8h-10.3zM1416.2 220.4h2.3v3.8h-2.3zM1444.2 220.4h6.3v3.8h-6.3zM1776.3 220.4h2.3v3.8h-2.3zM1416.2 223.9h2.3v3.8h-2.3zM1440.2 223.9h4.3v3.8h-4.3zM1418.2 227.5h2.3v3.8h-2.3zM1432.2 227.5h6.3v3.8h-6.3zM1496.2 249h8.3v3.8h-8.3zM774 252.6h8.3v3.8h-8.3zM786 252.6h8.3v3.8h-8.3zM1494.2 252.6h4.3v3.8h-4.3zM1502.2 252.6h6.3v3.8h-6.3zM798 256.1h4.3v3.8h-4.3zM1492.2 256.1h2.3v3.8h-2.3zM1508.2 256.1h6.3v3.8h-6.3zM806 259.7h4.3v3.8h-4.3zM1490.2 259.7h2.3v3.8h-2.3zM1514.2 259.7h32.3v3.8h-32.3zM770 263.3h2.3v3.8h-2.3zM812 263.3h4.3v3.8h-4.3zM1488.2 263.3h2.3v3.8h-2.3zM1530.2 263.3h26.3v3.8h-26.3zM820 266.8h6.3v3.8h-6.3zM1552.2 266.8h10.3v3.8h-10.3zM828 270.4h30.3v3.8h-30.3zM1484.2 270.4h2.3v3.8h-2.3zM1562.2 270.4h8.3v3.8h-8.3zM860 274h4.3v3.8h-4.3zM1568.2 274h16.3v3.8h-16.3zM864 277.6h4.3v3.8h-4.3zM1578.2 277.6h16.3v3.8h-16.3zM1812.3 277.6h6.3v3.8h-6.3zM1592.2 281.1h6.3v3.8h-6.3zM1810.3 281.1h6.3v3.8h-6.3zM868 284.7h2.3v3.8h-2.3zM1596.2 284.7h6.3v3.8h-6.3zM1810.3 284.7h6.3v3.8h-6.3zM870 288.3h2.3v3.8h-2.3zM1480.2 288.3h2.3v3.8h-2.3zM1600.2 288.3h4.3v3.8h-4.3zM1812.3 288.3h4.3v3.8h-4.3zM870 291.9h2.3v3.8h-2.3zM1602.2 291.9h6.3v3.8h-6.3zM1812.3 291.9h4.3v3.8h-4.3zM770 295.4h2.3v3.8h-2.3zM872 295.4h2.3v3.8h-2.3zM1478.2 295.4h2.3v3.8h-2.3zM1604.2 295.4h6.3v3.8h-6.3zM1814.3 295.4h2.3v3.8h-2.3zM872 299h2.3v3.8h-2.3zM1548.2 299h8.3v3.8h-8.3zM1606.2 299h6.3v3.8h-6.3zM1816.3 299h2.3v3.8h-2.3zM874 302.6h2.3v3.8h-2.3zM1536.2 302.6h8.3v3.8h-8.3zM1560.2 302.6h8.3v3.8h-8.3zM1608.2 302.6h4.3v3.8h-4.3zM1818.3 302.6h2.3v3.8h-2.3zM874 306.2h2.3v3.8h-2.3zM1476.2 306.2h2.3v3.8h-2.3zM1528.2 306.2h6.3v3.8h-6.3zM1568.2 306.2h8.3v3.8h-8.3zM1608.2 306.2h6.3v3.8h-6.3zM1820.3 306.2h2.3v3.8h-2.3zM874 309.7h2.3v3.8h-2.3zM1476.2 309.7h2.3v3.8h-2.3zM1524.2 309.7h2.3v3.8h-2.3zM1574.2 309.7h8.3v3.8h-8.3zM1608.2 309.7h6.3v3.8h-6.3zM1822.3 309.7h4.3v3.8h-4.3zM874 313.3h2.3v3.8h-2.3zM1520.2 313.3h2.3v3.8h-2.3zM1580.2 313.3h6.3v3.8h-6.3zM1606.2 313.3h8.3v3.8h-8.3zM1826.3 313.3h2.3v3.8h-2.3zM776 316.9h24.3v3.8h-24.3zM806 316.9h8.3v3.8h-8.3zM874 316.9h2.3v3.8h-2.3zM1516.2 316.9h2.3v3.8h-2.3zM1584.2 316.9h8.3v3.8h-8.3zM1602.2 316.9h12.3v3.8h-12.3zM1830.3 316.9h2.3v3.8h-2.3zM818 320.5h2.3v3.8h-2.3zM874 320.5h2.3v3.8h-2.3zM1514.2 320.5h2.3v3.8h-2.3zM1588.2 320.5h26.3v3.8h-26.3zM1834.3 320.5h4.3v3.8h-4.3zM822 324h2.3v3.8h-2.3zM874 324h2.3v3.8h-2.3zM1592.2 324h18.3v3.8h-18.3zM824 327.6h2.3v3.8h-2.3zM874 327.6h2.3v3.8h-2.3zM1508.2 327.6h2.3v3.8h-2.3zM826 331.2h2.3v3.8h-2.3zM872 331.2h4.3v3.8h-4.3zM1476.2 331.2h2.3v3.8h-2.3zM826 334.8h4.3v3.8h-4.3zM872 334.8h4.3v3.8h-4.3zM828 338.3h4.3v3.8h-4.3zM872 338.3h4.3v3.8h-4.3zM830 341.9h4.3v3.8h-4.3zM870 341.9h6.3v3.8h-6.3zM1502.2 341.9h2.3v3.8h-2.3zM832 345.5h4.3v3.8h-4.3zM868 345.5h6.3v3.8h-6.3zM1478.2 345.5h2.3v3.8h-2.3zM1500.2 345.5h2.3v3.8h-2.3zM834 349.1h6.3v3.8h-6.3zM866 349.1h8.3v3.8h-8.3zM1498.2 349.1h2.3v3.8h-2.3zM836 352.6h10.3v3.8h-10.3zM862 352.6h10.3v3.8h-10.3zM840 356.2h30.3v3.8h-30.3zM1496.2 356.2h2.3v3.8h-2.3zM840 359.8h28.3v3.8h-28.3zM1480.2 359.8h2.3v3.8h-2.3zM1492.2 359.8h4.3v3.8h-4.3zM842 363.4h24.3v3.8h-24.3zM1484.2 363.4h8.3v3.8h-8.3zM844 366.9h20.3v3.8h-20.3zM846 370.5h14.3v3.8h-14.3zM850 374.1h6.3v3.8h-6.3z"/><path fill="#30ffc7" d="M1172.1 40.2h4.3v8.8h-4.3zM1550.2 40.2h4.3v8.8h-4.3zM1716.3 40.2h62.3v8.8h-62.3zM1806.3 40.2h47.3v8.8h-47.3zM1174.1 48.8h2.3v3.8h-2.3zM1550.2 48.8h4.3v3.8h-4.3zM1714.3 48.8h64.3v3.8h-64.3zM1806.3 48.8h47.3v3.8h-47.3zM1174.1 52.4h2.3v3.8h-2.3zM1398.2 52.4h2.3v3.8h-2.3zM1550.2 52.4h6.3v3.8h-6.3zM1714.3 52.4h62.3v3.8h-62.3zM1806.3 52.4h47.3v3.8h-47.3zM1174.1 55.9h4.3v3.8h-4.3zM1398.2 55.9h2.3v3.8h-2.3zM1550.2 55.9h6.3v3.8h-6.3zM1712.3 55.9h64.3v3.8h-64.3zM1808.3 55.9h45.3v3.8h-45.3zM1174.1 59.5h4.3v3.8h-4.3zM1552.2 59.5h6.3v3.8h-6.3zM1712.3 59.5h64.3v3.8h-64.3zM1808.3 59.5h45.3v3.8h-45.3zM1118.1 63.1h2.3v3.8h-2.3zM1174.1 63.1h4.3v3.8h-4.3zM1552.2 63.1h8.3v3.8h-8.3zM1712.3 63.1h62.3v3.8h-62.3zM1808.3 63.1h45.3v3.8h-45.3zM1118.1 66.7h2.3v3.8h-2.3zM1174.1 66.7h4.3v3.8h-4.3zM1552.2 66.7h6.3v3.8h-6.3zM1712.3 66.7h62.3v3.8h-62.3zM1808.3 66.7h45.3v3.8h-45.3zM1118.1 70.2h2.3v3.8h-2.3zM1174.1 70.2h4.3v3.8h-4.3zM1550.2 70.2h8.3v3.8h-8.3zM1714.3 70.2h58.3v3.8h-58.3zM1808.3 70.2h45.3v3.8h-45.3zM1118.1 73.8h2.3v3.8h-2.3zM1174.1 73.8h4.3v3.8h-4.3zM1550.2 73.8h6.3v3.8h-6.3zM1716.3 73.8h52.3v3.8h-52.3zM1808.3 73.8h36.3v3.8h-36.3zM1118.1 77.4h2.3v3.8h-2.3zM1172.1 77.4h4.3v3.8h-4.3zM1548.2 77.4h6.3v3.8h-6.3zM1808.3 77.4h24.3v3.8h-24.3zM1118.1 81h2.3v3.8h-2.3zM1168.1 81h6.3v3.8h-6.3zM1548.2 81h4.3v3.8h-4.3zM1808.3 81h20.3v3.8h-20.3zM1118.1 84.5h2.3v3.8h-2.3zM1154.1 84.5h18.3v3.8h-18.3zM1546.2 84.5h6.3v3.8h-6.3zM1808.3 84.5h16.3v3.8h-16.3zM1118.1 88.1h2.3v3.8h-2.3zM1148.1 88.1h16.3v3.8h-16.3zM1544.2 88.1h4.3v3.8h-4.3zM1146.1 91.7h4.3v3.8h-4.3zM1400.2 91.7h2.3v3.8h-2.3zM1544.2 91.7h2.3v3.8h-2.3zM1144.1 95.2h4.3v3.8h-4.3zM1542.2 95.2h2.3v3.8h-2.3zM1142.1 98.8h2.3v3.8h-2.3zM1402.2 98.8h2.3v3.8h-2.3zM1540.2 98.8h4.3v3.8h-4.3zM1140.1 102.4h2.3v3.8h-2.3zM1540.2 102.4h2.3v3.8h-2.3zM1120.1 106h2.3v3.8h-2.3zM1136.1 106h4.3v3.8h-4.3zM1404.2 106h2.3v3.8h-2.3zM1538.2 106h2.3v3.8h-2.3zM1122.1 109.5h2.3v3.8h-2.3zM1134.1 109.5h4.3v3.8h-4.3zM1406.2 109.5h2.3v3.8h-2.3zM1536.2 109.5h2.3v3.8h-2.3zM1124.1 113.1h12.3v3.8h-12.3zM1408.2 113.1h2.3v3.8h-2.3zM1410.2 116.7h2.3v3.8h-2.3zM1534.2 116.7h2.3v3.8h-2.3zM1410.2 120.3h2.3v3.8h-2.3zM1532.2 120.3h2.3v3.8h-2.3zM1412.2 123.8h2.3v3.8h-2.3zM1530.2 123.8h2.3v3.8h-2.3zM1412.2 127.4h2.3v3.8h-2.3zM1526.2 127.4h2.3v3.8h-2.3zM1412.2 131h4.3v3.8h-4.3zM1522.2 131h4.3v3.8h-4.3zM1414.2 134.6h2.3v3.8h-2.3zM1514.2 134.6h8.3v3.8h-8.3zM1414.2 138.1h4.3v3.8h-4.3zM1488.2 138.1h14.3v3.8h-14.3zM1414.2 141.7h4.3v3.8h-4.3zM1474.2 141.7h8.3v3.8h-8.3zM1414.2 145.3h4.3v3.8h-4.3zM1466.2 145.3h8.3v3.8h-8.3zM1414.2 148.9h4.3v3.8h-4.3zM1462.2 148.9h6.3v3.8h-6.3zM1414.2 152.4h4.3v3.8h-4.3zM1460.2 152.4h4.3v3.8h-4.3zM1414.2 156h4.3v3.8h-4.3zM1458.2 156h6.3v3.8h-6.3zM1414.2 159.6h4.3v3.8h-4.3zM1458.2 159.6h4.3v3.8h-4.3zM1416.2 163.2h2.3v3.8h-2.3zM1458.2 163.2h4.3v3.8h-4.3zM1416.2 166.8h2.3v3.8h-2.3zM1458.2 166.8h6.3v3.8h-6.3zM1672.3 166.8h16.3v3.8h-16.3zM1416.2 170.3h2.3v3.8h-2.3zM1458.2 170.3h8.3v3.8h-8.3zM1670.3 170.3h2.3v3.8h-2.3zM1686.3 170.3h4.3v3.8h-4.3zM1416.2 173.9h2.3v3.8h-2.3zM1460.2 173.9h8.3v3.8h-8.3zM1688.3 173.9h6.3v3.8h-6.3zM1822.3 173.9h6.3v3.8h-6.3zM1416.2 177.5h2.3v3.8h-2.3zM1466.2 177.5h6.3v3.8h-6.3zM1692.3 177.5h6.3v3.8h-6.3zM1808.3 177.5h2.3v3.8h-2.3zM1416.2 181.1h2.3v3.8h-2.3zM1470.2 181.1h4.3v3.8h-4.3zM1694.3 181.1h18.3v3.8h-18.3zM1802.3 181.1h2.3v3.8h-2.3zM1416.2 184.6h2.3v3.8h-2.3zM1476.2 184.6h6.3v3.8h-6.3zM1520.2 184.6h4.3v3.8h-4.3zM1696.3 184.6h26.3v3.8h-26.3zM1796.3 184.6h2.3v3.8h-2.3zM1416.2 188.2h2.3v3.8h-2.3zM1484.2 188.2h54.3v3.8h-54.3zM1698.3 188.2h28.3v3.8h-28.3zM1792.3 188.2h2.3v3.8h-2.3zM1416.2 191.8h2.3v3.8h-2.3zM1538.2 191.8h8.3v3.8h-8.3zM1702.3 191.8h26.3v3.8h-26.3zM1788.3 191.8h2.3v3.8h-2.3zM1544.2 195.3h6.3v3.8h-6.3zM1708.3 195.3h20.3v3.8h-20.3zM1546.2 198.9h6.3v3.8h-6.3zM1670.3 198.9h2.3v3.8h-2.3zM1710.3 198.9h16.3v3.8h-16.3zM1782.3 198.9h2.3v3.8h-2.3zM1548.2 202.5h6.3v3.8h-6.3zM1670.3 202.5h2.3v3.8h-2.3zM1710.3 202.5h14.3v3.8h-14.3zM1780.3 202.5h2.3v3.8h-2.3zM1550.2 206.1h6.3v3.8h-6.3zM1710.3 206.1h12.3v3.8h-12.3zM1778.3 206.1h2.3v3.8h-2.3zM1550.2 209.6h8.3v3.8h-8.3zM1708.3 209.6h12.3v3.8h-12.3zM1278.1 213.2h20.3v3.8h-20.3zM1414.2 213.2h2.3v3.8h-2.3zM1552.2 213.2h6.3v3.8h-6.3zM1708.3 213.2h10.3v3.8h-10.3zM1274.1 216.8h4.3v3.8h-4.3zM1296.2 216.8h6.3v3.8h-6.3zM1414.2 216.8h2.3v3.8h-2.3zM1552.2 216.8h8.3v3.8h-8.3zM1672.3 216.8h2.3v3.8h-2.3zM1706.3 216.8h10.3v3.8h-10.3zM1774.3 216.8h2.3v3.8h-2.3zM1272.1 220.4h2.3v3.8h-2.3zM1298.2 220.4h6.3v3.8h-6.3zM1414.2 220.4h2.3v3.8h-2.3zM1554.2 220.4h6.3v3.8h-6.3zM1672.3 220.4h2.3v3.8h-2.3zM1706.3 220.4h8.3v3.8h-8.3zM1270.1 223.9h4.3v3.8h-4.3zM1300.2 223.9h6.3v3.8h-6.3zM1414.2 223.9h2.3v3.8h-2.3zM1554.2 223.9h6.3v3.8h-6.3zM1672.3 223.9h2.3v3.8h-2.3zM1704.3 223.9h8.3v3.8h-8.3zM1270.1 227.5h2.3v3.8h-2.3zM1300.2 227.5h8.3v3.8h-8.3zM1474.2 227.5h6.3v3.8h-6.3zM1556.2 227.5h6.3v3.8h-6.3zM1674.3 227.5h4.3v3.8h-4.3zM1702.3 227.5h8.3v3.8h-8.3zM1270.1 231.1h2.3v3.8h-2.3zM1300.2 231.1h8.3v3.8h-8.3zM1466.2 231.1h8.3v3.8h-8.3zM1480.2 231.1h2.3v3.8h-2.3zM1556.2 231.1h6.3v3.8h-6.3zM1674.3 231.1h6.3v3.8h-6.3zM1702.3 231.1h8.3v3.8h-8.3zM1778.3 231.1h2.3v3.8h-2.3zM1270.1 234.7h2.3v3.8h-2.3zM1296.2 234.7h10.3v3.8h-10.3zM1440.2 234.7h24.3v3.8h-24.3zM1482.2 234.7h2.3v3.8h-2.3zM1556.2 234.7h6.3v3.8h-6.3zM1674.3 234.7h8.3v3.8h-8.3zM1702.3 234.7h6.3v3.8h-6.3zM1270.1 238.2h4.3v3.8h-4.3zM1292.2 238.2h8.3v3.8h-8.3zM1418.2 238.2h18.3v3.8h-18.3zM1484.2 238.2h2.3v3.8h-2.3zM1558.2 238.2h4.3v3.8h-4.3zM1676.3 238.2h6.3v3.8h-6.3zM1700.3 238.2h8.3v3.8h-8.3zM776 241.8h22.3v3.8h-22.3zM1274.1 241.8h4.3v3.8h-4.3zM1286.2 241.8h6.3v3.8h-6.3zM1484.2 241.8h4.3v3.8h-4.3zM1558.2 241.8h6.3v3.8h-6.3zM1676.3 241.8h8.3v3.8h-8.3zM1700.3 241.8h8.3v3.8h-8.3zM772 245.4h2.3v3.8h-2.3zM798 245.4h8.3v3.8h-8.3zM1484.2 245.4h4.3v3.8h-4.3zM1560.2 245.4h4.3v3.8h-4.3zM1678.3 245.4h6.3v3.8h-6.3zM1700.3 245.4h8.3v3.8h-8.3zM770 249h2.3v3.8h-2.3zM804 249h8.3v3.8h-8.3zM1486.2 249h2.3v3.8h-2.3zM1560.2 249h8.3v3.8h-8.3zM1678.3 249h8.3v3.8h-8.3zM1702.3 249h6.3v3.8h-6.3zM810 252.6h8.3v3.8h-8.3zM1486.2 252.6h2.3v3.8h-2.3zM1562.2 252.6h12.3v3.8h-12.3zM1678.3 252.6h8.3v3.8h-8.3zM1702.3 252.6h6.3v3.8h-6.3zM816 256.1h38.3v3.8h-38.3zM1486.2 256.1h2.3v3.8h-2.3zM1566.2 256.1h18.3v3.8h-18.3zM1680.3 256.1h4.3v3.8h-4.3zM1704.3 256.1h4.3v3.8h-4.3zM830 259.7h36.3v3.8h-36.3zM1484.2 259.7h2.3v3.8h-2.3zM1576.2 259.7h14.3v3.8h-14.3zM1680.3 259.7h4.3v3.8h-4.3zM1704.3 259.7h6.3v3.8h-6.3zM864 263.3h4.3v3.8h-4.3zM1588.2 263.3h6.3v3.8h-6.3zM1678.3 263.3h6.3v3.8h-6.3zM1706.3 263.3h4.3v3.8h-4.3zM868 266.8h2.3v3.8h-2.3zM1594.2 266.8h6.3v3.8h-6.3zM1678.3 266.8h4.3v3.8h-4.3zM1708.3 266.8h4.3v3.8h-4.3zM870 270.4h2.3v3.8h-2.3zM1482.2 270.4h2.3v3.8h-2.3zM1600.2 270.4h4.3v3.8h-4.3zM1678.3 270.4h4.3v3.8h-4.3zM1708.3 270.4h4.3v3.8h-4.3zM872 274h2.3v3.8h-2.3zM1604.2 274h8.3v3.8h-8.3zM1678.3 274h4.3v3.8h-4.3zM1710.3 274h4.3v3.8h-4.3zM874 277.6h2.3v3.8h-2.3zM1292.2 277.6h8.3v3.8h-8.3zM1610.2 277.6h6.3v3.8h-6.3zM1678.3 277.6h4.3v3.8h-4.3zM1712.3 277.6h4.3v3.8h-4.3zM1784.3 277.6h2.3v3.8h-2.3zM874 281.1h2.3v3.8h-2.3zM1284.2 281.1h10.3v3.8h-10.3zM1300.2 281.1h8.3v3.8h-8.3zM1480.2 281.1h2.3v3.8h-2.3zM1614.2 281.1h6.3v3.8h-6.3zM1678.3 281.1h4.3v3.8h-4.3zM1712.3 281.1h6.3v3.8h-6.3zM1730.3 281.1h30.3v3.8h-30.3zM1782.3 281.1h4.3v3.8h-4.3zM876 284.7h2.3v3.8h-2.3zM1282.1 284.7h4.3v3.8h-4.3zM1306.2 284.7h6.3v3.8h-6.3zM1618.2 284.7h2.3v3.8h-2.3zM1680.3 284.7h2.3v3.8h-2.3zM1712.3 284.7h22.3v3.8h-22.3zM1756.3 284.7h14.3v3.8h-14.3zM1782.3 284.7h4.3v3.8h-4.3zM878 288.3h2.3v3.8h-2.3zM1282.1 288.3h4.3v3.8h-4.3zM1310.2 288.3h4.3v3.8h-4.3zM1478.2 288.3h2.3v3.8h-2.3zM1620.2 288.3h2.3v3.8h-2.3zM1680.3 288.3h2.3v3.8h-2.3zM1712.3 288.3h14.3v3.8h-14.3zM1764.3 288.3h8.3v3.8h-8.3zM1782.3 288.3h4.3v3.8h-4.3zM880 291.9h4.3v3.8h-4.3zM1282.1 291.9h4.3v3.8h-4.3zM1310.2 291.9h4.3v3.8h-4.3zM1476.2 291.9h2.3v3.8h-2.3zM1620.2 291.9h2.3v3.8h-2.3zM1680.3 291.9h4.3v3.8h-4.3zM1710.3 291.9h14.3v3.8h-14.3zM1766.3 291.9h8.3v3.8h-8.3zM1782.3 291.9h4.3v3.8h-4.3zM882 295.4h6.3v3.8h-6.3zM1284.2 295.4h2.3v3.8h-2.3zM1312.2 295.4h4.3v3.8h-4.3zM1474.2 295.4h2.3v3.8h-2.3zM1622.2 295.4h2.3v3.8h-2.3zM1682.3 295.4h8.3v3.8h-8.3zM1702.3 295.4h24.3v3.8h-24.3zM1768.3 295.4h6.3v3.8h-6.3zM1784.3 295.4h4.3v3.8h-4.3zM884 299h6.3v3.8h-6.3zM1284.2 299h2.3v3.8h-2.3zM1312.2 299h4.3v3.8h-4.3zM1472.2 299h2.3v3.8h-2.3zM1622.2 299h2.3v3.8h-2.3zM1688.3 299h16.3v3.8h-16.3zM1722.3 299h4.3v3.8h-4.3zM1766.3 299h6.3v3.8h-6.3zM1784.3 299h6.3v3.8h-6.3zM884 302.6h6.3v3.8h-6.3zM1286.2 302.6h2.3v3.8h-2.3zM1312.2 302.6h4.3v3.8h-4.3zM1472.2 302.6h2.3v3.8h-2.3zM1624.2 302.6h2.3v3.8h-2.3zM1726.3 302.6h4.3v3.8h-4.3zM1764.3 302.6h6.3v3.8h-6.3zM1786.3 302.6h6.3v3.8h-6.3zM884 306.2h6.3v3.8h-6.3zM1286.2 306.2h4.3v3.8h-4.3zM1310.2 306.2h4.3v3.8h-4.3zM1472.2 306.2h2.3v3.8h-2.3zM1624.2 306.2h2.3v3.8h-2.3zM1732.3 306.2h8.3v3.8h-8.3zM1758.3 306.2h8.3v3.8h-8.3zM1790.3 306.2h6.3v3.8h-6.3zM884 309.7h6.3v3.8h-6.3zM1290.2 309.7h4.3v3.8h-4.3zM1304.2 309.7h8.3v3.8h-8.3zM1472.2 309.7h2.3v3.8h-2.3zM1538.2 309.7h8.3v3.8h-8.3zM1554.2 309.7h6.3v3.8h-6.3zM1624.2 309.7h2.3v3.8h-2.3zM1746.3 309.7h10.3v3.8h-10.3zM1794.3 309.7h16.3v3.8h-16.3zM884 313.3h4.3v3.8h-4.3zM1296.2 313.3h10.3v3.8h-10.3zM1472.2 313.3h2.3v3.8h-2.3zM1530.2 313.3h4.3v3.8h-4.3zM1564.2 313.3h2.3v3.8h-2.3zM1624.2 313.3h4.3v3.8h-4.3zM1808.3 313.3h8.3v3.8h-8.3zM772 316.9h2.3v3.8h-2.3zM884 316.9h4.3v3.8h-4.3zM1472.2 316.9h2.3v3.8h-2.3zM1524.2 316.9h4.3v3.8h-4.3zM1568.2 316.9h4.3v3.8h-4.3zM1626.2 316.9h2.3v3.8h-2.3zM1816.3 316.9h4.3v3.8h-4.3zM774 320.5h4.3v3.8h-4.3zM884 320.5h4.3v3.8h-4.3zM1520.2 320.5h4.3v3.8h-4.3zM1572.2 320.5h4.3v3.8h-4.3zM1626.2 320.5h2.3v3.8h-2.3zM1822.3 320.5h4.3v3.8h-4.3zM810 324h2.3v3.8h-2.3zM884 324h2.3v3.8h-2.3zM1518.2 324h2.3v3.8h-2.3zM1576.2 324h2.3v3.8h-2.3zM1624.2 324h4.3v3.8h-4.3zM1826.3 324h4.3v3.8h-4.3zM814 327.6h2.3v3.8h-2.3zM884 327.6h2.3v3.8h-2.3zM1514.2 327.6h2.3v3.8h-2.3zM1578.2 327.6h4.3v3.8h-4.3zM1624.2 327.6h4.3v3.8h-4.3zM1832.3 327.6h6.3v3.8h-6.3zM818 331.2h2.3v3.8h-2.3zM884 331.2h2.3v3.8h-2.3zM1512.2 331.2h2.3v3.8h-2.3zM1582.2 331.2h2.3v3.8h-2.3zM1624.2 331.2h2.3v3.8h-2.3zM820 334.8h2.3v3.8h-2.3zM884 334.8h2.3v3.8h-2.3zM1474.2 334.8h2.3v3.8h-2.3zM1510.2 334.8h2.3v3.8h-2.3zM1584.2 334.8h2.3v3.8h-2.3zM1622.2 334.8h4.3v3.8h-4.3zM884 338.3h2.3v3.8h-2.3zM1474.2 338.3h2.3v3.8h-2.3zM1508.2 338.3h2.3v3.8h-2.3zM1586.2 338.3h4.3v3.8h-4.3zM1622.2 338.3h4.3v3.8h-4.3zM822 341.9h2.3v3.8h-2.3zM884 341.9h2.3v3.8h-2.3zM1588.2 341.9h6.3v3.8h-6.3zM1620.2 341.9h4.3v3.8h-4.3zM824 345.5h2.3v3.8h-2.3zM884 345.5h2.3v3.8h-2.3zM1506.2 345.5h2.3v3.8h-2.3zM1592.2 345.5h10.3v3.8h-10.3zM1616.2 345.5h6.3v3.8h-6.3zM882 349.1h2.3v3.8h-2.3zM1504.2 349.1h2.3v3.8h-2.3zM1596.2 349.1h26.3v3.8h-26.3zM826 352.6h2.3v3.8h-2.3zM882 352.6h2.3v3.8h-2.3zM1504.2 352.6h2.3v3.8h-2.3zM1602.2 352.6h18.3v3.8h-18.3zM828 356.2h2.3v3.8h-2.3zM880 356.2h2.3v3.8h-2.3zM1476.2 356.2h2.3v3.8h-2.3zM1502.2 356.2h2.3v3.8h-2.3zM1606.2 356.2h12.3v3.8h-12.3zM830 359.8h2.3v3.8h-2.3zM880 359.8h2.3v3.8h-2.3zM1476.2 359.8h2.3v3.8h-2.3zM1502.2 359.8h2.3v3.8h-2.3zM1610.2 359.8h6.3v3.8h-6.3zM832 363.4h2.3v3.8h-2.3zM878 363.4h2.3v3.8h-2.3zM1476.2 363.4h2.3v3.8h-2.3zM1500.2 363.4h2.3v3.8h-2.3zM832 366.9h2.3v3.8h-2.3zM876 366.9h2.3v3.8h-2.3zM1498.2 366.9h2.3v3.8h-2.3zM834 370.5h2.3v3.8h-2.3zM874 370.5h2.3v3.8h-2.3zM1478.2 370.5h2.3v3.8h-2.3zM1494.2 370.5h4.3v3.8h-4.3zM834 374.1h2.3v3.8h-2.3zM872 374.1h2.3v3.8h-2.3zM1480.2 374.1h14.3v3.8h-14.3zM834 377.7h2.3v3.8h-2.3zM870 377.7h2.3v3.8h-2.3zM1486.2 377.7h4.3v3.8h-4.3zM868 381.2h2.3v3.8h-2.3zM836 384.8h2.3v8.8h-2.3zM868 384.8h2.3v8.8h-2.3z"/><path fill="#0cf4eb" d="M1178.1 40.2h8.3v8.8h-8.3zM1394.2 40.2h2.3v8.8h-2.3zM1614.2 40.2h70.3v8.8h-70.3zM1704.3 40.2h4.3v8.8h-4.3zM1180.1 48.8h22.3v3.8h-22.3zM1394.2 48.8h2.3v3.8h-2.3zM1612.2 48.8h70.3v3.8h-70.3zM1704.3 48.8h4.3v3.8h-4.3zM1180.1 52.4h26.3v3.8h-26.3zM1396.2 52.4h2.3v3.8h-2.3zM1610.2 52.4h70.3v3.8h-70.3zM1702.3 52.4h6.3v3.8h-6.3zM1182.1 55.9h24.3v3.8h-24.3zM1396.2 55.9h2.3v3.8h-2.3zM1606.2 55.9h72.3v3.8h-72.3zM1702.3 55.9h6.3v3.8h-6.3zM1184.1 59.5h24.3v3.8h-24.3zM1396.2 59.5h2.3v3.8h-2.3zM1604.2 59.5h74.3v3.8h-74.3zM1702.3 59.5h4.3v3.8h-4.3zM1190.1 63.1h16.3v3.8h-16.3zM1396.2 63.1h2.3v3.8h-2.3zM1602.2 63.1h74.3v3.8h-74.3zM1702.3 63.1h4.3v3.8h-4.3zM1192.1 66.7h14.3v3.8h-14.3zM1600.2 66.7h76.3v3.8h-76.3zM1702.3 66.7h4.3v3.8h-4.3zM1192.1 70.2h12.3v3.8h-12.3zM1596.2 70.2h80.3v3.8h-80.3zM1700.3 70.2h6.3v3.8h-6.3zM1190.1 73.8h12.3v3.8h-12.3zM1592.2 73.8h84.3v3.8h-84.3zM1700.3 73.8h6.3v3.8h-6.3zM1188.1 77.4h12.3v3.8h-12.3zM1570.2 77.4h104.3v3.8h-104.3zM1700.3 77.4h6.3v3.8h-6.3zM1186.1 81h12.3v3.8h-12.3zM1562.2 81h112.3v3.8h-112.3zM1698.3 81h10.3v3.8h-10.3zM1842.3 81h11.3v3.8h-11.3zM1182.1 84.5h12.3v3.8h-12.3zM1560.2 84.5h18.3v3.8h-18.3zM1596.2 84.5h72.3v3.8h-72.3zM1698.3 84.5h12.3v3.8h-12.3zM1780.3 84.5h8.3v3.8h-8.3zM1834.3 84.5h19.3v3.8h-19.3zM1176.1 88.1h16.3v3.8h-16.3zM1398.2 88.1h2.3v3.8h-2.3zM1556.2 88.1h10.3v3.8h-10.3zM1618.2 88.1h40.3v3.8h-40.3zM1698.3 88.1h92.3v3.8h-92.3zM1830.3 88.1h12.3v3.8h-12.3zM1172.1 91.7h16.3v3.8h-16.3zM1398.2 91.7h2.3v3.8h-2.3zM1552.2 91.7h10.3v3.8h-10.3zM1622.2 91.7h32.3v3.8h-32.3zM1700.3 91.7h92.3v3.8h-92.3zM1828.3 91.7h8.3v3.8h-8.3zM1166.1 95.2h12.3v3.8h-12.3zM1550.2 95.2h8.3v3.8h-8.3zM1624.2 95.2h28.3v3.8h-28.3zM1706.3 95.2h90.3v3.8h-90.3zM1826.3 95.2h6.3v3.8h-6.3zM1118.1 98.8h2.3v3.8h-2.3zM1152.1 98.8h20.3v3.8h-20.3zM1400.2 98.8h2.3v3.8h-2.3zM1546.2 98.8h6.3v3.8h-6.3zM1628.2 98.8h20.3v3.8h-20.3zM1774.3 98.8h24.3v3.8h-24.3zM1824.3 98.8h6.3v3.8h-6.3zM1146.1 102.4h22.3v3.8h-22.3zM1544.2 102.4h4.3v3.8h-4.3zM1632.2 102.4h12.3v3.8h-12.3zM1780.3 102.4h22.3v3.8h-22.3zM1820.3 102.4h8.3v3.8h-8.3zM1144.1 106h12.3v3.8h-12.3zM1542.2 106h4.3v3.8h-4.3zM1788.3 106h20.3v3.8h-20.3zM1814.3 106h12.3v3.8h-12.3zM1142.1 109.5h4.3v3.8h-4.3zM1540.2 109.5h2.3v3.8h-2.3zM1794.3 109.5h30.3v3.8h-30.3zM1138.1 113.1h4.3v3.8h-4.3zM1538.2 113.1h2.3v3.8h-2.3zM1798.3 113.1h24.3v3.8h-24.3zM1122.1 116.7h2.3v3.8h-2.3zM1136.1 116.7h4.3v3.8h-4.3zM1538.2 116.7h2.3v3.8h-2.3zM1804.3 116.7h14.3v3.8h-14.3zM1124.1 120.3h6.3v3.8h-6.3zM1132.1 120.3h6.3v3.8h-6.3zM1408.2 120.3h2.3v3.8h-2.3zM1536.2 120.3h2.3v3.8h-2.3zM1128.1 123.8h6.3v3.8h-6.3zM1534.2 123.8h2.3v3.8h-2.3zM1532.2 127.4h2.3v3.8h-2.3zM1410.2 131h2.3v3.8h-2.3zM1528.2 131h2.3v3.8h-2.3zM1526.2 134.6h2.3v3.8h-2.3zM1520.2 138.1h4.3v3.8h-4.3zM1498.2 141.7h22.3v3.8h-22.3zM1482.2 145.3h16.3v3.8h-16.3zM1474.2 148.9h8.3v3.8h-8.3zM1412.2 152.4h2.3v3.8h-2.3zM1470.2 152.4h6.3v3.8h-6.3zM1412.2 156h2.3v3.8h-2.3zM1468.2 156h6.3v3.8h-6.3zM1468.2 159.6h4.3v3.8h-4.3zM1676.3 159.6h12.3v3.8h-12.3zM1468.2 163.2h4.3v3.8h-4.3zM1670.3 163.2h2.3v3.8h-2.3zM1688.3 163.2h6.3v3.8h-6.3zM1470.2 166.8h4.3v3.8h-4.3zM1692.3 166.8h12.3v3.8h-12.3zM1470.2 170.3h4.3v3.8h-4.3zM1698.3 170.3h46.3v3.8h-46.3zM1414.2 173.9h2.3v3.8h-2.3zM1472.2 173.9h4.3v3.8h-4.3zM1720.3 173.9h26.3v3.8h-26.3zM1816.3 173.9h2.3v3.8h-2.3zM1414.2 177.5h2.3v3.8h-2.3zM1476.2 177.5h4.3v3.8h-4.3zM1500.2 177.5h30.3v3.8h-30.3zM1742.3 177.5h6.3v3.8h-6.3zM1806.3 177.5h2.3v3.8h-2.3zM1480.2 181.1h24.3v3.8h-24.3zM1528.2 181.1h8.3v3.8h-8.3zM1744.3 181.1h6.3v3.8h-6.3zM1538.2 184.6h6.3v3.8h-6.3zM1746.3 184.6h4.3v3.8h-4.3zM1546.2 188.2h6.3v3.8h-6.3zM1746.3 188.2h6.3v3.8h-6.3zM1790.3 188.2h2.3v3.8h-2.3zM1550.2 191.8h8.3v3.8h-8.3zM1748.3 191.8h4.3v3.8h-4.3zM1786.3 191.8h2.3v3.8h-2.3zM1556.2 195.3h8.3v3.8h-8.3zM1748.3 195.3h4.3v3.8h-4.3zM1560.2 198.9h6.3v3.8h-6.3zM1748.3 198.9h4.3v3.8h-4.3zM1562.2 202.5h4.3v3.8h-4.3zM1746.3 202.5h6.3v3.8h-6.3zM1280.1 206.1h18.3v3.8h-18.3zM1414.2 206.1h2.3v3.8h-2.3zM1562.2 206.1h6.3v3.8h-6.3zM1746.3 206.1h6.3v3.8h-6.3zM1274.1 209.6h4.3v3.8h-4.3zM1298.2 209.6h6.3v3.8h-6.3zM1564.2 209.6h4.3v3.8h-4.3zM1744.3 209.6h6.3v3.8h-6.3zM1272.1 213.2h2.3v3.8h-2.3zM1304.2 213.2h8.3v3.8h-8.3zM1564.2 213.2h4.3v3.8h-4.3zM1670.3 213.2h2.3v3.8h-2.3zM1740.3 213.2h10.3v3.8h-10.3zM1270.1 216.8h2.3v3.8h-2.3zM1308.2 216.8h8.3v3.8h-8.3zM1566.2 216.8h4.3v3.8h-4.3zM1670.3 216.8h2.3v3.8h-2.3zM1730.3 216.8h18.3v3.8h-18.3zM1268.1 220.4h2.3v3.8h-2.3zM1312.2 220.4h6.3v3.8h-6.3zM1566.2 220.4h4.3v3.8h-4.3zM1670.3 220.4h2.3v3.8h-2.3zM1724.3 220.4h22.3v3.8h-22.3zM1266.1 223.9h2.3v3.8h-2.3zM1314.2 223.9h6.3v3.8h-6.3zM1566.2 223.9h6.3v3.8h-6.3zM1720.3 223.9h26.3v3.8h-26.3zM1772.3 223.9h2.3v3.8h-2.3zM1266.1 227.5h2.3v3.8h-2.3zM1314.2 227.5h6.3v3.8h-6.3zM1566.2 227.5h8.3v3.8h-8.3zM1718.3 227.5h26.3v3.8h-26.3zM1266.1 231.1h2.3v3.8h-2.3zM1314.2 231.1h6.3v3.8h-6.3zM1568.2 231.1h14.3v3.8h-14.3zM1716.3 231.1h22.3v3.8h-22.3zM1776.3 231.1h2.3v3.8h-2.3zM782 234.7h18.3v3.8h-18.3zM1266.1 234.7h2.3v3.8h-2.3zM1314.2 234.7h4.3v3.8h-4.3zM1414.2 234.7h2.3v3.8h-2.3zM1472.2 234.7h8.3v3.8h-8.3zM1570.2 234.7h16.3v3.8h-16.3zM1714.3 234.7h6.3v3.8h-6.3zM774 238.2h4.3v3.8h-4.3zM800 238.2h16.3v3.8h-16.3zM1266.1 238.2h2.3v3.8h-2.3zM1310.2 238.2h6.3v3.8h-6.3zM1460.2 238.2h12.3v3.8h-12.3zM1480.2 238.2h2.3v3.8h-2.3zM1574.2 238.2h14.3v3.8h-14.3zM1672.3 238.2h2.3v3.8h-2.3zM1712.3 238.2h6.3v3.8h-6.3zM810 241.8h52.3v3.8h-52.3zM1268.1 241.8h2.3v3.8h-2.3zM1300.2 241.8h12.3v3.8h-12.3zM1416.2 241.8h4.3v3.8h-4.3zM1422.2 241.8h20.3v3.8h-20.3zM1582.2 241.8h8.3v3.8h-8.3zM1672.3 241.8h2.3v3.8h-2.3zM1712.3 241.8h4.3v3.8h-4.3zM770 245.4h2.3v3.8h-2.3zM816 245.4h50.3v3.8h-50.3zM1270.1 245.4h4.3v3.8h-4.3zM1290.2 245.4h10.3v3.8h-10.3zM1584.2 245.4h8.3v3.8h-8.3zM1672.3 245.4h2.3v3.8h-2.3zM1712.3 245.4h2.3v3.8h-2.3zM830 249h38.3v3.8h-38.3zM1278.1 249h8.3v3.8h-8.3zM1482.2 249h2.3v3.8h-2.3zM1586.2 249h6.3v3.8h-6.3zM1712.3 249h2.3v3.8h-2.3zM864 252.6h6.3v3.8h-6.3zM1482.2 252.6h2.3v3.8h-2.3zM1588.2 252.6h6.3v3.8h-6.3zM1674.3 252.6h2.3v3.8h-2.3zM1712.3 252.6h2.3v3.8h-2.3zM868 256.1h4.3v3.8h-4.3zM1482.2 256.1h2.3v3.8h-2.3zM1592.2 256.1h4.3v3.8h-4.3zM1674.3 256.1h2.3v3.8h-2.3zM1712.3 256.1h2.3v3.8h-2.3zM768 259.7h2.3v3.8h-2.3zM870 259.7h4.3v3.8h-4.3zM1482.2 259.7h2.3v3.8h-2.3zM1594.2 259.7h6.3v3.8h-6.3zM1674.3 259.7h2.3v3.8h-2.3zM1712.3 259.7h2.3v3.8h-2.3zM768 263.3h2.3v3.8h-2.3zM872 263.3h4.3v3.8h-4.3zM1600.2 263.3h10.3v3.8h-10.3zM1674.3 263.3h2.3v3.8h-2.3zM1712.3 263.3h4.3v3.8h-4.3zM768 266.8h2.3v3.8h-2.3zM874 266.8h4.3v3.8h-4.3zM1606.2 266.8h12.3v3.8h-12.3zM1674.3 266.8h2.3v3.8h-2.3zM1714.3 266.8h4.3v3.8h-4.3zM1780.3 266.8h2.3v3.8h-2.3zM876 270.4h4.3v3.8h-4.3zM1614.2 270.4h6.3v3.8h-6.3zM1674.3 270.4h2.3v3.8h-2.3zM1716.3 270.4h4.3v3.8h-4.3zM1778.3 270.4h4.3v3.8h-4.3zM876 274h6.3v3.8h-6.3zM1280.1 274h30.3v3.8h-30.3zM1618.2 274h4.3v3.8h-4.3zM1674.3 274h2.3v3.8h-2.3zM1718.3 274h50.3v3.8h-50.3zM1772.3 274h8.3v3.8h-8.3zM878 277.6h10.3v3.8h-10.3zM1276.1 277.6h4.3v3.8h-4.3zM1310.2 277.6h6.3v3.8h-6.3zM1386.2 277.6h50.3v3.8h-50.3zM1480.2 277.6h2.3v3.8h-2.3zM1620.2 277.6h4.3v3.8h-4.3zM1764.3 277.6h14.3v3.8h-14.3zM880 281.1h28.3v3.8h-28.3zM1276.1 281.1h4.3v3.8h-4.3zM1314.2 281.1h4.3v3.8h-4.3zM1378.2 281.1h42.3v3.8h-42.3zM1426.2 281.1h14.3v3.8h-14.3zM1622.2 281.1h2.3v3.8h-2.3zM768 284.7h2.3v3.8h-2.3zM884 284.7h28.3v3.8h-28.3zM1276.1 284.7h2.3v3.8h-2.3zM1316.2 284.7h6.3v3.8h-6.3zM1374.2 284.7h34.3v3.8h-34.3zM1436.2 284.7h6.3v3.8h-6.3zM1474.2 284.7h6.3v3.8h-6.3zM1624.2 284.7h2.3v3.8h-2.3zM1676.3 284.7h2.3v3.8h-2.3zM768 288.3h2.3v3.8h-2.3zM892 288.3h22.3v3.8h-22.3zM1276.1 288.3h4.3v3.8h-4.3zM1318.2 288.3h6.3v3.8h-6.3zM1372.2 288.3h34.3v3.8h-34.3zM1438.2 288.3h6.3v3.8h-6.3zM1472.2 288.3h2.3v3.8h-2.3zM1624.2 288.3h2.3v3.8h-2.3zM1676.3 288.3h2.3v3.8h-2.3zM902 291.9h14.3v3.8h-14.3zM1278.1 291.9h2.3v3.8h-2.3zM1320.2 291.9h4.3v3.8h-4.3zM1372.2 291.9h34.3v3.8h-34.3zM1440.2 291.9h6.3v3.8h-6.3zM1470.2 291.9h2.3v3.8h-2.3zM1626.2 291.9h2.3v3.8h-2.3zM1676.3 291.9h2.3v3.8h-2.3zM904 295.4h10.3v3.8h-10.3zM1278.1 295.4h2.3v3.8h-2.3zM1320.2 295.4h4.3v3.8h-4.3zM1374.2 295.4h38.3v3.8h-38.3zM1440.2 295.4h8.3v3.8h-8.3zM1470.2 295.4h2.3v3.8h-2.3zM1626.2 295.4h2.3v3.8h-2.3zM1676.3 295.4h4.3v3.8h-4.3zM906 299h8.3v3.8h-8.3zM1280.1 299h2.3v3.8h-2.3zM1320.2 299h4.3v3.8h-4.3zM1382.2 299h10.3v3.8h-10.3zM1400.2 299h48.3v3.8h-48.3zM1468.2 299h2.3v3.8h-2.3zM1628.2 299h2.3v3.8h-2.3zM1678.3 299h4.3v3.8h-4.3zM904 302.6h8.3v3.8h-8.3zM1280.1 302.6h2.3v3.8h-2.3zM1320.2 302.6h4.3v3.8h-4.3zM1418.2 302.6h28.3v3.8h-28.3zM1468.2 302.6h2.3v3.8h-2.3zM1628.2 302.6h4.3v3.8h-4.3zM1682.3 302.6h38.3v3.8h-38.3zM1778.3 302.6h2.3v3.8h-2.3zM904 306.2h6.3v3.8h-6.3zM1282.1 306.2h2.3v3.8h-2.3zM1320.2 306.2h4.3v3.8h-4.3zM1468.2 306.2h2.3v3.8h-2.3zM1628.2 306.2h4.3v3.8h-4.3zM1722.3 306.2h4.3v3.8h-4.3zM1772.3 306.2h12.3v3.8h-12.3zM900 309.7h8.3v3.8h-8.3zM1284.2 309.7h2.3v3.8h-2.3zM1318.2 309.7h6.3v3.8h-6.3zM1630.2 309.7h4.3v3.8h-4.3zM1728.3 309.7h8.3v3.8h-8.3zM1766.3 309.7h6.3v3.8h-6.3zM1784.3 309.7h4.3v3.8h-4.3zM770 313.3h2.3v3.8h-2.3zM896 313.3h8.3v3.8h-8.3zM1286.2 313.3h4.3v3.8h-4.3zM1316.2 313.3h6.3v3.8h-6.3zM1470.2 313.3h2.3v3.8h-2.3zM1538.2 313.3h6.3v3.8h-6.3zM1556.2 313.3h4.3v3.8h-4.3zM1630.2 313.3h4.3v3.8h-4.3zM1742.3 313.3h22.3v3.8h-22.3zM1788.3 313.3h4.3v3.8h-4.3zM892 316.9h10.3v3.8h-10.3zM1290.2 316.9h32.3v3.8h-32.3zM1470.2 316.9h2.3v3.8h-2.3zM1530.2 316.9h4.3v3.8h-4.3zM1562.2 316.9h4.3v3.8h-4.3zM1630.2 316.9h6.3v3.8h-6.3zM1790.3 316.9h10.3v3.8h-10.3zM772 320.5h2.3v3.8h-2.3zM892 320.5h6.3v3.8h-6.3zM1306.2 320.5h12.3v3.8h-12.3zM1470.2 320.5h2.3v3.8h-2.3zM1526.2 320.5h2.3v3.8h-2.3zM1566.2 320.5h4.3v3.8h-4.3zM1630.2 320.5h6.3v3.8h-6.3zM1796.3 320.5h20.3v3.8h-20.3zM776 324h8.3v3.8h-8.3zM790 324h16.3v3.8h-16.3zM890 324h6.3v3.8h-6.3zM1522.2 324h2.3v3.8h-2.3zM1570.2 324h2.3v3.8h-2.3zM1630.2 324h6.3v3.8h-6.3zM1816.3 324h6.3v3.8h-6.3zM810 327.6h2.3v3.8h-2.3zM890 327.6h4.3v3.8h-4.3zM1518.2 327.6h2.3v3.8h-2.3zM1574.2 327.6h2.3v3.8h-2.3zM1630.2 327.6h6.3v3.8h-6.3zM1824.3 327.6h4.3v3.8h-4.3zM814 331.2h2.3v3.8h-2.3zM890 331.2h2.3v3.8h-2.3zM1472.2 331.2h2.3v3.8h-2.3zM1516.2 331.2h2.3v3.8h-2.3zM1576.2 331.2h2.3v3.8h-2.3zM1630.2 331.2h4.3v3.8h-4.3zM1834.3 331.2h19.3v3.8h-19.3zM816 334.8h2.3v3.8h-2.3zM888 334.8h4.3v3.8h-4.3zM1472.2 334.8h2.3v3.8h-2.3zM1514.2 334.8h2.3v3.8h-2.3zM1578.2 334.8h4.3v3.8h-4.3zM1630.2 334.8h4.3v3.8h-4.3zM818 338.3h2.3v3.8h-2.3zM888 338.3h4.3v3.8h-4.3zM1512.2 338.3h2.3v3.8h-2.3zM1580.2 338.3h4.3v3.8h-4.3zM1628.2 338.3h6.3v3.8h-6.3zM888 341.9h2.3v3.8h-2.3zM1510.2 341.9h2.3v3.8h-2.3zM1584.2 341.9h2.3v3.8h-2.3zM1628.2 341.9h4.3v3.8h-4.3zM820 345.5h2.3v3.8h-2.3zM888 345.5h2.3v3.8h-2.3zM1508.2 345.5h2.3v3.8h-2.3zM1584.2 345.5h4.3v3.8h-4.3zM1626.2 345.5h6.3v3.8h-6.3zM822 349.1h2.3v3.8h-2.3zM886 349.1h4.3v3.8h-4.3zM1474.2 349.1h2.3v3.8h-2.3zM1508.2 349.1h2.3v3.8h-2.3zM1586.2 349.1h4.3v3.8h-4.3zM1626.2 349.1h4.3v3.8h-4.3zM824 352.6h2.3v3.8h-2.3zM886 352.6h2.3v3.8h-2.3zM1474.2 352.6h2.3v3.8h-2.3zM1506.2 352.6h2.3v3.8h-2.3zM1590.2 352.6h4.3v3.8h-4.3zM1624.2 352.6h4.3v3.8h-4.3zM824 356.2h2.3v3.8h-2.3zM886 356.2h2.3v3.8h-2.3zM1506.2 356.2h2.3v3.8h-2.3zM1592.2 356.2h6.3v3.8h-6.3zM1622.2 356.2h4.3v3.8h-4.3zM826 359.8h2.3v3.8h-2.3zM884 359.8h2.3v3.8h-2.3zM1504.2 359.8h2.3v3.8h-2.3zM1598.2 359.8h4.3v3.8h-4.3zM1622.2 359.8h4.3v3.8h-4.3zM828 363.4h2.3v3.8h-2.3zM882 363.4h2.3v3.8h-2.3zM1504.2 363.4h2.3v3.8h-2.3zM1600.2 363.4h4.3v3.8h-4.3zM1620.2 363.4h4.3v3.8h-4.3zM880 366.9h2.3v3.8h-2.3zM1502.2 366.9h2.3v3.8h-2.3zM1602.2 366.9h4.3v3.8h-4.3zM1618.2 366.9h4.3v3.8h-4.3zM830 370.5h2.3v3.8h-2.3zM878 370.5h4.3v3.8h-4.3zM1500.2 370.5h2.3v3.8h-2.3zM1604.2 370.5h6.3v3.8h-6.3zM1616.2 370.5h6.3v3.8h-6.3zM876 374.1h2.3v3.8h-2.3zM1476.2 374.1h2.3v3.8h-2.3zM1498.2 374.1h2.3v3.8h-2.3zM1606.2 374.1h14.3v3.8h-14.3zM832 377.7h2.3v3.8h-2.3zM874 377.7h2.3v3.8h-2.3zM1496.2 377.7h2.3v3.8h-2.3zM1608.2 377.7h10.3v3.8h-10.3zM832 381.2h2.3v3.8h-2.3zM872 381.2h2.3v3.8h-2.3zM1478.2 381.2h6.3v3.8h-6.3zM1492.2 381.2h4.3v3.8h-4.3zM1610.2 381.2h6.3v3.8h-6.3zM832 384.8h2.3v8.8h-2.3zM872 384.8h2.3v8.8h-2.3zM1480.2 384.8h14.3v8.8h-14.3z"/><path fill="#00dcfe" d="M1186.1 40.2h30.3v8.8h-30.3zM1392.2 40.2h2.3v8.8h-2.3zM1684.3 40.2h20.3v8.8h-20.3zM1202.1 48.8h14.3v3.8h-14.3zM1392.2 48.8h2.3v3.8h-2.3zM1682.3 48.8h22.3v3.8h-22.3zM1206.1 52.4h8.3v3.8h-8.3zM1392.2 52.4h4.3v3.8h-4.3zM1680.3 52.4h22.3v3.8h-22.3zM1206.1 55.9h8.3v3.8h-8.3zM1392.2 55.9h4.3v3.8h-4.3zM1678.3 55.9h24.3v3.8h-24.3zM1208.1 59.5h6.3v3.8h-6.3zM1392.2 59.5h4.3v3.8h-4.3zM1678.3 59.5h24.3v3.8h-24.3zM1206.1 63.1h6.3v3.8h-6.3zM1392.2 63.1h4.3v3.8h-4.3zM1676.3 63.1h26.3v3.8h-26.3zM1206.1 66.7h6.3v3.8h-6.3zM1394.2 66.7h4.3v3.8h-4.3zM1676.3 66.7h26.3v3.8h-26.3zM1204.1 70.2h8.3v3.8h-8.3zM1394.2 70.2h4.3v3.8h-4.3zM1676.3 70.2h24.3v3.8h-24.3zM1202.1 73.8h8.3v3.8h-8.3zM1394.2 73.8h4.3v3.8h-4.3zM1676.3 73.8h24.3v3.8h-24.3zM1200.1 77.4h8.3v3.8h-8.3zM1394.2 77.4h4.3v3.8h-4.3zM1674.3 77.4h26.3v3.8h-26.3zM1198.1 81h6.3v3.8h-6.3zM1396.2 81h2.3v3.8h-2.3zM1674.3 81h24.3v3.8h-24.3zM1194.1 84.5h6.3v3.8h-6.3zM1396.2 84.5h2.3v3.8h-2.3zM1578.2 84.5h18.3v3.8h-18.3zM1668.3 84.5h30.3v3.8h-30.3zM1192.1 88.1h6.3v3.8h-6.3zM1396.2 88.1h2.3v3.8h-2.3zM1566.2 88.1h52.3v3.8h-52.3zM1658.2 88.1h40.3v3.8h-40.3zM1842.3 88.1h11.3v3.8h-11.3zM1188.1 91.7h8.3v3.8h-8.3zM1562.2 91.7h12.3v3.8h-12.3zM1592.2 91.7h30.3v3.8h-30.3zM1654.2 91.7h46.3v3.8h-46.3zM1836.3 91.7h17.3v3.8h-17.3zM1178.1 95.2h16.3v3.8h-16.3zM1398.2 95.2h2.3v3.8h-2.3zM1558.2 95.2h10.3v3.8h-10.3zM1596.2 95.2h28.3v3.8h-28.3zM1652.2 95.2h54.3v3.8h-54.3zM1832.3 95.2h21.3v3.8h-21.3zM1172.1 98.8h16.3v3.8h-16.3zM1552.2 98.8h10.3v3.8h-10.3zM1600.2 98.8h28.3v3.8h-28.3zM1648.2 98.8h126.3v3.8h-126.3zM1830.3 98.8h8.3v3.8h-8.3zM1118.1 102.4h2.3v3.8h-2.3zM1168.1 102.4h10.3v3.8h-10.3zM1548.2 102.4h6.3v3.8h-6.3zM1614.2 102.4h18.3v3.8h-18.3zM1644.2 102.4h136.3v3.8h-136.3zM1828.3 102.4h6.3v3.8h-6.3zM1156.1 106h16.3v3.8h-16.3zM1402.2 106h2.3v3.8h-2.3zM1546.2 106h4.3v3.8h-4.3zM1622.2 106h36.3v3.8h-36.3zM1766.3 106h22.3v3.8h-22.3zM1826.3 106h6.3v3.8h-6.3zM1146.1 109.5h22.3v3.8h-22.3zM1542.2 109.5h4.3v3.8h-4.3zM1630.2 109.5h20.3v3.8h-20.3zM1774.3 109.5h20.3v3.8h-20.3zM1824.3 109.5h6.3v3.8h-6.3zM1120.1 113.1h2.3v3.8h-2.3zM1142.1 113.1h18.3v3.8h-18.3zM1404.2 113.1h2.3v3.8h-2.3zM1540.2 113.1h4.3v3.8h-4.3zM1780.3 113.1h18.3v3.8h-18.3zM1822.3 113.1h6.3v3.8h-6.3zM1140.1 116.7h6.3v3.8h-6.3zM1406.2 116.7h2.3v3.8h-2.3zM1540.2 116.7h2.3v3.8h-2.3zM1786.3 116.7h18.3v3.8h-18.3zM1818.3 116.7h8.3v3.8h-8.3zM1122.1 120.3h2.3v3.8h-2.3zM1138.1 120.3h4.3v3.8h-4.3zM1538.2 120.3h2.3v3.8h-2.3zM1794.3 120.3h30.3v3.8h-30.3zM1124.1 123.8h4.3v3.8h-4.3zM1134.1 123.8h4.3v3.8h-4.3zM1408.2 123.8h2.3v3.8h-2.3zM1536.2 123.8h2.3v3.8h-2.3zM1802.3 123.8h18.3v3.8h-18.3zM1128.1 127.4h6.3v3.8h-6.3zM1534.2 127.4h2.3v3.8h-2.3zM1530.2 131h4.3v3.8h-4.3zM1410.2 134.6h2.3v3.8h-2.3zM1528.2 134.6h2.3v3.8h-2.3zM1410.2 138.1h2.3v3.8h-2.3zM1524.2 138.1h4.3v3.8h-4.3zM1520.2 141.7h4.3v3.8h-4.3zM1498.2 145.3h22.3v3.8h-22.3zM1482.2 148.9h20.3v3.8h-20.3zM1476.2 152.4h10.3v3.8h-10.3zM1474.2 156h6.3v3.8h-6.3zM1676.3 156h14.3v3.8h-14.3zM1412.2 159.6h2.3v3.8h-2.3zM1472.2 159.6h6.3v3.8h-6.3zM1672.3 159.6h4.3v3.8h-4.3zM1688.3 159.6h10.3v3.8h-10.3zM1472.2 163.2h4.3v3.8h-4.3zM1694.3 163.2h48.3v3.8h-48.3zM1474.2 166.8h2.3v3.8h-2.3zM1704.3 166.8h44.3v3.8h-44.3zM1474.2 170.3h4.3v3.8h-4.3zM1510.2 170.3h6.3v3.8h-6.3zM1668.3 170.3h2.3v3.8h-2.3zM1744.3 170.3h6.3v3.8h-6.3zM1476.2 173.9h4.3v3.8h-4.3zM1498.2 173.9h32.3v3.8h-32.3zM1668.3 173.9h2.3v3.8h-2.3zM1746.3 173.9h6.3v3.8h-6.3zM1480.2 177.5h20.3v3.8h-20.3zM1530.2 177.5h6.3v3.8h-6.3zM1668.3 177.5h2.3v3.8h-2.3zM1748.3 177.5h4.3v3.8h-4.3zM1414.2 181.1h2.3v3.8h-2.3zM1536.2 181.1h6.3v3.8h-6.3zM1668.3 181.1h2.3v3.8h-2.3zM1750.3 181.1h4.3v3.8h-4.3zM1794.3 181.1h6.3v3.8h-6.3zM1544.2 184.6h6.3v3.8h-6.3zM1668.3 184.6h2.3v3.8h-2.3zM1750.3 184.6h6.3v3.8h-6.3zM1788.3 184.6h6.3v3.8h-6.3zM1552.2 188.2h8.3v3.8h-8.3zM1668.3 188.2h2.3v3.8h-2.3zM1752.3 188.2h4.3v3.8h-4.3zM1784.3 188.2h6.3v3.8h-6.3zM1558.2 191.8h8.3v3.8h-8.3zM1668.3 191.8h2.3v3.8h-2.3zM1752.3 191.8h6.3v3.8h-6.3zM1782.3 191.8h4.3v3.8h-4.3zM1564.2 195.3h4.3v3.8h-4.3zM1668.3 195.3h2.3v3.8h-2.3zM1752.3 195.3h6.3v3.8h-6.3zM1782.3 195.3h2.3v3.8h-2.3zM1566.2 198.9h4.3v3.8h-4.3zM1668.3 198.9h2.3v3.8h-2.3zM1752.3 198.9h6.3v3.8h-6.3zM1780.3 198.9h2.3v3.8h-2.3zM1282.1 202.5h12.3v3.8h-12.3zM1414.2 202.5h2.3v3.8h-2.3zM1566.2 202.5h4.3v3.8h-4.3zM1752.3 202.5h6.3v3.8h-6.3zM1778.3 202.5h2.3v3.8h-2.3zM1274.1 206.1h6.3v3.8h-6.3zM1298.2 206.1h6.3v3.8h-6.3zM1568.2 206.1h4.3v3.8h-4.3zM1752.3 206.1h4.3v3.8h-4.3zM1776.3 206.1h2.3v3.8h-2.3zM1272.1 209.6h2.3v3.8h-2.3zM1304.2 209.6h10.3v3.8h-10.3zM1568.2 209.6h4.3v3.8h-4.3zM1750.3 209.6h6.3v3.8h-6.3zM1270.1 213.2h2.3v3.8h-2.3zM1312.2 213.2h8.3v3.8h-8.3zM1568.2 213.2h4.3v3.8h-4.3zM1750.3 213.2h4.3v3.8h-4.3zM1268.1 216.8h2.3v3.8h-2.3zM1316.2 216.8h6.3v3.8h-6.3zM1570.2 216.8h4.3v3.8h-4.3zM1748.3 216.8h6.3v3.8h-6.3zM1772.3 216.8h2.3v3.8h-2.3zM1266.1 220.4h2.3v3.8h-2.3zM1318.2 220.4h4.3v3.8h-4.3zM1570.2 220.4h6.3v3.8h-6.3zM1746.3 220.4h6.3v3.8h-6.3zM1264.1 223.9h2.3v3.8h-2.3zM1320.2 223.9h4.3v3.8h-4.3zM1572.2 223.9h12.3v3.8h-12.3zM1670.3 223.9h2.3v3.8h-2.3zM1746.3 223.9h6.3v3.8h-6.3zM1264.1 227.5h2.3v3.8h-2.3zM1320.2 227.5h4.3v3.8h-4.3zM1574.2 227.5h16.3v3.8h-16.3zM1670.3 227.5h2.3v3.8h-2.3zM1744.3 227.5h6.3v3.8h-6.3zM1264.1 231.1h2.3v3.8h-2.3zM1320.2 231.1h4.3v3.8h-4.3zM1582.2 231.1h10.3v3.8h-10.3zM1670.3 231.1h2.3v3.8h-2.3zM1738.3 231.1h10.3v3.8h-10.3zM774 234.7h8.3v3.8h-8.3zM800 234.7h64.3v3.8h-64.3zM1264.1 234.7h2.3v3.8h-2.3zM1318.2 234.7h6.3v3.8h-6.3zM1586.2 234.7h8.3v3.8h-8.3zM1670.3 234.7h2.3v3.8h-2.3zM1720.3 234.7h26.3v3.8h-26.3zM772 238.2h2.3v3.8h-2.3zM816 238.2h52.3v3.8h-52.3zM1264.1 238.2h2.3v3.8h-2.3zM1316.2 238.2h6.3v3.8h-6.3zM1414.2 238.2h2.3v3.8h-2.3zM1472.2 238.2h4.3v3.8h-4.3zM1478.2 238.2h2.3v3.8h-2.3zM1588.2 238.2h6.3v3.8h-6.3zM1670.3 238.2h2.3v3.8h-2.3zM1718.3 238.2h22.3v3.8h-22.3zM770 241.8h2.3v3.8h-2.3zM862 241.8h10.3v3.8h-10.3zM1264.1 241.8h4.3v3.8h-4.3zM1312.2 241.8h8.3v3.8h-8.3zM1442.2 241.8h28.3v3.8h-28.3zM1480.2 241.8h2.3v3.8h-2.3zM1590.2 241.8h6.3v3.8h-6.3zM1716.3 241.8h6.3v3.8h-6.3zM866 245.4h8.3v3.8h-8.3zM1266.1 245.4h4.3v3.8h-4.3zM1300.2 245.4h14.3v3.8h-14.3zM1418.2 245.4h16.3v3.8h-16.3zM1592.2 245.4h4.3v3.8h-4.3zM1714.3 245.4h4.3v3.8h-4.3zM768 249h2.3v3.8h-2.3zM868 249h6.3v3.8h-6.3zM1270.1 249h8.3v3.8h-8.3zM1286.2 249h10.3v3.8h-10.3zM1592.2 249h6.3v3.8h-6.3zM1672.3 249h2.3v3.8h-2.3zM1714.3 249h4.3v3.8h-4.3zM768 252.6h2.3v3.8h-2.3zM870 252.6h6.3v3.8h-6.3zM1594.2 252.6h6.3v3.8h-6.3zM1672.3 252.6h2.3v3.8h-2.3zM1714.3 252.6h2.3v3.8h-2.3zM768 256.1h2.3v3.8h-2.3zM872 256.1h8.3v3.8h-8.3zM1596.2 256.1h10.3v3.8h-10.3zM1672.3 256.1h2.3v3.8h-2.3zM1714.3 256.1h2.3v3.8h-2.3zM1780.3 256.1h2.3v3.8h-2.3zM874 259.7h8.3v3.8h-8.3zM1600.2 259.7h16.3v3.8h-16.3zM1714.3 259.7h4.3v3.8h-4.3zM1780.3 259.7h2.3v3.8h-2.3zM876 263.3h34.3v3.8h-34.3zM1610.2 263.3h10.3v3.8h-10.3zM1716.3 263.3h2.3v3.8h-2.3zM1778.3 263.3h4.3v3.8h-4.3zM878 266.8h36.3v3.8h-36.3zM1618.2 266.8h4.3v3.8h-4.3zM1718.3 266.8h2.3v3.8h-2.3zM1776.3 266.8h4.3v3.8h-4.3zM880 270.4h38.3v3.8h-38.3zM1278.1 270.4h32.3v3.8h-32.3zM1620.2 270.4h4.3v3.8h-4.3zM1720.3 270.4h10.3v3.8h-10.3zM1768.3 270.4h10.3v3.8h-10.3zM882 274h38.3v3.8h-38.3zM1276.1 274h4.3v3.8h-4.3zM1310.2 274h8.3v3.8h-8.3zM1378.2 274h60.3v3.8h-60.3zM1480.2 274h2.3v3.8h-2.3zM1622.2 274h2.3v3.8h-2.3zM1768.3 274h4.3v3.8h-4.3zM888 277.6h36.3v3.8h-36.3zM1274.1 277.6h2.3v3.8h-2.3zM1316.2 277.6h6.3v3.8h-6.3zM1372.2 277.6h14.3v3.8h-14.3zM1436.2 277.6h6.3v3.8h-6.3zM1624.2 277.6h2.3v3.8h-2.3zM1674.3 277.6h2.3v3.8h-2.3zM908 281.1h20.3v3.8h-20.3zM1274.1 281.1h2.3v3.8h-2.3zM1318.2 281.1h10.3v3.8h-10.3zM1366.2 281.1h12.3v3.8h-12.3zM1440.2 281.1h6.3v3.8h-6.3zM1474.2 281.1h6.3v3.8h-6.3zM1624.2 281.1h2.3v3.8h-2.3zM1674.3 281.1h2.3v3.8h-2.3zM912.1 284.7h20.3v3.8h-20.3zM1274.1 284.7h2.3v3.8h-2.3zM1322.2 284.7h8.3v3.8h-8.3zM1356.2 284.7h18.3v3.8h-18.3zM1442.2 284.7h6.3v3.8h-6.3zM1470.2 284.7h4.3v3.8h-4.3zM1626.2 284.7h2.3v3.8h-2.3zM1674.3 284.7h2.3v3.8h-2.3zM914.1 288.3h20.3v3.8h-20.3zM1274.1 288.3h2.3v3.8h-2.3zM1324.2 288.3h8.3v3.8h-8.3zM1348.2 288.3h24.3v3.8h-24.3zM1444.2 288.3h8.3v3.8h-8.3zM1468.2 288.3h4.3v3.8h-4.3zM1626.2 288.3h2.3v3.8h-2.3zM1674.3 288.3h2.3v3.8h-2.3zM768 291.9h2.3v3.8h-2.3zM916.1 291.9h18.3v3.8h-18.3zM1276.1 291.9h2.3v3.8h-2.3zM1324.2 291.9h8.3v3.8h-8.3zM1346.2 291.9h26.3v3.8h-26.3zM1446.2 291.9h8.3v3.8h-8.3zM1466.2 291.9h4.3v3.8h-4.3zM1628.2 291.9h2.3v3.8h-2.3zM1674.3 291.9h2.3v3.8h-2.3zM768 295.4h2.3v3.8h-2.3zM914.1 295.4h18.3v3.8h-18.3zM1276.1 295.4h2.3v3.8h-2.3zM1324.2 295.4h8.3v3.8h-8.3zM1346.2 295.4h28.3v3.8h-28.3zM1448.2 295.4h6.3v3.8h-6.3zM1466.2 295.4h4.3v3.8h-4.3zM1628.2 295.4h4.3v3.8h-4.3zM1674.3 295.4h2.3v3.8h-2.3zM914.1 299h12.3v3.8h-12.3zM1278.1 299h2.3v3.8h-2.3zM1324.2 299h8.3v3.8h-8.3zM1350.2 299h32.3v3.8h-32.3zM1392.2 299h8.3v3.8h-8.3zM1448.2 299h6.3v3.8h-6.3zM1464.2 299h4.3v3.8h-4.3zM1630.2 299h4.3v3.8h-4.3zM1676.3 299h2.3v3.8h-2.3zM912.1 302.6h8.3v3.8h-8.3zM1278.1 302.6h2.3v3.8h-2.3zM1324.2 302.6h6.3v3.8h-6.3zM1374.2 302.6h44.3v3.8h-44.3zM1446.2 302.6h6.3v3.8h-6.3zM1466.2 302.6h2.3v3.8h-2.3zM1632.2 302.6h4.3v3.8h-4.3zM1678.3 302.6h4.3v3.8h-4.3zM910.1 306.2h6.3v3.8h-6.3zM1280.1 306.2h2.3v3.8h-2.3zM1324.2 306.2h6.3v3.8h-6.3zM1418.2 306.2h32.3v3.8h-32.3zM1466.2 306.2h2.3v3.8h-2.3zM1632.2 306.2h6.3v3.8h-6.3zM1684.3 306.2h24.3v3.8h-24.3zM1710.3 306.2h12.3v3.8h-12.3zM908 309.7h4.3v3.8h-4.3zM1282.1 309.7h2.3v3.8h-2.3zM1324.2 309.7h4.3v3.8h-4.3zM1468.2 309.7h2.3v3.8h-2.3zM1634.2 309.7h6.3v3.8h-6.3zM1724.3 309.7h4.3v3.8h-4.3zM1772.3 309.7h12.3v3.8h-12.3zM904 313.3h6.3v3.8h-6.3zM1284.2 313.3h2.3v3.8h-2.3zM1322.2 313.3h6.3v3.8h-6.3zM1468.2 313.3h2.3v3.8h-2.3zM1544.2 313.3h12.3v3.8h-12.3zM1634.2 313.3h8.3v3.8h-8.3zM1734.3 313.3h8.3v3.8h-8.3zM1764.3 313.3h10.3v3.8h-10.3zM1782.3 313.3h6.3v3.8h-6.3zM902 316.9h6.3v3.8h-6.3zM1286.2 316.9h4.3v3.8h-4.3zM1322.2 316.9h4.3v3.8h-4.3zM1468.2 316.9h2.3v3.8h-2.3zM1534.2 316.9h2.3v3.8h-2.3zM1560.2 316.9h2.3v3.8h-2.3zM1636.2 316.9h6.3v3.8h-6.3zM1748.3 316.9h14.3v3.8h-14.3zM1786.3 316.9h4.3v3.8h-4.3zM898 320.5h6.3v3.8h-6.3zM1290.2 320.5h16.3v3.8h-16.3zM1318.2 320.5h8.3v3.8h-8.3zM1528.2 320.5h2.3v3.8h-2.3zM1564.2 320.5h2.3v3.8h-2.3zM1636.2 320.5h6.3v3.8h-6.3zM1790.3 320.5h6.3v3.8h-6.3zM774 324h2.3v3.8h-2.3zM896 324h6.3v3.8h-6.3zM1302.2 324h22.3v3.8h-22.3zM1470.2 324h2.3v3.8h-2.3zM1524.2 324h2.3v3.8h-2.3zM1568.2 324h2.3v3.8h-2.3zM1636.2 324h6.3v3.8h-6.3zM1794.3 324h22.3v3.8h-22.3zM806 327.6h4.3v3.8h-4.3zM894 327.6h6.3v3.8h-6.3zM1316.2 327.6h4.3v3.8h-4.3zM1470.2 327.6h2.3v3.8h-2.3zM1520.2 327.6h4.3v3.8h-4.3zM1570.2 327.6h4.3v3.8h-4.3zM1636.2 327.6h4.3v3.8h-4.3zM1804.3 327.6h20.3v3.8h-20.3zM812 331.2h2.3v3.8h-2.3zM892 331.2h6.3v3.8h-6.3zM1470.2 331.2h2.3v3.8h-2.3zM1518.2 331.2h2.3v3.8h-2.3zM1574.2 331.2h2.3v3.8h-2.3zM1634.2 331.2h6.3v3.8h-6.3zM1826.3 331.2h8.3v3.8h-8.3zM814 334.8h2.3v3.8h-2.3zM892 334.8h4.3v3.8h-4.3zM1516.2 334.8h2.3v3.8h-2.3zM1576.2 334.8h2.3v3.8h-2.3zM1634.2 334.8h6.3v3.8h-6.3zM816 338.3h2.3v3.8h-2.3zM892 338.3h4.3v3.8h-4.3zM1472.2 338.3h2.3v3.8h-2.3zM1514.2 338.3h2.3v3.8h-2.3zM1578.2 338.3h2.3v3.8h-2.3zM1634.2 338.3h4.3v3.8h-4.3zM818 341.9h2.3v3.8h-2.3zM890 341.9h4.3v3.8h-4.3zM1472.2 341.9h2.3v3.8h-2.3zM1512.2 341.9h2.3v3.8h-2.3zM1580.2 341.9h4.3v3.8h-4.3zM1632.2 341.9h6.3v3.8h-6.3zM890 345.5h2.3v3.8h-2.3zM1510.2 345.5h2.3v3.8h-2.3zM1582.2 345.5h2.3v3.8h-2.3zM1632.2 345.5h4.3v3.8h-4.3zM820 349.1h2.3v3.8h-2.3zM890 349.1h2.3v3.8h-2.3zM1584.2 349.1h2.3v3.8h-2.3zM1630.2 349.1h4.3v3.8h-4.3zM822 352.6h2.3v3.8h-2.3zM888 352.6h2.3v3.8h-2.3zM1508.2 352.6h2.3v3.8h-2.3zM1586.2 352.6h4.3v3.8h-4.3zM1628.2 352.6h4.3v3.8h-4.3zM888 356.2h2.3v3.8h-2.3zM1474.2 356.2h2.3v3.8h-2.3zM1588.2 356.2h4.3v3.8h-4.3zM1626.2 356.2h4.3v3.8h-4.3zM824 359.8h2.3v3.8h-2.3zM886 359.8h2.3v3.8h-2.3zM1474.2 359.8h2.3v3.8h-2.3zM1506.2 359.8h2.3v3.8h-2.3zM1592.2 359.8h6.3v3.8h-6.3zM1626.2 359.8h2.3v3.8h-2.3zM826 363.4h2.3v3.8h-2.3zM884 363.4h2.3v3.8h-2.3zM1474.2 363.4h2.3v3.8h-2.3zM1506.2 363.4h2.3v3.8h-2.3zM1596.2 363.4h4.3v3.8h-4.3zM1624.2 363.4h2.3v3.8h-2.3zM828 366.9h2.3v3.8h-2.3zM882 366.9h2.3v3.8h-2.3zM1504.2 366.9h2.3v3.8h-2.3zM1600.2 366.9h2.3v3.8h-2.3zM1622.2 366.9h4.3v3.8h-4.3zM828 370.5h2.3v3.8h-2.3zM882 370.5h2.3v3.8h-2.3zM1502.2 370.5h2.3v3.8h-2.3zM1602.2 370.5h2.3v3.8h-2.3zM1622.2 370.5h2.3v3.8h-2.3zM830 374.1h2.3v3.8h-2.3zM878 374.1h4.3v3.8h-4.3zM1500.2 374.1h2.3v3.8h-2.3zM1604.2 374.1h2.3v3.8h-2.3zM1620.2 374.1h2.3v3.8h-2.3zM830 377.7h2.3v3.8h-2.3zM876 377.7h2.3v3.8h-2.3zM1476.2 377.7h2.3v3.8h-2.3zM1498.2 377.7h2.3v3.8h-2.3zM1604.2 377.7h4.3v3.8h-4.3zM1618.2 377.7h4.3v3.8h-4.3zM874 381.2h2.3v3.8h-2.3zM1476.2 381.2h2.3v3.8h-2.3zM1496.2 381.2h2.3v3.8h-2.3zM1606.2 381.2h4.3v3.8h-4.3zM1616.2 381.2h4.3v3.8h-4.3zM874 384.8h2.3v8.8h-2.3zM1478.2 384.8h2.3v8.8h-2.3zM1494.2 384.8h4.3v8.8h-4.3zM1608.2 384.8h12.3v8.8h-12.3z"/><path fill="#00c4ff" d="M1216.1 40.2h18.3v8.8h-18.3zM1386.2 40.2h6.3v8.8h-6.3zM1216.1 48.8h18.3v3.8h-18.3zM1386.2 48.8h6.3v3.8h-6.3zM1214.1 52.4h18.3v3.8h-18.3zM1386.2 52.4h6.3v3.8h-6.3zM1214.1 55.9h16.3v3.8h-16.3zM1388.2 55.9h4.3v3.8h-4.3zM1214.1 59.5h12.3v3.8h-12.3zM1388.2 59.5h4.3v3.8h-4.3zM1212.1 63.1h10.3v3.8h-10.3zM1388.2 63.1h4.3v3.8h-4.3zM1212.1 66.7h8.3v3.8h-8.3zM1388.2 66.7h6.3v3.8h-6.3zM1212.1 70.2h8.3v3.8h-8.3zM1390.2 70.2h4.3v3.8h-4.3zM1210.1 73.8h8.3v3.8h-8.3zM1390.2 73.8h4.3v3.8h-4.3zM1208.1 77.4h8.3v3.8h-8.3zM1390.2 77.4h4.3v3.8h-4.3zM1204.1 81h10.3v3.8h-10.3zM1392.2 81h4.3v3.8h-4.3zM1200.1 84.5h8.3v3.8h-8.3zM1392.2 84.5h4.3v3.8h-4.3zM1198.1 88.1h6.3v3.8h-6.3zM1394.2 88.1h2.3v3.8h-2.3zM1196.1 91.7h6.3v3.8h-6.3zM1394.2 91.7h4.3v3.8h-4.3zM1574.2 91.7h18.3v3.8h-18.3zM1194.1 95.2h4.3v3.8h-4.3zM1396.2 95.2h2.3v3.8h-2.3zM1568.2 95.2h12.3v3.8h-12.3zM1586.2 95.2h10.3v3.8h-10.3zM1188.1 98.8h8.3v3.8h-8.3zM1398.2 98.8h2.3v3.8h-2.3zM1562.2 98.8h10.3v3.8h-10.3zM1592.2 98.8h8.3v3.8h-8.3zM1838.3 98.8h15.3v3.8h-15.3zM1178.1 102.4h14.3v3.8h-14.3zM1400.2 102.4h2.3v3.8h-2.3zM1554.2 102.4h14.3v3.8h-14.3zM1596.2 102.4h18.3v3.8h-18.3zM1834.3 102.4h19.3v3.8h-19.3zM1118.1 106h2.3v3.8h-2.3zM1172.1 106h12.3v3.8h-12.3zM1550.2 106h6.3v3.8h-6.3zM1598.2 106h24.3v3.8h-24.3zM1658.2 106h108.3v3.8h-108.3zM1832.3 106h6.3v3.8h-6.3zM1168.1 109.5h10.3v3.8h-10.3zM1402.2 109.5h2.3v3.8h-2.3zM1546.2 109.5h4.3v3.8h-4.3zM1612.2 109.5h18.3v3.8h-18.3zM1650.2 109.5h124.3v3.8h-124.3zM1830.3 109.5h4.3v3.8h-4.3zM1160.1 113.1h14.3v3.8h-14.3zM1544.2 113.1h2.3v3.8h-2.3zM1624.2 113.1h60.3v3.8h-60.3zM1752.3 113.1h28.3v3.8h-28.3zM1828.3 113.1h4.3v3.8h-4.3zM1120.1 116.7h2.3v3.8h-2.3zM1146.1 116.7h24.3v3.8h-24.3zM1404.2 116.7h2.3v3.8h-2.3zM1542.2 116.7h2.3v3.8h-2.3zM1634.2 116.7h24.3v3.8h-24.3zM1770.3 116.7h16.3v3.8h-16.3zM1826.3 116.7h4.3v3.8h-4.3zM1142.1 120.3h16.3v3.8h-16.3zM1406.2 120.3h2.3v3.8h-2.3zM1540.2 120.3h2.3v3.8h-2.3zM1776.3 120.3h18.3v3.8h-18.3zM1824.3 120.3h4.3v3.8h-4.3zM1122.1 123.8h2.3v3.8h-2.3zM1138.1 123.8h6.3v3.8h-6.3zM1538.2 123.8h2.3v3.8h-2.3zM1782.3 123.8h20.3v3.8h-20.3zM1820.3 123.8h6.3v3.8h-6.3zM1124.1 127.4h4.3v3.8h-4.3zM1134.1 127.4h6.3v3.8h-6.3zM1408.2 127.4h2.3v3.8h-2.3zM1536.2 127.4h2.3v3.8h-2.3zM1792.3 127.4h32.3v3.8h-32.3zM1128.1 131h8.3v3.8h-8.3zM1534.2 131h2.3v3.8h-2.3zM1802.3 131h20.3v3.8h-20.3zM1530.2 134.6h4.3v3.8h-4.3zM1528.2 138.1h2.3v3.8h-2.3zM1410.2 141.7h2.3v3.8h-2.3zM1524.2 141.7h4.3v3.8h-4.3zM1410.2 145.3h2.3v3.8h-2.3zM1520.2 145.3h6.3v3.8h-6.3zM1502.2 148.9h20.3v3.8h-20.3zM1486.2 152.4h34.3v3.8h-34.3zM1676.3 152.4h18.3v3.8h-18.3zM1480.2 156h38.3v3.8h-38.3zM1672.3 156h4.3v3.8h-4.3zM1690.3 156h14.3v3.8h-14.3zM1478.2 159.6h6.3v3.8h-6.3zM1496.2 159.6h22.3v3.8h-22.3zM1670.3 159.6h2.3v3.8h-2.3zM1698.3 159.6h50.3v3.8h-50.3zM1412.2 163.2h2.3v3.8h-2.3zM1476.2 163.2h6.3v3.8h-6.3zM1498.2 163.2h24.3v3.8h-24.3zM1742.3 163.2h8.3v3.8h-8.3zM1412.2 166.8h2.3v3.8h-2.3zM1476.2 166.8h6.3v3.8h-6.3zM1496.2 166.8h30.3v3.8h-30.3zM1668.3 166.8h2.3v3.8h-2.3zM1748.3 166.8h4.3v3.8h-4.3zM1478.2 170.3h6.3v3.8h-6.3zM1492.2 170.3h18.3v3.8h-18.3zM1516.2 170.3h16.3v3.8h-16.3zM1750.3 170.3h4.3v3.8h-4.3zM1480.2 173.9h18.3v3.8h-18.3zM1530.2 173.9h6.3v3.8h-6.3zM1752.3 173.9h4.3v3.8h-4.3zM1802.3 173.9h14.3v3.8h-14.3zM1536.2 177.5h6.3v3.8h-6.3zM1752.3 177.5h6.3v3.8h-6.3zM1790.3 177.5h16.3v3.8h-16.3zM1542.2 181.1h8.3v3.8h-8.3zM1754.3 181.1h6.3v3.8h-6.3zM1784.3 181.1h10.3v3.8h-10.3zM1414.2 184.6h2.3v3.8h-2.3zM1550.2 184.6h12.3v3.8h-12.3zM1756.3 184.6h8.3v3.8h-8.3zM1780.3 184.6h8.3v3.8h-8.3zM1560.2 188.2h8.3v3.8h-8.3zM1756.3 188.2h28.3v3.8h-28.3zM1566.2 191.8h4.3v3.8h-4.3zM1758.3 191.8h24.3v3.8h-24.3zM1568.2 195.3h4.3v3.8h-4.3zM1758.3 195.3h24.3v3.8h-24.3zM1414.2 198.9h2.3v3.8h-2.3zM1570.2 198.9h4.3v3.8h-4.3zM1758.3 198.9h22.3v3.8h-22.3zM1276.1 202.5h6.3v3.8h-6.3zM1294.2 202.5h8.3v3.8h-8.3zM1570.2 202.5h4.3v3.8h-4.3zM1668.3 202.5h2.3v3.8h-2.3zM1758.3 202.5h20.3v3.8h-20.3zM1272.1 206.1h2.3v3.8h-2.3zM1304.2 206.1h12.3v3.8h-12.3zM1572.2 206.1h4.3v3.8h-4.3zM1668.3 206.1h2.3v3.8h-2.3zM1756.3 206.1h20.3v3.8h-20.3zM1268.1 209.6h4.3v3.8h-4.3zM1314.2 209.6h8.3v3.8h-8.3zM1572.2 209.6h6.3v3.8h-6.3zM1756.3 209.6h20.3v3.8h-20.3zM1266.1 213.2h4.3v3.8h-4.3zM1320.2 213.2h4.3v3.8h-4.3zM1412.2 213.2h2.3v3.8h-2.3zM1572.2 213.2h8.3v3.8h-8.3zM1754.3 213.2h8.3v3.8h-8.3zM1266.1 216.8h2.3v3.8h-2.3zM1322.2 216.8h4.3v3.8h-4.3zM1412.2 216.8h2.3v3.8h-2.3zM1574.2 216.8h16.3v3.8h-16.3zM1754.3 216.8h6.3v3.8h-6.3zM1264.1 220.4h2.3v3.8h-2.3zM1322.2 220.4h6.3v3.8h-6.3zM1412.2 220.4h2.3v3.8h-2.3zM1576.2 220.4h18.3v3.8h-18.3zM1752.3 220.4h6.3v3.8h-6.3zM1262.1 223.9h2.3v3.8h-2.3zM1324.2 223.9h4.3v3.8h-4.3zM1412.2 223.9h2.3v3.8h-2.3zM1584.2 223.9h14.3v3.8h-14.3zM1752.3 223.9h4.3v3.8h-4.3zM808 227.5h54.3v3.8h-54.3zM1262.1 227.5h2.3v3.8h-2.3zM1324.2 227.5h6.3v3.8h-6.3zM1412.2 227.5h2.3v3.8h-2.3zM1590.2 227.5h10.3v3.8h-10.3zM1750.3 227.5h6.3v3.8h-6.3zM776 231.1h96.3v3.8h-96.3zM1262.1 231.1h2.3v3.8h-2.3zM1324.2 231.1h6.3v3.8h-6.3zM1412.2 231.1h2.3v3.8h-2.3zM1592.2 231.1h8.3v3.8h-8.3zM1748.3 231.1h6.3v3.8h-6.3zM772 234.7h2.3v3.8h-2.3zM864 234.7h12.3v3.8h-12.3zM1262.1 234.7h2.3v3.8h-2.3zM1324.2 234.7h6.3v3.8h-6.3zM1412.2 234.7h2.3v3.8h-2.3zM1594.2 234.7h8.3v3.8h-8.3zM1746.3 234.7h6.3v3.8h-6.3zM1778.3 234.7h4.3v3.8h-4.3zM770 238.2h2.3v3.8h-2.3zM868 238.2h10.3v3.8h-10.3zM1262.1 238.2h2.3v3.8h-2.3zM1322.2 238.2h6.3v3.8h-6.3zM1412.2 238.2h2.3v3.8h-2.3zM1476.2 238.2h2.3v3.8h-2.3zM1594.2 238.2h8.3v3.8h-8.3zM1740.3 238.2h10.3v3.8h-10.3zM1778.3 238.2h4.3v3.8h-4.3zM872 241.8h14.3v3.8h-14.3zM1262.1 241.8h2.3v3.8h-2.3zM1320.2 241.8h6.3v3.8h-6.3zM1414.2 241.8h2.3v3.8h-2.3zM1470.2 241.8h6.3v3.8h-6.3zM1596.2 241.8h10.3v3.8h-10.3zM1670.3 241.8h2.3v3.8h-2.3zM1722.3 241.8h24.3v3.8h-24.3zM1778.3 241.8h4.3v3.8h-4.3zM768 245.4h2.3v3.8h-2.3zM874 245.4h38.3v3.8h-38.3zM1264.1 245.4h2.3v3.8h-2.3zM1314.2 245.4h10.3v3.8h-10.3zM1416.2 245.4h2.3v3.8h-2.3zM1434.2 245.4h34.3v3.8h-34.3zM1480.2 245.4h2.3v3.8h-2.3zM1596.2 245.4h18.3v3.8h-18.3zM1670.3 245.4h2.3v3.8h-2.3zM1718.3 245.4h8.3v3.8h-8.3zM1778.3 245.4h4.3v3.8h-4.3zM874 249h40.3v3.8h-40.3zM1266.1 249h4.3v3.8h-4.3zM1296.2 249h20.3v3.8h-20.3zM1480.2 249h2.3v3.8h-2.3zM1598.2 249h20.3v3.8h-20.3zM1718.3 249h4.3v3.8h-4.3zM1778.3 249h4.3v3.8h-4.3zM876 252.6h40.3v3.8h-40.3zM1272.1 252.6h26.3v3.8h-26.3zM1480.2 252.6h2.3v3.8h-2.3zM1600.2 252.6h20.3v3.8h-20.3zM1716.3 252.6h4.3v3.8h-4.3zM1778.3 252.6h4.3v3.8h-4.3zM880 256.1h38.3v3.8h-38.3zM1606.2 256.1h16.3v3.8h-16.3zM1716.3 256.1h4.3v3.8h-4.3zM1778.3 256.1h2.3v3.8h-2.3zM882 259.7h38.3v3.8h-38.3zM1616.2 259.7h6.3v3.8h-6.3zM1672.3 259.7h2.3v3.8h-2.3zM1718.3 259.7h2.3v3.8h-2.3zM1776.3 259.7h4.3v3.8h-4.3zM910.1 263.3h12.3v3.8h-12.3zM1480.2 263.3h2.3v3.8h-2.3zM1620.2 263.3h4.3v3.8h-4.3zM1672.3 263.3h2.3v3.8h-2.3zM1718.3 263.3h4.3v3.8h-4.3zM1776.3 263.3h2.3v3.8h-2.3zM914.1 266.8h12.3v3.8h-12.3zM1276.1 266.8h36.3v3.8h-36.3zM1480.2 266.8h2.3v3.8h-2.3zM1622.2 266.8h4.3v3.8h-4.3zM1672.3 266.8h2.3v3.8h-2.3zM1720.3 266.8h8.3v3.8h-8.3zM1768.3 266.8h8.3v3.8h-8.3zM918.1 270.4h14.3v3.8h-14.3zM1274.1 270.4h4.3v3.8h-4.3zM1310.2 270.4h12.3v3.8h-12.3zM1374.2 270.4h64.3v3.8h-64.3zM1480.2 270.4h2.3v3.8h-2.3zM1624.2 270.4h2.3v3.8h-2.3zM1672.3 270.4h2.3v3.8h-2.3zM1730.3 270.4h38.3v3.8h-38.3zM920.1 274h38.3v3.8h-38.3zM1272.1 274h4.3v3.8h-4.3zM1318.2 274h32.3v3.8h-32.3zM1366.2 274h12.3v3.8h-12.3zM1438.2 274h6.3v3.8h-6.3zM1624.2 274h4.3v3.8h-4.3zM1670.3 274h4.3v3.8h-4.3zM924.1 277.6h40.3v3.8h-40.3zM1272.1 277.6h2.3v3.8h-2.3zM1322.2 277.6h50.3v3.8h-50.3zM1442.2 277.6h6.3v3.8h-6.3zM1472.2 277.6h8.3v3.8h-8.3zM1626.2 277.6h2.3v3.8h-2.3zM1670.3 277.6h4.3v3.8h-4.3zM928.1 281.1h40.3v3.8h-40.3zM1270.1 281.1h4.3v3.8h-4.3zM1328.2 281.1h38.3v3.8h-38.3zM1446.2 281.1h6.3v3.8h-6.3zM1468.2 281.1h6.3v3.8h-6.3zM1626.2 281.1h4.3v3.8h-4.3zM1670.3 281.1h4.3v3.8h-4.3zM932.1 284.7h40.3v3.8h-40.3zM1272.1 284.7h2.3v3.8h-2.3zM1330.2 284.7h26.3v3.8h-26.3zM1448.2 284.7h22.3v3.8h-22.3zM1628.2 284.7h2.3v3.8h-2.3zM1670.3 284.7h4.3v3.8h-4.3zM934.1 288.3h40.3v3.8h-40.3zM1272.1 288.3h2.3v3.8h-2.3zM1332.2 288.3h16.3v3.8h-16.3zM1452.2 288.3h16.3v3.8h-16.3zM1628.2 288.3h4.3v3.8h-4.3zM1670.3 288.3h4.3v3.8h-4.3zM934.1 291.9h48.3v3.8h-48.3zM1272.1 291.9h4.3v3.8h-4.3zM1332.2 291.9h14.3v3.8h-14.3zM1454.2 291.9h12.3v3.8h-12.3zM1630.2 291.9h4.3v3.8h-4.3zM1670.3 291.9h4.3v3.8h-4.3zM932.1 295.4h58.3v3.8h-58.3zM1274.1 295.4h2.3v3.8h-2.3zM1332.2 295.4h14.3v3.8h-14.3zM1454.2 295.4h12.3v3.8h-12.3zM1632.2 295.4h6.3v3.8h-6.3zM1670.3 295.4h4.3v3.8h-4.3zM768 299h2.3v3.8h-2.3zM926.1 299h64.3v3.8h-64.3zM1276.1 299h2.3v3.8h-2.3zM1332.2 299h18.3v3.8h-18.3zM1454.2 299h10.3v3.8h-10.3zM1634.2 299h10.3v3.8h-10.3zM1672.3 299h4.3v3.8h-4.3zM920.1 302.6h10.3v3.8h-10.3zM960.1 302.6h30.3v3.8h-30.3zM1276.1 302.6h2.3v3.8h-2.3zM1330.2 302.6h44.3v3.8h-44.3zM1452.2 302.6h14.3v3.8h-14.3zM1636.2 302.6h12.3v3.8h-12.3zM1674.3 302.6h4.3v3.8h-4.3zM916.1 306.2h6.3v3.8h-6.3zM1278.1 306.2h2.3v3.8h-2.3zM1330.2 306.2h36.3v3.8h-36.3zM1374.2 306.2h12.3v3.8h-12.3zM1406.2 306.2h12.3v3.8h-12.3zM1450.2 306.2h16.3v3.8h-16.3zM1638.2 306.2h10.3v3.8h-10.3zM1678.3 306.2h6.3v3.8h-6.3zM1708.3 306.2h2.3v3.8h-2.3zM912.1 309.7h4.3v3.8h-4.3zM1278.1 309.7h4.3v3.8h-4.3zM1328.2 309.7h8.3v3.8h-8.3zM1430.2 309.7h24.3v3.8h-24.3zM1464.2 309.7h4.3v3.8h-4.3zM1640.2 309.7h10.3v3.8h-10.3zM1718.3 309.7h6.3v3.8h-6.3zM910.1 313.3h4.3v3.8h-4.3zM1280.1 313.3h4.3v3.8h-4.3zM1328.2 313.3h6.3v3.8h-6.3zM1466.2 313.3h2.3v3.8h-2.3zM1642.2 313.3h6.3v3.8h-6.3zM1728.3 313.3h6.3v3.8h-6.3zM1774.3 313.3h8.3v3.8h-8.3zM770 316.9h2.3v3.8h-2.3zM908 316.9h2.3v3.8h-2.3zM1282.1 316.9h4.3v3.8h-4.3zM1326.2 316.9h6.3v3.8h-6.3zM1466.2 316.9h2.3v3.8h-2.3zM1536.2 316.9h6.3v3.8h-6.3zM1556.2 316.9h4.3v3.8h-4.3zM1642.2 316.9h6.3v3.8h-6.3zM1740.3 316.9h8.3v3.8h-8.3zM1762.3 316.9h12.3v3.8h-12.3zM1780.3 316.9h6.3v3.8h-6.3zM904 320.5h4.3v3.8h-4.3zM1284.2 320.5h6.3v3.8h-6.3zM1326.2 320.5h4.3v3.8h-4.3zM1468.2 320.5h2.3v3.8h-2.3zM1530.2 320.5h4.3v3.8h-4.3zM1562.2 320.5h2.3v3.8h-2.3zM1642.2 320.5h6.3v3.8h-6.3zM1786.3 320.5h4.3v3.8h-4.3zM772 324h2.3v3.8h-2.3zM902 324h4.3v3.8h-4.3zM1288.2 324h14.3v3.8h-14.3zM1324.2 324h6.3v3.8h-6.3zM1468.2 324h2.3v3.8h-2.3zM1526.2 324h2.3v3.8h-2.3zM1566.2 324h2.3v3.8h-2.3zM1642.2 324h4.3v3.8h-4.3zM1788.3 324h6.3v3.8h-6.3zM780 327.6h18.3v3.8h-18.3zM800 327.6h6.3v3.8h-6.3zM900 327.6h4.3v3.8h-4.3zM1298.2 327.6h18.3v3.8h-18.3zM1320.2 327.6h8.3v3.8h-8.3zM1468.2 327.6h2.3v3.8h-2.3zM1524.2 327.6h2.3v3.8h-2.3zM1568.2 327.6h2.3v3.8h-2.3zM1640.2 327.6h6.3v3.8h-6.3zM1792.3 327.6h12.3v3.8h-12.3zM808 331.2h4.3v3.8h-4.3zM898 331.2h4.3v3.8h-4.3zM1310.2 331.2h18.3v3.8h-18.3zM1520.2 331.2h2.3v3.8h-2.3zM1570.2 331.2h4.3v3.8h-4.3zM1640.2 331.2h4.3v3.8h-4.3zM1796.3 331.2h30.3v3.8h-30.3zM812 334.8h2.3v3.8h-2.3zM896 334.8h4.3v3.8h-4.3zM1322.2 334.8h2.3v3.8h-2.3zM1470.2 334.8h2.3v3.8h-2.3zM1518.2 334.8h2.3v3.8h-2.3zM1574.2 334.8h2.3v3.8h-2.3zM1640.2 334.8h4.3v3.8h-4.3zM814 338.3h2.3v3.8h-2.3zM896 338.3h2.3v3.8h-2.3zM1470.2 338.3h2.3v3.8h-2.3zM1516.2 338.3h2.3v3.8h-2.3zM1576.2 338.3h2.3v3.8h-2.3zM1638.2 338.3h4.3v3.8h-4.3zM816 341.9h2.3v3.8h-2.3zM894 341.9h4.3v3.8h-4.3zM1514.2 341.9h2.3v3.8h-2.3zM1578.2 341.9h2.3v3.8h-2.3zM1638.2 341.9h4.3v3.8h-4.3zM818 345.5h2.3v3.8h-2.3zM892 345.5h4.3v3.8h-4.3zM1472.2 345.5h2.3v3.8h-2.3zM1512.2 345.5h2.3v3.8h-2.3zM1580.2 345.5h2.3v3.8h-2.3zM1636.2 345.5h4.3v3.8h-4.3zM892 349.1h2.3v3.8h-2.3zM1472.2 349.1h2.3v3.8h-2.3zM1510.2 349.1h2.3v3.8h-2.3zM1582.2 349.1h2.3v3.8h-2.3zM1634.2 349.1h6.3v3.8h-6.3zM820 352.6h2.3v3.8h-2.3zM890 352.6h4.3v3.8h-4.3zM1510.2 352.6h2.3v3.8h-2.3zM1584.2 352.6h2.3v3.8h-2.3zM1632.2 352.6h6.3v3.8h-6.3zM822 356.2h2.3v3.8h-2.3zM890 356.2h2.3v3.8h-2.3zM1508.2 356.2h2.3v3.8h-2.3zM1586.2 356.2h2.3v3.8h-2.3zM1630.2 356.2h6.3v3.8h-6.3zM888 359.8h2.3v3.8h-2.3zM1508.2 359.8h2.3v3.8h-2.3zM1588.2 359.8h4.3v3.8h-4.3zM1628.2 359.8h4.3v3.8h-4.3zM824 363.4h2.3v3.8h-2.3zM886 363.4h2.3v3.8h-2.3zM1592.2 363.4h4.3v3.8h-4.3zM1626.2 363.4h4.3v3.8h-4.3zM826 366.9h2.3v3.8h-2.3zM884 366.9h4.3v3.8h-4.3zM1474.2 366.9h2.3v3.8h-2.3zM1506.2 366.9h2.3v3.8h-2.3zM1596.2 366.9h4.3v3.8h-4.3zM1626.2 366.9h2.3v3.8h-2.3zM884 370.5h2.3v3.8h-2.3zM1474.2 370.5h2.3v3.8h-2.3zM1504.2 370.5h2.3v3.8h-2.3zM1598.2 370.5h4.3v3.8h-4.3zM1624.2 370.5h2.3v3.8h-2.3zM828 374.1h2.3v3.8h-2.3zM882 374.1h2.3v3.8h-2.3zM1502.2 374.1h2.3v3.8h-2.3zM1600.2 374.1h4.3v3.8h-4.3zM1622.2 374.1h4.3v3.8h-4.3zM878 377.7h2.3v3.8h-2.3zM1500.2 377.7h2.3v3.8h-2.3zM1602.2 377.7h2.3v3.8h-2.3zM1622.2 377.7h2.3v3.8h-2.3zM830 381.2h2.3v3.8h-2.3zM876 381.2h2.3v3.8h-2.3zM1498.2 381.2h4.3v3.8h-4.3zM1604.2 381.2h2.3v3.8h-2.3zM1620.2 381.2h4.3v3.8h-4.3zM830 384.8h2.3v8.8h-2.3zM876 384.8h2.3v8.8h-2.3zM1476.2 384.8h2.3v8.8h-2.3zM1498.2 384.8h2.3v8.8h-2.3zM1604.2 384.8h4.3v8.8h-4.3zM1620.2 384.8h2.3v8.8h-2.3z"/><path fill="#a0ff56" d="M1400.2 40.2h2.3v8.8h-2.3zM1510.2 40.2h24.3v8.8h-24.3zM1514.2 48.8h22.3v3.8h-22.3zM1518.2 52.4h18.3v3.8h-18.3zM1402.2 55.9h2.3v3.8h-2.3zM1530.2 55.9h8.3v3.8h-8.3zM1402.2 59.5h2.3v3.8h-2.3zM1534.2 59.5h4.3v3.8h-4.3zM1534.2 63.1h4.3v3.8h-4.3zM1404.2 66.7h2.3v3.8h-2.3zM1534.2 66.7h4.3v3.8h-4.3zM1404.2 70.2h2.3v3.8h-2.3zM1534.2 70.2h4.3v3.8h-4.3zM1532.2 73.8h4.3v3.8h-4.3zM1406.2 77.4h2.3v3.8h-2.3zM1532.2 77.4h4.3v3.8h-4.3zM1530.2 81h4.3v3.8h-4.3zM1530.2 84.5h4.3v3.8h-4.3zM1408.2 88.1h2.3v3.8h-2.3zM1528.2 88.1h4.3v3.8h-4.3zM1528.2 91.7h4.3v3.8h-4.3zM1528.2 95.2h2.3v3.8h-2.3zM1526.2 98.8h4.3v3.8h-4.3zM1412.2 102.4h2.3v3.8h-2.3zM1524.2 102.4h4.3v3.8h-4.3zM1414.2 106h2.3v3.8h-2.3zM1524.2 106h4.3v3.8h-4.3zM1520.2 109.5h6.3v3.8h-6.3zM1506.2 113.1h18.3v3.8h-18.3zM1420.2 116.7h2.3v3.8h-2.3zM1498.2 116.7h20.3v3.8h-20.3zM1422.2 120.3h2.3v3.8h-2.3zM1490.2 120.3h8.3v3.8h-8.3zM1424.2 123.8h2.3v3.8h-2.3zM1478.2 123.8h10.3v3.8h-10.3zM1426.2 127.4h4.3v3.8h-4.3zM1472.2 127.4h4.3v3.8h-4.3zM1428.2 131h10.3v3.8h-10.3zM1454.2 131h14.3v3.8h-14.3zM1436.2 134.6h16.3v3.8h-16.3zM1828.3 177.5h2.3v3.8h-2.3zM1432.2 181.1h6.3v3.8h-6.3zM1428.2 184.6h12.3v3.8h-12.3zM1804.3 184.6h2.3v3.8h-2.3zM1426.2 188.2h14.3v3.8h-14.3zM1798.3 188.2h2.3v3.8h-2.3zM1426.2 191.8h4.3v3.8h-4.3zM1436.2 191.8h6.3v3.8h-6.3zM1794.3 191.8h2.3v3.8h-2.3zM1424.2 195.3h2.3v3.8h-2.3zM1438.2 195.3h4.3v3.8h-4.3zM1420.2 198.9h6.3v3.8h-6.3zM1438.2 198.9h6.3v3.8h-6.3zM1420.2 202.5h4.3v3.8h-4.3zM1440.2 202.5h4.3v3.8h-4.3zM1418.2 206.1h2.3v3.8h-2.3zM1440.2 206.1h4.3v3.8h-4.3zM1440.2 209.6h4.3v3.8h-4.3zM1440.2 213.2h4.3v3.8h-4.3zM1438.2 216.8h4.3v3.8h-4.3zM1418.2 220.4h6.3v3.8h-6.3zM1434.2 220.4h6.3v3.8h-6.3zM1418.2 223.9h16.3v3.8h-16.3zM774 256.1h18.3v3.8h-18.3zM1496.2 256.1h6.3v3.8h-6.3zM798 259.7h4.3v3.8h-4.3zM1494.2 259.7h2.3v3.8h-2.3zM1504.2 259.7h4.3v3.8h-4.3zM806 263.3h4.3v3.8h-4.3zM1510.2 263.3h4.3v3.8h-4.3zM814 266.8h2.3v3.8h-2.3zM1516.2 266.8h12.3v3.8h-12.3zM770 270.4h2.3v3.8h-2.3zM820 270.4h4.3v3.8h-4.3zM1528.2 270.4h18.3v3.8h-18.3zM826 274h6.3v3.8h-6.3zM1534.2 274h26.3v3.8h-26.3zM834 277.6h28.3v3.8h-28.3zM1548.2 277.6h18.3v3.8h-18.3zM1818.3 277.6h2.3v3.8h-2.3zM862 281.1h2.3v3.8h-2.3zM1558.2 281.1h12.3v3.8h-12.3zM864 284.7h2.3v3.8h-2.3zM1560.2 284.7h16.3v3.8h-16.3zM1820.3 284.7h2.3v3.8h-2.3zM770 288.3h2.3v3.8h-2.3zM866 288.3h2.3v3.8h-2.3zM1550.2 288.3h40.3v3.8h-40.3zM1820.3 288.3h2.3v3.8h-2.3zM868 291.9h2.3v3.8h-2.3zM1540.2 291.9h54.3v3.8h-54.3zM1820.3 291.9h2.3v3.8h-2.3zM868 295.4h2.3v3.8h-2.3zM1536.2 295.4h12.3v3.8h-12.3zM1560.2 295.4h38.3v3.8h-38.3zM1820.3 295.4h4.3v3.8h-4.3zM868 299h2.3v3.8h-2.3zM1530.2 299h6.3v3.8h-6.3zM1574.2 299h26.3v3.8h-26.3zM1822.3 299h2.3v3.8h-2.3zM870 302.6h2.3v3.8h-2.3zM1478.2 302.6h2.3v3.8h-2.3zM1526.2 302.6h4.3v3.8h-4.3zM1580.2 302.6h20.3v3.8h-20.3zM1822.3 302.6h4.3v3.8h-4.3zM870 306.2h2.3v3.8h-2.3zM1522.2 306.2h2.3v3.8h-2.3zM1586.2 306.2h12.3v3.8h-12.3zM1826.3 306.2h2.3v3.8h-2.3zM772 309.7h2.3v3.8h-2.3zM870 309.7h2.3v3.8h-2.3zM1518.2 309.7h2.3v3.8h-2.3zM1828.3 309.7h2.3v3.8h-2.3zM774 313.3h2.3v3.8h-2.3zM800 313.3h18.3v3.8h-18.3zM868 313.3h4.3v3.8h-4.3zM1516.2 313.3h2.3v3.8h-2.3zM820 316.9h4.3v3.8h-4.3zM868 316.9h4.3v3.8h-4.3zM1836.3 316.9h17.3v3.8h-17.3zM824 320.5h4.3v3.8h-4.3zM866 320.5h4.3v3.8h-4.3zM1510.2 320.5h2.3v3.8h-2.3zM826 324h4.3v3.8h-4.3zM866 324h4.3v3.8h-4.3zM1508.2 324h2.3v3.8h-2.3zM828 327.6h6.3v3.8h-6.3zM862 327.6h8.3v3.8h-8.3zM1506.2 327.6h2.3v3.8h-2.3zM830 331.2h38.3v3.8h-38.3zM1504.2 331.2h2.3v3.8h-2.3zM834 334.8h32.3v3.8h-32.3zM1478.2 334.8h2.3v3.8h-2.3zM1502.2 334.8h2.3v3.8h-2.3zM838 338.3h24.3v3.8h-24.3zM1496.2 349.1h2.3v3.8h-2.3zM1480.2 352.6h2.3v3.8h-2.3zM1494.2 352.6h2.3v3.8h-2.3zM1482.2 356.2h2.3v3.8h-2.3zM1490.2 356.2h4.3v3.8h-4.3zM1484.2 359.8h4.3v3.8h-4.3z"/><path fill="#dbff1c" d="M1402.2 40.2h2.3v8.8h-2.3zM1490.2 40.2h6.3v8.8h-6.3zM1496.2 48.8h6.3v3.8h-6.3zM1502.2 52.4h4.3v3.8h-4.3zM1404.2 55.9h2.3v3.8h-2.3zM1506.2 55.9h2.3v3.8h-2.3zM1508.2 59.5h2.3v3.8h-2.3zM1508.2 63.1h4.3v3.8h-4.3zM1406.2 66.7h2.3v3.8h-2.3zM1508.2 66.7h4.3v3.8h-4.3zM1508.2 70.2h4.3v3.8h-4.3zM1508.2 73.8h4.3v3.8h-4.3zM1408.2 77.4h2.3v3.8h-2.3zM1508.2 77.4h2.3v3.8h-2.3zM1506.2 81h4.3v3.8h-4.3zM1504.2 84.5h4.3v3.8h-4.3zM1410.2 88.1h2.3v3.8h-2.3zM1504.2 88.1h4.3v3.8h-4.3zM1502.2 91.7h4.3v3.8h-4.3zM1412.2 95.2h2.3v3.8h-2.3zM1500.2 95.2h6.3v3.8h-6.3zM1500.2 98.8h4.3v3.8h-4.3zM1496.2 102.4h6.3v3.8h-6.3zM1494.2 106h4.3v3.8h-4.3zM1420.2 109.5h2.3v3.8h-2.3zM1490.2 109.5h6.3v3.8h-6.3zM1422.2 113.1h2.3v3.8h-2.3zM1482.2 113.1h8.3v3.8h-8.3zM1426.2 116.7h2.3v3.8h-2.3zM1476.2 116.7h6.3v3.8h-6.3zM1430.2 120.3h4.3v3.8h-4.3zM1470.2 120.3h6.3v3.8h-6.3zM1436.2 123.8h32.3v3.8h-32.3zM1816.3 181.1h2.3v3.8h-2.3zM1800.3 188.2h2.3v3.8h-2.3zM1796.3 191.8h2.3v3.8h-2.3zM774 263.3h6.3v3.8h-6.3zM794 263.3h6.3v3.8h-6.3zM1496.2 263.3h8.3v3.8h-8.3zM806 266.8h2.3v3.8h-2.3zM1506.2 266.8h2.3v3.8h-2.3zM812 270.4h2.3v3.8h-2.3zM1490.2 270.4h2.3v3.8h-2.3zM1510.2 270.4h4.3v3.8h-4.3zM816 274h2.3v3.8h-2.3zM1488.2 274h2.3v3.8h-2.3zM1514.2 274h4.3v3.8h-4.3zM820 277.6h2.3v3.8h-2.3zM1486.2 277.6h2.3v3.8h-2.3zM1518.2 277.6h6.3v3.8h-6.3zM822 281.1h4.3v3.8h-4.3zM1522.2 281.1h4.3v3.8h-4.3zM826 284.7h6.3v3.8h-6.3zM1522.2 284.7h6.3v3.8h-6.3zM828 288.3h30.3v3.8h-30.3zM1522.2 288.3h4.3v3.8h-4.3zM836 291.9h26.3v3.8h-26.3zM1522.2 291.9h4.3v3.8h-4.3zM858 295.4h6.3v3.8h-6.3zM1520.2 295.4h4.3v3.8h-4.3zM860 299h4.3v3.8h-4.3zM1520.2 299h2.3v3.8h-2.3zM860 302.6h4.3v3.8h-4.3zM1518.2 302.6h2.3v3.8h-2.3zM772 306.2h2.3v3.8h-2.3zM814 306.2h14.3v3.8h-14.3zM858 306.2h6.3v3.8h-6.3zM1516.2 306.2h2.3v3.8h-2.3zM798 309.7h10.3v3.8h-10.3zM824 309.7h38.3v3.8h-38.3zM1514.2 309.7h2.3v3.8h-2.3zM830 313.3h30.3v3.8h-30.3zM1478.2 320.5h2.3v3.8h-2.3zM1480.2 341.9h2.3v3.8h-2.3zM1490.2 349.1h2.3v3.8h-2.3zM1484.2 352.6h4.3v3.8h-4.3z"/><path fill="#ffd700" d="M1404.2 40.2h2.3v8.8h-2.3zM1482.2 40.2h2.3v8.8h-2.3zM1486.2 48.8h2.3v3.8h-2.3zM1490.2 52.4h4.3v3.8h-4.3zM1406.2 55.9h2.3v3.8h-2.3zM1496.2 55.9h4.3v3.8h-4.3zM1498.2 59.5h4.3v3.8h-4.3zM1500.2 63.1h4.3v3.8h-4.3zM1408.2 66.7h2.3v3.8h-2.3zM1502.2 66.7h2.3v3.8h-2.3zM1502.2 70.2h2.3v3.8h-2.3zM1500.2 73.8h4.3v3.8h-4.3zM1410.2 77.4h2.3v3.8h-2.3zM1500.2 77.4h2.3v3.8h-2.3zM1498.2 81h2.3v3.8h-2.3zM1496.2 84.5h4.3v3.8h-4.3zM1412.2 88.1h2.3v3.8h-2.3zM1494.2 88.1h4.3v3.8h-4.3zM1492.2 91.7h4.3v3.8h-4.3zM1490.2 95.2h4.3v3.8h-4.3zM1486.2 98.8h4.3v3.8h-4.3zM1420.2 102.4h2.3v3.8h-2.3zM1484.2 102.4h4.3v3.8h-4.3zM1422.2 106h2.3v3.8h-2.3zM1480.2 106h2.3v3.8h-2.3zM1426.2 109.5h2.3v3.8h-2.3zM1476.2 109.5h2.3v3.8h-2.3zM1430.2 113.1h4.3v3.8h-4.3zM1470.2 113.1h4.3v3.8h-4.3zM1438.2 116.7h30.3v3.8h-30.3zM1810.3 184.6h2.3v3.8h-2.3zM1798.3 191.8h2.3v3.8h-2.3zM1786.3 206.1h2.3v3.8h-2.3zM1780.3 220.4h2.3v3.8h-2.3zM780 266.8h4.3v3.8h-4.3zM792 266.8h6.3v3.8h-6.3zM772 270.4h2.3v3.8h-2.3zM804 270.4h2.3v3.8h-2.3zM1494.2 270.4h4.3v3.8h-4.3zM1504.2 270.4h2.3v3.8h-2.3zM810 274h2.3v3.8h-2.3zM1492.2 274h2.3v3.8h-2.3zM1508.2 274h2.3v3.8h-2.3zM814 277.6h2.3v3.8h-2.3zM1490.2 277.6h2.3v3.8h-2.3zM1510.2 277.6h2.3v3.8h-2.3zM816 281.1h2.3v3.8h-2.3zM1486.2 281.1h2.3v3.8h-2.3zM1512.2 281.1h2.3v3.8h-2.3zM816 284.7h2.3v3.8h-2.3zM1484.2 284.7h2.3v3.8h-2.3zM1514.2 284.7h2.3v3.8h-2.3zM816 288.3h4.3v3.8h-4.3zM1514.2 288.3h2.3v3.8h-2.3zM816 291.9h4.3v3.8h-4.3zM1514.2 291.9h2.3v3.8h-2.3zM814 295.4h4.3v3.8h-4.3zM1514.2 295.4h2.3v3.8h-2.3zM772 299h2.3v3.8h-2.3zM812 299h4.3v3.8h-4.3zM1480.2 299h2.3v3.8h-2.3zM1514.2 299h2.3v3.8h-2.3zM808 302.6h4.3v3.8h-4.3zM796 306.2h8.3v3.8h-8.3zM1512.2 306.2h2.3v3.8h-2.3zM1510.2 309.7h2.3v3.8h-2.3zM1508.2 313.3h2.3v3.8h-2.3zM1504.2 320.5h2.3v3.8h-2.3zM1502.2 324h2.3v3.8h-2.3zM1500.2 327.6h2.3v3.8h-2.3zM1480.2 331.2h2.3v3.8h-2.3zM1498.2 331.2h2.3v3.8h-2.3zM1496.2 334.8h2.3v3.8h-2.3zM1482.2 341.9h2.3v3.8h-2.3zM1490.2 341.9h2.3v3.8h-2.3zM1484.2 345.5h4.3v3.8h-4.3z"/><path fill="#ff8200" d="M1406.2 40.2h2.3v8.8h-2.3zM1482.2 52.4h2.3v3.8h-2.3zM1408.2 55.9h2.3v3.8h-2.3zM1486.2 55.9h2.3v3.8h-2.3zM1488.2 59.5h2.3v3.8h-2.3zM1410.2 63.1h2.3v3.8h-2.3zM1490.2 63.1h2.3v3.8h-2.3zM1490.2 66.7h4.3v3.8h-4.3zM1490.2 70.2h2.3v3.8h-2.3zM1412.2 73.8h2.3v3.8h-2.3zM1490.2 73.8h2.3v3.8h-2.3zM1412.2 77.4h2.3v3.8h-2.3zM1488.2 77.4h2.3v3.8h-2.3zM1488.2 81h2.3v3.8h-2.3zM1414.2 84.5h2.3v3.8h-2.3zM1486.2 84.5h2.3v3.8h-2.3zM1416.2 88.1h2.3v3.8h-2.3zM1482.2 88.1h4.3v3.8h-4.3zM1418.2 91.7h2.3v3.8h-2.3zM1480.2 91.7h4.3v3.8h-4.3zM1420.2 95.2h2.3v3.8h-2.3zM1478.2 95.2h2.3v3.8h-2.3zM1422.2 98.8h2.3v3.8h-2.3zM1476.2 98.8h2.3v3.8h-2.3zM1426.2 102.4h2.3v3.8h-2.3zM1472.2 102.4h2.3v3.8h-2.3zM1430.2 106h2.3v3.8h-2.3zM1466.2 106h4.3v3.8h-4.3zM1438.2 109.5h24.3v3.8h-24.3zM1828.3 181.1h4.3v3.8h-4.3zM1796.3 195.3h2.3v3.8h-2.3zM1782.3 223.9h2.3v3.8h-2.3zM782 274h2.3v3.8h-2.3zM798 274h4.3v3.8h-4.3zM1786.3 274h32.3v3.8h-32.3zM774 277.6h2.3v3.8h-2.3zM778 277.6h2.3v3.8h-2.3zM804 277.6h4.3v3.8h-4.3zM1496.2 277.6h2.3v3.8h-2.3zM1502.2 277.6h4.3v3.8h-4.3zM774 281.1h6.3v3.8h-6.3zM808 281.1h2.3v3.8h-2.3zM1492.2 281.1h2.3v3.8h-2.3zM1506.2 281.1h2.3v3.8h-2.3zM774 284.7h4.3v3.8h-4.3zM808 284.7h2.3v3.8h-2.3zM1490.2 284.7h2.3v3.8h-2.3zM774 288.3h2.3v3.8h-2.3zM808 288.3h2.3v3.8h-2.3zM1486.2 288.3h2.3v3.8h-2.3zM1508.2 288.3h2.3v3.8h-2.3zM774 291.9h2.3v3.8h-2.3zM806 291.9h4.3v3.8h-4.3zM1508.2 291.9h2.3v3.8h-2.3zM774 295.4h6.3v3.8h-6.3zM804 295.4h4.3v3.8h-4.3zM1482.2 295.4h2.3v3.8h-2.3zM774 299h8.3v3.8h-8.3zM798 299h6.3v3.8h-6.3zM1508.2 299h2.3v3.8h-2.3zM1508.2 302.6h2.3v3.8h-2.3zM1506.2 306.2h2.3v3.8h-2.3zM1494.2 327.6h2.3v3.8h-2.3zM1482.2 331.2h2.3v3.8h-2.3zM1492.2 331.2h2.3v3.8h-2.3zM1484.2 334.8h6.3v3.8h-6.3z"/><path fill="#ff3f00" d="M1408.2 40.2h2.3v8.8h-2.3zM1476.2 48.8h2.3v3.8h-2.3zM1478.2 52.4h2.3v3.8h-2.3zM1480.2 55.9h2.3v3.8h-2.3zM1482.2 59.5h2.3v3.8h-2.3zM1412.2 63.1h2.3v3.8h-2.3zM1484.2 63.1h2.3v3.8h-2.3zM1484.2 70.2h2.3v3.8h-2.3zM1414.2 73.8h2.3v3.8h-2.3zM1484.2 73.8h2.3v3.8h-2.3zM1482.2 77.4h2.3v3.8h-2.3zM1416.2 81h2.3v3.8h-2.3zM1418.2 84.5h2.3v3.8h-2.3zM1420.2 88.1h2.3v3.8h-2.3zM1476.2 88.1h2.3v3.8h-2.3zM1474.2 91.7h2.3v3.8h-2.3zM1424.2 95.2h2.3v3.8h-2.3zM1472.2 95.2h2.3v3.8h-2.3zM1426.2 98.8h2.3v3.8h-2.3zM1468.2 98.8h2.3v3.8h-2.3zM1430.2 102.4h2.3v3.8h-2.3zM1462.2 102.4h4.3v3.8h-4.3zM1438.2 106h18.3v3.8h-18.3zM1786.3 209.6h2.3v3.8h-2.3zM788 277.6h8.3v3.8h-8.3zM784 281.1h6.3v3.8h-6.3zM796 281.1h6.3v3.8h-6.3zM784 284.7h4.3v3.8h-4.3zM800 284.7h4.3v3.8h-4.3zM1494.2 284.7h4.3v3.8h-4.3zM1500.2 284.7h4.3v3.8h-4.3zM784 288.3h4.3v3.8h-4.3zM798 288.3h6.3v3.8h-6.3zM1492.2 288.3h2.3v3.8h-2.3zM1504.2 288.3h2.3v3.8h-2.3zM784 291.9h16.3v3.8h-16.3zM1488.2 291.9h2.3v3.8h-2.3zM1504.2 291.9h2.3v3.8h-2.3zM1824.3 291.9h2.3v3.8h-2.3zM1484.2 295.4h2.3v3.8h-2.3zM1504.2 295.4h2.3v3.8h-2.3zM1504.2 299h2.3v3.8h-2.3zM1482.2 302.6h2.3v3.8h-2.3zM1504.2 302.6h2.3v3.8h-2.3zM1482.2 306.2h2.3v3.8h-2.3zM1502.2 306.2h2.3v3.8h-2.3zM1482.2 309.7h2.3v3.8h-2.3zM1482.2 313.3h2.3v3.8h-2.3zM1482.2 316.9h2.3v3.8h-2.3zM1494.2 320.5h2.3v3.8h-2.3zM1484.2 324h10.3v3.8h-10.3z"/><path fill="#e80000" d="M1410.2 40.2h2.3v8.8h-2.3zM1472.2 40.2h2.3v8.8h-2.3zM1412.2 52.4h2.3v3.8h-2.3zM1474.2 52.4h2.3v3.8h-2.3zM1476.2 55.9h2.3v3.8h-2.3zM1478.2 59.5h2.3v3.8h-2.3zM1414.2 63.1h2.3v3.8h-2.3zM1480.2 66.7h2.3v3.8h-2.3zM1416.2 70.2h2.3v3.8h-2.3zM1480.2 70.2h2.3v3.8h-2.3zM1478.2 73.8h2.3v3.8h-2.3zM1418.2 77.4h2.3v3.8h-2.3zM1478.2 77.4h2.3v3.8h-2.3zM1476.2 81h2.3v3.8h-2.3zM1474.2 84.5h2.3v3.8h-2.3zM1470.2 88.1h2.3v3.8h-2.3zM1468.2 91.7h2.3v3.8h-2.3zM1464.2 95.2h2.3v3.8h-2.3zM1430.2 98.8h2.3v3.8h-2.3zM1460.2 98.8h2.3v3.8h-2.3zM1438.2 102.4h4.3v3.8h-4.3zM1450.2 102.4h4.3v3.8h-4.3zM1802.3 191.8h2.3v3.8h-2.3zM1784.3 216.8h2.3v3.8h-2.3zM1818.3 274h2.3v3.8h-2.3zM1496.2 291.9h4.3v3.8h-4.3zM1492.2 295.4h10.3v3.8h-10.3zM1490.2 299h4.3v3.8h-4.3zM1498.2 299h4.3v3.8h-4.3zM1486.2 302.6h6.3v3.8h-6.3zM1498.2 302.6h2.3v3.8h-2.3zM1484.2 306.2h8.3v3.8h-8.3zM1496.2 306.2h4.3v3.8h-4.3zM1486.2 309.7h12.3v3.8h-12.3zM1490.2 313.3h4.3v3.8h-4.3z"/><path fill="#b20000" d="M1412.2 40.2h2.3v8.8h-2.3zM1470.2 40.2h2.3v8.8h-2.3zM1472.2 52.4h2.3v3.8h-2.3zM1414.2 55.9h2.3v3.8h-2.3zM1474.2 55.9h2.3v3.8h-2.3zM1416.2 63.1h2.3v3.8h-2.3zM1476.2 63.1h2.3v3.8h-2.3zM1476.2 66.7h2.3v3.8h-2.3zM1418.2 70.2h2.3v3.8h-2.3zM1476.2 70.2h2.3v3.8h-2.3zM1420.2 77.4h2.3v3.8h-2.3zM1474.2 77.4h2.3v3.8h-2.3zM1422.2 81h2.3v3.8h-2.3zM1472.2 81h2.3v3.8h-2.3zM1468.2 84.5h4.3v3.8h-4.3zM1466.2 88.1h2.3v3.8h-2.3zM1464.2 91.7h2.3v3.8h-2.3zM1460.2 95.2h2.3v3.8h-2.3zM1434.2 98.8h2.3v3.8h-2.3zM1454.2 98.8h4.3v3.8h-4.3zM1822.3 184.6h2.3v3.8h-2.3zM1810.3 188.2h2.3v3.8h-2.3zM1792.3 202.5h2.3v3.8h-2.3zM1790.3 206.1h2.3v3.8h-2.3zM1786.3 213.2h2.3v3.8h-2.3zM1830.3 306.2h2.3v3.8h-2.3z"/><path fill="#800000" d="M1414.2 40.2h56.3v8.8h-56.3zM1416.2 48.8h54.3v3.8h-54.3zM1416.2 52.4h56.3v3.8h-56.3zM1416.2 55.9h56.3v3.8h-56.3zM1418.2 59.5h56.3v3.8h-56.3zM1418.2 63.1h56.3v3.8h-56.3zM1420.2 66.7h54.3v3.8h-54.3zM1420.2 70.2h54.3v3.8h-54.3zM1422.2 73.8h52.3v3.8h-52.3zM1424.2 77.4h48.3v3.8h-48.3zM1424.2 81h46.3v3.8h-46.3zM1426.2 84.5h40.3v3.8h-40.3zM1428.2 88.1h36.3v3.8h-36.3zM1430.2 91.7h32.3v3.8h-32.3zM1432.2 95.2h26.3v3.8h-26.3zM1438.2 98.8h14.3v3.8h-14.3zM1824.3 184.6h29.3v3.8h-29.3zM1812.3 188.2h41.3v3.8h-41.3zM1804.3 191.8h49.3v3.8h-49.3zM1800.3 195.3h53.3v3.8h-53.3zM1796.3 198.9h57.3v3.8h-57.3zM1794.3 202.5h59.3v3.8h-59.3zM1792.3 206.1h61.3v3.8h-61.3zM1790.3 209.6h63.3v3.8h-63.3zM1788.3 213.2h65.3v3.8h-65.3zM1786.3 216.8h67.3v3.8h-67.3zM1784.3 220.4h69.3v3.8h-69.3zM1786.3 223.9h67.3v3.8h-67.3zM1786.3 227.5h67.3v3.8h-67.3zM1786.3 231.1h67.3v3.8h-67.3zM1786.3 234.7h67.3v3.8h-67.3zM1786.3 238.2h67.3v3.8h-67.3zM1786.3 241.8h67.3v3.8h-67.3zM1786.3 245.4h67.3v3.8h-67.3zM1786.3 249h67.3v3.8h-67.3zM1786.3 252.6h67.3v3.8h-67.3zM1786.3 256.1h67.3v3.8h-67.3zM1786.3 259.7h67.3v3.8h-67.3zM1786.3 263.3h67.3v3.8h-67.3zM1786.3 266.8h67.3v3.8h-67.3zM1786.3 270.4h67.3v3.8h-67.3zM1820.3 274h33.3v3.8h-33.3zM1822.3 277.6h31.3v3.8h-31.3zM1824.3 281.1h29.3v3.8h-29.3zM1824.3 284.7h29.3v3.8h-29.3zM1824.3 288.3h29.3v3.8h-29.3zM1826.3 291.9h27.3v3.8h-27.3zM1826.3 295.4h27.3v3.8h-27.3zM1828.3 299h25.3v3.8h-25.3zM1830.3 302.6h23.3v3.8h-23.3zM1832.3 306.2h21.3v3.8h-21.3zM1832.3 309.7h21.3v3.8h-21.3z"/><path fill="#ff2900" d="M1474.2 40.2h2.3v8.8h-2.3zM1410.2 52.4h2.3v3.8h-2.3zM1478.2 55.9h2.3v3.8h-2.3zM1412.2 59.5h2.3v3.8h-2.3zM1482.2 63.1h2.3v3.8h-2.3zM1484.2 66.7h2.3v3.8h-2.3zM1414.2 70.2h2.3v3.8h-2.3zM1482.2 73.8h2.3v3.8h-2.3zM1416.2 77.4h2.3v3.8h-2.3zM1480.2 77.4h2.3v3.8h-2.3zM1480.2 81h2.3v3.8h-2.3zM1478.2 84.5h2.3v3.8h-2.3zM1474.2 88.1h2.3v3.8h-2.3zM1422.2 91.7h2.3v3.8h-2.3zM1472.2 91.7h2.3v3.8h-2.3zM1468.2 95.2h4.3v3.8h-4.3zM1428.2 98.8h2.3v3.8h-2.3zM1464.2 98.8h4.3v3.8h-4.3zM1432.2 102.4h2.3v3.8h-2.3zM1458.2 102.4h4.3v3.8h-4.3zM1816.3 184.6h2.3v3.8h-2.3zM1808.3 188.2h2.3v3.8h-2.3zM1782.3 220.4h2.3v3.8h-2.3zM790 281.1h6.3v3.8h-6.3zM1822.3 281.1h2.3v3.8h-2.3zM788 284.7h12.3v3.8h-12.3zM1498.2 284.7h2.3v3.8h-2.3zM788 288.3h10.3v3.8h-10.3zM1494.2 288.3h2.3v3.8h-2.3zM1500.2 288.3h4.3v3.8h-4.3zM1490.2 291.9h2.3v3.8h-2.3zM1502.2 291.9h2.3v3.8h-2.3zM1486.2 295.4h4.3v3.8h-4.3zM1502.2 302.6h2.3v3.8h-2.3zM1500.2 309.7h2.3v3.8h-2.3zM1498.2 313.3h2.3v3.8h-2.3zM1484.2 316.9h2.3v3.8h-2.3zM1494.2 316.9h4.3v3.8h-4.3zM1484.2 320.5h10.3v3.8h-10.3z"/><path fill="#f50" d="M1476.2 40.2h2.3v8.8h-2.3zM1408.2 48.8h2.3v3.8h-2.3zM1410.2 55.9h2.3v3.8h-2.3zM1482.2 55.9h2.3v3.8h-2.3zM1484.2 59.5h2.3v3.8h-2.3zM1486.2 63.1h2.3v3.8h-2.3zM1412.2 66.7h2.3v3.8h-2.3zM1486.2 66.7h2.3v3.8h-2.3zM1486.2 70.2h2.3v3.8h-2.3zM1486.2 73.8h2.3v3.8h-2.3zM1414.2 77.4h2.3v3.8h-2.3zM1484.2 77.4h2.3v3.8h-2.3zM1482.2 81h2.3v3.8h-2.3zM1480.2 84.5h2.3v3.8h-2.3zM1418.2 88.1h2.3v3.8h-2.3zM1478.2 88.1h2.3v3.8h-2.3zM1420.2 91.7h2.3v3.8h-2.3zM1476.2 91.7h2.3v3.8h-2.3zM1422.2 95.2h2.3v3.8h-2.3zM1474.2 95.2h2.3v3.8h-2.3zM1470.2 98.8h2.3v3.8h-2.3zM1466.2 102.4h2.3v3.8h-2.3zM1434.2 106h4.3v3.8h-4.3zM1456.2 106h6.3v3.8h-6.3zM1840.3 181.1h13.3v3.8h-13.3zM1814.3 184.6h2.3v3.8h-2.3zM1788.3 206.1h2.3v3.8h-2.3zM784 277.6h4.3v3.8h-4.3zM796 277.6h6.3v3.8h-6.3zM782 281.1h2.3v3.8h-2.3zM802 281.1h4.3v3.8h-4.3zM1496.2 281.1h8.3v3.8h-8.3zM780 284.7h4.3v3.8h-4.3zM804 284.7h2.3v3.8h-2.3zM1504.2 284.7h2.3v3.8h-2.3zM780 288.3h4.3v3.8h-4.3zM804 288.3h2.3v3.8h-2.3zM1490.2 288.3h2.3v3.8h-2.3zM782 291.9h2.3v3.8h-2.3zM800 291.9h4.3v3.8h-4.3zM1486.2 291.9h2.3v3.8h-2.3zM1506.2 291.9h2.3v3.8h-2.3zM782 295.4h18.3v3.8h-18.3zM1506.2 295.4h2.3v3.8h-2.3zM1482.2 299h2.3v3.8h-2.3zM1506.2 299h2.3v3.8h-2.3zM1828.3 302.6h2.3v3.8h-2.3zM1504.2 306.2h2.3v3.8h-2.3zM1502.2 309.7h2.3v3.8h-2.3zM1500.2 313.3h2.3v3.8h-2.3zM1498.2 316.9h2.3v3.8h-2.3zM1482.2 320.5h2.3v3.8h-2.3zM1496.2 320.5h2.3v3.8h-2.3zM1482.2 324h2.3v3.8h-2.3zM1494.2 324h2.3v3.8h-2.3zM1484.2 327.6h8.3v3.8h-8.3z"/><path fill="#ff9400" d="M1478.2 40.2h2.3v8.8h-2.3zM1406.2 48.8h2.3v3.8h-2.3zM1480.2 48.8h2.3v3.8h-2.3zM1484.2 52.4h2.3v3.8h-2.3zM1488.2 55.9h2.3v3.8h-2.3zM1490.2 59.5h2.3v3.8h-2.3zM1492.2 63.1h2.3v3.8h-2.3zM1410.2 66.7h2.3v3.8h-2.3zM1494.2 66.7h2.3v3.8h-2.3zM1492.2 70.2h4.3v3.8h-4.3zM1492.2 73.8h2.3v3.8h-2.3zM1490.2 77.4h4.3v3.8h-4.3zM1412.2 81h2.3v3.8h-2.3zM1490.2 81h2.3v3.8h-2.3zM1488.2 84.5h2.3v3.8h-2.3zM1486.2 88.1h2.3v3.8h-2.3zM1484.2 91.7h2.3v3.8h-2.3zM1480.2 95.2h4.3v3.8h-4.3zM1478.2 98.8h2.3v3.8h-2.3zM1424.2 102.4h2.3v3.8h-2.3zM1474.2 102.4h2.3v3.8h-2.3zM1428.2 106h2.3v3.8h-2.3zM1470.2 106h4.3v3.8h-4.3zM1434.2 109.5h4.3v3.8h-4.3zM1462.2 109.5h6.3v3.8h-6.3zM1812.3 184.6h2.3v3.8h-2.3zM1792.3 198.9h2.3v3.8h-2.3zM1782.3 216.8h2.3v3.8h-2.3zM784 270.4h12.3v3.8h-12.3zM778 274h4.3v3.8h-4.3zM802 274h4.3v3.8h-4.3zM1498.2 274h6.3v3.8h-6.3zM1784.3 274h2.3v3.8h-2.3zM776 277.6h2.3v3.8h-2.3zM808 277.6h2.3v3.8h-2.3zM1494.2 277.6h2.3v3.8h-2.3zM810 281.1h2.3v3.8h-2.3zM810 284.7h2.3v3.8h-2.3zM1488.2 284.7h2.3v3.8h-2.3zM1508.2 284.7h2.3v3.8h-2.3zM1822.3 284.7h2.3v3.8h-2.3zM810 288.3h2.3v3.8h-2.3zM1484.2 288.3h2.3v3.8h-2.3zM1510.2 288.3h2.3v3.8h-2.3zM810 291.9h2.3v3.8h-2.3zM1510.2 291.9h2.3v3.8h-2.3zM808 295.4h2.3v3.8h-2.3zM1510.2 295.4h2.3v3.8h-2.3zM804 299h2.3v3.8h-2.3zM1510.2 299h2.3v3.8h-2.3zM776 302.6h22.3v3.8h-22.3zM1508.2 306.2h2.3v3.8h-2.3zM1506.2 309.7h2.3v3.8h-2.3zM1504.2 313.3h2.3v3.8h-2.3zM1502.2 316.9h2.3v3.8h-2.3zM1500.2 320.5h2.3v3.8h-2.3zM1498.2 324h2.3v3.8h-2.3zM1496.2 327.6h2.3v3.8h-2.3zM1494.2 331.2h2.3v3.8h-2.3zM1482.2 334.8h2.3v3.8h-2.3zM1490.2 334.8h2.3v3.8h-2.3zM1484.2 338.3h4.3v3.8h-4.3z"/><path fill="#ffab00" d="M1480.2 40.2h2.3v8.8h-2.3zM1482.2 48.8h2.3v3.8h-2.3zM1406.2 52.4h2.3v3.8h-2.3zM1486.2 52.4h2.3v3.8h-2.3zM1490.2 55.9h2.3v3.8h-2.3zM1408.2 59.5h2.3v3.8h-2.3zM1492.2 59.5h4.3v3.8h-4.3zM1494.2 63.1h4.3v3.8h-4.3zM1496.2 66.7h2.3v3.8h-2.3zM1410.2 70.2h2.3v3.8h-2.3zM1496.2 70.2h2.3v3.8h-2.3zM1494.2 73.8h4.3v3.8h-4.3zM1494.2 77.4h2.3v3.8h-2.3zM1492.2 81h2.3v3.8h-2.3zM1412.2 84.5h2.3v3.8h-2.3zM1490.2 84.5h2.3v3.8h-2.3zM1414.2 88.1h2.3v3.8h-2.3zM1488.2 88.1h2.3v3.8h-2.3zM1416.2 91.7h2.3v3.8h-2.3zM1486.2 91.7h2.3v3.8h-2.3zM1418.2 95.2h2.3v3.8h-2.3zM1484.2 95.2h2.3v3.8h-2.3zM1420.2 98.8h2.3v3.8h-2.3zM1480.2 98.8h4.3v3.8h-4.3zM1422.2 102.4h2.3v3.8h-2.3zM1476.2 102.4h4.3v3.8h-4.3zM1426.2 106h2.3v3.8h-2.3zM1474.2 106h2.3v3.8h-2.3zM1430.2 109.5h4.3v3.8h-4.3zM1468.2 109.5h4.3v3.8h-4.3zM1440.2 113.1h24.3v3.8h-24.3zM1826.3 181.1h2.3v3.8h-2.3zM1804.3 188.2h2.3v3.8h-2.3zM780 270.4h4.3v3.8h-4.3zM796 270.4h4.3v3.8h-4.3zM774 274h4.3v3.8h-4.3zM806 274h2.3v3.8h-2.3zM1496.2 274h2.3v3.8h-2.3zM1504.2 274h2.3v3.8h-2.3zM772 277.6h2.3v3.8h-2.3zM810 277.6h2.3v3.8h-2.3zM1492.2 277.6h2.3v3.8h-2.3zM1506.2 277.6h2.3v3.8h-2.3zM772 281.1h2.3v3.8h-2.3zM812 281.1h2.3v3.8h-2.3zM1490.2 281.1h2.3v3.8h-2.3zM1508.2 281.1h2.3v3.8h-2.3zM772 284.7h2.3v3.8h-2.3zM812 284.7h2.3v3.8h-2.3zM1486.2 284.7h2.3v3.8h-2.3zM1510.2 284.7h2.3v3.8h-2.3zM772 288.3h2.3v3.8h-2.3zM812 288.3h2.3v3.8h-2.3zM812 291.9h2.3v3.8h-2.3zM1482.2 291.9h2.3v3.8h-2.3zM1512.2 291.9h2.3v3.8h-2.3zM810 295.4h2.3v3.8h-2.3zM1512.2 295.4h2.3v3.8h-2.3zM806 299h4.3v3.8h-4.3zM1826.3 299h2.3v3.8h-2.3zM774 302.6h2.3v3.8h-2.3zM798 302.6h6.3v3.8h-6.3zM1510.2 302.6h2.3v3.8h-2.3zM1480.2 313.3h2.3v3.8h-2.3zM1480.2 316.9h2.3v3.8h-2.3zM1480.2 320.5h2.3v3.8h-2.3zM1500.2 324h2.3v3.8h-2.3zM1498.2 327.6h2.3v3.8h-2.3zM1492.2 334.8h2.3v3.8h-2.3zM1482.2 338.3h2.3v3.8h-2.3zM1488.2 338.3h4.3v3.8h-4.3zM1484.2 341.9h2.3v3.8h-2.3z"/><path fill="#feed00" d="M1484.2 40.2h2.3v8.8h-2.3zM1404.2 48.8h2.3v3.8h-2.3zM1488.2 48.8h4.3v3.8h-4.3zM1494.2 52.4h4.3v3.8h-4.3zM1500.2 55.9h2.3v3.8h-2.3zM1406.2 59.5h2.3v3.8h-2.3zM1502.2 59.5h2.3v3.8h-2.3zM1504.2 63.1h2.3v3.8h-2.3zM1504.2 66.7h2.3v3.8h-2.3zM1408.2 70.2h2.3v3.8h-2.3zM1504.2 70.2h2.3v3.8h-2.3zM1504.2 73.8h2.3v3.8h-2.3zM1502.2 77.4h2.3v3.8h-2.3zM1410.2 81h2.3v3.8h-2.3zM1500.2 81h4.3v3.8h-4.3zM1500.2 84.5h2.3v3.8h-2.3zM1498.2 88.1h2.3v3.8h-2.3zM1412.2 91.7h2.3v3.8h-2.3zM1496.2 91.7h4.3v3.8h-4.3zM1414.2 95.2h2.3v3.8h-2.3zM1494.2 95.2h4.3v3.8h-4.3zM1416.2 98.8h2.3v3.8h-2.3zM1490.2 98.8h6.3v3.8h-6.3zM1418.2 102.4h2.3v3.8h-2.3zM1488.2 102.4h4.3v3.8h-4.3zM1420.2 106h2.3v3.8h-2.3zM1482.2 106h6.3v3.8h-6.3zM1424.2 109.5h2.3v3.8h-2.3zM1478.2 109.5h4.3v3.8h-4.3zM1428.2 113.1h2.3v3.8h-2.3zM1474.2 113.1h4.3v3.8h-4.3zM1432.2 116.7h6.3v3.8h-6.3zM1468.2 116.7h4.3v3.8h-4.3zM1820.3 181.1h4.3v3.8h-4.3zM1802.3 188.2h2.3v3.8h-2.3zM1794.3 195.3h2.3v3.8h-2.3zM1790.3 198.9h2.3v3.8h-2.3zM1788.3 202.5h2.3v3.8h-2.3zM1782.3 213.2h2.3v3.8h-2.3zM1780.3 223.9h2.3v3.8h-2.3zM774 266.8h6.3v3.8h-6.3zM798 266.8h4.3v3.8h-4.3zM1498.2 266.8h6.3v3.8h-6.3zM806 270.4h4.3v3.8h-4.3zM1506.2 270.4h2.3v3.8h-2.3zM812 274h2.3v3.8h-2.3zM1510.2 274h2.3v3.8h-2.3zM816 277.6h2.3v3.8h-2.3zM1488.2 277.6h2.3v3.8h-2.3zM1512.2 277.6h2.3v3.8h-2.3zM818 281.1h2.3v3.8h-2.3zM1514.2 281.1h4.3v3.8h-4.3zM818 284.7h4.3v3.8h-4.3zM1516.2 284.7h2.3v3.8h-2.3zM820 288.3h2.3v3.8h-2.3zM1482.2 288.3h2.3v3.8h-2.3zM1516.2 288.3h4.3v3.8h-4.3zM820 291.9h4.3v3.8h-4.3zM1516.2 291.9h4.3v3.8h-4.3zM818 295.4h6.3v3.8h-6.3zM1516.2 295.4h2.3v3.8h-2.3zM816 299h4.3v3.8h-4.3zM1516.2 299h2.3v3.8h-2.3zM772 302.6h2.3v3.8h-2.3zM812 302.6h4.3v3.8h-4.3zM1514.2 302.6h2.3v3.8h-2.3zM804 306.2h4.3v3.8h-4.3zM784 309.7h4.3v3.8h-4.3zM1506.2 316.9h2.3v3.8h-2.3zM1480.2 334.8h2.3v3.8h-2.3zM1494.2 338.3h2.3v3.8h-2.3zM1492.2 341.9h2.3v3.8h-2.3zM1482.2 345.5h2.3v3.8h-2.3zM1488.2 345.5h4.3v3.8h-4.3zM1484.2 349.1h2.3v3.8h-2.3z"/><path fill="#ebff0c" d="M1486.2 40.2h4.3v8.8h-4.3zM1492.2 48.8h4.3v3.8h-4.3zM1404.2 52.4h2.3v3.8h-2.3zM1498.2 52.4h4.3v3.8h-4.3zM1502.2 55.9h4.3v3.8h-4.3zM1504.2 59.5h4.3v3.8h-4.3zM1406.2 63.1h2.3v3.8h-2.3zM1506.2 63.1h2.3v3.8h-2.3zM1506.2 66.7h2.3v3.8h-2.3zM1506.2 70.2h2.3v3.8h-2.3zM1408.2 73.8h2.3v3.8h-2.3zM1506.2 73.8h2.3v3.8h-2.3zM1504.2 77.4h4.3v3.8h-4.3zM1504.2 81h2.3v3.8h-2.3zM1410.2 84.5h2.3v3.8h-2.3zM1502.2 84.5h2.3v3.8h-2.3zM1500.2 88.1h4.3v3.8h-4.3zM1500.2 91.7h2.3v3.8h-2.3zM1498.2 95.2h2.3v3.8h-2.3zM1414.2 98.8h2.3v3.8h-2.3zM1496.2 98.8h4.3v3.8h-4.3zM1416.2 102.4h2.3v3.8h-2.3zM1492.2 102.4h4.3v3.8h-4.3zM1418.2 106h2.3v3.8h-2.3zM1488.2 106h6.3v3.8h-6.3zM1422.2 109.5h2.3v3.8h-2.3zM1482.2 109.5h8.3v3.8h-8.3zM1424.2 113.1h4.3v3.8h-4.3zM1478.2 113.1h4.3v3.8h-4.3zM1428.2 116.7h4.3v3.8h-4.3zM1472.2 116.7h4.3v3.8h-4.3zM1434.2 120.3h36.3v3.8h-36.3zM1818.3 181.1h2.3v3.8h-2.3zM1808.3 184.6h2.3v3.8h-2.3zM1780.3 216.8h2.3v3.8h-2.3zM780 263.3h14.3v3.8h-14.3zM772 266.8h2.3v3.8h-2.3zM802 266.8h4.3v3.8h-4.3zM1494.2 266.8h4.3v3.8h-4.3zM1504.2 266.8h2.3v3.8h-2.3zM810 270.4h2.3v3.8h-2.3zM1492.2 270.4h2.3v3.8h-2.3zM1508.2 270.4h2.3v3.8h-2.3zM814 274h2.3v3.8h-2.3zM1490.2 274h2.3v3.8h-2.3zM1512.2 274h2.3v3.8h-2.3zM818 277.6h2.3v3.8h-2.3zM1514.2 277.6h4.3v3.8h-4.3zM820 281.1h2.3v3.8h-2.3zM1484.2 281.1h2.3v3.8h-2.3zM1518.2 281.1h4.3v3.8h-4.3zM822 284.7h4.3v3.8h-4.3zM1518.2 284.7h4.3v3.8h-4.3zM822 288.3h6.3v3.8h-6.3zM1520.2 288.3h2.3v3.8h-2.3zM1822.3 288.3h2.3v3.8h-2.3zM824 291.9h12.3v3.8h-12.3zM1520.2 291.9h2.3v3.8h-2.3zM824 295.4h34.3v3.8h-34.3zM1480.2 295.4h2.3v3.8h-2.3zM1518.2 295.4h2.3v3.8h-2.3zM1824.3 295.4h2.3v3.8h-2.3zM820 299h40.3v3.8h-40.3zM1518.2 299h2.3v3.8h-2.3zM816 302.6h44.3v3.8h-44.3zM1516.2 302.6h2.3v3.8h-2.3zM808 306.2h6.3v3.8h-6.3zM828 306.2h30.3v3.8h-30.3zM1514.2 306.2h2.3v3.8h-2.3zM1828.3 306.2h2.3v3.8h-2.3zM774 309.7h10.3v3.8h-10.3zM788 309.7h10.3v3.8h-10.3zM1512.2 309.7h2.3v3.8h-2.3zM1510.2 313.3h2.3v3.8h-2.3zM1508.2 316.9h2.3v3.8h-2.3zM1506.2 320.5h2.3v3.8h-2.3zM1504.2 324h2.3v3.8h-2.3zM1502.2 327.6h2.3v3.8h-2.3zM1500.2 331.2h2.3v3.8h-2.3zM1498.2 334.8h2.3v3.8h-2.3zM1480.2 338.3h2.3v3.8h-2.3zM1496.2 338.3h2.3v3.8h-2.3zM1494.2 341.9h2.3v3.8h-2.3zM1492.2 345.5h2.3v3.8h-2.3zM1482.2 349.1h2.3v3.8h-2.3zM1486.2 349.1h4.3v3.8h-4.3z"/><path fill="#c7ff30" d="M1496.2 40.2h8.3v8.8h-8.3zM1402.2 48.8h2.3v3.8h-2.3zM1502.2 48.8h6.3v3.8h-6.3zM1506.2 52.4h4.3v3.8h-4.3zM1508.2 55.9h4.3v3.8h-4.3zM1404.2 59.5h2.3v3.8h-2.3zM1510.2 59.5h4.3v3.8h-4.3zM1512.2 63.1h4.3v3.8h-4.3zM1512.2 66.7h6.3v3.8h-6.3zM1406.2 70.2h2.3v3.8h-2.3zM1512.2 70.2h6.3v3.8h-6.3zM1512.2 73.8h6.3v3.8h-6.3zM1510.2 77.4h8.3v3.8h-8.3zM1408.2 81h2.3v3.8h-2.3zM1510.2 81h6.3v3.8h-6.3zM1508.2 84.5h8.3v3.8h-8.3zM1508.2 88.1h6.3v3.8h-6.3zM1410.2 91.7h2.3v3.8h-2.3zM1506.2 91.7h8.3v3.8h-8.3zM1506.2 95.2h6.3v3.8h-6.3zM1412.2 98.8h2.3v3.8h-2.3zM1504.2 98.8h6.3v3.8h-6.3zM1414.2 102.4h2.3v3.8h-2.3zM1502.2 102.4h6.3v3.8h-6.3zM1416.2 106h2.3v3.8h-2.3zM1498.2 106h8.3v3.8h-8.3zM1418.2 109.5h2.3v3.8h-2.3zM1496.2 109.5h6.3v3.8h-6.3zM1420.2 113.1h2.3v3.8h-2.3zM1490.2 113.1h6.3v3.8h-6.3zM1424.2 116.7h2.3v3.8h-2.3zM1482.2 116.7h8.3v3.8h-8.3zM1426.2 120.3h4.3v3.8h-4.3zM1476.2 120.3h4.3v3.8h-4.3zM1430.2 123.8h6.3v3.8h-6.3zM1468.2 123.8h6.3v3.8h-6.3zM1438.2 127.4h24.3v3.8h-24.3zM1844.3 177.5h9.3v3.8h-9.3zM1814.3 181.1h2.3v3.8h-2.3zM1806.3 184.6h2.3v3.8h-2.3zM1792.3 195.3h2.3v3.8h-2.3zM1428.2 202.5h6.3v3.8h-6.3zM1786.3 202.5h2.3v3.8h-2.3zM1426.2 206.1h10.3v3.8h-10.3zM1784.3 206.1h2.3v3.8h-2.3zM1426.2 209.6h10.3v3.8h-10.3zM1782.3 209.6h2.3v3.8h-2.3zM1424.2 213.2h12.3v3.8h-12.3zM1426.2 216.8h6.3v3.8h-6.3zM1778.3 220.4h2.3v3.8h-2.3zM1782.3 227.5h2.3v3.8h-2.3zM1782.3 231.1h2.3v3.8h-2.3zM1782.3 234.7h2.3v3.8h-2.3zM1782.3 238.2h2.3v3.8h-2.3zM1782.3 241.8h2.3v3.8h-2.3zM1782.3 245.4h2.3v3.8h-2.3zM1782.3 249h2.3v3.8h-2.3zM1782.3 252.6h2.3v3.8h-2.3zM1782.3 256.1h2.3v3.8h-2.3zM778 259.7h14.3v3.8h-14.3zM1782.3 259.7h2.3v3.8h-2.3zM772 263.3h2.3v3.8h-2.3zM800 263.3h2.3v3.8h-2.3zM1494.2 263.3h2.3v3.8h-2.3zM1504.2 263.3h2.3v3.8h-2.3zM1782.3 263.3h2.3v3.8h-2.3zM808 266.8h2.3v3.8h-2.3zM1492.2 266.8h2.3v3.8h-2.3zM1508.2 266.8h4.3v3.8h-4.3zM1782.3 266.8h2.3v3.8h-2.3zM814 270.4h2.3v3.8h-2.3zM1514.2 270.4h4.3v3.8h-4.3zM1782.3 270.4h2.3v3.8h-2.3zM818 274h4.3v3.8h-4.3zM1518.2 274h8.3v3.8h-8.3zM822 277.6h4.3v3.8h-4.3zM1524.2 277.6h6.3v3.8h-6.3zM826 281.1h8.3v3.8h-8.3zM1526.2 281.1h6.3v3.8h-6.3zM832 284.7h28.3v3.8h-28.3zM1482.2 284.7h2.3v3.8h-2.3zM1528.2 284.7h6.3v3.8h-6.3zM858 288.3h6.3v3.8h-6.3zM1526.2 288.3h6.3v3.8h-6.3zM862 291.9h4.3v3.8h-4.3zM1526.2 291.9h6.3v3.8h-6.3zM864 295.4h2.3v3.8h-2.3zM1524.2 295.4h4.3v3.8h-4.3zM864 299h2.3v3.8h-2.3zM1522.2 299h4.3v3.8h-4.3zM864 302.6h4.3v3.8h-4.3zM1520.2 302.6h2.3v3.8h-2.3zM864 306.2h2.3v3.8h-2.3zM1518.2 306.2h2.3v3.8h-2.3zM808 309.7h16.3v3.8h-16.3zM862 309.7h4.3v3.8h-4.3zM1478.2 309.7h2.3v3.8h-2.3zM784 313.3h4.3v3.8h-4.3zM824 313.3h6.3v3.8h-6.3zM860 313.3h6.3v3.8h-6.3zM1478.2 313.3h2.3v3.8h-2.3zM1512.2 313.3h2.3v3.8h-2.3zM1832.3 313.3h21.3v3.8h-21.3zM828 316.9h36.3v3.8h-36.3zM1478.2 316.9h2.3v3.8h-2.3zM1510.2 316.9h2.3v3.8h-2.3zM834 320.5h26.3v3.8h-26.3zM1508.2 320.5h2.3v3.8h-2.3zM1478.2 324h2.3v3.8h-2.3zM1506.2 324h2.3v3.8h-2.3zM1478.2 327.6h2.3v3.8h-2.3zM1504.2 327.6h2.3v3.8h-2.3zM1502.2 331.2h2.3v3.8h-2.3zM1500.2 334.8h2.3v3.8h-2.3zM1498.2 338.3h2.3v3.8h-2.3zM1496.2 341.9h2.3v3.8h-2.3zM1480.2 345.5h2.3v3.8h-2.3zM1494.2 345.5h2.3v3.8h-2.3zM1492.2 349.1h2.3v3.8h-2.3zM1482.2 352.6h2.3v3.8h-2.3zM1488.2 352.6h4.3v3.8h-4.3z"/><path fill="#b4ff43" d="M1504.2 40.2h6.3v8.8h-6.3zM1508.2 48.8h6.3v3.8h-6.3zM1402.2 52.4h2.3v3.8h-2.3zM1510.2 52.4h8.3v3.8h-8.3zM1512.2 55.9h18.3v3.8h-18.3zM1514.2 59.5h20.3v3.8h-20.3zM1404.2 63.1h2.3v3.8h-2.3zM1516.2 63.1h18.3v3.8h-18.3zM1518.2 66.7h16.3v3.8h-16.3zM1518.2 70.2h16.3v3.8h-16.3zM1406.2 73.8h2.3v3.8h-2.3zM1518.2 73.8h14.3v3.8h-14.3zM1518.2 77.4h14.3v3.8h-14.3zM1516.2 81h14.3v3.8h-14.3zM1408.2 84.5h2.3v3.8h-2.3zM1516.2 84.5h14.3v3.8h-14.3zM1514.2 88.1h14.3v3.8h-14.3zM1514.2 91.7h14.3v3.8h-14.3zM1410.2 95.2h2.3v3.8h-2.3zM1512.2 95.2h16.3v3.8h-16.3zM1510.2 98.8h16.3v3.8h-16.3zM1508.2 102.4h16.3v3.8h-16.3zM1506.2 106h18.3v3.8h-18.3zM1416.2 109.5h2.3v3.8h-2.3zM1502.2 109.5h18.3v3.8h-18.3zM1418.2 113.1h2.3v3.8h-2.3zM1496.2 113.1h10.3v3.8h-10.3zM1422.2 116.7h2.3v3.8h-2.3zM1490.2 116.7h8.3v3.8h-8.3zM1424.2 120.3h2.3v3.8h-2.3zM1480.2 120.3h10.3v3.8h-10.3zM1426.2 123.8h4.3v3.8h-4.3zM1474.2 123.8h4.3v3.8h-4.3zM1430.2 127.4h8.3v3.8h-8.3zM1462.2 127.4h10.3v3.8h-10.3zM1438.2 131h16.3v3.8h-16.3zM1830.3 177.5h14.3v3.8h-14.3zM1812.3 181.1h2.3v3.8h-2.3zM1430.2 191.8h6.3v3.8h-6.3zM1426.2 195.3h12.3v3.8h-12.3zM1426.2 198.9h12.3v3.8h-12.3zM1788.3 198.9h2.3v3.8h-2.3zM1424.2 202.5h4.3v3.8h-4.3zM1434.2 202.5h6.3v3.8h-6.3zM1420.2 206.1h6.3v3.8h-6.3zM1436.2 206.1h4.3v3.8h-4.3zM1418.2 209.6h8.3v3.8h-8.3zM1436.2 209.6h4.3v3.8h-4.3zM1418.2 213.2h6.3v3.8h-6.3zM1436.2 213.2h4.3v3.8h-4.3zM1780.3 213.2h2.3v3.8h-2.3zM1418.2 216.8h8.3v3.8h-8.3zM1432.2 216.8h6.3v3.8h-6.3zM1424.2 220.4h10.3v3.8h-10.3zM1778.3 223.9h2.3v3.8h-2.3zM772 259.7h6.3v3.8h-6.3zM792 259.7h6.3v3.8h-6.3zM1496.2 259.7h8.3v3.8h-8.3zM802 263.3h4.3v3.8h-4.3zM1492.2 263.3h2.3v3.8h-2.3zM1506.2 263.3h4.3v3.8h-4.3zM810 266.8h4.3v3.8h-4.3zM1490.2 266.8h2.3v3.8h-2.3zM1512.2 266.8h4.3v3.8h-4.3zM816 270.4h4.3v3.8h-4.3zM1488.2 270.4h2.3v3.8h-2.3zM1518.2 270.4h10.3v3.8h-10.3zM770 274h2.3v3.8h-2.3zM822 274h4.3v3.8h-4.3zM1486.2 274h2.3v3.8h-2.3zM1526.2 274h8.3v3.8h-8.3zM1782.3 274h2.3v3.8h-2.3zM770 277.6h2.3v3.8h-2.3zM826 277.6h8.3v3.8h-8.3zM1484.2 277.6h2.3v3.8h-2.3zM1530.2 277.6h18.3v3.8h-18.3zM770 281.1h2.3v3.8h-2.3zM834 281.1h28.3v3.8h-28.3zM1532.2 281.1h26.3v3.8h-26.3zM1820.3 281.1h2.3v3.8h-2.3zM770 284.7h2.3v3.8h-2.3zM860 284.7h4.3v3.8h-4.3zM1534.2 284.7h26.3v3.8h-26.3zM864 288.3h2.3v3.8h-2.3zM1532.2 288.3h18.3v3.8h-18.3zM866 291.9h2.3v3.8h-2.3zM1480.2 291.9h2.3v3.8h-2.3zM1532.2 291.9h8.3v3.8h-8.3zM1822.3 291.9h2.3v3.8h-2.3zM866 295.4h2.3v3.8h-2.3zM1528.2 295.4h8.3v3.8h-8.3zM866 299h2.3v3.8h-2.3zM1526.2 299h4.3v3.8h-4.3zM1824.3 299h2.3v3.8h-2.3zM868 302.6h2.3v3.8h-2.3zM1522.2 302.6h4.3v3.8h-4.3zM1826.3 302.6h2.3v3.8h-2.3zM866 306.2h4.3v3.8h-4.3zM1478.2 306.2h2.3v3.8h-2.3zM1520.2 306.2h2.3v3.8h-2.3zM866 309.7h4.3v3.8h-4.3zM1516.2 309.7h2.3v3.8h-2.3zM776 313.3h8.3v3.8h-8.3zM788 313.3h12.3v3.8h-12.3zM818 313.3h6.3v3.8h-6.3zM866 313.3h2.3v3.8h-2.3zM1514.2 313.3h2.3v3.8h-2.3zM824 316.9h4.3v3.8h-4.3zM864 316.9h4.3v3.8h-4.3zM1512.2 316.9h2.3v3.8h-2.3zM828 320.5h6.3v3.8h-6.3zM860 320.5h6.3v3.8h-6.3zM830 324h36.3v3.8h-36.3zM834 327.6h28.3v3.8h-28.3zM1478.2 331.2h2.3v3.8h-2.3zM1500.2 338.3h2.3v3.8h-2.3zM1498.2 341.9h2.3v3.8h-2.3zM1496.2 345.5h2.3v3.8h-2.3zM1480.2 349.1h2.3v3.8h-2.3zM1494.2 349.1h2.3v3.8h-2.3zM1492.2 352.6h2.3v3.8h-2.3zM1484.2 356.2h6.3v3.8h-6.3z"/><path fill="#8dff6a" d="M1534.2 40.2h4.3v8.8h-4.3zM1400.2 48.8h2.3v3.8h-2.3zM1536.2 48.8h4.3v3.8h-4.3zM1536.2 52.4h4.3v3.8h-4.3zM1538.2 55.9h2.3v3.8h-2.3zM1538.2 59.5h2.3v3.8h-2.3zM1402.2 63.1h2.3v3.8h-2.3zM1538.2 63.1h2.3v3.8h-2.3zM1130.1 66.7h8.3v3.8h-8.3zM1402.2 66.7h2.3v3.8h-2.3zM1538.2 66.7h2.3v3.8h-2.3zM1128.1 70.2h10.3v3.8h-10.3zM1538.2 70.2h2.3v3.8h-2.3zM1126.1 73.8h12.3v3.8h-12.3zM1404.2 73.8h2.3v3.8h-2.3zM1536.2 73.8h4.3v3.8h-4.3zM1124.1 77.4h14.3v3.8h-14.3zM1404.2 77.4h2.3v3.8h-2.3zM1536.2 77.4h2.3v3.8h-2.3zM1122.1 81h16.3v3.8h-16.3zM1404.2 81h4.3v3.8h-4.3zM1534.2 81h2.3v3.8h-2.3zM1122.1 84.5h14.3v3.8h-14.3zM1406.2 84.5h2.3v3.8h-2.3zM1534.2 84.5h2.3v3.8h-2.3zM1122.1 88.1h14.3v3.8h-14.3zM1532.2 88.1h2.3v3.8h-2.3zM1126.1 91.7h8.3v3.8h-8.3zM1408.2 91.7h2.3v3.8h-2.3zM1532.2 91.7h2.3v3.8h-2.3zM1530.2 95.2h4.3v3.8h-4.3zM1410.2 98.8h2.3v3.8h-2.3zM1530.2 98.8h2.3v3.8h-2.3zM1528.2 102.4h4.3v3.8h-4.3zM1528.2 106h2.3v3.8h-2.3zM1414.2 109.5h2.3v3.8h-2.3zM1526.2 109.5h2.3v3.8h-2.3zM1416.2 113.1h2.3v3.8h-2.3zM1524.2 113.1h2.3v3.8h-2.3zM1418.2 116.7h2.3v3.8h-2.3zM1518.2 116.7h6.3v3.8h-6.3zM1420.2 120.3h2.3v3.8h-2.3zM1498.2 120.3h22.3v3.8h-22.3zM1422.2 123.8h2.3v3.8h-2.3zM1488.2 123.8h12.3v3.8h-12.3zM1424.2 127.4h2.3v3.8h-2.3zM1476.2 127.4h10.3v3.8h-10.3zM1426.2 131h2.3v3.8h-2.3zM1468.2 131h6.3v3.8h-6.3zM1428.2 134.6h8.3v3.8h-8.3zM1452.2 134.6h12.3v3.8h-12.3zM1432.2 138.1h22.3v3.8h-22.3zM1434.2 170.3h6.3v3.8h-6.3zM1430.2 173.9h12.3v3.8h-12.3zM1428.2 177.5h16.3v3.8h-16.3zM1824.3 177.5h4.3v3.8h-4.3zM1426.2 181.1h6.3v3.8h-6.3zM1438.2 181.1h6.3v3.8h-6.3zM1810.3 181.1h2.3v3.8h-2.3zM1424.2 184.6h4.3v3.8h-4.3zM1440.2 184.6h4.3v3.8h-4.3zM1424.2 188.2h2.3v3.8h-2.3zM1440.2 188.2h6.3v3.8h-6.3zM1422.2 191.8h4.3v3.8h-4.3zM1442.2 191.8h4.3v3.8h-4.3zM1420.2 195.3h4.3v3.8h-4.3zM1442.2 195.3h6.3v3.8h-6.3zM1790.3 195.3h2.3v3.8h-2.3zM1418.2 198.9h2.3v3.8h-2.3zM1444.2 198.9h4.3v3.8h-4.3zM1418.2 202.5h2.3v3.8h-2.3zM1444.2 202.5h4.3v3.8h-4.3zM1444.2 206.1h4.3v3.8h-4.3zM1782.3 206.1h2.3v3.8h-2.3zM1444.2 209.6h4.3v3.8h-4.3zM1416.2 213.2h2.3v3.8h-2.3zM1444.2 213.2h4.3v3.8h-4.3zM1416.2 216.8h2.3v3.8h-2.3zM1442.2 216.8h4.3v3.8h-4.3zM1778.3 216.8h2.3v3.8h-2.3zM1440.2 220.4h4.3v3.8h-4.3zM1434.2 223.9h6.3v3.8h-6.3zM1420.2 227.5h12.3v3.8h-12.3zM1780.3 227.5h2.3v3.8h-2.3zM782 252.6h4.3v3.8h-4.3zM1498.2 252.6h4.3v3.8h-4.3zM772 256.1h2.3v3.8h-2.3zM792 256.1h6.3v3.8h-6.3zM1494.2 256.1h2.3v3.8h-2.3zM1502.2 256.1h6.3v3.8h-6.3zM802 259.7h4.3v3.8h-4.3zM1492.2 259.7h2.3v3.8h-2.3zM1508.2 259.7h6.3v3.8h-6.3zM810 263.3h2.3v3.8h-2.3zM1490.2 263.3h2.3v3.8h-2.3zM1514.2 263.3h16.3v3.8h-16.3zM770 266.8h2.3v3.8h-2.3zM816 266.8h4.3v3.8h-4.3zM1488.2 266.8h2.3v3.8h-2.3zM1528.2 266.8h24.3v3.8h-24.3zM824 270.4h4.3v3.8h-4.3zM1486.2 270.4h2.3v3.8h-2.3zM1546.2 270.4h16.3v3.8h-16.3zM832 274h28.3v3.8h-28.3zM1484.2 274h2.3v3.8h-2.3zM1560.2 274h8.3v3.8h-8.3zM862 277.6h2.3v3.8h-2.3zM1566.2 277.6h12.3v3.8h-12.3zM864 281.1h4.3v3.8h-4.3zM1482.2 281.1h2.3v3.8h-2.3zM1570.2 281.1h22.3v3.8h-22.3zM1816.3 281.1h4.3v3.8h-4.3zM866 284.7h2.3v3.8h-2.3zM1576.2 284.7h20.3v3.8h-20.3zM1816.3 284.7h4.3v3.8h-4.3zM868 288.3h2.3v3.8h-2.3zM1590.2 288.3h10.3v3.8h-10.3zM1816.3 288.3h4.3v3.8h-4.3zM770 291.9h2.3v3.8h-2.3zM1594.2 291.9h8.3v3.8h-8.3zM1816.3 291.9h4.3v3.8h-4.3zM870 295.4h2.3v3.8h-2.3zM1548.2 295.4h12.3v3.8h-12.3zM1598.2 295.4h6.3v3.8h-6.3zM1816.3 295.4h4.3v3.8h-4.3zM870 299h2.3v3.8h-2.3zM1478.2 299h2.3v3.8h-2.3zM1536.2 299h12.3v3.8h-12.3zM1556.2 299h18.3v3.8h-18.3zM1600.2 299h6.3v3.8h-6.3zM1818.3 299h4.3v3.8h-4.3zM872 302.6h2.3v3.8h-2.3zM1530.2 302.6h6.3v3.8h-6.3zM1568.2 302.6h12.3v3.8h-12.3zM1600.2 302.6h8.3v3.8h-8.3zM1820.3 302.6h2.3v3.8h-2.3zM872 306.2h2.3v3.8h-2.3zM1524.2 306.2h4.3v3.8h-4.3zM1576.2 306.2h10.3v3.8h-10.3zM1598.2 306.2h10.3v3.8h-10.3zM1822.3 306.2h4.3v3.8h-4.3zM872 309.7h2.3v3.8h-2.3zM1520.2 309.7h4.3v3.8h-4.3zM1582.2 309.7h26.3v3.8h-26.3zM1826.3 309.7h2.3v3.8h-2.3zM872 313.3h2.3v3.8h-2.3zM1476.2 313.3h2.3v3.8h-2.3zM1518.2 313.3h2.3v3.8h-2.3zM1586.2 313.3h20.3v3.8h-20.3zM1828.3 313.3h4.3v3.8h-4.3zM814 316.9h6.3v3.8h-6.3zM872 316.9h2.3v3.8h-2.3zM1476.2 316.9h2.3v3.8h-2.3zM1514.2 316.9h2.3v3.8h-2.3zM1592.2 316.9h10.3v3.8h-10.3zM1832.3 316.9h4.3v3.8h-4.3zM820 320.5h4.3v3.8h-4.3zM870 320.5h4.3v3.8h-4.3zM1476.2 320.5h2.3v3.8h-2.3zM1512.2 320.5h2.3v3.8h-2.3zM1838.3 320.5h15.3v3.8h-15.3zM824 324h2.3v3.8h-2.3zM870 324h4.3v3.8h-4.3zM1476.2 324h2.3v3.8h-2.3zM1510.2 324h2.3v3.8h-2.3zM826 327.6h2.3v3.8h-2.3zM870 327.6h4.3v3.8h-4.3zM1476.2 327.6h2.3v3.8h-2.3zM828 331.2h2.3v3.8h-2.3zM868 331.2h4.3v3.8h-4.3zM1506.2 331.2h2.3v3.8h-2.3zM830 334.8h4.3v3.8h-4.3zM866 334.8h6.3v3.8h-6.3zM1504.2 334.8h2.3v3.8h-2.3zM832 338.3h6.3v3.8h-6.3zM862 338.3h10.3v3.8h-10.3zM1478.2 338.3h2.3v3.8h-2.3zM1502.2 338.3h2.3v3.8h-2.3zM834 341.9h36.3v3.8h-36.3zM1478.2 341.9h2.3v3.8h-2.3zM1500.2 341.9h2.3v3.8h-2.3zM836 345.5h32.3v3.8h-32.3zM1498.2 345.5h2.3v3.8h-2.3zM840 349.1h26.3v3.8h-26.3zM846 352.6h16.3v3.8h-16.3zM1496.2 352.6h2.3v3.8h-2.3zM1480.2 356.2h2.3v3.8h-2.3zM1494.2 356.2h2.3v3.8h-2.3zM1482.2 359.8h2.3v3.8h-2.3zM1488.2 359.8h4.3v3.8h-4.3z"/><path fill="#0038ff" d="M1082.1 48.8h18.3v3.8h-18.3zM1078.1 52.4h26.3v3.8h-26.3zM1076.1 55.9h30.3v3.8h-30.3zM1076.1 59.5h30.3v3.8h-30.3zM1074.1 63.1h34.3v3.8h-34.3zM1074.1 66.7h34.3v3.8h-34.3zM1072.1 70.2h12.3v3.8h-12.3zM1100.1 70.2h8.3v3.8h-8.3zM1072.1 73.8h8.3v3.8h-8.3zM1104.1 73.8h6.3v3.8h-6.3zM1070.1 77.4h8.3v3.8h-8.3zM1106.1 77.4h4.3v3.8h-4.3zM1068.1 81h8.3v3.8h-8.3zM1106.1 81h4.3v3.8h-4.3zM1066.1 84.5h8.3v3.8h-8.3zM1108.1 84.5h4.3v3.8h-4.3zM1060.1 88.1h12.3v3.8h-12.3zM1108.1 88.1h4.3v3.8h-4.3zM1050.1 91.7h18.3v3.8h-18.3zM1108.1 91.7h6.3v3.8h-6.3zM990.1 95.2h74.3v3.8h-74.3zM1110.1 95.2h4.3v3.8h-4.3zM982.1 98.8h78.3v3.8h-78.3zM1110.1 98.8h6.3v3.8h-6.3zM964.1 102.4h92.3v3.8h-92.3zM1114.1 102.4h2.3v3.8h-2.3zM1242.1 102.4h36.3v3.8h-36.3zM956.1 106h94.3v3.8h-94.3zM1234.1 106h52.3v3.8h-52.3zM932.1 109.5h40.3v3.8h-40.3zM1022.1 109.5h22.3v3.8h-22.3zM1116.1 109.5h2.3v3.8h-2.3zM1226.1 109.5h66.3v3.8h-66.3zM926.1 113.1h32.3v3.8h-32.3zM1116.1 113.1h2.3v3.8h-2.3zM1222.1 113.1h16.3v3.8h-16.3zM1274.1 113.1h24.3v3.8h-24.3zM924.1 116.7h8.3v3.8h-8.3zM1214.1 116.7h14.3v3.8h-14.3zM1282.1 116.7h32.3v3.8h-32.3zM766 120.3h56.3v3.8h-56.3zM920.1 120.3h6.3v3.8h-6.3zM1118.1 120.3h2.3v3.8h-2.3zM1206.1 120.3h16.3v3.8h-16.3zM1284.2 120.3h32.3v3.8h-32.3zM762 123.8h98.3v3.8h-98.3zM918.1 123.8h6.3v3.8h-6.3zM1200.1 123.8h16.3v3.8h-16.3zM1288.2 123.8h30.3v3.8h-30.3zM1368.2 123.8h26.3v3.8h-26.3zM758 127.4h10.3v3.8h-10.3zM818 127.4h52.3v3.8h-52.3zM914.1 127.4h8.3v3.8h-8.3zM1194.1 127.4h16.3v3.8h-16.3zM1292.2 127.4h28.3v3.8h-28.3zM1364.2 127.4h34.3v3.8h-34.3zM1560.2 127.4h18.3v3.8h-18.3zM758 131h6.3v3.8h-6.3zM824 131h54.3v3.8h-54.3zM906 131h12.3v3.8h-12.3zM1120.1 131h2.3v3.8h-2.3zM1190.1 131h12.3v3.8h-12.3zM1296.2 131h26.3v3.8h-26.3zM1362.2 131h38.3v3.8h-38.3zM1552.2 131h32.3v3.8h-32.3zM756 134.6h8.3v3.8h-8.3zM828 134.6h86.3v3.8h-86.3zM1120.1 134.6h2.3v3.8h-2.3zM1186.1 134.6h10.3v3.8h-10.3zM1314.2 134.6h12.3v3.8h-12.3zM1358.2 134.6h14.3v3.8h-14.3zM1394.2 134.6h12.3v3.8h-12.3zM1550.2 134.6h42.3v3.8h-42.3zM752 138.1h10.3v3.8h-10.3zM834 138.1h76.3v3.8h-76.3zM1182.1 138.1h10.3v3.8h-10.3zM1318.2 138.1h10.3v3.8h-10.3zM1352.2 138.1h14.3v3.8h-14.3zM1398.2 138.1h8.3v3.8h-8.3zM1548.2 138.1h72.3v3.8h-72.3zM715 141.7h45.3v3.8h-45.3zM1122.1 141.7h2.3v3.8h-2.3zM1178.1 141.7h10.3v3.8h-10.3zM1320.2 141.7h14.3v3.8h-14.3zM1342.2 141.7h18.3v3.8h-18.3zM1400.2 141.7h8.3v3.8h-8.3zM1548.2 141.7h86.3v3.8h-86.3zM715 145.3h43.3v3.8h-43.3zM1122.1 145.3h2.3v3.8h-2.3zM1172.1 145.3h10.3v3.8h-10.3zM1322.2 145.3h32.3v3.8h-32.3zM1400.2 145.3h8.3v3.8h-8.3zM1546.2 145.3h112.3v3.8h-112.3zM715 148.9h39.3v3.8h-39.3zM1124.1 148.9h4.3v3.8h-4.3zM1166.1 148.9h10.3v3.8h-10.3zM1324.2 148.9h26.3v3.8h-26.3zM1402.2 148.9h6.3v3.8h-6.3zM1546.2 148.9h120.3v3.8h-120.3zM1126.1 152.4h46.3v3.8h-46.3zM1326.2 152.4h18.3v3.8h-18.3zM1402.2 152.4h6.3v3.8h-6.3zM1546.2 152.4h78.3v3.8h-78.3zM1658.2 152.4h8.3v3.8h-8.3zM1132.1 156h34.3v3.8h-34.3zM1324.2 156h16.3v3.8h-16.3zM1402.2 156h6.3v3.8h-6.3zM1548.2 156h74.3v3.8h-74.3zM1660.2 156h6.3v3.8h-6.3zM1324.2 159.6h14.3v3.8h-14.3zM1402.2 159.6h8.3v3.8h-8.3zM1554.2 159.6h28.3v3.8h-28.3zM1594.2 159.6h26.3v3.8h-26.3zM1660.2 159.6h6.3v3.8h-6.3zM1322.2 163.2h16.3v3.8h-16.3zM1404.2 163.2h6.3v3.8h-6.3zM1608.2 163.2h14.3v3.8h-14.3zM1660.2 163.2h6.3v3.8h-6.3zM1318.2 166.8h20.3v3.8h-20.3zM1404.2 166.8h6.3v3.8h-6.3zM1612.2 166.8h10.3v3.8h-10.3zM1660.2 166.8h6.3v3.8h-6.3zM1312.2 170.3h28.3v3.8h-28.3zM1404.2 170.3h6.3v3.8h-6.3zM1614.2 170.3h10.3v3.8h-10.3zM1660.2 170.3h6.3v3.8h-6.3zM1276.1 173.9h66.3v3.8h-66.3zM1404.2 173.9h6.3v3.8h-6.3zM1618.2 173.9h6.3v3.8h-6.3zM1660.2 173.9h4.3v3.8h-4.3zM1270.1 177.5h54.3v3.8h-54.3zM1332.2 177.5h12.3v3.8h-12.3zM1404.2 177.5h6.3v3.8h-6.3zM1620.2 177.5h8.3v3.8h-8.3zM1658.2 177.5h6.3v3.8h-6.3zM1264.1 181.1h14.3v3.8h-14.3zM1304.2 181.1h12.3v3.8h-12.3zM1336.2 181.1h12.3v3.8h-12.3zM1402.2 181.1h8.3v3.8h-8.3zM1624.2 181.1h6.3v3.8h-6.3zM1656.2 181.1h6.3v3.8h-6.3zM715 184.6h191.3v3.8h-191.3zM1258.1 184.6h14.3v3.8h-14.3zM1340.2 184.6h12.3v3.8h-12.3zM1402.2 184.6h8.3v3.8h-8.3zM1626.2 184.6h8.3v3.8h-8.3zM1654.2 184.6h6.3v3.8h-6.3zM715 188.2h163.3v3.8h-163.3zM898 188.2h14.3v3.8h-14.3zM1252.1 188.2h14.3v3.8h-14.3zM1346.2 188.2h12.3v3.8h-12.3zM1398.2 188.2h10.3v3.8h-10.3zM1630.2 188.2h28.3v3.8h-28.3zM715 191.8h151.3v3.8h-151.3zM908 191.8h18.3v3.8h-18.3zM1222.1 191.8h40.3v3.8h-40.3zM1350.2 191.8h56.3v3.8h-56.3zM1634.2 191.8h22.3v3.8h-22.3zM715 195.3h97.3v3.8h-97.3zM914.1 195.3h28.3v3.8h-28.3zM1218.1 195.3h42.3v3.8h-42.3zM1354.2 195.3h50.3v3.8h-50.3zM924.1 198.9h22.3v3.8h-22.3zM1068.1 198.9h46.3v3.8h-46.3zM1216.1 198.9h40.3v3.8h-40.3zM1358.2 198.9h44.3v3.8h-44.3zM938.1 202.5h14.3v3.8h-14.3zM1066.1 202.5h50.3v3.8h-50.3zM1216.1 202.5h38.3v3.8h-38.3zM946.1 206.1h12.3v3.8h-12.3zM1062.1 206.1h54.3v3.8h-54.3zM1214.1 206.1h36.3v3.8h-36.3zM952.1 209.6h10.3v3.8h-10.3zM1058.1 209.6h60.3v3.8h-60.3zM1214.1 209.6h12.3v3.8h-12.3zM958.1 213.2h10.3v3.8h-10.3zM1054.1 213.2h66.3v3.8h-66.3zM1212.1 213.2h8.3v3.8h-8.3zM960.1 216.8h16.3v3.8h-16.3zM1050.1 216.8h70.3v3.8h-70.3zM1212.1 216.8h6.3v3.8h-6.3zM964.1 220.4h16.3v3.8h-16.3zM1050.1 220.4h70.3v3.8h-70.3zM1212.1 220.4h4.3v3.8h-4.3zM966.1 223.9h18.3v3.8h-18.3zM1048.1 223.9h74.3v3.8h-74.3zM1212.1 223.9h4.3v3.8h-4.3zM970.1 227.5h18.3v3.8h-18.3zM1048.1 227.5h74.3v3.8h-74.3zM1210.1 227.5h6.3v3.8h-6.3zM976.1 231.1h16.3v3.8h-16.3zM1048.1 231.1h74.3v3.8h-74.3zM1210.1 231.1h4.3v3.8h-4.3zM982.1 234.7h14.3v3.8h-14.3zM1048.1 234.7h74.3v3.8h-74.3zM1210.1 234.7h4.3v3.8h-4.3zM986.1 238.2h12.3v3.8h-12.3zM1048.1 238.2h74.3v3.8h-74.3zM1210.1 238.2h4.3v3.8h-4.3zM988.1 241.8h10.3v3.8h-10.3zM1050.1 241.8h72.3v3.8h-72.3zM1210.1 241.8h4.3v3.8h-4.3zM988.1 245.4h12.3v3.8h-12.3zM1052.1 245.4h68.3v3.8h-68.3zM1210.1 245.4h4.3v3.8h-4.3zM988.1 249h14.3v3.8h-14.3zM1054.1 249h64.3v3.8h-64.3zM1210.1 249h4.3v3.8h-4.3zM988.1 252.6h20.3v3.8h-20.3zM1058.1 252.6h60.3v3.8h-60.3zM1210.1 252.6h4.3v3.8h-4.3zM715 256.1h41.3v3.8h-41.3zM990.1 256.1h26.3v3.8h-26.3zM1062.1 256.1h54.3v3.8h-54.3zM1210.1 256.1h4.3v3.8h-4.3zM715 259.7h43.3v3.8h-43.3zM994.1 259.7h26.3v3.8h-26.3zM1068.1 259.7h44.3v3.8h-44.3zM1210.1 259.7h4.3v3.8h-4.3zM715 263.3h43.3v3.8h-43.3zM1010.1 263.3h14.3v3.8h-14.3zM1208.1 263.3h4.3v3.8h-4.3zM715 266.8h43.3v3.8h-43.3zM1018.1 266.8h8.3v3.8h-8.3zM1208.1 266.8h4.3v3.8h-4.3zM715 270.4h43.3v3.8h-43.3zM1020.1 270.4h8.3v3.8h-8.3zM1208.1 270.4h4.3v3.8h-4.3zM715 274h43.3v3.8h-43.3zM1022.1 274h10.3v3.8h-10.3zM1140.1 274h28.3v3.8h-28.3zM1208.1 274h2.3v3.8h-2.3zM715 277.6h43.3v3.8h-43.3zM1026.1 277.6h16.3v3.8h-16.3zM1132.1 277.6h40.3v3.8h-40.3zM1206.1 277.6h4.3v3.8h-4.3zM715 281.1h43.3v3.8h-43.3zM1028.1 281.1h18.3v3.8h-18.3zM1128.1 281.1h46.3v3.8h-46.3zM1206.1 281.1h4.3v3.8h-4.3zM715 284.7h41.3v3.8h-41.3zM1032.1 284.7h16.3v3.8h-16.3zM1124.1 284.7h20.3v3.8h-20.3zM1164.1 284.7h10.3v3.8h-10.3zM1204.1 284.7h6.3v3.8h-6.3zM715 288.3h41.3v3.8h-41.3zM1040.1 288.3h10.3v3.8h-10.3zM1124.1 288.3h16.3v3.8h-16.3zM1166.1 288.3h10.3v3.8h-10.3zM1204.1 288.3h4.3v3.8h-4.3zM715 291.9h39.3v3.8h-39.3zM1044.1 291.9h10.3v3.8h-10.3zM1122.1 291.9h14.3v3.8h-14.3zM1166.1 291.9h12.3v3.8h-12.3zM1202.1 291.9h6.3v3.8h-6.3zM715 295.4h35.3v3.8h-35.3zM1046.1 295.4h12.3v3.8h-12.3zM1122.1 295.4h12.3v3.8h-12.3zM1168.1 295.4h16.3v3.8h-16.3zM1198.1 295.4h10.3v3.8h-10.3zM1048.1 299h20.3v3.8h-20.3zM1122.1 299h12.3v3.8h-12.3zM1168.1 299h40.3v3.8h-40.3zM1048.1 302.6h22.3v3.8h-22.3zM1122.1 302.6h12.3v3.8h-12.3zM1170.1 302.6h38.3v3.8h-38.3zM1248.1 302.6h12.3v3.8h-12.3zM1050.1 306.2h20.3v3.8h-20.3zM1124.1 306.2h12.3v3.8h-12.3zM1170.1 306.2h38.3v3.8h-38.3zM1242.1 306.2h22.3v3.8h-22.3zM1052.1 309.7h18.3v3.8h-18.3zM1126.1 309.7h12.3v3.8h-12.3zM1172.1 309.7h42.3v3.8h-42.3zM1236.1 309.7h8.3v3.8h-8.3zM1262.1 309.7h6.3v3.8h-6.3zM1054.1 313.3h16.3v3.8h-16.3zM1128.1 313.3h12.3v3.8h-12.3zM1176.1 313.3h60.3v3.8h-60.3zM1266.1 313.3h4.3v3.8h-4.3zM932.1 316.9h8.3v3.8h-8.3zM1058.1 316.9h12.3v3.8h-12.3zM1130.1 316.9h12.3v3.8h-12.3zM1194.1 316.9h18.3v3.8h-18.3zM1268.1 316.9h2.3v3.8h-2.3zM1388.2 316.9h20.3v3.8h-20.3zM924.1 320.5h6.3v3.8h-6.3zM940.1 320.5h8.3v3.8h-8.3zM1060.1 320.5h8.3v3.8h-8.3zM1132.1 320.5h14.3v3.8h-14.3zM1198.1 320.5h12.3v3.8h-12.3zM1270.1 320.5h2.3v3.8h-2.3zM1368.2 320.5h16.3v3.8h-16.3zM1410.2 320.5h6.3v3.8h-6.3zM1686.3 320.5h32.3v3.8h-32.3zM922.1 324h4.3v3.8h-4.3zM946.1 324h10.3v3.8h-10.3zM1058.1 324h10.3v3.8h-10.3zM1134.1 324h38.3v3.8h-38.3zM1198.1 324h12.3v3.8h-12.3zM1270.1 324h2.3v3.8h-2.3zM1364.2 324h6.3v3.8h-6.3zM1418.2 324h12.3v3.8h-12.3zM1672.3 324h14.3v3.8h-14.3zM1718.3 324h8.3v3.8h-8.3zM920.1 327.6h4.3v3.8h-4.3zM952.1 327.6h14.3v3.8h-14.3zM1056.1 327.6h12.3v3.8h-12.3zM1136.1 327.6h48.3v3.8h-48.3zM1194.1 327.6h14.3v3.8h-14.3zM1272.1 327.6h2.3v3.8h-2.3zM1362.2 327.6h4.3v3.8h-4.3zM1426.2 327.6h10.3v3.8h-10.3zM1544.2 327.6h8.3v3.8h-8.3zM1668.3 327.6h6.3v3.8h-6.3zM1726.3 327.6h6.3v3.8h-6.3zM918.1 331.2h4.3v3.8h-4.3zM960.1 331.2h14.3v3.8h-14.3zM1054.1 331.2h14.3v3.8h-14.3zM1140.1 331.2h70.3v3.8h-70.3zM1272.1 331.2h4.3v3.8h-4.3zM1360.2 331.2h4.3v3.8h-4.3zM1432.2 331.2h8.3v3.8h-8.3zM1536.2 331.2h8.3v3.8h-8.3zM1552.2 331.2h6.3v3.8h-6.3zM1666.3 331.2h4.3v3.8h-4.3zM1732.3 331.2h6.3v3.8h-6.3zM758 334.8h16.3v3.8h-16.3zM918.1 334.8h2.3v3.8h-2.3zM968.1 334.8h44.3v3.8h-44.3zM1052.1 334.8h14.3v3.8h-14.3zM1148.1 334.8h62.3v3.8h-62.3zM1274.1 334.8h2.3v3.8h-2.3zM1360.2 334.8h2.3v3.8h-2.3zM1436.2 334.8h8.3v3.8h-8.3zM1532.2 334.8h4.3v3.8h-4.3zM1558.2 334.8h2.3v3.8h-2.3zM1664.3 334.8h2.3v3.8h-2.3zM1736.3 334.8h6.3v3.8h-6.3zM756 338.3h6.3v3.8h-6.3zM776 338.3h26.3v3.8h-26.3zM916.1 338.3h4.3v3.8h-4.3zM976.1 338.3h42.3v3.8h-42.3zM1050.1 338.3h16.3v3.8h-16.3zM1170.1 338.3h40.3v3.8h-40.3zM1274.1 338.3h4.3v3.8h-4.3zM1358.2 338.3h4.3v3.8h-4.3zM1440.2 338.3h8.3v3.8h-8.3zM1528.2 338.3h4.3v3.8h-4.3zM1560.2 338.3h4.3v3.8h-4.3zM1662.3 338.3h2.3v3.8h-2.3zM1738.3 338.3h8.3v3.8h-8.3zM756 341.9h4.3v3.8h-4.3zM802 341.9h4.3v3.8h-4.3zM914.1 341.9h4.3v3.8h-4.3zM1012.1 341.9h8.3v3.8h-8.3zM1050.1 341.9h14.3v3.8h-14.3zM1174.1 341.9h34.3v3.8h-34.3zM1276.1 341.9h2.3v3.8h-2.3zM1358.2 341.9h4.3v3.8h-4.3zM1444.2 341.9h6.3v3.8h-6.3zM1526.2 341.9h4.3v3.8h-4.3zM1562.2 341.9h2.3v3.8h-2.3zM1660.2 341.9h2.3v3.8h-2.3zM1742.3 341.9h12.3v3.8h-12.3zM756 345.5h4.3v3.8h-4.3zM804 345.5h4.3v3.8h-4.3zM914.1 345.5h4.3v3.8h-4.3zM1016.1 345.5h6.3v3.8h-6.3zM1050.1 345.5h12.3v3.8h-12.3zM1180.1 345.5h26.3v3.8h-26.3zM1276.1 345.5h4.3v3.8h-4.3zM1356.2 345.5h4.3v3.8h-4.3zM1446.2 345.5h6.3v3.8h-6.3zM1524.2 345.5h4.3v3.8h-4.3zM1564.2 345.5h2.3v3.8h-2.3zM1658.2 345.5h4.3v3.8h-4.3zM1746.3 345.5h10.3v3.8h-10.3zM1836.3 345.5h17.3v3.8h-17.3zM754 349.1h6.3v3.8h-6.3zM806 349.1h4.3v3.8h-4.3zM912.1 349.1h4.3v3.8h-4.3zM1018.1 349.1h6.3v3.8h-6.3zM1050.1 349.1h10.3v3.8h-10.3zM1278.1 349.1h4.3v3.8h-4.3zM1356.2 349.1h4.3v3.8h-4.3zM1448.2 349.1h8.3v3.8h-8.3zM1524.2 349.1h2.3v3.8h-2.3zM1566.2 349.1h2.3v3.8h-2.3zM1656.2 349.1h4.3v3.8h-4.3zM1752.3 349.1h8.3v3.8h-8.3zM1836.3 349.1h17.3v3.8h-17.3zM754 352.6h6.3v3.8h-6.3zM808 352.6h2.3v3.8h-2.3zM910.1 352.6h6.3v3.8h-6.3zM1018.1 352.6h6.3v3.8h-6.3zM1050.1 352.6h10.3v3.8h-10.3zM1278.1 352.6h4.3v3.8h-4.3zM1354.2 352.6h6.3v3.8h-6.3zM1450.2 352.6h10.3v3.8h-10.3zM1522.2 352.6h2.3v3.8h-2.3zM1568.2 352.6h4.3v3.8h-4.3zM1656.2 352.6h4.3v3.8h-4.3zM1756.3 352.6h8.3v3.8h-8.3zM1838.3 352.6h15.3v3.8h-15.3zM754 356.2h6.3v3.8h-6.3zM808 356.2h4.3v3.8h-4.3zM910.1 356.2h4.3v3.8h-4.3zM1018.1 356.2h8.3v3.8h-8.3zM1050.1 356.2h10.3v3.8h-10.3zM1280.1 356.2h4.3v3.8h-4.3zM1352.2 356.2h6.3v3.8h-6.3zM1452.2 356.2h12.3v3.8h-12.3zM1520.2 356.2h2.3v3.8h-2.3zM1570.2 356.2h4.3v3.8h-4.3zM1654.2 356.2h4.3v3.8h-4.3zM1758.3 356.2h20.3v3.8h-20.3zM752 359.8h8.3v3.8h-8.3zM810 359.8h4.3v3.8h-4.3zM908 359.8h4.3v3.8h-4.3zM1020.1 359.8h6.3v3.8h-6.3zM1050.1 359.8h8.3v3.8h-8.3zM1280.1 359.8h6.3v3.8h-6.3zM1348.2 359.8h10.3v3.8h-10.3zM1458.2 359.8h8.3v3.8h-8.3zM1518.2 359.8h4.3v3.8h-4.3zM1572.2 359.8h4.3v3.8h-4.3zM1652.2 359.8h4.3v3.8h-4.3zM1764.3 359.8h18.3v3.8h-18.3zM750 363.4h10.3v3.8h-10.3zM812 363.4h2.3v3.8h-2.3zM906 363.4h4.3v3.8h-4.3zM1020.1 363.4h8.3v3.8h-8.3zM1048.1 363.4h10.3v3.8h-10.3zM1282.1 363.4h4.3v3.8h-4.3zM1314.2 363.4h2.3v3.8h-2.3zM1344.2 363.4h12.3v3.8h-12.3zM1462.2 363.4h4.3v3.8h-4.3zM1516.2 363.4h4.3v3.8h-4.3zM1574.2 363.4h2.3v3.8h-2.3zM1650.2 363.4h4.3v3.8h-4.3zM1776.3 363.4h8.3v3.8h-8.3zM715 366.9h43.3v3.8h-43.3zM812 366.9h4.3v3.8h-4.3zM904 366.9h4.3v3.8h-4.3zM1022.1 366.9h36.3v3.8h-36.3zM1282.1 366.9h6.3v3.8h-6.3zM1310.2 366.9h10.3v3.8h-10.3zM1340.2 366.9h10.3v3.8h-10.3zM1464.2 366.9h4.3v3.8h-4.3zM1516.2 366.9h2.3v3.8h-2.3zM1576.2 366.9h2.3v3.8h-2.3zM1648.2 366.9h4.3v3.8h-4.3zM1780.3 366.9h6.3v3.8h-6.3zM715 370.5h41.3v3.8h-41.3zM814 370.5h4.3v3.8h-4.3zM900 370.5h6.3v3.8h-6.3zM1024.1 370.5h32.3v3.8h-32.3zM1284.2 370.5h6.3v3.8h-6.3zM1308.2 370.5h16.3v3.8h-16.3zM1338.2 370.5h8.3v3.8h-8.3zM1464.2 370.5h4.3v3.8h-4.3zM1514.2 370.5h4.3v3.8h-4.3zM1576.2 370.5h4.3v3.8h-4.3zM1646.2 370.5h4.3v3.8h-4.3zM1782.3 370.5h6.3v3.8h-6.3zM814 374.1h4.3v3.8h-4.3zM896 374.1h6.3v3.8h-6.3zM1030.1 374.1h22.3v3.8h-22.3zM1284.2 374.1h8.3v3.8h-8.3zM1306.2 374.1h6.3v3.8h-6.3zM1320.2 374.1h8.3v3.8h-8.3zM1334.2 374.1h8.3v3.8h-8.3zM1464.2 374.1h4.3v3.8h-4.3zM1514.2 374.1h2.3v3.8h-2.3zM1578.2 374.1h4.3v3.8h-4.3zM1644.2 374.1h6.3v3.8h-6.3zM1784.3 374.1h6.3v3.8h-6.3zM816 377.7h4.3v3.8h-4.3zM894 377.7h4.3v3.8h-4.3zM1286.2 377.7h8.3v3.8h-8.3zM1302.2 377.7h8.3v3.8h-8.3zM1324.2 377.7h14.3v3.8h-14.3zM1466.2 377.7h2.3v3.8h-2.3zM1512.2 377.7h2.3v3.8h-2.3zM1580.2 377.7h4.3v3.8h-4.3zM1642.2 377.7h4.3v3.8h-4.3zM1788.3 377.7h36.3v3.8h-36.3zM818 381.2h2.3v3.8h-2.3zM890 381.2h4.3v3.8h-4.3zM1288.2 381.2h20.3v3.8h-20.3zM1466.2 381.2h2.3v3.8h-2.3zM1510.2 381.2h4.3v3.8h-4.3zM1584.2 381.2h6.3v3.8h-6.3zM1638.2 381.2h6.3v3.8h-6.3zM1792.3 381.2h61.3v3.8h-61.3zM818 384.8h4.3v8.8h-4.3zM888 384.8h4.3v8.8h-4.3zM1288.2 384.8h18.3v8.8h-18.3zM1466.2 384.8h2.3v8.8h-2.3zM1510.2 384.8h2.3v8.8h-2.3zM1588.2 384.8h6.3v8.8h-6.3zM1636.2 384.8h6.3v8.8h-6.3z"/><path fill="#ff1600" d="M1410.2 48.8h2.3v3.8h-2.3zM1474.2 48.8h2.3v3.8h-2.3zM1476.2 52.4h2.3v3.8h-2.3zM1412.2 55.9h2.3v3.8h-2.3zM1480.2 59.5h2.3v3.8h-2.3zM1480.2 63.1h2.3v3.8h-2.3zM1414.2 66.7h2.3v3.8h-2.3zM1482.2 66.7h2.3v3.8h-2.3zM1482.2 70.2h2.3v3.8h-2.3zM1416.2 73.8h2.3v3.8h-2.3zM1480.2 73.8h2.3v3.8h-2.3zM1418.2 81h2.3v3.8h-2.3zM1478.2 81h2.3v3.8h-2.3zM1420.2 84.5h2.3v3.8h-2.3zM1476.2 84.5h2.3v3.8h-2.3zM1422.2 88.1h2.3v3.8h-2.3zM1472.2 88.1h2.3v3.8h-2.3zM1424.2 91.7h2.3v3.8h-2.3zM1470.2 91.7h2.3v3.8h-2.3zM1426.2 95.2h2.3v3.8h-2.3zM1466.2 95.2h2.3v3.8h-2.3zM1462.2 98.8h2.3v3.8h-2.3zM1434.2 102.4h4.3v3.8h-4.3zM1454.2 102.4h4.3v3.8h-4.3zM1818.3 184.6h2.3v3.8h-2.3zM1798.3 195.3h2.3v3.8h-2.3zM1794.3 198.9h2.3v3.8h-2.3zM1496.2 288.3h4.3v3.8h-4.3zM1492.2 291.9h4.3v3.8h-4.3zM1500.2 291.9h2.3v3.8h-2.3zM1490.2 295.4h2.3v3.8h-2.3zM1502.2 295.4h2.3v3.8h-2.3zM1484.2 299h6.3v3.8h-6.3zM1502.2 299h2.3v3.8h-2.3zM1484.2 302.6h2.3v3.8h-2.3zM1500.2 302.6h2.3v3.8h-2.3zM1500.2 306.2h2.3v3.8h-2.3zM1484.2 309.7h2.3v3.8h-2.3zM1498.2 309.7h2.3v3.8h-2.3zM1484.2 313.3h6.3v3.8h-6.3zM1494.2 313.3h4.3v3.8h-4.3zM1486.2 316.9h8.3v3.8h-8.3z"/><path fill="#cd0000" d="M1412.2 48.8h2.3v3.8h-2.3zM1472.2 48.8h2.3v3.8h-2.3zM1414.2 59.5h2.3v3.8h-2.3zM1476.2 59.5h2.3v3.8h-2.3zM1478.2 63.1h2.3v3.8h-2.3zM1416.2 66.7h2.3v3.8h-2.3zM1478.2 66.7h2.3v3.8h-2.3zM1478.2 70.2h2.3v3.8h-2.3zM1418.2 73.8h2.3v3.8h-2.3zM1476.2 73.8h2.3v3.8h-2.3zM1476.2 77.4h2.3v3.8h-2.3zM1420.2 81h2.3v3.8h-2.3zM1474.2 81h2.3v3.8h-2.3zM1422.2 84.5h2.3v3.8h-2.3zM1472.2 84.5h2.3v3.8h-2.3zM1424.2 88.1h2.3v3.8h-2.3zM1468.2 88.1h2.3v3.8h-2.3zM1426.2 91.7h2.3v3.8h-2.3zM1466.2 91.7h2.3v3.8h-2.3zM1428.2 95.2h2.3v3.8h-2.3zM1462.2 95.2h2.3v3.8h-2.3zM1432.2 98.8h2.3v3.8h-2.3zM1458.2 98.8h2.3v3.8h-2.3zM1442.2 102.4h8.3v3.8h-8.3zM1820.3 184.6h2.3v3.8h-2.3zM1784.3 223.9h2.3v3.8h-2.3zM1784.3 227.5h2.3v3.8h-2.3zM1784.3 231.1h2.3v3.8h-2.3zM1784.3 234.7h2.3v3.8h-2.3zM1784.3 238.2h2.3v3.8h-2.3zM1784.3 241.8h2.3v3.8h-2.3zM1784.3 245.4h2.3v3.8h-2.3zM1784.3 249h2.3v3.8h-2.3zM1784.3 252.6h2.3v3.8h-2.3zM1784.3 256.1h2.3v3.8h-2.3zM1784.3 259.7h2.3v3.8h-2.3zM1784.3 263.3h2.3v3.8h-2.3zM1784.3 266.8h2.3v3.8h-2.3zM1784.3 270.4h2.3v3.8h-2.3zM1494.2 299h4.3v3.8h-4.3zM1492.2 302.6h6.3v3.8h-6.3zM1492.2 306.2h4.3v3.8h-4.3z"/><path fill="#960000" d="M1414.2 48.8h2.3v3.8h-2.3zM1470.2 48.8h2.3v3.8h-2.3zM1414.2 52.4h2.3v3.8h-2.3zM1472.2 55.9h2.3v3.8h-2.3zM1416.2 59.5h2.3v3.8h-2.3zM1474.2 59.5h2.3v3.8h-2.3zM1474.2 63.1h2.3v3.8h-2.3zM1418.2 66.7h2.3v3.8h-2.3zM1474.2 66.7h2.3v3.8h-2.3zM1474.2 70.2h2.3v3.8h-2.3zM1420.2 73.8h2.3v3.8h-2.3zM1474.2 73.8h2.3v3.8h-2.3zM1422.2 77.4h2.3v3.8h-2.3zM1472.2 77.4h2.3v3.8h-2.3zM1470.2 81h2.3v3.8h-2.3zM1424.2 84.5h2.3v3.8h-2.3zM1466.2 84.5h2.3v3.8h-2.3zM1426.2 88.1h2.3v3.8h-2.3zM1464.2 88.1h2.3v3.8h-2.3zM1428.2 91.7h2.3v3.8h-2.3zM1462.2 91.7h2.3v3.8h-2.3zM1430.2 95.2h2.3v3.8h-2.3zM1458.2 95.2h2.3v3.8h-2.3zM1436.2 98.8h2.3v3.8h-2.3zM1452.2 98.8h2.3v3.8h-2.3zM1788.3 209.6h2.3v3.8h-2.3z"/><path fill="#ff6c00" d="M1478.2 48.8h2.3v3.8h-2.3zM1408.2 52.4h2.3v3.8h-2.3zM1480.2 52.4h2.3v3.8h-2.3zM1484.2 55.9h2.3v3.8h-2.3zM1410.2 59.5h2.3v3.8h-2.3zM1486.2 59.5h2.3v3.8h-2.3zM1488.2 63.1h2.3v3.8h-2.3zM1488.2 66.7h2.3v3.8h-2.3zM1412.2 70.2h2.3v3.8h-2.3zM1488.2 70.2h2.3v3.8h-2.3zM1488.2 73.8h2.3v3.8h-2.3zM1486.2 77.4h2.3v3.8h-2.3zM1414.2 81h2.3v3.8h-2.3zM1484.2 81h4.3v3.8h-4.3zM1416.2 84.5h2.3v3.8h-2.3zM1482.2 84.5h4.3v3.8h-4.3zM1480.2 88.1h2.3v3.8h-2.3zM1478.2 91.7h2.3v3.8h-2.3zM1476.2 95.2h2.3v3.8h-2.3zM1424.2 98.8h2.3v3.8h-2.3zM1472.2 98.8h4.3v3.8h-4.3zM1428.2 102.4h2.3v3.8h-2.3zM1468.2 102.4h4.3v3.8h-4.3zM1432.2 106h2.3v3.8h-2.3zM1462.2 106h4.3v3.8h-4.3zM1832.3 181.1h8.3v3.8h-8.3zM1806.3 188.2h2.3v3.8h-2.3zM1800.3 191.8h2.3v3.8h-2.3zM1790.3 202.5h2.3v3.8h-2.3zM1784.3 213.2h2.3v3.8h-2.3zM784 274h14.3v3.8h-14.3zM780 277.6h4.3v3.8h-4.3zM802 277.6h2.3v3.8h-2.3zM1498.2 277.6h4.3v3.8h-4.3zM780 281.1h2.3v3.8h-2.3zM806 281.1h2.3v3.8h-2.3zM1494.2 281.1h2.3v3.8h-2.3zM1504.2 281.1h2.3v3.8h-2.3zM778 284.7h2.3v3.8h-2.3zM806 284.7h2.3v3.8h-2.3zM1492.2 284.7h2.3v3.8h-2.3zM1506.2 284.7h2.3v3.8h-2.3zM776 288.3h4.3v3.8h-4.3zM806 288.3h2.3v3.8h-2.3zM1488.2 288.3h2.3v3.8h-2.3zM1506.2 288.3h2.3v3.8h-2.3zM776 291.9h6.3v3.8h-6.3zM804 291.9h2.3v3.8h-2.3zM1484.2 291.9h2.3v3.8h-2.3zM780 295.4h2.3v3.8h-2.3zM800 295.4h4.3v3.8h-4.3zM1508.2 295.4h2.3v3.8h-2.3zM782 299h16.3v3.8h-16.3zM1506.2 302.6h2.3v3.8h-2.3zM1504.2 309.7h2.3v3.8h-2.3zM1502.2 313.3h2.3v3.8h-2.3zM1500.2 316.9h2.3v3.8h-2.3zM1498.2 320.5h2.3v3.8h-2.3zM1496.2 324h2.3v3.8h-2.3zM1482.2 327.6h2.3v3.8h-2.3zM1492.2 327.6h2.3v3.8h-2.3zM1484.2 331.2h8.3v3.8h-8.3z"/><path fill="#ffc100" d="M1484.2 48.8h2.3v3.8h-2.3zM1488.2 52.4h2.3v3.8h-2.3zM1492.2 55.9h4.3v3.8h-4.3zM1496.2 59.5h2.3v3.8h-2.3zM1408.2 63.1h2.3v3.8h-2.3zM1498.2 63.1h2.3v3.8h-2.3zM1498.2 66.7h4.3v3.8h-4.3zM1498.2 70.2h4.3v3.8h-4.3zM1410.2 73.8h2.3v3.8h-2.3zM1498.2 73.8h2.3v3.8h-2.3zM1496.2 77.4h4.3v3.8h-4.3zM1494.2 81h4.3v3.8h-4.3zM1492.2 84.5h4.3v3.8h-4.3zM1490.2 88.1h4.3v3.8h-4.3zM1414.2 91.7h2.3v3.8h-2.3zM1488.2 91.7h4.3v3.8h-4.3zM1416.2 95.2h2.3v3.8h-2.3zM1486.2 95.2h4.3v3.8h-4.3zM1418.2 98.8h2.3v3.8h-2.3zM1484.2 98.8h2.3v3.8h-2.3zM1480.2 102.4h4.3v3.8h-4.3zM1424.2 106h2.3v3.8h-2.3zM1476.2 106h4.3v3.8h-4.3zM1428.2 109.5h2.3v3.8h-2.3zM1472.2 109.5h4.3v3.8h-4.3zM1434.2 113.1h6.3v3.8h-6.3zM1464.2 113.1h6.3v3.8h-6.3zM1824.3 181.1h2.3v3.8h-2.3zM1784.3 209.6h2.3v3.8h-2.3zM784 266.8h8.3v3.8h-8.3zM774 270.4h6.3v3.8h-6.3zM800 270.4h4.3v3.8h-4.3zM1498.2 270.4h6.3v3.8h-6.3zM772 274h2.3v3.8h-2.3zM808 274h2.3v3.8h-2.3zM1494.2 274h2.3v3.8h-2.3zM1506.2 274h2.3v3.8h-2.3zM812 277.6h2.3v3.8h-2.3zM1508.2 277.6h2.3v3.8h-2.3zM1820.3 277.6h2.3v3.8h-2.3zM814 281.1h2.3v3.8h-2.3zM1488.2 281.1h2.3v3.8h-2.3zM1510.2 281.1h2.3v3.8h-2.3zM814 284.7h2.3v3.8h-2.3zM1512.2 284.7h2.3v3.8h-2.3zM814 288.3h2.3v3.8h-2.3zM1512.2 288.3h2.3v3.8h-2.3zM772 291.9h2.3v3.8h-2.3zM814 291.9h2.3v3.8h-2.3zM772 295.4h2.3v3.8h-2.3zM812 295.4h2.3v3.8h-2.3zM810 299h2.3v3.8h-2.3zM1512.2 299h2.3v3.8h-2.3zM804 302.6h4.3v3.8h-4.3zM1480.2 302.6h2.3v3.8h-2.3zM1512.2 302.6h2.3v3.8h-2.3zM774 306.2h22.3v3.8h-22.3zM1480.2 306.2h2.3v3.8h-2.3zM1510.2 306.2h2.3v3.8h-2.3zM1480.2 309.7h2.3v3.8h-2.3zM1508.2 309.7h2.3v3.8h-2.3zM1830.3 309.7h2.3v3.8h-2.3zM1506.2 313.3h2.3v3.8h-2.3zM1504.2 316.9h2.3v3.8h-2.3zM1502.2 320.5h2.3v3.8h-2.3zM1480.2 324h2.3v3.8h-2.3zM1480.2 327.6h2.3v3.8h-2.3zM1496.2 331.2h2.3v3.8h-2.3zM1494.2 334.8h2.3v3.8h-2.3zM1492.2 338.3h2.3v3.8h-2.3zM1486.2 341.9h4.3v3.8h-4.3z"/><path fill="#0020ff" d="M1084.1 70.2h16.3v3.8h-16.3zM1080.1 73.8h24.3v3.8h-24.3zM1078.1 77.4h28.3v3.8h-28.3zM1076.1 81h30.3v3.8h-30.3zM1074.1 84.5h34.3v3.8h-34.3zM1072.1 88.1h36.3v3.8h-36.3zM1068.1 91.7h12.3v3.8h-12.3zM1102.1 91.7h6.3v3.8h-6.3zM1064.1 95.2h12.3v3.8h-12.3zM1104.1 95.2h6.3v3.8h-6.3zM1060.1 98.8h12.3v3.8h-12.3zM1106.1 98.8h4.3v3.8h-4.3zM1056.1 102.4h10.3v3.8h-10.3zM1108.1 102.4h6.3v3.8h-6.3zM1050.1 106h12.3v3.8h-12.3zM1110.1 106h6.3v3.8h-6.3zM972.1 109.5h50.3v3.8h-50.3zM1044.1 109.5h14.3v3.8h-14.3zM1110.1 109.5h6.3v3.8h-6.3zM958.1 113.1h96.3v3.8h-96.3zM1238.1 113.1h36.3v3.8h-36.3zM932.1 116.7h118.3v3.8h-118.3zM1116.1 116.7h2.3v3.8h-2.3zM1228.1 116.7h54.3v3.8h-54.3zM926.1 120.3h34.3v3.8h-34.3zM1016.1 120.3h30.3v3.8h-30.3zM1222.1 120.3h62.3v3.8h-62.3zM924.1 123.8h8.3v3.8h-8.3zM1022.1 123.8h20.3v3.8h-20.3zM1118.1 123.8h2.3v3.8h-2.3zM1216.1 123.8h72.3v3.8h-72.3zM768 127.4h50.3v3.8h-50.3zM922.1 127.4h6.3v3.8h-6.3zM1030.1 127.4h6.3v3.8h-6.3zM1210.1 127.4h82.3v3.8h-82.3zM764 131h60.3v3.8h-60.3zM918.1 131h8.3v3.8h-8.3zM1202.1 131h26.3v3.8h-26.3zM1274.1 131h22.3v3.8h-22.3zM764 134.6h64.3v3.8h-64.3zM914.1 134.6h10.3v3.8h-10.3zM1196.1 134.6h18.3v3.8h-18.3zM1280.1 134.6h34.3v3.8h-34.3zM1372.2 134.6h22.3v3.8h-22.3zM762 138.1h72.3v3.8h-72.3zM910.1 138.1h10.3v3.8h-10.3zM1120.1 138.1h2.3v3.8h-2.3zM1192.1 138.1h16.3v3.8h-16.3zM1284.2 138.1h34.3v3.8h-34.3zM1366.2 138.1h32.3v3.8h-32.3zM760 141.7h156.3v3.8h-156.3zM1120.1 141.7h2.3v3.8h-2.3zM1188.1 141.7h14.3v3.8h-14.3zM1286.2 141.7h34.3v3.8h-34.3zM1360.2 141.7h40.3v3.8h-40.3zM758 145.3h154.3v3.8h-154.3zM1182.1 145.3h16.3v3.8h-16.3zM1288.2 145.3h34.3v3.8h-34.3zM1354.2 145.3h46.3v3.8h-46.3zM754 148.9h154.3v3.8h-154.3zM1122.1 148.9h2.3v3.8h-2.3zM1176.1 148.9h18.3v3.8h-18.3zM1290.2 148.9h34.3v3.8h-34.3zM1350.2 148.9h52.3v3.8h-52.3zM715 152.4h183.3v3.8h-183.3zM1122.1 152.4h4.3v3.8h-4.3zM1172.1 152.4h16.3v3.8h-16.3zM1290.2 152.4h36.3v3.8h-36.3zM1344.2 152.4h58.3v3.8h-58.3zM1624.2 152.4h34.3v3.8h-34.3zM715 156h159.3v3.8h-159.3zM1124.1 156h8.3v3.8h-8.3zM1166.1 156h14.3v3.8h-14.3zM1288.2 156h36.3v3.8h-36.3zM1340.2 156h62.3v3.8h-62.3zM1622.2 156h38.3v3.8h-38.3zM715 159.6h157.3v3.8h-157.3zM1126.1 159.6h50.3v3.8h-50.3zM1286.2 159.6h38.3v3.8h-38.3zM1338.2 159.6h64.3v3.8h-64.3zM1620.2 159.6h40.3v3.8h-40.3zM715 163.2h155.3v3.8h-155.3zM1128.1 163.2h44.3v3.8h-44.3zM1278.1 163.2h44.3v3.8h-44.3zM1338.2 163.2h66.3v3.8h-66.3zM1622.2 163.2h18.3v3.8h-18.3zM1650.2 163.2h10.3v3.8h-10.3zM715 166.8h155.3v3.8h-155.3zM1132.1 166.8h34.3v3.8h-34.3zM1270.1 166.8h48.3v3.8h-48.3zM1338.2 166.8h66.3v3.8h-66.3zM1622.2 166.8h14.3v3.8h-14.3zM1652.2 166.8h8.3v3.8h-8.3zM715 170.3h155.3v3.8h-155.3zM1258.1 170.3h54.3v3.8h-54.3zM1340.2 170.3h64.3v3.8h-64.3zM1624.2 170.3h12.3v3.8h-12.3zM1652.2 170.3h8.3v3.8h-8.3zM715 173.9h157.3v3.8h-157.3zM1218.1 173.9h58.3v3.8h-58.3zM1342.2 173.9h62.3v3.8h-62.3zM1624.2 173.9h18.3v3.8h-18.3zM1648.2 173.9h12.3v3.8h-12.3zM715 177.5h187.3v3.8h-187.3zM1214.1 177.5h56.3v3.8h-56.3zM1344.2 177.5h60.3v3.8h-60.3zM1628.2 177.5h30.3v3.8h-30.3zM715 181.1h199.4v3.8h-199.4zM1214.1 181.1h50.3v3.8h-50.3zM1348.2 181.1h54.3v3.8h-54.3zM1630.2 181.1h26.3v3.8h-26.3zM906 184.6h34.3v3.8h-34.3zM1212.1 184.6h46.3v3.8h-46.3zM1352.2 184.6h50.3v3.8h-50.3zM1634.2 184.6h20.3v3.8h-20.3zM912.1 188.2h32.3v3.8h-32.3zM1066.1 188.2h52.3v3.8h-52.3zM1210.1 188.2h42.3v3.8h-42.3zM1358.2 188.2h40.3v3.8h-40.3zM926.1 191.8h22.3v3.8h-22.3zM1062.1 191.8h60.3v3.8h-60.3zM1210.1 191.8h12.3v3.8h-12.3zM942.1 195.3h10.3v3.8h-10.3zM1058.1 195.3h66.3v3.8h-66.3zM1210.1 195.3h8.3v3.8h-8.3zM946.1 198.9h12.3v3.8h-12.3zM1056.1 198.9h12.3v3.8h-12.3zM1114.1 198.9h10.3v3.8h-10.3zM1210.1 198.9h6.3v3.8h-6.3zM952.1 202.5h14.3v3.8h-14.3zM1050.1 202.5h16.3v3.8h-16.3zM1116.1 202.5h10.3v3.8h-10.3zM1208.1 202.5h8.3v3.8h-8.3zM958.1 206.1h20.3v3.8h-20.3zM1046.1 206.1h16.3v3.8h-16.3zM1116.1 206.1h12.3v3.8h-12.3zM1208.1 206.1h6.3v3.8h-6.3zM962.1 209.6h20.3v3.8h-20.3zM1040.1 209.6h18.3v3.8h-18.3zM1118.1 209.6h12.3v3.8h-12.3zM1208.1 209.6h6.3v3.8h-6.3zM968.1 213.2h18.3v3.8h-18.3zM1036.1 213.2h18.3v3.8h-18.3zM1120.1 213.2h14.3v3.8h-14.3zM1208.1 213.2h4.3v3.8h-4.3zM976.1 216.8h12.3v3.8h-12.3zM1032.1 216.8h18.3v3.8h-18.3zM1120.1 216.8h34.3v3.8h-34.3zM1206.1 216.8h6.3v3.8h-6.3zM980.1 220.4h12.3v3.8h-12.3zM1030.1 220.4h20.3v3.8h-20.3zM1120.1 220.4h42.3v3.8h-42.3zM1206.1 220.4h6.3v3.8h-6.3zM984.1 223.9h12.3v3.8h-12.3zM1028.1 223.9h20.3v3.8h-20.3zM1122.1 223.9h40.3v3.8h-40.3zM1206.1 223.9h6.3v3.8h-6.3zM988.1 227.5h12.3v3.8h-12.3zM1028.1 227.5h20.3v3.8h-20.3zM1122.1 227.5h40.3v3.8h-40.3zM1206.1 227.5h4.3v3.8h-4.3zM992.1 231.1h12.3v3.8h-12.3zM1024.1 231.1h24.3v3.8h-24.3zM1122.1 231.1h40.3v3.8h-40.3zM1206.1 231.1h4.3v3.8h-4.3zM996.1 234.7h14.3v3.8h-14.3zM1018.1 234.7h30.3v3.8h-30.3zM1122.1 234.7h32.3v3.8h-32.3zM1206.1 234.7h4.3v3.8h-4.3zM998.1 238.2h50.3v3.8h-50.3zM1122.1 238.2h12.3v3.8h-12.3zM1206.1 238.2h4.3v3.8h-4.3zM998.1 241.8h52.3v3.8h-52.3zM1122.1 241.8h10.3v3.8h-10.3zM1206.1 241.8h4.3v3.8h-4.3zM1000.1 245.4h52.3v3.8h-52.3zM1120.1 245.4h10.3v3.8h-10.3zM1206.1 245.4h4.3v3.8h-4.3zM1002.1 249h52.3v3.8h-52.3zM1118.1 249h10.3v3.8h-10.3zM1206.1 249h4.3v3.8h-4.3zM1008.1 252.6h50.3v3.8h-50.3zM1118.1 252.6h8.3v3.8h-8.3zM1206.1 252.6h4.3v3.8h-4.3zM1016.1 256.1h46.3v3.8h-46.3zM1116.1 256.1h10.3v3.8h-10.3zM1206.1 256.1h4.3v3.8h-4.3zM1020.1 259.7h48.3v3.8h-48.3zM1112.1 259.7h14.3v3.8h-14.3zM1204.1 259.7h6.3v3.8h-6.3zM1024.1 263.3h102.3v3.8h-102.3zM1204.1 263.3h4.3v3.8h-4.3zM1026.1 266.8h144.3v3.8h-144.3zM1204.1 266.8h4.3v3.8h-4.3zM1028.1 270.4h148.3v3.8h-148.3zM1202.1 270.4h6.3v3.8h-6.3zM1032.1 274h108.3v3.8h-108.3zM1168.1 274h12.3v3.8h-12.3zM1200.1 274h8.3v3.8h-8.3zM1042.1 277.6h90.3v3.8h-90.3zM1172.1 277.6h14.3v3.8h-14.3zM1194.1 277.6h12.3v3.8h-12.3zM1046.1 281.1h82.3v3.8h-82.3zM1174.1 281.1h32.3v3.8h-32.3zM1048.1 284.7h76.3v3.8h-76.3zM1174.1 284.7h30.3v3.8h-30.3zM1050.1 288.3h74.3v3.8h-74.3zM1176.1 288.3h28.3v3.8h-28.3zM1054.1 291.9h68.3v3.8h-68.3zM1178.1 291.9h24.3v3.8h-24.3zM1058.1 295.4h64.3v3.8h-64.3zM1184.1 295.4h14.3v3.8h-14.3zM1068.1 299h26.3v3.8h-26.3zM1108.1 299h14.3v3.8h-14.3zM1070.1 302.6h18.3v3.8h-18.3zM1110.1 302.6h12.3v3.8h-12.3zM1070.1 306.2h14.3v3.8h-14.3zM1112.1 306.2h12.3v3.8h-12.3zM1070.1 309.7h8.3v3.8h-8.3zM1114.1 309.7h12.3v3.8h-12.3zM1244.1 309.7h18.3v3.8h-18.3zM1070.1 313.3h6.3v3.8h-6.3zM1116.1 313.3h12.3v3.8h-12.3zM1236.1 313.3h30.3v3.8h-30.3zM1070.1 316.9h4.3v3.8h-4.3zM1118.1 316.9h12.3v3.8h-12.3zM1212.1 316.9h28.3v3.8h-28.3zM1264.1 316.9h4.3v3.8h-4.3zM930.1 320.5h10.3v3.8h-10.3zM1068.1 320.5h6.3v3.8h-6.3zM1120.1 320.5h12.3v3.8h-12.3zM1210.1 320.5h10.3v3.8h-10.3zM1266.1 320.5h4.3v3.8h-4.3zM1384.2 320.5h26.3v3.8h-26.3zM926.1 324h20.3v3.8h-20.3zM1068.1 324h4.3v3.8h-4.3zM1122.1 324h12.3v3.8h-12.3zM1210.1 324h6.3v3.8h-6.3zM1268.1 324h2.3v3.8h-2.3zM1370.2 324h14.3v3.8h-14.3zM1410.2 324h8.3v3.8h-8.3zM1686.3 324h14.3v3.8h-14.3zM1706.3 324h12.3v3.8h-12.3zM924.1 327.6h4.3v3.8h-4.3zM944.1 327.6h8.3v3.8h-8.3zM1068.1 327.6h4.3v3.8h-4.3zM1126.1 327.6h10.3v3.8h-10.3zM1208.1 327.6h8.3v3.8h-8.3zM1268.1 327.6h4.3v3.8h-4.3zM1366.2 327.6h6.3v3.8h-6.3zM1416.2 327.6h10.3v3.8h-10.3zM1674.3 327.6h14.3v3.8h-14.3zM1718.3 327.6h8.3v3.8h-8.3zM922.1 331.2h4.3v3.8h-4.3zM948.1 331.2h12.3v3.8h-12.3zM1068.1 331.2h4.3v3.8h-4.3zM1128.1 331.2h12.3v3.8h-12.3zM1210.1 331.2h6.3v3.8h-6.3zM1270.1 331.2h2.3v3.8h-2.3zM1364.2 331.2h4.3v3.8h-4.3zM1422.2 331.2h10.3v3.8h-10.3zM1544.2 331.2h8.3v3.8h-8.3zM1670.3 331.2h8.3v3.8h-8.3zM1722.3 331.2h10.3v3.8h-10.3zM920.1 334.8h6.3v3.8h-6.3zM952.1 334.8h16.3v3.8h-16.3zM1066.1 334.8h6.3v3.8h-6.3zM1128.1 334.8h20.3v3.8h-20.3zM1210.1 334.8h8.3v3.8h-8.3zM1270.1 334.8h4.3v3.8h-4.3zM1362.2 334.8h4.3v3.8h-4.3zM1426.2 334.8h10.3v3.8h-10.3zM1536.2 334.8h22.3v3.8h-22.3zM1666.3 334.8h6.3v3.8h-6.3zM1728.3 334.8h8.3v3.8h-8.3zM762 338.3h14.3v3.8h-14.3zM920.1 338.3h4.3v3.8h-4.3zM956.1 338.3h20.3v3.8h-20.3zM1066.1 338.3h4.3v3.8h-4.3zM1130.1 338.3h40.3v3.8h-40.3zM1210.1 338.3h8.3v3.8h-8.3zM1272.1 338.3h2.3v3.8h-2.3zM1362.2 338.3h2.3v3.8h-2.3zM1430.2 338.3h10.3v3.8h-10.3zM1532.2 338.3h6.3v3.8h-6.3zM1554.2 338.3h6.3v3.8h-6.3zM1664.3 338.3h6.3v3.8h-6.3zM1732.3 338.3h6.3v3.8h-6.3zM760 341.9h8.3v3.8h-8.3zM774 341.9h28.3v3.8h-28.3zM918.1 341.9h6.3v3.8h-6.3zM960.1 341.9h52.3v3.8h-52.3zM1064.1 341.9h6.3v3.8h-6.3zM1132.1 341.9h42.3v3.8h-42.3zM1208.1 341.9h12.3v3.8h-12.3zM1272.1 341.9h4.3v3.8h-4.3zM1362.2 341.9h2.3v3.8h-2.3zM1432.2 341.9h12.3v3.8h-12.3zM1530.2 341.9h4.3v3.8h-4.3zM1558.2 341.9h4.3v3.8h-4.3zM1662.3 341.9h4.3v3.8h-4.3zM1734.3 341.9h8.3v3.8h-8.3zM760 345.5h6.3v3.8h-6.3zM796 345.5h8.3v3.8h-8.3zM918.1 345.5h6.3v3.8h-6.3zM964.1 345.5h52.3v3.8h-52.3zM1062.1 345.5h8.3v3.8h-8.3zM1132.1 345.5h48.3v3.8h-48.3zM1206.1 345.5h14.3v3.8h-14.3zM1272.1 345.5h4.3v3.8h-4.3zM1360.2 345.5h4.3v3.8h-4.3zM1434.2 345.5h12.3v3.8h-12.3zM1528.2 345.5h4.3v3.8h-4.3zM1560.2 345.5h4.3v3.8h-4.3zM1662.3 345.5h4.3v3.8h-4.3zM1736.3 345.5h10.3v3.8h-10.3zM760 349.1h4.3v3.8h-4.3zM800 349.1h6.3v3.8h-6.3zM916.1 349.1h6.3v3.8h-6.3zM966.1 349.1h52.3v3.8h-52.3zM1060.1 349.1h8.3v3.8h-8.3zM1132.1 349.1h86.3v3.8h-86.3zM1272.1 349.1h6.3v3.8h-6.3zM1360.2 349.1h4.3v3.8h-4.3zM1438.2 349.1h10.3v3.8h-10.3zM1526.2 349.1h4.3v3.8h-4.3zM1562.2 349.1h4.3v3.8h-4.3zM1660.2 349.1h4.3v3.8h-4.3zM1738.3 349.1h14.3v3.8h-14.3zM760 352.6h6.3v3.8h-6.3zM802 352.6h6.3v3.8h-6.3zM916.1 352.6h6.3v3.8h-6.3zM970.1 352.6h48.3v3.8h-48.3zM1060.1 352.6h8.3v3.8h-8.3zM1132.1 352.6h86.3v3.8h-86.3zM1274.1 352.6h4.3v3.8h-4.3zM1360.2 352.6h4.3v3.8h-4.3zM1440.2 352.6h10.3v3.8h-10.3zM1524.2 352.6h4.3v3.8h-4.3zM1564.2 352.6h4.3v3.8h-4.3zM1660.2 352.6h4.3v3.8h-4.3zM1742.3 352.6h14.3v3.8h-14.3zM760 356.2h6.3v3.8h-6.3zM802 356.2h6.3v3.8h-6.3zM914.1 356.2h6.3v3.8h-6.3zM972.1 356.2h46.3v3.8h-46.3zM1060.1 356.2h6.3v3.8h-6.3zM1134.1 356.2h80.3v3.8h-80.3zM1274.1 356.2h6.3v3.8h-6.3zM1358.2 356.2h4.3v3.8h-4.3zM1440.2 356.2h12.3v3.8h-12.3zM1522.2 356.2h4.3v3.8h-4.3zM1566.2 356.2h4.3v3.8h-4.3zM1658.2 356.2h6.3v3.8h-6.3zM1748.3 356.2h10.3v3.8h-10.3zM760 359.8h8.3v3.8h-8.3zM802 359.8h8.3v3.8h-8.3zM912.1 359.8h8.3v3.8h-8.3zM974.1 359.8h46.3v3.8h-46.3zM1058.1 359.8h8.3v3.8h-8.3zM1134.1 359.8h78.3v3.8h-78.3zM1274.1 359.8h6.3v3.8h-6.3zM1358.2 359.8h4.3v3.8h-4.3zM1442.2 359.8h16.3v3.8h-16.3zM1522.2 359.8h4.3v3.8h-4.3zM1568.2 359.8h4.3v3.8h-4.3zM1656.2 359.8h8.3v3.8h-8.3zM1752.3 359.8h12.3v3.8h-12.3zM760 363.4h10.3v3.8h-10.3zM800 363.4h12.3v3.8h-12.3zM910.1 363.4h8.3v3.8h-8.3zM978.1 363.4h42.3v3.8h-42.3zM1058.1 363.4h6.3v3.8h-6.3zM1136.1 363.4h70.3v3.8h-70.3zM1276.1 363.4h6.3v3.8h-6.3zM1356.2 363.4h6.3v3.8h-6.3zM1444.2 363.4h18.3v3.8h-18.3zM1520.2 363.4h4.3v3.8h-4.3zM1570.2 363.4h4.3v3.8h-4.3zM1654.2 363.4h8.3v3.8h-8.3zM1756.3 363.4h20.3v3.8h-20.3zM758 366.9h54.3v3.8h-54.3zM908 366.9h8.3v3.8h-8.3zM1006.1 366.9h16.3v3.8h-16.3zM1058.1 366.9h6.3v3.8h-6.3zM1176.1 366.9h20.3v3.8h-20.3zM1276.1 366.9h6.3v3.8h-6.3zM1350.2 366.9h12.3v3.8h-12.3zM1448.2 366.9h16.3v3.8h-16.3zM1518.2 366.9h4.3v3.8h-4.3zM1572.2 366.9h4.3v3.8h-4.3zM1652.2 366.9h10.3v3.8h-10.3zM1760.3 366.9h20.3v3.8h-20.3zM756 370.5h58.3v3.8h-58.3zM906 370.5h8.3v3.8h-8.3zM1012.1 370.5h12.3v3.8h-12.3zM1056.1 370.5h6.3v3.8h-6.3zM1278.1 370.5h6.3v3.8h-6.3zM1346.2 370.5h14.3v3.8h-14.3zM1456.2 370.5h8.3v3.8h-8.3zM1518.2 370.5h2.3v3.8h-2.3zM1572.2 370.5h4.3v3.8h-4.3zM1650.2 370.5h8.3v3.8h-8.3zM1774.3 370.5h8.3v3.8h-8.3zM715 374.1h99.3v3.8h-99.3zM902 374.1h8.3v3.8h-8.3zM1016.1 374.1h14.3v3.8h-14.3zM1052.1 374.1h10.3v3.8h-10.3zM1278.1 374.1h6.3v3.8h-6.3zM1312.2 374.1h8.3v3.8h-8.3zM1342.2 374.1h16.3v3.8h-16.3zM1460.2 374.1h4.3v3.8h-4.3zM1516.2 374.1h4.3v3.8h-4.3zM1574.2 374.1h4.3v3.8h-4.3zM1650.2 374.1h6.3v3.8h-6.3zM1778.3 374.1h6.3v3.8h-6.3zM715 377.7h101.3v3.8h-101.3zM898 377.7h8.3v3.8h-8.3zM1020.1 377.7h40.3v3.8h-40.3zM1280.1 377.7h6.3v3.8h-6.3zM1310.2 377.7h14.3v3.8h-14.3zM1338.2 377.7h12.3v3.8h-12.3zM1460.2 377.7h6.3v3.8h-6.3zM1514.2 377.7h4.3v3.8h-4.3zM1576.2 377.7h4.3v3.8h-4.3zM1646.2 377.7h6.3v3.8h-6.3zM1780.3 377.7h8.3v3.8h-8.3zM752 381.2h66.3v3.8h-66.3zM894 381.2h6.3v3.8h-6.3zM1024.1 381.2h32.3v3.8h-32.3zM1280.1 381.2h8.3v3.8h-8.3zM1308.2 381.2h36.3v3.8h-36.3zM1460.2 381.2h6.3v3.8h-6.3zM1514.2 381.2h2.3v3.8h-2.3zM1578.2 381.2h6.3v3.8h-6.3zM1644.2 381.2h6.3v3.8h-6.3zM1782.3 381.2h10.3v3.8h-10.3zM756 384.8h62.3v8.8h-62.3zM892 384.8h4.3v8.8h-4.3zM1282.1 384.8h6.3v8.8h-6.3zM1306.2 384.8h8.3v8.8h-8.3zM1324.2 384.8h14.3v8.8h-14.3zM1460.2 384.8h6.3v8.8h-6.3zM1512.2 384.8h4.3v8.8h-4.3zM1580.2 384.8h8.3v8.8h-8.3zM1642.2 384.8h6.3v8.8h-6.3zM1786.3 384.8h67.3v8.8h-67.3z"/><path fill="#0008ff" d="M1080.1 91.7h22.3v3.8h-22.3zM1076.1 95.2h28.3v3.8h-28.3zM1072.1 98.8h34.3v3.8h-34.3zM1066.1 102.4h42.3v3.8h-42.3zM1062.1 106h48.3v3.8h-48.3zM1058.1 109.5h14.3v3.8h-14.3zM1104.1 109.5h6.3v3.8h-6.3zM1054.1 113.1h12.3v3.8h-12.3zM1106.1 113.1h10.3v3.8h-10.3zM1050.1 116.7h12.3v3.8h-12.3zM1108.1 116.7h8.3v3.8h-8.3zM960.1 120.3h56.3v3.8h-56.3zM1046.1 120.3h10.3v3.8h-10.3zM1110.1 120.3h8.3v3.8h-8.3zM932.1 123.8h90.3v3.8h-90.3zM1042.1 123.8h10.3v3.8h-10.3zM1116.1 123.8h2.3v3.8h-2.3zM928.1 127.4h102.3v3.8h-102.3zM1036.1 127.4h14.3v3.8h-14.3zM1118.1 127.4h2.3v3.8h-2.3zM926.1 131h120.3v3.8h-120.3zM1118.1 131h2.3v3.8h-2.3zM1228.1 131h46.3v3.8h-46.3zM924.1 134.6h120.3v3.8h-120.3zM1214.1 134.6h66.3v3.8h-66.3zM920.1 138.1h118.3v3.8h-118.3zM1208.1 138.1h76.3v3.8h-76.3zM916.1 141.7h94.3v3.8h-94.3zM1202.1 141.7h84.3v3.8h-84.3zM912.1 145.3h92.3v3.8h-92.3zM1120.1 145.3h2.3v3.8h-2.3zM1198.1 145.3h90.3v3.8h-90.3zM908 148.9h92.3v3.8h-92.3zM1120.1 148.9h2.3v3.8h-2.3zM1194.1 148.9h96.3v3.8h-96.3zM898 152.4h100.3v3.8h-100.3zM1120.1 152.4h2.3v3.8h-2.3zM1188.1 152.4h102.3v3.8h-102.3zM874 156h120.3v3.8h-120.3zM1120.1 156h4.3v3.8h-4.3zM1180.1 156h108.3v3.8h-108.3zM872 159.6h120.3v3.8h-120.3zM1122.1 159.6h4.3v3.8h-4.3zM1176.1 159.6h110.3v3.8h-110.3zM870 163.2h122.3v3.8h-122.3zM1122.1 163.2h6.3v3.8h-6.3zM1172.1 163.2h106.3v3.8h-106.3zM1640.2 163.2h10.3v3.8h-10.3zM870 166.8h122.3v3.8h-122.3zM1122.1 166.8h10.3v3.8h-10.3zM1166.1 166.8h104.3v3.8h-104.3zM1636.2 166.8h16.3v3.8h-16.3zM870 170.3h124.3v3.8h-124.3zM1122.1 170.3h136.3v3.8h-136.3zM1636.2 170.3h16.3v3.8h-16.3zM872 173.9h124.3v3.8h-124.3zM1122.1 173.9h96.3v3.8h-96.3zM1642.2 173.9h6.3v3.8h-6.3zM902 177.5h94.3v3.8h-94.3zM1120.1 177.5h94.3v3.8h-94.3zM914.1 181.1h84.3v3.8h-84.3zM1064.1 181.1h150.3v3.8h-150.3zM940.1 184.6h60.3v3.8h-60.3zM1058.1 184.6h154.3v3.8h-154.3zM944.1 188.2h58.3v3.8h-58.3zM1054.1 188.2h12.3v3.8h-12.3zM1118.1 188.2h92.3v3.8h-92.3zM948.1 191.8h56.3v3.8h-56.3zM1048.1 191.8h14.3v3.8h-14.3zM1122.1 191.8h88.3v3.8h-88.3zM952.1 195.3h106.3v3.8h-106.3zM1124.1 195.3h86.3v3.8h-86.3zM958.1 198.9h98.3v3.8h-98.3zM1124.1 198.9h86.3v3.8h-86.3zM966.1 202.5h84.3v3.8h-84.3zM1126.1 202.5h82.3v3.8h-82.3zM978.1 206.1h68.3v3.8h-68.3zM1128.1 206.1h80.3v3.8h-80.3zM982.1 209.6h58.3v3.8h-58.3zM1130.1 209.6h78.3v3.8h-78.3zM986.1 213.2h50.3v3.8h-50.3zM1134.1 213.2h74.3v3.8h-74.3zM988.1 216.8h44.3v3.8h-44.3zM1154.1 216.8h52.3v3.8h-52.3zM992.1 220.4h38.3v3.8h-38.3zM1162.1 220.4h44.3v3.8h-44.3zM996.1 223.9h32.3v3.8h-32.3zM1162.1 223.9h44.3v3.8h-44.3zM1000.1 227.5h28.3v3.8h-28.3zM1162.1 227.5h44.3v3.8h-44.3zM1004.1 231.1h20.3v3.8h-20.3zM1162.1 231.1h44.3v3.8h-44.3zM1010.1 234.7h8.3v3.8h-8.3zM1154.1 234.7h52.3v3.8h-52.3zM1134.1 238.2h72.3v3.8h-72.3zM1132.1 241.8h74.3v3.8h-74.3zM1130.1 245.4h76.3v3.8h-76.3zM1128.1 249h78.3v3.8h-78.3zM1126.1 252.6h80.3v3.8h-80.3zM1126.1 256.1h80.3v3.8h-80.3zM1126.1 259.7h78.3v3.8h-78.3zM1126.1 263.3h78.3v3.8h-78.3zM1170.1 266.8h34.3v3.8h-34.3zM1176.1 270.4h26.3v3.8h-26.3zM1180.1 274h20.3v3.8h-20.3zM1186.1 277.6h8.3v3.8h-8.3zM1094.1 299h14.3v3.8h-14.3zM1088.1 302.6h22.3v3.8h-22.3zM1084.1 306.2h28.3v3.8h-28.3zM1078.1 309.7h36.3v3.8h-36.3zM1076.1 313.3h12.3v3.8h-12.3zM1102.1 313.3h14.3v3.8h-14.3zM1074.1 316.9h8.3v3.8h-8.3zM1106.1 316.9h12.3v3.8h-12.3zM1240.1 316.9h24.3v3.8h-24.3zM1074.1 320.5h4.3v3.8h-4.3zM1110.1 320.5h10.3v3.8h-10.3zM1220.1 320.5h46.3v3.8h-46.3zM1072.1 324h6.3v3.8h-6.3zM1110.1 324h12.3v3.8h-12.3zM1216.1 324h18.3v3.8h-18.3zM1262.1 324h6.3v3.8h-6.3zM1384.2 324h26.3v3.8h-26.3zM1700.3 324h6.3v3.8h-6.3zM928.1 327.6h16.3v3.8h-16.3zM1072.1 327.6h4.3v3.8h-4.3zM1112.1 327.6h14.3v3.8h-14.3zM1216.1 327.6h10.3v3.8h-10.3zM1264.1 327.6h4.3v3.8h-4.3zM1372.2 327.6h16.3v3.8h-16.3zM1408.2 327.6h8.3v3.8h-8.3zM1688.3 327.6h30.3v3.8h-30.3zM926.1 331.2h22.3v3.8h-22.3zM1072.1 331.2h4.3v3.8h-4.3zM1116.1 331.2h12.3v3.8h-12.3zM1216.1 331.2h8.3v3.8h-8.3zM1266.1 331.2h4.3v3.8h-4.3zM1368.2 331.2h10.3v3.8h-10.3zM1414.2 331.2h8.3v3.8h-8.3zM1678.3 331.2h22.3v3.8h-22.3zM1708.3 331.2h14.3v3.8h-14.3zM926.1 334.8h26.3v3.8h-26.3zM1072.1 334.8h4.3v3.8h-4.3zM1118.1 334.8h10.3v3.8h-10.3zM1218.1 334.8h6.3v3.8h-6.3zM1266.1 334.8h4.3v3.8h-4.3zM1366.2 334.8h6.3v3.8h-6.3zM1418.2 334.8h8.3v3.8h-8.3zM1672.3 334.8h20.3v3.8h-20.3zM1716.3 334.8h12.3v3.8h-12.3zM924.1 338.3h32.3v3.8h-32.3zM1070.1 338.3h6.3v3.8h-6.3zM1120.1 338.3h10.3v3.8h-10.3zM1218.1 338.3h8.3v3.8h-8.3zM1268.1 338.3h4.3v3.8h-4.3zM1364.2 338.3h6.3v3.8h-6.3zM1420.2 338.3h10.3v3.8h-10.3zM1538.2 338.3h16.3v3.8h-16.3zM1670.3 338.3h14.3v3.8h-14.3zM1720.3 338.3h12.3v3.8h-12.3zM768 341.9h6.3v3.8h-6.3zM924.1 341.9h36.3v3.8h-36.3zM1070.1 341.9h6.3v3.8h-6.3zM1120.1 341.9h12.3v3.8h-12.3zM1220.1 341.9h6.3v3.8h-6.3zM1268.1 341.9h4.3v3.8h-4.3zM1364.2 341.9h4.3v3.8h-4.3zM1422.2 341.9h10.3v3.8h-10.3zM1534.2 341.9h24.3v3.8h-24.3zM1666.3 341.9h10.3v3.8h-10.3zM1724.3 341.9h10.3v3.8h-10.3zM766 345.5h30.3v3.8h-30.3zM924.1 345.5h40.3v3.8h-40.3zM1070.1 345.5h6.3v3.8h-6.3zM1122.1 345.5h10.3v3.8h-10.3zM1220.1 345.5h6.3v3.8h-6.3zM1268.1 345.5h4.3v3.8h-4.3zM1364.2 345.5h4.3v3.8h-4.3zM1424.2 345.5h10.3v3.8h-10.3zM1532.2 345.5h28.3v3.8h-28.3zM1666.3 345.5h8.3v3.8h-8.3zM1726.3 345.5h10.3v3.8h-10.3zM764 349.1h36.3v3.8h-36.3zM922.1 349.1h44.3v3.8h-44.3zM1068.1 349.1h8.3v3.8h-8.3zM1120.1 349.1h12.3v3.8h-12.3zM1218.1 349.1h8.3v3.8h-8.3zM1268.1 349.1h4.3v3.8h-4.3zM1364.2 349.1h4.3v3.8h-4.3zM1424.2 349.1h14.3v3.8h-14.3zM1530.2 349.1h32.3v3.8h-32.3zM1664.3 349.1h8.3v3.8h-8.3zM1728.3 349.1h10.3v3.8h-10.3zM766 352.6h36.3v3.8h-36.3zM922.1 352.6h48.3v3.8h-48.3zM1068.1 352.6h8.3v3.8h-8.3zM1120.1 352.6h12.3v3.8h-12.3zM1218.1 352.6h8.3v3.8h-8.3zM1268.1 352.6h6.3v3.8h-6.3zM1364.2 352.6h4.3v3.8h-4.3zM1426.2 352.6h14.3v3.8h-14.3zM1528.2 352.6h36.3v3.8h-36.3zM1664.3 352.6h10.3v3.8h-10.3zM1728.3 352.6h14.3v3.8h-14.3zM766 356.2h36.3v3.8h-36.3zM920.1 356.2h52.3v3.8h-52.3zM1066.1 356.2h10.3v3.8h-10.3zM1120.1 356.2h14.3v3.8h-14.3zM1214.1 356.2h12.3v3.8h-12.3zM1268.1 356.2h6.3v3.8h-6.3zM1362.2 356.2h6.3v3.8h-6.3zM1426.2 356.2h14.3v3.8h-14.3zM1526.2 356.2h40.3v3.8h-40.3zM1664.3 356.2h12.3v3.8h-12.3zM1728.3 356.2h20.3v3.8h-20.3zM768 359.8h34.3v3.8h-34.3zM920.1 359.8h54.3v3.8h-54.3zM1066.1 359.8h10.3v3.8h-10.3zM1118.1 359.8h16.3v3.8h-16.3zM1212.1 359.8h14.3v3.8h-14.3zM1266.1 359.8h8.3v3.8h-8.3zM1362.2 359.8h6.3v3.8h-6.3zM1428.2 359.8h14.3v3.8h-14.3zM1526.2 359.8h42.3v3.8h-42.3zM1664.3 359.8h14.3v3.8h-14.3zM1730.3 359.8h22.3v3.8h-22.3zM770 363.4h30.3v3.8h-30.3zM918.1 363.4h60.3v3.8h-60.3zM1064.1 363.4h12.3v3.8h-12.3zM1116.1 363.4h20.3v3.8h-20.3zM1206.1 363.4h20.3v3.8h-20.3zM1266.1 363.4h10.3v3.8h-10.3zM1362.2 363.4h6.3v3.8h-6.3zM1428.2 363.4h16.3v3.8h-16.3zM1524.2 363.4h46.3v3.8h-46.3zM1662.3 363.4h18.3v3.8h-18.3zM1730.3 363.4h26.3v3.8h-26.3zM916.1 366.9h90.3v3.8h-90.3zM1064.1 366.9h12.3v3.8h-12.3zM1114.1 366.9h62.3v3.8h-62.3zM1196.1 366.9h30.3v3.8h-30.3zM1264.1 366.9h12.3v3.8h-12.3zM1362.2 366.9h6.3v3.8h-6.3zM1428.2 366.9h20.3v3.8h-20.3zM1522.2 366.9h50.3v3.8h-50.3zM1662.3 366.9h20.3v3.8h-20.3zM1730.3 366.9h30.3v3.8h-30.3zM914.1 370.5h98.3v3.8h-98.3zM1062.1 370.5h16.3v3.8h-16.3zM1112.1 370.5h116.3v3.8h-116.3zM1262.1 370.5h16.3v3.8h-16.3zM1360.2 370.5h10.3v3.8h-10.3zM1428.2 370.5h28.3v3.8h-28.3zM1520.2 370.5h52.3v3.8h-52.3zM1658.2 370.5h26.3v3.8h-26.3zM1730.3 370.5h44.3v3.8h-44.3zM910.1 374.1h106.3v3.8h-106.3zM1062.1 374.1h16.3v3.8h-16.3zM1110.1 374.1h118.3v3.8h-118.3zM1260.1 374.1h18.3v3.8h-18.3zM1358.2 374.1h12.3v3.8h-12.3zM1428.2 374.1h32.3v3.8h-32.3zM1520.2 374.1h54.3v3.8h-54.3zM1656.2 374.1h30.3v3.8h-30.3zM1730.3 374.1h48.3v3.8h-48.3zM906 377.7h114.3v3.8h-114.3zM1060.1 377.7h20.3v3.8h-20.3zM1106.1 377.7h122.3v3.8h-122.3zM1258.1 377.7h22.3v3.8h-22.3zM1350.2 377.7h20.3v3.8h-20.3zM1428.2 377.7h32.3v3.8h-32.3zM1518.2 377.7h58.3v3.8h-58.3zM1652.2 377.7h36.3v3.8h-36.3zM1730.3 377.7h50.3v3.8h-50.3zM715 381.2h37.3v3.8h-37.3zM900 381.2h124.3v3.8h-124.3zM1056.1 381.2h26.3v3.8h-26.3zM1104.1 381.2h126.3v3.8h-126.3zM1256.1 381.2h24.3v3.8h-24.3zM1344.2 381.2h26.3v3.8h-26.3zM1428.2 381.2h32.3v3.8h-32.3zM1516.2 381.2h62.3v3.8h-62.3zM1650.2 381.2h40.3v3.8h-40.3zM1730.3 381.2h52.3v3.8h-52.3zM715 384.8h41.3v8.8h-41.3zM896 384.8h188.3v8.8h-188.3zM1102.1 384.8h130.3v8.8h-130.3zM1254.1 384.8h28.3v8.8h-28.3zM1314.2 384.8h10.3v8.8h-10.3zM1338.2 384.8h32.3v8.8h-32.3zM1428.2 384.8h32.3v8.8h-32.3zM1516.2 384.8h64.3v8.8h-64.3zM1648.2 384.8h46.3v8.8h-46.3zM1728.3 384.8h58.3v8.8h-58.3z"/><path fill="#00f" d="M1072.1 109.5h32.3v3.8h-32.3zM1066.1 113.1h40.3v3.8h-40.3zM1062.1 116.7h46.3v3.8h-46.3zM1056.1 120.3h54.3v3.8h-54.3zM1052.1 123.8h64.3v3.8h-64.3zM1050.1 127.4h68.3v3.8h-68.3zM1046.1 131h20.3v3.8h-20.3zM1102.1 131h16.3v3.8h-16.3zM1044.1 134.6h16.3v3.8h-16.3zM1106.1 134.6h14.3v3.8h-14.3zM1038.1 138.1h20.3v3.8h-20.3zM1106.1 138.1h14.3v3.8h-14.3zM1010.1 141.7h46.3v3.8h-46.3zM1108.1 141.7h12.3v3.8h-12.3zM1004.1 145.3h48.3v3.8h-48.3zM1108.1 145.3h12.3v3.8h-12.3zM1000.1 148.9h50.3v3.8h-50.3zM1110.1 148.9h10.3v3.8h-10.3zM998.1 152.4h46.3v3.8h-46.3zM1110.1 152.4h10.3v3.8h-10.3zM994.1 156h40.3v3.8h-40.3zM1110.1 156h10.3v3.8h-10.3zM992.1 159.6h40.3v3.8h-40.3zM1110.1 159.6h12.3v3.8h-12.3zM992.1 163.2h40.3v3.8h-40.3zM1110.1 163.2h12.3v3.8h-12.3zM992.1 166.8h40.3v3.8h-40.3zM1064.1 166.8h58.3v3.8h-58.3zM994.1 170.3h40.3v3.8h-40.3zM1054.1 170.3h68.3v3.8h-68.3zM996.1 173.9h126.3v3.8h-126.3zM996.1 177.5h124.3v3.8h-124.3zM998.1 181.1h66.3v3.8h-66.3zM1000.1 184.6h58.3v3.8h-58.3zM1002.1 188.2h52.3v3.8h-52.3zM1004.1 191.8h44.3v3.8h-44.3zM1088.1 313.3h14.3v3.8h-14.3zM1082.1 316.9h24.3v3.8h-24.3zM1078.1 320.5h32.3v3.8h-32.3zM1078.1 324h32.3v3.8h-32.3zM1234.1 324h28.3v3.8h-28.3zM1076.1 327.6h36.3v3.8h-36.3zM1226.1 327.6h38.3v3.8h-38.3zM1388.2 327.6h20.3v3.8h-20.3zM1076.1 331.2h12.3v3.8h-12.3zM1100.1 331.2h16.3v3.8h-16.3zM1224.1 331.2h42.3v3.8h-42.3zM1378.2 331.2h36.3v3.8h-36.3zM1700.3 331.2h8.3v3.8h-8.3zM1076.1 334.8h10.3v3.8h-10.3zM1100.1 334.8h18.3v3.8h-18.3zM1224.1 334.8h42.3v3.8h-42.3zM1372.2 334.8h46.3v3.8h-46.3zM1692.3 334.8h24.3v3.8h-24.3zM1076.1 338.3h10.3v3.8h-10.3zM1102.1 338.3h18.3v3.8h-18.3zM1226.1 338.3h42.3v3.8h-42.3zM1370.2 338.3h24.3v3.8h-24.3zM1402.2 338.3h18.3v3.8h-18.3zM1684.3 338.3h36.3v3.8h-36.3zM1076.1 341.9h44.3v3.8h-44.3zM1226.1 341.9h42.3v3.8h-42.3zM1368.2 341.9h24.3v3.8h-24.3zM1404.2 341.9h18.3v3.8h-18.3zM1676.3 341.9h48.3v3.8h-48.3zM1076.1 345.5h46.3v3.8h-46.3zM1226.1 345.5h42.3v3.8h-42.3zM1368.2 345.5h56.3v3.8h-56.3zM1674.3 345.5h52.3v3.8h-52.3zM1076.1 349.1h44.3v3.8h-44.3zM1226.1 349.1h42.3v3.8h-42.3zM1368.2 349.1h56.3v3.8h-56.3zM1672.3 349.1h56.3v3.8h-56.3zM1076.1 352.6h44.3v3.8h-44.3zM1226.1 352.6h42.3v3.8h-42.3zM1368.2 352.6h58.3v3.8h-58.3zM1674.3 352.6h54.3v3.8h-54.3zM1076.1 356.2h44.3v3.8h-44.3zM1226.1 356.2h42.3v3.8h-42.3zM1368.2 356.2h58.3v3.8h-58.3zM1676.3 356.2h52.3v3.8h-52.3zM1076.1 359.8h42.3v3.8h-42.3zM1226.1 359.8h40.3v3.8h-40.3zM1368.2 359.8h60.3v3.8h-60.3zM1678.3 359.8h52.3v3.8h-52.3zM1076.1 363.4h40.3v3.8h-40.3zM1226.1 363.4h40.3v3.8h-40.3zM1368.2 363.4h60.3v3.8h-60.3zM1680.3 363.4h50.3v3.8h-50.3zM1076.1 366.9h38.3v3.8h-38.3zM1226.1 366.9h38.3v3.8h-38.3zM1368.2 366.9h60.3v3.8h-60.3zM1682.3 366.9h48.3v3.8h-48.3zM1078.1 370.5h34.3v3.8h-34.3zM1228.1 370.5h34.3v3.8h-34.3zM1370.2 370.5h58.3v3.8h-58.3zM1684.3 370.5h46.3v3.8h-46.3zM1078.1 374.1h32.3v3.8h-32.3zM1228.1 374.1h32.3v3.8h-32.3zM1370.2 374.1h58.3v3.8h-58.3zM1686.3 374.1h44.3v3.8h-44.3zM1080.1 377.7h26.3v3.8h-26.3zM1228.1 377.7h30.3v3.8h-30.3zM1370.2 377.7h58.3v3.8h-58.3zM1688.3 377.7h42.3v3.8h-42.3zM1082.1 381.2h22.3v3.8h-22.3zM1230.1 381.2h26.3v3.8h-26.3zM1370.2 381.2h58.3v3.8h-58.3zM1690.3 381.2h40.3v3.8h-40.3zM1084.1 384.8h18.3v8.8h-18.3zM1232.1 384.8h22.3v8.8h-22.3zM1370.2 384.8h58.3v8.8h-58.3zM1694.3 384.8h34.3v8.8h-34.3z"/><path fill="#0000e8" d="M1066.1 131h36.3v3.8h-36.3zM1060.1 134.6h46.3v3.8h-46.3zM1058.1 138.1h48.3v3.8h-48.3zM1056.1 141.7h52.3v3.8h-52.3zM1052.1 145.3h56.3v3.8h-56.3zM1050.1 148.9h60.3v3.8h-60.3zM1044.1 152.4h66.3v3.8h-66.3zM1034.1 156h76.3v3.8h-76.3zM1032.1 159.6h78.3v3.8h-78.3zM1032.1 163.2h78.3v3.8h-78.3zM1032.1 166.8h32.3v3.8h-32.3zM1034.1 170.3h20.3v3.8h-20.3zM1088.1 331.2h12.3v3.8h-12.3zM1086.1 334.8h14.3v3.8h-14.3zM1086.1 338.3h16.3v3.8h-16.3zM1394.2 338.3h8.3v3.8h-8.3zM1392.2 341.9h12.3v3.8h-12.3z"/></g>
<path d="M1085.3 94.8v44.1M762.3 188.1v6.4M1198.9 317.9v7.4M1427.7 357.7v36M1821.2 60.4v72.3M923.9 236.9v42.7M1337.9 65.7v6.3M1542.8 140v92.5M1191.6 294.9v8.1M1450 372.7v66.8M1155.2 265.7v6M1644.1 330.1v13M1124.7 336.8v88.6M918.8 121.5v10.9M1384.5 131.7v6M1301.5 248.8v47.2M790.2 67.2v9.9M1103.6 62.3v6M1412.7 94v11.7M1245.6 204.7v6.7M1106.5 132.4v67.8M746.1 358.8v31.1M1693.8 274.7v12.1M975.8 215.8v17.4M1797.2 165.3v10.4M1095.1 309.3v91M1172.8 357.4v53.3M1115.3 226.1v7.5M1209.3 332.7v67.4M1310.5 51.2v23.4M724.4 308.7v8.7M1353.6 295.8v80.9M1508.7 334.3v85.9M1351.1 356.3v69.5M857.2 190.9v6.5M894.2 281.3v45.2M902.1 187.4v29.9M940.8 150.1v52.9M1345 190.4v6M1609.3 365.7v7M764.7 302.1v12.6M1196.3 345.8v66.4M820.9 64v48.6M1022.1 87.6v31M843.5 98.3v6.2M1071.9 145.7v57.9M1284.1 103.7v16.8M933.7 201.7v84.6M1176.5 159.7v6.3M799.8 289.5v11.9M1038 124.9v13.7M1069.2 162.7v6M725.6 132.2v6.7M767 52.4v14.3M1527.6 335.1v19.7M979.4 55.3v7.6M1426.4 269.6v27.5M1463.7 66.8v54.9M804 132.6v53.9M1554.5 367v28M1445 70.6v8M1558.3 145.5v35M1482.2 141v30M1246 84.1v77.9M1823.3 354v6M1644.8 364.5v24.2M879.9 217.9v87.7M981 341.2v27.3M724.1 207.3v24.3M722 292.7v69.4M1765 280.3v79.2M1126.9 186.3v12.8M1001.2 132.7v29.5M1531.7 61.3v54.3M1569 257.7v13.4M1765.4 87v26.1M1055.9 288.9v91.8M1460 144.3v34M1227.6 91.1v9.3M1105.7 75.1v11.1M1362.5 337.8v56.6M1186.9 218v18.8M790 136.6v90.3M1287.8 252.8v73M1025.7 127v20.4M1796 325.1v74.6M756.4 279.1v78.2M1651.3 327.3v91.1M982.3 348.6v43.5M1157.8 118.8v38.5M1716.9 201.9v11M1803.6 277.5v14.5M1282.1 267.6v21.9M1472.8 350.3v10.6M1101.3 183.8v47.9M1619.1 288.9v28.9M1814 147.9v66.5M1279.2 106.8v10.5M1470.5 358.1v7.9M960.2 366.5v7.8M1546.5 374.2v84.1M929.3 353.8v56.1M1469.5 169.9v18.6M910.9 45.9v13M1797.8 85.8v89.7M1122.3 316.1v66.8M937.7 165.2v78.4M1183.4 312.9v58.9M759.3 65.7v82.2M1562.9 341.5v16.3M1753.8 254.2v86.1M1156 127.8v22.6M1648.1 300v39.2M1080.5 164.4v61.1M942.6 293.5v11.5M1716.6 371v12.3M828.8 209.5v51.3M1563.7 324.5v45.7M1668.5 141.9v34.9M1552.5 110.7v11.5M892.9 336.8v36.1M1166.8 372.5v29.2M1631.9 260.6v94.4M765.5 141.9v7.3M1817.5 237.5v83.9M965.5 166.7v7.8M1007.5 242.8v44.2M732.8 153v47.4M1072.3 232v17.5M1694.9 373.9v17.9M1138.3 211.5v7.9M1307.9 350.4v7.1M1627.8 364.1v9.5M1783.8 366.9v27M1650.1 97.9v61.6M1176.3 324.3v67.9M966.1 176.9v30.1M766.4 230.6v57.6M1200.2 262.4v24M746.4 249.2v27.6M1581.3 302.4v24.9M1253.8 80.3v7.5M823.5 190.8v29.4M1297 62.9v28.9M1274.8 360.7v81.5M1609.3 352.1v6.4M1573 97.4v78.3M955 131.7v29M849.8 220.1v42.4M838 372.7v41.7M1126.4 297.3v23.6M1558.8 60.9v66.5M1072.7 45.6v6.1M868.9 120v44.4M723 162.1v7M973 237.6v37.2M1702.8 303.1v20.5M733 257.8v34.5M733.9 226.8v85.7M1637.5 102.6v14.6M727.2 323.7v56M1556.7 194.3v10.6M1504.1 324v51.6M1019.3 256.9v89.8M1712.7 50v12.1M1559.1 356.8v56.1M1213.2 284.1v35.3M1109 91.8v6.1M1751.5 356.6v7M1435.3 317.3v41.9M832.7 77.3v57.6M1080 184.8v6M1038.8 281.2v18.2M1111.2 277.5v32M1692.6 75v66.5M1013.9 356.5v13.2M1428.3 162.4v20.5M1724.4 73.4v77M1147.9 336.7v10.9M1466.8 289.9v8.6M1592.4 236.1v7.4M1718.4 123.5v9.3M1513.2 323.4v8.2M999.3 152.8v30.5M834.8 362.6v6.9M1829.8 307.3v54.4M941.3 255.5v7M1502.2 210.2v42M1430.2 127.5v22.1M926.5 261v60.5M1121 63.7v12.8M1643.5 314.3v25.7M1338.4 86.3v68.6M1679.6 133.3v18.7M1037.2 125.8v14.2M1203.3 255.3v45.1M1459.9 127.5v6.9M983.5 301.2v16.8M1346.1 132.3v10.9M1276.2 64.3v25.6M1470.5 322.4v18.7M1092.8 369v29.5M1101.9 329.4v18.1M1312.8 299.3v10M1196.5 227.8v67.5M1653.7 178.2v28.8M1719 225v6.2M1488.1 115.1v46M1580.3 78.4v9M1593.7 346.6v44.7M1647.9 304.6v34.4M1060.7 184.2v15.1M1756.2 192.3v6M1387.7 354.4v92.6M1185.2 78.7v43.4M865.5 50.9v52.6M1524.9 327.3v53.9M1006.6 363.2v52.3M736.6 259.7v66.1M1129.8 257.8v41.7M1822.6 319.3v38.5M1398.8 340.7v64.7M1635.7 331.2v35.4M946.1 292.6v84.1M1404.6 268.6v25.5M1007.3 292.9v62.4M818.9 311.2v59.7M1257.6 239.5v9.2M1174 215.7v8M1608.1 96.5v38.1M1696.9 205.5v35M1643.6 362.9v11.8M946.7 104.6v6.6M1746.4 66.2v38.2M1442.6 360.6v46.4M970.1 57.7v11.9M1738.3 343.5v69.1M838.9 151.9v11.9M1262.9 100.6v11.1M1484.4 49.2v52.3M1697.7 338.3v7.8M1230.2 157.1v67M1428.6 92.1v10.4M1020.5 180.9v8.2M1667 155.4v8.5M784.1 340.4v46.2M1258.6 139.5v12M830.1 140.5v78.3M1539.5 141.9v92.2M1630.3 157.5v7.8M1658.8 218.8v9.1M1748.7 117v35.4M923.2 299.2v51.6M809.4 73.8v39.3M1635.5 237.4v9.7M1546.5 179.7v52.9M1276.1 50.1v80.6M789 333v87.9M1299 220.1v32M1811.3 118.8v9M1002.5 314.7v6.1M1370.3 217.6v50.4M1700.8 281.6v6.2M1276.8 210.2v13M886.1 234v56.2M1651.7 354.4v19.6M1596.4 156.7v11.2M1800.5 353.3v11.6M1433.7 165.3v31.4M1208.5 211.6v6M1632.9 336.8v76.4M1443.7 132.7v47.4M1331.7 350v40.7M1306.9 188.1v87.4M1798.5 214.5v12.5M1322.2 94v7.4M1051.2 179.2v13.5M1239.9 225.8v39.8M1152.2 238.3v6M1692.2 123.7v33.9M898.9 67v74.3M1553.3 290.3v57.9M1605.4 278.8v81.3M1281.6 362.7v35.4M1604 333v39.2M1230.2 196.1v53.1M1160.7 228.3v19.3M1607.8 325.4v28.5M1376 74v82.2M1671.3 321.6v88.7M1201 345.5v6M1367.5 335.3v89.7M1216.5 251.1v95.3M1318 314.2v8.6M1823.7 317.6v29.6M1721.8 183.9v8.2M1297.1 211.6v9.2M1066 272.9v6M1670 238.4v46.2M1319.5 374v35.7M857.1 96.7v57.9M1411.5 311.2v6.3M1589.2 151.5v52.1M1376.8 160.1v24.2M1215.9 249.7v11.6M1279 358.4v11.3M1266.4 306.6v11.3M1124.3 106.6v91M1353.4 82.9v31.6M1116.2 125.8v9.3M987.5 56.5v45.7M895.8 277.9v6.8M1289.4 120v24.4M1135.1 126.3v39.3M1360.3 147.6v19.7M1055 66.8v14.7M862.3 281.5v13.2M1508.8 127v70.5M1548 280.2v6.1M902.8 110.4v14.3M764.3 147.6v42.7M1666.9 233.2v52.2M1210.6 270.8v17M1661.1 301.2v13.4M1683.5 245.4v6.2M1565.5 73.4v49.4M1563.3 318.5v13.1M1553.2 318.9v41.5M1766.9 87.1v58.2M1813.5 255.4v32.6M787 163.1v21.3M988.3 124.8v29.9M849.1 140.5v17.7M1225.4 82.3v15.5M1129.4 100.5v6.5M1825.7 231v7.1M1209.8 107.6v32.5M1456.1 128v11.4M751.2 300.6v69.4M1088.5 105.9v67.3M1277.7 209.8v8.2M1375.5 71.5v48.6M1219.9 365v6.7M1215.8 108v53M1668.4 327.3v61.7M1039.5 263.3v29.8M1739.7 99.3v13.9M1355.5 159.9v9.4M1055.1 233.5v87.7M751.4 107.3v47.5M1189.7 219.9v34.7M846.6 329.5v11.8M1383.8 71.5v21M835.2 319v19.8M1802.9 230.8v60.1M1595.5 64v11.1M737.1 241.1v10.1M1487.6 317.5v7.4M1551.6 357.8v52.9M847.4 350.4v47M1497.8 311.7v87M1486.5 174.5v26.4M1384.6 59.4v8.6M1247.6 235.4v19.5M726.8 236.1v16M1238.2 370.5v6.2M1554.2 212.9v42.3M1341.2 179v6.3M1084.6 371.2v26.9M994.6 122.5v17M728.2 332.4v24.5M1361.5 144.8v8.6M796.4 204.9v78.8M1010.5 52.6v8.4M1514.6 117v20.4M1400.1 330.1v43.8M1547.8 362.8v38.5M1633.1 333.9v16.5M1452 178.8v47.5M1097.3 208.1v38.2M1091.3 75.8v8.2M1585.4 74.7v65.6M1398.6 154.2v55.4M1522.5 296.9v60.2M1591.5 367.5v24.5M1310.3 355.5v7.6M1256.7 261.3v59.9M1836.2 120.3v57.5M1346.3 105v85.5M902.8 54.6v60.5M1828.1 209.6v42.4M972.8 128.1v12.2M896.8 329.8v74M1567.7 316.5v13.2M830 100.7v48M1497.7 57.5v28.9M1077 334.9v7.3M886.9 288.6v28.6M1118.8 208.8v82M1027.9 103.5v12.3M1706 281.9v20.3M1192.8 366.1v19.5M1182.4 92.2v95.7M1145.2 124.5v9.5M1671 303.7v80.3M984.4 252.7v55.7M1253.9 283.1v30.5M1311 219.1v65.5M1653.4 340v73.8M1150.1 319.6v66.2M893.5 128v7M1626 217v24.5M1166.2 374v49.5M1259.6 308.4v57.8M1487.2 166.1v30.4M1138.2 157.2v19.1M946.6 233.3v6.3M1530.1 135.6v15.4M1139.2 59.5v23.6M1140 264.6v15.8M1572.8 170.2v30.9M1241.7 197.5v69.4M1254.2 338.8v23.4M1587.7 299.1v7.3M807 314.8v6.9M726.8 371.3v12.8M1296.4 183.7v6.2M1697.7 309.7v72M947.9 62.2v31.9M1243.6 206.4v36.7M777.7 148.7v31.6M785.1 188.1v42.8M1693 68.7v38M1760.5 230.1v63.7M1480.1 267.7v13.8M1665.6 93.1v81.8M767.1 320.9v13.8M1376.6 150.2v34.3M1748.6 152v69.7M1621.7 368.4v19.8M825.6 198.3v53.7M1485.8 82.7v67.8M1048 159.8v56.7M1394.3 223.4v6.7M1025.9 339.7v70.3M1108.4 356.7v44.8M921.8 304.9v14M1118 168.7v45.6M1705.2 203.5v8M1291.7 166.1v9.5M978.6 292.5v8.1M754.9 174.8v30.2M1724.5 72.8v36.1M1391.5 303.7v51.5M997.2 242.7v93M1417.4 273.3v65.7M1634.3 197.4v82.3M1780.7 181v20.9M996.2 287.1v47.5M1108.4 91.3v9.5M1004.3 321.7v10.8M725.1 206.4v6M1636.4 183.2v38.9M1418.5 141.4v6.7M927.7 134.6v88.5M1835.1 107.5v68.1M1232.8 312.1v11.7M1128.1 263.2v41.9M1309 268.3v80.1M1725.2 285.5v56.6M883 238.9v35.9M1162.4 291.6v43M1580 141.1v32.7M1709.7 98.5v55.1M1071.9 62.7v14M1810.7 362.5v9.2M1784.5 110.1v15.3M842.3 130.9v20" stroke="#7ff" stroke-opacity=".2" stroke-width="1.1" fill="none"/>
<path d="M1324.5 165.7v6.3M1487.5 186.1v14.9M1231.2 143.9v62.8M764.2 265.5v58.6M1707.5 148.5v49.5M1254.8 264.2v6.3M909.6 83.6v6.3M1136.5 231.9v87.8M1734.7 302.4v74.8M1162.6 176.7v7M908.4 299.7v31.5M1681.8 311v66.3M751.5 137.2v12M1668 203.2v44.4M815.6 263v80.5M1566.2 202.8v8.9M884.9 317.7v92.5M1004.1 141.7v11.2M1194.5 347.8v28.6M1538 228.6v15.6M1346.5 303.8v7M1000.3 136.4v59.7M1410.9 211.8v29.6M888.5 348.3v35.3M1002.5 50.1v54.4M1106.6 319.7v51M815.3 322.6v74.2M1255.4 210.9v9.6M1380.5 219.6v56.7M1830.8 94.3v53.2M769.4 320.6v77.6M1547.8 313v7.7M1378.8 339.6v48M838.3 320.8v34.1M1619.8 291.9v28.8M1260.3 270.6v58.9M788.4 133.7v46.6M956.7 357v10M1645.2 212.9v76.8M1139.9 174.7v95.8M1431.7 346.4v85.6M843 95.9v30.6M1782 283.2v43.7M1235.9 227v6.1M864.3 128.1v42.4M846.5 68.2v30.8M1060.1 197v88.8M1800.3 248.6v12.2M1077 136v6M1766.9 105.4v64M984.2 182.6v40.6M1697 193.2v12.1M1786.8 79.9v38M1072.2 112.1v62.9M791.4 78.5v20.1M1441 75.1v8.4M1239.9 98.6v6M1442.7 345.2v6.7M1764.7 173v79.6M1665.5 83.9v38.3M1427.3 146.1v21.9M1437.9 72.1v54.4M1486.7 340.5v8.6M1619.8 132.4v94.3M1441.1 369.7v36.9M994.8 94.3v6.8M1448.2 191.4v85M1000.3 343.2v6.2M1178 123.4v6.3M945.1 245.7v29.1M774.7 338.5v61.2M982 57.8v16.1M1344.7 188.9v61.9M1501.3 254.2v49.7M1807.4 211.2v71.2M754.9 181.3v23.1M724.9 207v27.7M1509 209.4v7.1M811.2 305v49.7M952.5 131.9v79.1M1319.6 294v57M1090.1 107.5v91.6M1158 56.2v20.3M880 244.2v20.7M1744.2 186.9v35.7M1593.1 276v71.4M1443.7 194.8v14.8M830.4 183.5v61.1M1272.5 366.6v6.1M901.4 303v85.6M834 234.6v32.3M1297.8 256v67.8M1182.9 357.8v10M735 183.1v21.9M1117.2 132.5v10.5M1162.1 115v7.5M1633.2 254.3v25.8M974.9 363.1v17.2M1200.6 106.3v6M1608.9 321.8v9.5M727.5 322.5v25.7M1803.6 69.9v42.5M1732.4 56.2v52.4M1291.2 366.7v44.6M1093.3 149.6v14.1M1436.1 303.8v6.1M727 107.7v82.4M1462.2 305.4v80.5M1415.6 251.8v49.6M1443.9 353.2v6.3M764.4 84.2v65.1M891.2 50.1v6M1547.5 106.8v6.2M1268.6 64.7v18.2M1214.9 268.4v7.9M1155.1 304.5v86.4M1513.3 318v15.9M1203.4 338.1v18.8M721.9 131.8v22.1M1111.3 73.1v33.6M1373.8 341v76.5M923.8 276.4v17.8M1844.8 168.4v7M1598.9 185.6v86.6M855.3 361.6v12M1483.5 143.6v37.5M829.4 351.5v69.8M1028.9 113v39.8M1134.1 99v18.4M725.2 216.5v23.9M1082.1 279.7v19.1M1508.4 109.4v6M1639.4 324.7v6.3M1813.8 301.3v85M1064.5 258.7v7.3M819.1 225.3v69.5M1363.2 259.6v9.6M1070.2 124.9v10.4M1041.3 370.9v13.9M790 173v23.4M843.2 119.3v88.8M894.3 156.2v17.2M1415.2 325.5v66.7M1702.3 46.4v58.8M927.8 145.3v7.9M1357.2 209.1v82.2M1327.4 374.4v30.1M1492.9 173.5v17.5M1116 357.8v47.2M831.6 168.6v20.5M1438 59v21.2M1281.6 227.6v12.4M1628 97.5v17.2M1516.9 131.1v78.8M1704.1 85.5v29.7M1025 299.7v19.3M919.7 325.8v15.3M842.9 230.5v17.8M869.1 136.3v6.1M1468.6 161v21.3M1787.5 184.9v83.9M781.3 275.4v22.5M1512.7 310.9v12.1M1070.3 90.1v51M1338.4 296v8.6M788.1 137.7v9.5M1839.1 292.6v6.6M910 303.9v68.1M990 58.6v34.9M1696.2 366.5v89.3M1635 64.8v47.2M816.1 263v18.5M848.9 104.6v77.3M1318.7 128v27.5M975.6 234v7.1M1215.8 329.9v33.3M1573.8 82.8v94.3M1518 185.6v77.1M909.5 291v16.5M937.9 192.4v69.2M929 227.9v13.6M1149.6 92.6v75M1673.3 174.8v74.6M1476.9 135v12.7M1839.2 56.3v34.3M1704 300.5v42.1M1778.8 269.8v14.3M1060.1 146.8v53.5M1777.4 157.4v82.4M932.3 222.2v75M1761 115v15.6M784.8 181.7v6.2M1242.7 49.5v83.1M1833.9 63.5v39.9M1327.6 239.2v33.7M751.5 89.3v6.3M841.6 287v6.4M1173.3 330.1v6.3M1182.4 348.3v86.4M981 112.1v57.9M1056.7 373.1v10.2M1267.7 339v8.4M956.7 336.6v17.7M730.6 345.8v8M1825 55.9v11M873.2 186.4v8.9M962.7 364.3v76.2M768.7 212.9v21M1129 48.5v48.6M1405.6 350.7v11.8M1503 152v43.6M1076 365.6v6M1523.3 174.9v30.9M1483.9 151.3v41.6M969.5 91.9v83.4M914.4 316.2v25.1M947.5 184.6v62.5M1523.7 142.4v21M1634.6 161.3v19.4M1763.2 108.2v90.9M1736.7 294.8v6.1M1297.3 317.1v46.4M1173.1 58.4v47.6M1569.7 231.3v6.3M1522.1 204.3v6.3M1703.5 93v16.1M1073.1 129.2v72.4M1624 111.1v82.1M1357.2 151.8v12.7M1048.9 279.5v64M1493.7 96.1v6.3M1148.6 256.5v10.5M1761.5 373.7v85.4M1095.8 193.4v11.5M1350.7 76.6v33.4M1391.8 197.3v6.1M829.7 258.4v7.6M1711.6 83.6v28.2M852.6 199.4v8.4M1270.9 306v35.3M1093.4 367.1v95.5M1567.6 255v9.6M1674 304.6v6.8M1113.9 98.5v89.9M1386 188.7v67.3M1702.3 143.7v89.1M1787 83.2v90.4M1493 279.4v19.8M1103.1 241.3v68.9M1164.8 209.9v88.2M833.8 227.4v72.9M1144.9 351.4v77.9M1491 228.9v24M1823.4 259.1v64.3M1149.2 362.8v51.3M1615.2 159.6v7.8M1227.9 321.2v42.5" stroke="#00b" stroke-opacity=".17" stroke-width="1.1" fill="none"/>
<path d="M882.7 83.9v14.6M995.3 234.6v30.8M1374.1 195.5v69.5M865.9 126.7v19.8M810.9 193.2v33.2M834.5 165v6.1M1130.8 85.5v70.9M1332.7 53.9v31.1M1091.9 118.6v65.3M1798.9 192.6v85M941.9 112.4v41.1M863.3 94.9v79.7M1815.2 259.4v31M1012.6 183.3v7.5M1119.1 196.2v36.6M1230.2 221v26.6M802.5 265.9v61.3M1715.8 364.3v10.3M1169.2 205.8v94.2M1423.8 214v6.4M801.7 354.7v42.2M814.5 327.6v6.4M1231.9 156.9v33.5M1643.7 187.6v28.1M1163.4 212.2v48.6M897.7 192.1v12.2M1817.1 225.5v11.4M1288.9 320.5v64.3M878.7 158.5v15M834.7 320.4v13.3M1141.1 360.5v76.4M908.8 98.3v9.9M1280.7 117.6v79.9M1382.3 45.1v19.8M969.8 296v13.8M787.8 174.8v78.6M775.6 201.2v18.5M983.8 201.8v88.4M758.2 227.4v15.6M1255.5 315.3v69.6M1182.2 138.5v14.5M1541.2 112.2v6M1198 315.7v20.9M858.8 126.5v53.3M1792.6 89.9v72.1M1545.8 313.9v9.4M1640 92.4v28.7M761.5 105.1v8.3M1704.7 228.2v36.3M1414.9 187.6v29.7M1423.8 201.7v7.6M1712.8 153.4v11.1M1431.4 273.6v45.8M1249.6 322.1v49.8M959.1 250.5v6.5M883.1 53.9v7M794.2 239.9v17.9M1644.5 339.1v6.4M846.3 56.4v70.7M721.5 111.7v58.3M928.1 208.2v16.8M1113.1 152.8v8.2M1195.1 120.4v52.9M1421.1 180.1v47M1162.7 296.7v7.3M1780.2 218.9v10.3M1767.6 327v6.3M1741.7 303.7v7.8M1434.2 49.9v6M1739.8 306.3v8.5M1406.2 302.8v46.2M1318.7 289.8v23.3M1274.3 209.4v32.2M752.2 246.2v47.9M857.2 363.9v6.7M1429.1 279v25.1M1070.9 285.7v8.5M1359.4 141.5v6.3M1640.4 337.9v6.2M1680.1 311.3v48.2M1305.9 51.8v6.1M1348.7 332.3v24.9M1225.7 97.7v89.9M1607 279.2v43.6M782.9 92.8v57.3M760.6 351.1v10.4M1525.1 227.6v7.9M1078.8 343v7.2M1130.9 372v95.7M1634.4 155.6v69.8M1703.6 132.9v9.1M856.2 280.8v66M1177.6 90.2v37.5M1667.2 218.5v20.1M1211.3 368.8v64.2M1729 272.7v66.6M1430.8 244v17.2M832.9 101.3v30.6M911.1 133v6.9M781.7 338.9v36.6M1770 327.1v14.9M1640.3 145.2v38.7M1530.4 118.1v14.6M1174.8 66.6v7.4M1661.9 87.2v23.7M1145.1 361.3v9.9M1745.3 300.7v76.1M1429.3 104.9v7.2M845.4 306.2v10M1775.6 161v14.1M880 230.9v16M1395.3 197.2v58.8M1757.3 257.7v41.5M929.5 255.6v70.4M1135.7 226.9v18.3M1644.7 277.8v79.7M1102 189.8v45.9M1085.1 197v90.9M1450.2 143.8v16.6M1703.8 230.8v81.8M1401.1 77.9v33.1M848.1 51.9v7.1M1106.2 94.8v28.7M1622.9 56.7v9M805.6 153.7v10.2M1015.6 232.8v31.1M1129.4 137.9v62.9M810.3 104v36.3M1122.7 300.6v22.5M888.4 103.6v55M1623 196.8v15.4M1394.1 194.5v36.2M1693.9 105.2v73.2M1055.7 53.1v7.1M1103 348.1v52.2M1205.6 79.6v6M1333.6 226.1v48.9M1682.7 213.3v37.6M971.8 247.1v12.3M1660.9 75.1v42.4M1191.4 237.7v95.7M1232.8 353.5v23.8M833.8 76.4v61.4M1187.8 262.4v12M1768.8 75.7v27.1M1763 55.7v38.3M911.4 355.7v15.9M949.5 86.9v11.2M1286 338.9v6M1261.1 209.1v60.7M1561 89.5v67.8M1740.6 290.8v68.4M1236.5 123.1v27.8M1615.2 270.3v85.8M1178.2 73.7v44.3M1098.4 115.5v17.3M1510.9 190.9v45.3M856.2 270.4v6.2M972.9 338.7v39.5M1314.7 45.1v8.8M805.6 250.9v23.7M1130.3 367.1v6.3M1086.8 90.2v87.7M1033 98.4v35.8M1806.9 133.1v9.7" stroke="#cff" stroke-opacity=".22" stroke-width="1" fill="none"/>
<path d="M722 45v344M743 45v344M753.5 45v344M762.5 45v344M783.5 45v344M792.5 45v344M795.5 45v344M813.5 45v344M828.5 45v344M836 45v344M842 45v344M845 45v344M854 45v344M858.5 45v344M861.5 45v344M864.5 45v344M870.5 45v344M873.5 45v344M882.5 45v344M885.5 45v344M891.5 45v344M894.5 45v344M899 45v344M920 45v344M923 45v344M932 45v344M936.5 45v344M942.5 45v344M945.5 45v344M960.5 45v344M962 45v344M963.5 45v344M972.5 45v344M978.5 45v344M980 45v344M987.5 45v344M989 45v344M990.5 45v344M1002.5 45v344M1004 45v344M1008.5 45v344M1011.5 45v344M1026.5 45v344M1028 45v344M1029.5 45v344M1034 45v344M1040 45v344M1044.5 45v344M1053.5 45v344M1059.5 45v344M1062.5 45v344M1064 45v344M1073 45v344M1076 45v344M1089.5 45v344M1094 45v344M1107.5 45v344M1109 45v344M1113.5 45v344M1115 45v344M1119.5 45v344M1128.5 45v344M1130 45v344M1133 45v344M1137.5 45v344M1140.5 45v344M1143.5 45v344M1149.5 45v344M1161.5 45v344M1163 45v344M1169 45v344M1172 45v344M1178 45v344M1181 45v344M1184 45v344M1190 45v344M1196 45v344M1202 45v344M1208 45v344M1209.5 45v344M1211 45v344M1232 45v344M1239.5 45v344M1251.5 45v344M1269.5 45v344M1284.5 45v344M1295 45v344M1308.5 45v344M1310 45v344M1314.5 45v344M1320.5 45v344M1332.5 45v344M1335.5 45v344M1349 45v344M1350.5 45v344M1352 45v344M1355 45v344M1356.5 45v344M1365.5 45v344M1367 45v344M1376 45v344M1382 45v344M1392.5 45v344M1394 45v344M1397 45v344M1403 45v344M1404.5 45v344M1406 45v344M1415 45v344M1416.5 45v344M1419.5 45v344M1425.5 45v344M1433 45v344M1443.5 45v344M1445 45v344M1454 45v344M1460 45v344M1463 45v344M1467.5 45v344M1469 45v344M1472 45v344M1476.5 45v344M1478 45v344M1485.5 45v344M1496 45v344M1502 45v344M1505 45v344M1506.5 45v344M1514 45v344M1518.5 45v344M1523 45v344M1527.5 45v344M1529 45v344M1533.5 45v344M1545.5 45v344M1556 45v344M1562 45v344M1563.5 45v344M1565 45v344M1568 45v344M1569.5 45v344M1578.5 45v344M1592 45v344M1595 45v344M1608.5 45v344M1611.5 45v344M1614.5 45v344M1623.5 45v344M1626.5 45v344M1629.5 45v344M1631 45v344M1637 45v344M1640 45v344M1656.5 45v344M1659.5 45v344M1661 45v344M1677.5 45v344M1688 45v344M1689.5 45v344M1694 45v344M1704.5 45v344M1713.5 45v344M1721 45v344M1730 45v344M1743.5 45v344M1746.5 45v344M1749.5 45v344M1751 45v344M1755.5 45v344M1766 45v344M1769 45v344M1772 45v344M1785.5 45v344M1799 45v344M1800.5 45v344M1806.5 45v344M1808 45v344M1809.5 45v344M1812.5 45v344M1820 45v344M1821.5 45v344M1826 45v344M1836.5 45v344M1838 45v344M1839.5 45v344M1841 45v344" stroke="#fff" stroke-opacity=".09" stroke-width="1.5" fill="none"/>
<path d="M720.5 45v344M731 45v344M737 45v344M740 45v344M750.5 45v344M752 45v344M764 45v344M794 45v344M807.5 45v344M834.5 45v344M840.5 45v344M843.5 45v344M857 45v344M863 45v344M875 45v344M879.5 45v344M909.5 45v344M917 45v344M935 45v344M947 45v344M969.5 45v344M977 45v344M1010 45v344M1046 45v344M1055 45v344M1083.5 45v344M1095.5 45v344M1098.5 45v344M1116.5 45v344M1127 45v344M1166 45v344M1199 45v344M1245.5 45v344M1247 45v344M1250 45v344M1265 45v344M1266.5 45v344M1271 45v344M1275.5 45v344M1287.5 45v344M1311.5 45v344M1316 45v344M1329.5 45v344M1331 45v344M1337 45v344M1347.5 45v344M1362.5 45v344M1368.5 45v344M1385 45v344M1391 45v344M1413.5 45v344M1428.5 45v344M1434.5 45v344M1437.5 45v344M1442 45v344M1458.5 45v344M1473.5 45v344M1487 45v344M1500.5 45v344M1508 45v344M1517 45v344M1539.5 45v344M1557.5 45v344M1581.5 45v344M1599.5 45v344M1602.5 45v344M1617.5 45v344M1625 45v344M1638.5 45v344M1652 45v344M1662.5 45v344M1664 45v344M1679 45v344M1697 45v344M1698.5 45v344M1725.5 45v344M1736 45v344M1745 45v344M1748 45v344M1788.5 45v344M1790 45v344M1805 45v344M1814 45v344M1815.5 45v344M1827.5 45v344M1830.5 45v344M1835 45v344M1845.5 45v344" stroke="#bff" stroke-opacity=".17" stroke-width="1.2" fill="none"/>
<path d="M725 45v344M732.5 45v344M747.5 45v344M759.5 45v344M773 45v344M777.5 45v344M779 45v344M782 45v344M797 45v344M798.5 45v344M804.5 45v344M818 45v344M851 45v344M866 45v344M878 45v344M896 45v344M897.5 45v344M905 45v344M906.5 45v344M921.5 45v344M924.5 45v344M929 45v344M930.5 45v344M933.5 45v344M939.5 45v344M941 45v344M971 45v344M981.5 45v344M986 45v344M993.5 45v344M999.5 45v344M1007 45v344M1019 45v344M1022 45v344M1032.5 45v344M1038.5 45v344M1050.5 45v344M1058 45v344M1065.5 45v344M1071.5 45v344M1077.5 45v344M1079 45v344M1088 45v344M1100 45v344M1142 45v344M1155.5 45v344M1167.5 45v344M1176.5 45v344M1182.5 45v344M1188.5 45v344M1197.5 45v344M1217 45v344M1218.5 45v344M1236.5 45v344M1242.5 45v344M1248.5 45v344M1253 45v344M1268 45v344M1290.5 45v344M1302.5 45v344M1322 45v344M1353.5 45v344M1358 45v344M1370 45v344M1373 45v344M1379 45v344M1409 45v344M1422.5 45v344M1430 45v344M1439 45v344M1446.5 45v344M1448 45v344M1451 45v344M1461.5 45v344M1464.5 45v344M1470.5 45v344M1475 45v344M1479.5 45v344M1481 45v344M1511 45v344M1515.5 45v344M1521.5 45v344M1526 45v344M1532 45v344M1535 45v344M1541 45v344M1553 45v344M1566.5 45v344M1575.5 45v344M1583 45v344M1584.5 45v344M1587.5 45v344M1598 45v344M1604 45v344M1605.5 45v344M1610 45v344M1619 45v344M1643 45v344M1644.5 45v344M1655 45v344M1668.5 45v344M1676 45v344M1700 45v344M1709 45v344M1715 45v344M1727 45v344M1731.5 45v344M1739 45v344M1752.5 45v344M1754 45v344M1761.5 45v344M1764.5 45v344M1767.5 45v344M1773.5 45v344M1832 45v344M1833.5 45v344" stroke="#008" stroke-opacity=".11" stroke-width="1.5" fill="none"/>
<path d="M799 285.7v9.4M781.2 309.2v10.2M776.7 278.2v11.6M787.7 300.7v6.5M801.3 304.1v5M794.3 279.7v11.8M801.5 303.7v6.5M778.1 298.5v10.2M779.6 279.7v10.4M778.6 297.4v6.7M783.5 288.9v9.9M798.9 273.2v12M782.3 283.6v11M797.8 296.6v13.9M781.8 284.4v11.3M783.6 278.3v6.5M800.5 305.1v11.9M806.6 303.8v7.4M785.4 300.8v4.6M795.1 275.6v4.5M792 278.1v14.2M804 290.5v6.2M778.9 292.3v9.7M787 300.7v9.8M800.6 276.2v4.8M787.8 291.3v6.8M1493.4 285.1v7.5M1489.5 322.8v12.5M1487.4 302.4v14.2M1498.7 315.6v5.2M1489.1 317v7.1M1480.7 343.5v14M1482.6 303.9v10.8M1486 273.3v12.3M1495.4 301.7v4.9M1487.9 275.2v14.6M1481 290.2v12.4M1482.7 276.2v4.8M1483.3 309v13.2M1483.4 281.4v12.4M1488.5 294v5.4M1484.9 342.8v5.3M1485.2 325v13.8M1498.1 304.4v14.5M1492.1 290.2v9.1M1494.3 324.5v5.4M1483.9 341.8v5.2M1496.3 294.1v6.7M1485.1 304.1v14.9M1483 333.8v7.5M1483.5 325.3v7.8M1483.8 300.2v13M1497.3 312.3v4.1M1495.3 314.7v13.9M1499 293.2v13.3M1496.4 288.5v8M1486.2 73.8v8.2M1484.7 71v14M1486.5 80v13.8M1488.5 71.4v14.1M1488.8 87.8v12" stroke="#8b0000" stroke-opacity=".8" stroke-width="1.3" fill="none"/>
<path d="M846 328.2v9.1M836.3 289.3v18.4M785.1 303.5v10.4M852.4 286.1v18.5M855.1 334.1v7.2M863.9 322v15.8M835.9 259.3v18.9M825.7 296v10.4M848.7 325.4v18.9M793 285.6v9M781.8 284.4v5.4M850.1 275.4v6.1M778.6 321.7v8.2M817.3 291.2v17.8M865.5 282.9v15.1M859.7 297.3v19.4M843.9 283v19M828.2 264.5v14.4M853.3 301.7v12.7M812.8 334.2v15.6M792.4 287.6v10.8M865.9 317.6v7M861.6 258.1v14.5M814.4 319.6v11.9M781 302.1v18.1M849.3 287.1v8.6M845 327.2v8.5M858.5 344.3v11.9M809.3 318.9v19.9M791.8 282.2v10.3M843.8 271.8v13.7M821 315.2v7.3M865.8 345v14M849.9 271.5v19.6M826 323.4v18.9M807.4 338.2v8.3M774.3 300.2v19.4M860.2 340.9v13.2M863.4 305.4v7.3M833.8 327.3v11.8M831 278.3v9.4M813.2 301.2v12.5M781.1 255.5v10.4M842.3 322.4v8.8M797.1 301.5v7.8M831.1 336.4v8.2M829.4 319.9v17M841.8 319v9.4M854.2 338.3v5.8M864.5 294.8v6.4M1411.6 115.9v15.8M1418.5 100.7v15.2M1499.8 95.1v17.3M1428.3 88.9v7.6M1444 107.8v9.9M1420.4 89.8v6.4M1423.3 94.2v13.1M1422.4 101.6v12M1497.4 101.9v20.1M1449.8 88.9v14.5M1418.7 87.6v6.2M1471.6 123.5v11.5M1438.6 99.1v10.6M1470.6 97.6v7.4M1487.1 105.8v5.1M1485.7 112.8v10.7M1464.8 121.4v11.4M1446.1 93.4v13.9M1468 113.1v20.2M1418.8 96.5v18.6M1480.1 106.6v15.8M1437.3 122.5v13.8M1443.2 88.2v6.8M1490.3 116v5.4M1435.7 101.6v12.9M1439.5 120.3v10.6M1455.5 121.8v15.2M1450.3 95v11.2M1462.9 115.4v9.2M1440.2 97.4v10.8M1491.7 104.3v9.4M1436.6 117v7.6M1470.5 81v8.1M1410.7 116.3v7.4M1426.7 82.6v9.2M1474.7 112.4v19.6M1495 104.8v19.8M1413.5 121.6v11.9M1423.3 113.7v18.7M1441.6 84.2v19M1516.7 311.7v20.6M1478.1 260.3v7M1477.2 322.3v15.1M1482.1 270.4v7.9M1508.9 318.9v20.5M1495.5 348v12M1497.1 279.1v8.7M1528.6 349.5v16.3M1485.5 272.1v7.4M1495 325v5.9M1504.6 319.7v5.5M1499.7 330.1v14.2M1500.4 338.7v14.6M1494.2 292.6v20.1M1522.4 341.9v14M1483.7 271.6v11.1M1513.3 255.4v17.8M1518.4 303.9v5.1M1519.1 294.3v15.7M1506.8 324.2v11.5M1527.8 345.8v19.9M1509.2 285.1v11M1490.5 340.9v17.7M1518.6 333v20.9M1513.2 285.2v17.1M1490.2 313v7.5M1522.3 301.4v9.4M1525.8 262.9v19.9M1516.9 269.2v17.2M1507 341.2v14.4" stroke="#ff8a00" stroke-opacity=".45" stroke-width="1.2" fill="none"/>
<path d="M686.3 44L705.5 74.8H724.1L743.3 44ZM753.2 389L785 345H796L827.8 389ZM837.5 44L856.7 74.8H875.3L894.5 44ZM904.4 389L936.2 345H947.2L979 389ZM988.7 44L1007.9 74.8H1026.5L1045.7 44ZM1055.6 389L1087.4 345H1098.4L1130.2 389ZM1139.9 44L1159.1 74.8H1177.7L1196.9 44ZM1206.8 389L1238.6 345H1249.6L1281.4 389ZM1291.1 44L1310.3 74.8H1328.9L1348.1 44ZM1358 389L1389.8 345H1400.8L1432.6 389ZM1442.3 44L1461.5 74.8H1480.1L1499.3 44ZM1509.2 389L1541 345H1552L1583.8 389ZM1593.5 44L1612.7 74.8H1631.3L1650.5 44ZM1660.4 389L1692.2 345H1703.2L1735 389ZM1744.7 44L1763.9 74.8H1782.5L1801.7 44ZM1811.6 389L1843.4 345H1854.4L1886.2 389Z" fill="#fff"/>
<path d="M725.3 45V389M786.6 45V389M815.6 45V389M824.4 45V389M827.1 45V389M836 45V389M844.8 45V389M864.8 45V389M874.1 45V389M894.6 45V389M926 45V389M1832 45V389M934.8 215V389M943.5 268V389M758.2 303V373M768 340V362" stroke="#eef4ff" stroke-width="1.2" fill="none"/>
</g>
<rect x="720" y="45.2" width="1128.3" height="343.2" fill="none" stroke="#333" stroke-width="0.9"/>
<path d="M715.5 45.2L720 45.2" stroke="#333" stroke-width="0.9"/>
<text x="710" y="54.9" font-size="24.6" text-anchor="end">80°</text>
<path d="M715.5 88.1L720 88.1" stroke="#333" stroke-width="0.9"/>
<text x="710" y="97.8" font-size="24.6" text-anchor="end">60°</text>
<path d="M715.5 131L720 131" stroke="#333" stroke-width="0.9"/>
<text x="710" y="140.7" font-size="24.6" text-anchor="end">40°</text>
<path d="M715.5 173.9L720 173.9" stroke="#333" stroke-width="0.9"/>
<text x="710" y="183.6" font-size="24.6" text-anchor="end">20°</text>
<path d="M715.5 216.8L720 216.8" stroke="#333" stroke-width="0.9"/>
<text x="710" y="226.5" font-size="24.6" text-anchor="end">0°</text>
<path d="M715.5 259.7L720 259.7" stroke="#333" stroke-width="0.9"/>
<text x="710" y="269.4" font-size="24.6" text-anchor="end">-20°</text>
<path d="M715.5 302.6L720 302.6" stroke="#333" stroke-width="0.9"/>
<text x="710" y="312.3" font-size="24.6" text-anchor="end">-40°</text>
<path d="M715.5 345.5L720 345.5" stroke="#333" stroke-width="0.9"/>
<text x="710" y="355.2" font-size="24.6" text-anchor="end">-60°</text>
<path d="M715.5 388.4L720 388.4" stroke="#333" stroke-width="0.9"/>
<text x="710" y="398.1" font-size="24.6" text-anchor="end">-80°</text>
<path d="M720 388.4L720 393" stroke="#333" stroke-width="0.9"/>
<text x="719" y="416" font-size="24.3" text-anchor="middle">2015</text>
<path d="M871.2 388.4L871.2 393" stroke="#333" stroke-width="0.9"/>
<text x="870.2" y="416" font-size="24.3" text-anchor="middle">2016</text>
<path d="M1022.4 388.4L1022.4 393" stroke="#333" stroke-width="0.9"/>
<text x="1021.4" y="416" font-size="24.3" text-anchor="middle">2017</text>
<path d="M1173.6 388.4L1173.6 393" stroke="#333" stroke-width="0.9"/>
<text x="1172.6" y="416" font-size="24.3" text-anchor="middle">2018</text>
<path d="M1324.8 388.4L1324.8 393" stroke="#333" stroke-width="0.9"/>
<text x="1323.8" y="416" font-size="24.3" text-anchor="middle">2019</text>
<path d="M1476 388.4L1476 393" stroke="#333" stroke-width="0.9"/>
<text x="1475" y="416" font-size="24.3" text-anchor="middle">2020</text>
<path d="M1627.2 388.4L1627.2 393" stroke="#333" stroke-width="0.9"/>
<text x="1626.2" y="416" font-size="24.3" text-anchor="middle">2021</text>
<path d="M1778.4 388.4L1778.4 393" stroke="#333" stroke-width="0.9"/>
<text x="1777.4" y="416" font-size="24.3" text-anchor="middle">2022</text>
<text x="647.5" y="219.5" font-size="25" text-anchor="middle" transform="rotate(-90 647.5 219.5)">Latitude</text>
<text x="1282.7" y="36.8" font-size="35" text-anchor="middle">OMPS SAOD</text>
<text transform="translate(965.5 196.5) scale(0.8 1)" font-size="48" font-weight="bold" fill="#fff" font-family="'DejaVu Sans','Liberation Sans',sans-serif">d)</text>
<rect x="1918.2" y="45" width="16.8" height="343.2" fill="url(#gJ)" stroke="#333" stroke-width="0.9"/>
<path d="M1935 388.2L1939.5 388.2" stroke="#333" stroke-width="0.9"/>
<text x="1945.3" y="397.2" font-size="24.7">0.000</text>
<path d="M1935 302.4L1939.5 302.4" stroke="#333" stroke-width="0.9"/>
<text x="1945.3" y="311.4" font-size="24.7">0.005</text>
<path d="M1935 216.6L1939.5 216.6" stroke="#333" stroke-width="0.9"/>
<text x="1945.3" y="225.6" font-size="24.7">0.010</text>
<path d="M1935 130.8L1939.5 130.8" stroke="#333" stroke-width="0.9"/>
<text x="1945.3" y="139.8" font-size="24.7">0.015</text>
<path d="M1935 45L1939.5 45" stroke="#333" stroke-width="0.9"/>
<text x="1945.3" y="54" font-size="24.7">0.020</text>
<text x="2039.5" y="218.5" font-size="25" text-anchor="middle" transform="rotate(-90 2039.5 218.5)">SAOD @ 675 nm</text>
<g clip-path="url(#ce)" fill="none" stroke-width="2.25" stroke-linejoin="round">
<path d="M719.8 784.9L723.8 784.9L729.7 784.5L734.1 783.5L737 781.3L738.5 782.7L744.4 782.7L748 782L753.2 783.5L759 784.9L763.4 784.2L766.4 783.5L769.3 785.7L773.7 787.9L778.1 788.6L782.5 789.3L785.5 790.1L788.4 788.6L792.8 789.3L795.7 790.1L799.4 788.6L803.1 787.9L807.5 789.3L811.1 787.1L813 784.9L814.8 787.1L817.7 786.4L820.7 785.7L825.1 786.4L829.5 785.4L833.9 784.9L837.6 783.9L841.2 785.7L844.2 784.9L848.6 784.2L853 784.2L857.4 783.5L861.8 783.5L866.2 782.7L869.1 782.7L871.3 781.3L872.8 773.9L874.3 771L875.3 776.9L876.5 781.3L877.9 773.9L879.7 767.3L881.2 773.9L883.1 777.6L885.3 780.5L887.5 781.3L888.9 777.6L890.4 773.9L891.9 778.3L893.3 779.8L896.3 780.5L899.9 782L904.3 782.7L908.7 783.5L913.2 784.2L917.6 783.5L922 785.7L926.4 787.1L930.8 788.6L935.2 790.8L939.6 793L944 793.8L948.4 794.5L952.8 793.8L957.2 794.5L961.6 795.2L966 795.7L970.4 794.5L974.8 795.2L979.2 794.5L986.5 793.8L993.9 793.3L1001.2 793.8L1008.6 793L1015 793L1020.9 794.5L1026.7 793L1028.2 787.1L1029.7 784.2L1031.1 792.3L1034.1 793L1040 793L1044.4 792.7L1051.7 793.8L1057.6 794.5L1063.4 795.2L1069.3 796.7L1073.7 797.4L1079.6 798.2L1085.5 799.6L1089.9 800.4L1094.3 801.1L1098.7 801.1L1103.1 801.8L1107.5 801.1L1111.1 799.6L1113.3 794.5L1114.8 785.7L1116.3 775.4L1117.7 766.6L1119.2 762.2L1121.4 760L1124.3 757.8L1126.6 758.5L1128 760L1130.2 759.3L1132.4 760.7L1135.4 760.7L1138.3 762.9L1140.5 765.9L1142.7 768.8L1145.6 770.3L1148.6 771.7L1151.5 773.9L1154.4 776.1L1157.4 778.3L1160.3 778L1162.5 779.8L1164.7 776.9L1167.6 779.1L1170.6 781.3L1173.5 780.5L1176.5 779.8L1179.4 775.4L1181.6 771L1183.1 781.3L1185.3 778.3L1187.5 780.5L1191.1 781.3L1195.5 781.3L1199.9 782.7L1204.3 784.9L1207.3 786.4L1211.7 786.9L1215.4 786L1219 788.6L1222 790.1L1226.4 791.6L1230.8 793.8L1235.2 796L1239.6 797.4L1244 797.4L1248.4 798.2L1252.8 797.4L1257.2 796.7L1261.6 793.8L1266 790.8L1270.4 788.6L1274.8 786.4L1279.2 785.7L1283.6 784.9L1288 783.5L1293.9 782.7L1298.3 781.3L1302.7 780.5L1307.1 779.8L1310 778.3L1312.2 776.1L1315 779.1L1319.4 776.5L1325.3 775L1332.6 774.3L1338.5 775L1344.4 774.3L1350.2 775.8L1356.1 777.2L1362 780.2L1367.8 782.4L1373.7 784.6L1379.6 785.3L1385.5 786.8L1389.1 788.2L1390.6 784.6L1392.8 776.5L1395 767.7L1397.2 757.4L1399.4 747.1L1401.6 736.9L1403.1 726.6L1404.8 714.9L1406.7 707.5L1408.9 700.2L1411.9 698L1414.1 689.9L1416.3 682.6L1419.2 679.6L1421.4 673.8L1424.3 669.4L1427.3 667.9L1430.2 662.8L1432.4 668.6L1435.4 672.3L1438.3 675.2L1440.5 680.4L1443.4 679.6L1446.4 685.5L1448.6 689.9L1450.8 695.8L1453 699.4L1455.9 702.4L1457.4 707.5L1458.5 711.9L1460.3 705.3L1461.8 702.4L1464 706.1L1466.2 709L1467.6 715.6L1469.9 715.6L1471.3 714.1L1473.5 716.3L1475.7 714.1L1477.2 717.1L1479.1 708.3L1480.9 714.9L1483.1 719.3L1485.3 722.2L1488.2 720L1491.1 719.3L1493.3 720.7L1495.5 725.1L1497.7 729.5L1499.9 734.7L1502.1 730.3L1504.3 729.5L1507.3 733.2L1510.2 733.2L1513.2 732.5L1516.1 736.1L1519 739.8L1522 742.7L1526.4 746.4L1530.8 750.1L1535.2 754.5L1539.6 757.4L1544 761.1L1548.4 764L1552.8 766.2L1557.2 767L1561.6 768.4L1566 768.4L1570.4 769.2L1573.3 764.8L1577.7 764L1582.1 764.8L1586.5 765.5L1590.9 765.5L1593.9 763.3L1596.8 761.1L1601.2 761.1L1604.9 764.8L1608.6 764L1611.5 765.5L1615 764.8L1618.1 766.2L1622.5 769.2L1626.9 769.9L1631.3 768.4L1635.7 769.2L1640.1 769.9L1644.5 769.2L1648.9 768.9L1653.3 768.4L1657.7 770.6L1659.9 771.4L1662.1 766.2L1665.1 761.1L1668 757.4L1671 755.2L1673.9 753L1676.8 752.3L1679.8 753.8L1682.7 755.2L1685.6 756L1688.6 757.4L1692.2 758.2L1694.4 756L1696.6 753L1699.6 751.6L1703.2 752.3L1706.2 753.8L1710.6 754.5L1715 754.5L1719.4 756L1723.8 757.4L1728.2 758.2L1732.6 756.7L1737 756.7L1741.4 757.4L1745.8 756.7L1750.2 756.7L1754.6 757.4L1759 758.2L1763.4 758.2L1766.4 760.4L1769.3 760.4L1772.2 761.1L1775.2 761.1L1777.4 757.4L1779.6 753L1781.8 749.3L1784 746.4L1786.9 742.7L1789.8 739.1L1792.8 733.2L1795.7 731L1798.7 726.6L1801.6 724.4L1804.5 722.2L1807.5 720L1810.4 717.8L1813.3 715.6L1815.5 716.3L1818.5 716.3L1820.7 719.3L1823.6 722.2L1826.5 725.1L1829.5 728.1L1832.4 731.7L1835.3 736.1" stroke="#000080"/>
<path d="M719.8 785.7L723.8 787.1L729.7 788.3L737 788.3L744.4 788.3L750.2 789.3L759 788.3L764.9 787.1L766.4 781.3L768.6 771L770.8 759.3L772.2 756.3L773.7 757.8L775.2 758.5L777.4 760.7L778.8 762.2L781.1 760L782.5 757.8L784.7 756.3L786.9 755.6L789.9 756.3L792.8 754.1L795 759.3L797.2 760.7L799.4 762.2L801.6 760L804.5 761.5L807.5 762.2L810.4 763.7L813.3 764.4L816.3 765.9L819.2 766.6L822.1 766.6L825.1 768.8L828 770.3L831 771L833.9 771L836.8 773.2L839.8 774.7L841.5 776.1L843.4 773.9L845.6 772.5L848.6 771.7L851.5 773.2L854.4 772.5L857.4 773.9L860.3 774.7L863.2 773.9L866.2 774.7L869.1 775.4L872.8 776.9L876.5 777.6L880.1 776.9L883.8 776.1L887.5 777.6L891.1 778.3L894.8 776.9L898.5 777.6L902.1 779.1L905.8 780.5L910.2 780.5L914.6 779.8L920.5 781.3L926.4 782.7L930.8 784.2L935.2 783.5L939.6 784.2L944 783.5L948.4 782.7L952.8 781.3L956.5 781.3L960.1 782.7L964.5 785.7L968.9 788.6L973.3 790.8L979.2 793L985.1 795.2L990.9 796.7L996.8 797.4L1002.7 798.2L1008.6 799.6L1015 799.6L1020.9 801.1L1026.7 800.4L1032.6 800.4L1038.5 800.4L1044.4 798.9L1051.7 797.4L1057.6 796.7L1063.4 796L1069.3 794.5L1073.7 795.2L1079.6 794.5L1084 793.8L1088.4 796L1092.8 795.2L1097.2 794.5L1101.6 795.2L1106 797.4L1110.4 796.7L1114.8 796L1117.7 796.7L1122.1 796L1126.6 796.7L1131 797.4L1133.9 796.7L1138.3 798.2L1142.7 798.9L1147.1 799.6L1151.5 800.4L1155.9 801.1L1160.3 801.8L1164.7 801.8L1170.6 802.6L1176.5 802.6L1182.3 803.3L1188.2 804L1194.1 804.8L1199.9 804.8L1205.8 804L1208.7 800.4L1211.7 797.4L1214.6 794.5L1217.6 792.3L1220.5 791.6L1223.4 790.8L1226.4 789.8L1229.3 793L1232.2 792.3L1233.7 790.8L1235.9 796L1238.1 796L1241.8 793.8L1245.4 794.5L1249.8 796L1253.5 796L1256.5 791.6L1258.7 785.7L1261.6 779.8L1263.8 773.9L1266.7 769.5L1269.7 766.6L1271.9 762.2L1274.1 760.4L1276.3 762.2L1278.5 765.1L1280.7 763.7L1283.6 768.1L1286.5 765.9L1289.5 769.5L1293.9 768.8L1298.3 770.3L1302.7 773.2L1307.1 773.9L1311.5 773.9L1315 773.9L1319.4 776.5L1325.3 778.7L1332.6 780.9L1338.5 781.6L1344.4 784.6L1349.5 785.3L1353.2 783.1L1359 783.1L1364.9 781.6L1370.8 782.4L1376.6 782.4L1382.5 784.6L1388.4 786.8L1391.3 786L1394.3 782.4L1397.2 778.7L1400.1 777.2L1403.1 773.6L1406 767.7L1408.9 760.4L1411.9 751.6L1414.8 742.7L1417.7 733.9L1420.7 725.1L1422.9 720.7L1425.1 723.7L1428.8 726.6L1432.4 728.1L1435.4 731.7L1439.8 735.4L1442.7 739.1L1447.1 743.5L1450 744.9L1453 744.9L1455.9 748.6L1458.8 751.6L1463.2 753.8L1467.6 755.2L1470.6 754.5L1473.5 754.5L1475.7 748.6L1477.9 741.3L1480.1 733.9L1482 729.5L1483.8 731.7L1486 731L1488.2 732.5L1491.1 734.7L1494.1 732.5L1497 736.9L1499.9 738.3L1502.9 737.6L1505.8 739.1L1508.7 742.7L1511.7 742L1514.6 743.5L1519 744.9L1523.4 748.6L1527.8 750.8L1532.2 749.3L1536.6 751.6L1541 752.3L1545.4 755.2L1549.8 756L1553.5 754.5L1557.2 758.2L1561.6 758.9L1566 760.4L1570.4 761.8L1574.8 764.8L1579.2 765.5L1583.6 767L1588 769.2L1592.4 769.9L1595.3 769.2L1599.7 771.4L1604.2 772.1L1608.6 772.8L1611.5 772.8L1615 774.3L1618.1 773.6L1622.5 775.8L1626.9 777.2L1629.9 776.5L1634.3 779.4L1638.7 780.9L1642.3 782.4L1646 780.9L1650.4 780.2L1654.8 778.7L1658.5 778L1660.7 772.1L1662.9 763.3L1665.1 751.6L1667.3 742.7L1669.5 738.3L1672.4 736.9L1675.4 735.4L1678.3 733.9L1679.8 739.8L1681.5 742L1683.4 740.5L1685.6 744.2L1688.6 743.5L1691.5 744.9L1694.4 745.7L1697.4 747.9L1700.3 749.3L1703.2 750.1L1705.4 753.8L1706.9 756.7L1709.1 753L1711.3 756L1715 756.7L1717.9 754.5L1720.9 756.7L1723.8 756.7L1728.2 758.2L1731.1 759.6L1735.5 761.1L1739.9 762.6L1744.3 764L1748.7 765.5L1751.7 764L1753.9 767.7L1756.1 767L1759 769.2L1762 770.6L1766.4 771.4L1769.3 772.8L1772.2 772.8L1773.7 757.4L1774.4 728.1L1775.9 701.6L1777.4 688.4L1778.8 684L1780.3 666.4L1781.8 647.3L1784 645.9L1786.2 640L1786.5 634.3L1788.4 626.6L1789.1 618.9L1790.3 609.9L1792.3 606.1L1793.3 601L1794.8 599.1L1796.1 601L1797.4 593.3L1798.4 584.3L1799.3 576.6L1800.6 574.1L1801.9 574.7L1803.1 570.9L1804.8 569L1806.3 563.8L1807 556.2L1808.9 551L1811.2 547.2L1812.7 539.5L1814.7 533.1L1816.6 538.2L1818.5 530.5L1820.4 533.1L1822.3 537L1824.3 529.3L1825.5 515.2L1826.6 505.6L1827.6 515.2L1828.4 524.1L1829.6 531.8L1831.3 524.8L1832.6 537L1833.9 545.9L1835.5 544.6" stroke="#b22222"/>
<path d="M719.8 783.5L723.8 786.4L729.7 787.9L737 787.9L744.4 787.1L750.2 790.1L753.9 791.6L759 790.1L764.9 787.9L766.4 779.8L768.6 768.1L770.8 750.5L773 734.3L773.7 738.7L775.2 731.4L776.6 715.2L778.8 694.7L780.3 697.6L781.8 705L783.3 713.8L784 719.6L785.5 712.3L787.7 715.2L789.1 711.6L790.6 708.6L791 734.3L792.1 712.3L792.5 735L793.5 711.6L794.6 729.9L795.7 722.6L797.2 716.7L799 714.5L800.1 722.6L801.6 729.9L803.1 733.6L804.5 730.6L806.7 735.8L808.9 733.6L811.1 732.1L812.2 735.8L812.6 705L814.1 707.2L815.2 722.6L816.3 740.2L818.5 739.4L819.9 742.4L822.1 736.5L824.3 739.4L825.8 743.1L827.3 745.3L829.5 741.6L831.7 735L833.9 730.6L836.5 727.7L839 729.9L840.1 736.5L840.9 729.2L842.1 736.5L843 728.4L844.9 725.5L846.1 735.8L847.1 726.2L847.8 735.8L848.9 724L850 723.3L852.2 727L854.4 727.7L855.9 727L858.1 730.6L860.3 732.1L862.5 735L864.7 738L867.6 735.8L869.9 740.9L871.3 743.8L873.5 743.1L875.7 744.6L878.7 746.8L880.9 748.3L883.1 746.8L885.3 747.5L886.4 755.6L887.5 751.9L888.9 753.4L890.4 756.3L892.6 760L894.8 758.5L897 761.5L899.9 765.1L902.9 769.5L905.8 770.3L908.7 771.7L911.7 773.9L914.6 772.5L918.3 771L920.5 773.9L923.4 773.9L926.4 776.1L929.3 779.8L932.2 781.3L935.2 779.8L938.1 782L941.8 778.3L944 781.3L946.9 784.2L949.8 777.6L952 778.3L954.2 776.9L956.5 777.6L959.4 778.3L961.6 782.7L963.8 784.9L966 783.5L968.9 782.7L971.1 787.1L973.3 789.3L976.3 788.6L979.2 784.9L982.1 783.5L984.3 779.1L986.5 781.3L988.7 782.7L990.9 784.9L993.9 784.2L996.8 785.7L1001.2 787.1L1005.6 787.9L1010 789.3L1015 791.6L1020.9 796L1026.7 793.8L1029.7 793L1034.1 796L1038.5 797.4L1044.4 798.2L1051.7 801.1L1057.6 799.6L1063.4 798.2L1069.3 796.7L1073.7 797.4L1079.6 799.6L1085.5 801.1L1089.9 802.6L1094.3 803.3L1098.7 801.1L1103.1 802.6L1105.3 805.5L1107.5 803.3L1111.9 802.6L1115.5 804.8L1118.5 804.8L1120.7 802.6L1123.6 801.8L1125.8 805.5L1128.8 804.8L1130.2 800.4L1131.7 798.2L1133.9 801.1L1138.3 801.8L1141.2 802.6L1144.2 801.1L1148.6 800.4L1153 801.1L1157.4 801.8L1161.8 802.6L1166.2 804L1170.6 804.8L1175 804L1179.4 804L1183.8 803.3L1187.5 801.1L1188.9 804L1191.1 804.8L1195.5 807L1199.9 807.7L1204.3 808.4L1207.3 808.4L1209.5 805.5L1211.7 801.8L1214.6 798.9L1216.8 796L1219 793L1223.4 793L1227.8 792.3L1230.8 796L1233 796.7L1235.2 796L1237.4 799.6L1241 800.4L1245.4 800.4L1249.8 800.4L1252.8 801.1L1255.7 797.4L1258.7 793L1261.6 785.7L1264.5 781.3L1267.5 776.9L1270.4 772.5L1273.3 771L1276.3 768.1L1279.2 768.1L1281.4 765.1L1283.6 763.7L1285.8 765.9L1288 762.2L1290.9 763.7L1293.9 762.2L1296.8 764.4L1301.2 764.4L1304.9 765.1L1308.6 766.6L1311.5 768.1L1315 769.5L1319.4 773.6L1325.3 776.5L1332.6 778L1338.5 779.4L1344.4 784.6L1349.5 789L1352.4 784.6L1356.8 786L1362 784.6L1367.8 783.1L1373.7 786.8L1379.6 788.2L1385.5 790.4L1388.4 792.6L1391.3 791.2L1394.3 788.2L1397.2 786L1400.1 786L1403.1 785.3L1406 782.4L1408.9 778.7L1411.9 778L1414.8 772.1L1417.7 769.9L1420.7 769.2L1423.6 761.8L1425.8 769.9L1428.8 767.7L1432.4 765.5L1435.4 765.5L1439.8 761.1L1444.2 761.8L1448.6 763.3L1453 761.8L1455.9 764.8L1460.3 766.2L1464.7 768.4L1468.4 769.9L1469.9 760.4L1472.1 742.7L1474.3 722.2L1476.5 701.6L1477.9 689.9L1480.1 678.2L1481.6 667.9L1482.8 662L1483.8 672.3L1485.3 680.4L1486.7 676.7L1488.2 682.6L1490.4 684L1492.6 689.9L1494.8 697.2L1497 706.1L1499.2 713.4L1501.4 720L1503.6 723.7L1505.8 728.1L1508.7 732.5L1511.7 736.1L1514.6 735.4L1517.6 738.3L1520.5 741.3L1523.4 744.9L1527.8 742L1532.2 744.9L1536.6 748.6L1541 750.1L1545.4 753L1548.4 751.6L1552.8 757.4L1557.2 758.9L1561.6 756.7L1566 756L1568.9 758.9L1571.9 755.2L1574.8 758.2L1577.7 753.8L1582.1 750.8L1586.5 748.6L1589.5 748.6L1592.4 746.4L1595.3 749.3L1599 745.7L1601.2 751.6L1604.9 756L1608.6 758.9L1611.5 756.7L1615 761.8L1618.1 761.8L1622.5 763.3L1626.9 762.6L1629.9 764.8L1632.8 767.7L1635.7 771.4L1639.4 775.8L1642.3 778L1644.5 774.3L1647.5 777.2L1651.9 780.2L1656.3 780.9L1659.2 781.6L1662.1 778L1664.3 772.1L1666.6 767.7L1669.5 763.3L1672.4 761.1L1675.4 758.9L1677.6 757.4L1679.8 760.4L1682.7 762.6L1685.6 763.3L1688.6 764.8L1691.5 766.2L1694.4 765.5L1697.4 767L1700.3 766.2L1703.2 769.2L1705.4 775L1707.6 773.6L1709.9 778.7L1712.8 776.5L1716.5 776.5L1719.4 773.6L1722.3 772.1L1725.3 774.3L1728.2 771.4L1732.6 767L1737 767.7L1741.4 767.7L1745.8 769.2L1750.2 770.6L1752.4 767.7L1754.6 765.5L1757.6 767.7L1760.5 770.6L1764.9 772.8L1768.6 774.3L1771.5 775.8L1773 772.1L1774.4 757.4L1775.9 735.4L1777.4 716.3L1778.8 706.1L1781 689.9L1783.2 687L1786.2 682.6L1788.4 673.8L1790.6 666.4L1792.8 663.5L1795.7 666.4L1797.9 657.6L1799.4 653.9L1801.6 656.9L1803.8 648.8L1806 640L1807 627.9L1808.9 622.7L1810.8 621.5L1811.5 612.5L1812.7 593.3L1814 589.5L1815 574.1L1815.9 563.8L1817.2 572.8L1818.5 561.3L1819.8 554.9L1821.7 547.2L1823.6 542.1L1824.3 529.3L1824.9 508.8L1825.5 493.4L1826.4 489.6L1827.5 499.8L1829.1 508.8L1830.4 503.7L1831.7 478L1833 483.2L1834.3 475.5L1835.2 474.8" stroke="#228b22"/>
<path d="M719.8 809.2L720.3 785.7L723.8 785.7L729.7 785.7L737 785.4L744.4 784.9L750.2 787.1L753.9 788.3L759 787.9L764.9 786.9L766.4 781.3L768.6 775.4L770.8 769.5L773 763.7L774.4 765.1L775.9 759.3L777.4 751.9L778.8 747.5L780.3 749L781.8 751.9L783.3 751.9L784.7 756.3L786.9 757.1L789.1 755.6L790.6 754.9L791 771L792.1 757.8L792.8 771.7L794 757.8L795 765.9L796 759.3L797.9 757.1L799.4 756.3L800.9 762.2L803.1 765.1L805.3 763.7L807.5 765.1L809.7 763.7L811.9 762.9L812.6 748.3L814.1 749L815.5 764.4L817.7 765.1L819.9 764.4L822.9 762.2L825.1 763.7L827.3 765.1L829.5 763.7L831.7 760.7L833.9 758.5L836.8 755.6L839.5 756.3L840.2 762.2L841.2 756.3L842.4 760L844.2 755.6L845.6 754.1L847.1 757.8L848.6 752.7L850 751.9L853 753.4L855.9 752.7L858.1 754.9L860.3 756.3L862.5 757.1L864.7 759.3L867.6 757.8L870.6 760.7L873.5 755.6L875 756.3L876.5 761.5L879.4 757.1L881.6 760L883.8 763.7L886 765.1L886.7 768.8L888.9 765.1L891.1 767.3L893.3 769.5L895.5 771.7L898.5 773.2L901.4 775.4L904.3 776.9L907.3 777.6L910.2 777.6L913.2 779.1L916.1 779.8L919 778.3L922 780.5L924.9 782L927.8 783.5L929.3 790.1L930.8 784.2L933.7 785.7L936.6 787.9L939.6 788.6L942.5 787.9L946.2 789.3L949.8 787.1L952.8 786.4L956.5 785.7L959.4 787.9L961.6 789.3L964.5 789.3L967.5 787.9L971.1 792.3L974.8 791.6L979.2 790.1L982.1 788.6L984.3 786.4L986.5 788.6L990.9 789.3L996.8 790.1L1002.7 791.6L1008.6 791.6L1015 793.8L1020.9 795.2L1026.7 793L1028.9 789.3L1030.4 793L1034.1 793.8L1038.5 794.5L1041.4 793L1044.4 795.2L1051.7 796.7L1057.6 796.7L1063.4 796L1069.3 796L1073.7 798.2L1079.6 798.9L1085.5 800.4L1089.9 801.1L1094.3 801.8L1098.7 801.1L1103.1 801.8L1106 804L1108.9 802.6L1111.9 801.1L1114.8 796L1117 790.1L1119.2 784.2L1121.4 781.3L1124.3 781.3L1128 782L1131.7 779.8L1133.9 781.3L1136.8 782L1139.8 784.2L1142.7 785.7L1147.1 787.1L1151.5 788.6L1155.9 790.8L1160.3 791.6L1164.7 792.3L1169.1 793.8L1172.1 793.8L1176.5 792.3L1179.4 790.8L1181.6 788.6L1183.1 793L1186 790.1L1188.2 792.3L1192.6 793.8L1197 794.5L1201.4 796L1205.8 797.4L1207.3 797.4L1210.2 794.5L1214.6 792.3L1219 790.8L1223.4 792.3L1227.8 792.3L1230.8 794.5L1233.7 795.2L1236.6 797.4L1241 798.2L1245.4 798.2L1249.8 798.2L1253.5 798.2L1257.2 794.5L1260.1 790.8L1263.1 787.1L1266 784.2L1268.9 782L1271.9 779.8L1274.8 778.3L1277.7 776.1L1280.7 776.1L1283.6 773.9L1286.5 773.9L1289.5 772.5L1293.9 772.5L1296.8 772.2L1301.2 772.5L1305.6 772.5L1310 772.8L1315 773.9L1319.4 775L1325.3 775.8L1332.6 776.5L1338.5 777.2L1344.4 780.2L1349.5 782.4L1353.2 780.9L1359 782.4L1364.9 781.6L1369.3 784.6L1373.7 785.3L1379.6 787.5L1385.5 789L1389.1 790.4L1391.3 786.8L1394.3 778L1397.2 769.2L1400.1 760.4L1403.1 751.6L1406 742.7L1408.9 737.6L1411.9 735.4L1414.1 728.1L1416.3 723.7L1418.5 724.4L1420.7 719.3L1423.6 714.1L1425.8 717.8L1428.8 714.9L1431.7 716.3L1435.4 719.3L1439 720L1442.7 722.2L1445.6 725.9L1448.6 730.3L1451.5 733.2L1454.4 735.4L1457.4 738.3L1458.8 741.3L1461 736.9L1463.2 739.8L1465.4 741.3L1467.6 745.7L1469.9 739.8L1472.1 728.1L1474.3 716.3L1476.5 704.6L1478.7 697.2L1480.9 692.1L1482.8 689.2L1484.5 700.2L1486 698L1488.2 700.2L1490.4 701.6L1492.6 705.3L1494.8 711.9L1497 717.8L1499.2 723.7L1501.4 725.9L1504.3 727.3L1507.3 731L1510.2 733.9L1513.2 733.9L1516.1 736.9L1518.3 735.4L1520.5 739.8L1523.4 743.5L1527.8 744.2L1532.2 747.9L1536.6 751.6L1541 754.5L1545.4 757.4L1549.8 758.9L1552.8 761.8L1557.2 762.6L1561.6 763.3L1566 762.6L1568.9 764L1571.9 761.8L1575.5 760.4L1579.2 758.9L1583.6 757.4L1588 756.7L1592.4 756L1596.1 754.5L1599 752.7L1601.2 756L1604.9 759.6L1608.6 761.8L1611.5 761.1L1615 762.6L1618.1 764L1622.5 765.5L1626.9 766.2L1631.3 767.7L1635.7 770.6L1640.1 772.8L1643.8 773.6L1647.5 772.8L1651.9 774.3L1656.3 776.5L1659.2 777.2L1661.4 773.6L1663.6 767.7L1665.8 763.3L1668.8 758.9L1671.7 756.7L1674.6 755.2L1677.6 754.5L1679.8 756.7L1682.7 757.4L1685.6 758.9L1689.3 760.4L1693 761.1L1695.9 758.2L1699.6 757.4L1702.5 758.2L1704.7 760.4L1706.9 764L1709.1 764L1711.3 766.2L1715 765.5L1717.9 765.5L1722.3 764.8L1725.3 766.2L1729.7 764.8L1734.1 761.8L1738.5 762.6L1742.9 763.3L1747.3 764L1750.9 764.8L1753.2 762.6L1754.9 761.1L1756.8 764L1760.5 765.5L1764.9 767L1768.6 768.4L1771.5 769.2L1773.4 763.3L1774.9 748.6L1776.6 735.4L1778.8 726.6L1781 717.8L1783.2 715.6L1786.2 710.5L1788.4 706.1L1790.6 701.6L1792.8 698L1795.7 698L1797.9 692.1L1799.4 689.9L1801.6 691.4L1804.5 684L1806.7 676.7L1808.9 673L1811.1 671.6L1813.3 659.1L1815.5 647.3L1817.7 645.9L1820.7 644.4L1823.6 642.9L1825.1 640L1825.8 624L1826.8 622.7L1828.1 629.1L1829.4 632.3L1830.7 627.9L1832 622.1L1833.2 625.3L1834.5 624L1835.5 624.7" stroke="#000"/>
</g>
<rect x="719.7" y="458.9" width="1128.3" height="366.5" fill="none" stroke="#000" stroke-width="1.3"/>
<path d="M713.9 778.3L719.7 778.3" stroke="#000" stroke-width="1.3"/>
<text x="707.3" y="784.6" font-size="16.8" text-anchor="end">0.005</text>
<path d="M713.9 718.6L719.7 718.6" stroke="#000" stroke-width="1.3"/>
<text x="707.3" y="724.9" font-size="16.8" text-anchor="end">0.010</text>
<path d="M713.9 659L719.7 659" stroke="#000" stroke-width="1.3"/>
<text x="707.3" y="665.3" font-size="16.8" text-anchor="end">0.015</text>
<path d="M713.9 599.3L719.7 599.3" stroke="#000" stroke-width="1.3"/>
<text x="707.3" y="605.6" font-size="16.8" text-anchor="end">0.020</text>
<path d="M713.9 539.7L719.7 539.7" stroke="#000" stroke-width="1.3"/>
<text x="707.3" y="546" font-size="16.8" text-anchor="end">0.025</text>
<path d="M713.9 480L719.7 480" stroke="#000" stroke-width="1.3"/>
<text x="707.3" y="486.3" font-size="16.8" text-anchor="end">0.030</text>
<path d="M719.8 825.4L719.8 830.8" stroke="#000" stroke-width="1.3"/>
<text x="719.8" y="858" font-size="26.8" text-anchor="middle">2015</text>
<path d="M869.4 825.4L869.4 830.8" stroke="#000" stroke-width="1.3"/>
<text x="869.4" y="858" font-size="26.8" text-anchor="middle">2016</text>
<path d="M1019.1 825.4L1019.1 830.8" stroke="#000" stroke-width="1.3"/>
<text x="1019.1" y="858" font-size="26.8" text-anchor="middle">2017</text>
<path d="M1168.8 825.4L1168.8 830.8" stroke="#000" stroke-width="1.3"/>
<text x="1168.8" y="858" font-size="26.8" text-anchor="middle">2018</text>
<path d="M1318.4 825.4L1318.4 830.8" stroke="#000" stroke-width="1.3"/>
<text x="1318.4" y="858" font-size="26.8" text-anchor="middle">2019</text>
<path d="M1468 825.4L1468 830.8" stroke="#000" stroke-width="1.3"/>
<text x="1468" y="858" font-size="26.8" text-anchor="middle">2020</text>
<path d="M1617.7 825.4L1617.7 830.8" stroke="#000" stroke-width="1.3"/>
<text x="1617.7" y="858" font-size="26.8" text-anchor="middle">2021</text>
<path d="M1767.3 825.4L1767.3 830.8" stroke="#000" stroke-width="1.3"/>
<text x="1767.3" y="858" font-size="26.8" text-anchor="middle">2022</text>
<text x="628" y="641.5" font-size="27" text-anchor="middle" transform="rotate(-90 628 641.5)">SAOD @ 675 nm</text>
<text x="1283.3" y="909" font-size="27" text-anchor="middle">Time</text>
<path d="M733.6 481.1L769.6 481.1" stroke="#000080" stroke-width="2.2"/>
<text x="782" y="487.1" font-size="16.7">NH</text>
<path d="M733.6 505.7L769.6 505.7" stroke="#b22222" stroke-width="2.2"/>
<text x="782" y="511.7" font-size="16.7">Tropics</text>
<path d="M733.6 530.3L769.6 530.3" stroke="#228b22" stroke-width="2.2"/>
<text x="782" y="536.3" font-size="16.7">SH</text>
<path d="M733.6 554.9L769.6 554.9" stroke="#000" stroke-width="2.2"/>
<text x="782" y="560.9" font-size="16.7">Global</text>
<text transform="translate(965 659.5) scale(0.8 1)" font-size="48" font-weight="bold" fill="#000" font-family="'DejaVu Sans','Liberation Sans',sans-serif">e)</text>
<rect x="570.2" y="1070.6" width="16" height="534.6" fill="#000080"/>
<rect x="586.2" y="1215" width="16" height="390.2" fill="#b22222"/>
<rect x="602.2" y="1231" width="16" height="374.2" fill="#228b22"/>
<rect x="626" y="1138" width="32" height="467.2" fill="#000"/>
<path d="M626 1605.2L626 1612.2" stroke="#000" stroke-width="1.5"/>
<text x="626" y="1638.8" font-size="22.2" text-anchor="middle">EC1982</text>
<rect x="730.7" y="994" width="16" height="611.2" fill="#000080"/>
<rect x="746.7" y="982.3" width="16" height="622.9" fill="#b22222"/>
<rect x="762.7" y="1023" width="16" height="582.2" fill="#228b22"/>
<rect x="786.5" y="1008.3" width="32" height="596.9" fill="#000"/>
<path d="M786.5 1605.2L786.5 1612.2" stroke="#000" stroke-width="1.5"/>
<text x="786.5" y="1638.8" font-size="22.2" text-anchor="middle">Pi1991</text>
<rect x="890.7" y="1443.4" width="16" height="161.8" fill="#000080"/>
<rect x="906.7" y="1575.8" width="16" height="29.4" fill="#b22222"/>
<rect x="922.7" y="1521.3" width="16" height="83.9" fill="#228b22"/>
<rect x="946.5" y="1491" width="32" height="114.2" fill="#000"/>
<path d="M946.5 1605.2L946.5 1612.2" stroke="#000" stroke-width="1.5"/>
<text x="946.5" y="1638.8" font-size="22.2" text-anchor="middle">Na2011</text>
<rect x="1051" y="1369.4" width="16" height="235.8" fill="#000080"/>
<rect x="1067" y="1478.9" width="16" height="126.3" fill="#b22222"/>
<rect x="1083" y="1504.4" width="16" height="100.8" fill="#228b22"/>
<rect x="1106.8" y="1429.6" width="32" height="175.6" fill="#000"/>
<path d="M1106.8 1605.2L1106.8 1612.2" stroke="#000" stroke-width="1.5"/>
<text x="1106.8" y="1638.8" font-size="22.2" text-anchor="middle">Ra2019</text>
<rect x="1211.1" y="1467.2" width="16" height="138" fill="#000080"/>
<rect x="1227.1" y="1518.7" width="16" height="86.5" fill="#b22222"/>
<rect x="1243.1" y="1383.7" width="16" height="221.5" fill="#228b22"/>
<rect x="1266.9" y="1413.1" width="32" height="192.1" fill="#000"/>
<path d="M1266.9 1605.2L1266.9 1612.2" stroke="#000" stroke-width="1.5"/>
<text x="1266.9" y="1638.8" font-size="22.2" text-anchor="middle">AF2020</text>
<rect x="1371.5" y="1437.4" width="16" height="167.8" fill="#000080"/>
<rect x="1387.5" y="1228" width="16" height="377.2" fill="#b22222"/>
<rect x="1403.5" y="1206.8" width="16" height="398.4" fill="#228b22"/>
<rect x="1427.3" y="1318.4" width="32" height="286.8" fill="#000"/>
<path d="M1427.3 1605.2L1427.3 1612.2" stroke="#000" stroke-width="1.5"/>
<text x="1427.3" y="1638.8" font-size="22.2" text-anchor="middle">HT2022</text>
<rect x="525.7" y="952.2" width="978.6" height="653" fill="none" stroke="#000" stroke-width="1.6"/>
<path d="M518 973.3L525.7 973.3" stroke="#000" stroke-width="1.5"/>
<text x="509.3" y="982.2" font-size="22.2" text-anchor="end">10<tspan dy="-9.2" font-size="15.5">−1</tspan></text>
<path d="M518 1445.1L525.7 1445.1" stroke="#000" stroke-width="1.5"/>
<text x="509.3" y="1454" font-size="22.2" text-anchor="end">10<tspan dy="-9.2" font-size="15.5">−2</tspan></text>
<path d="M521.4 994.9L525.7 994.9" stroke="#000" stroke-width="1.2"/>
<path d="M521.4 1019L525.7 1019" stroke="#000" stroke-width="1.2"/>
<path d="M521.4 1046.4L525.7 1046.4" stroke="#000" stroke-width="1.2"/>
<path d="M521.4 1078L525.7 1078" stroke="#000" stroke-width="1.2"/>
<path d="M521.4 1115.3L525.7 1115.3" stroke="#000" stroke-width="1.2"/>
<path d="M521.4 1161L525.7 1161" stroke="#000" stroke-width="1.2"/>
<path d="M521.4 1220L525.7 1220" stroke="#000" stroke-width="1.2"/>
<path d="M521.4 1303.1L525.7 1303.1" stroke="#000" stroke-width="1.2"/>
<path d="M521.4 1466.7L525.7 1466.7" stroke="#000" stroke-width="1.2"/>
<path d="M521.4 1490.8L525.7 1490.8" stroke="#000" stroke-width="1.2"/>
<path d="M521.4 1518.2L525.7 1518.2" stroke="#000" stroke-width="1.2"/>
<path d="M521.4 1549.8L525.7 1549.8" stroke="#000" stroke-width="1.2"/>
<path d="M521.4 1587.1L525.7 1587.1" stroke="#000" stroke-width="1.2"/>
<text x="416.3" y="1279" font-size="36.1" text-anchor="middle" transform="rotate(-90 416.3 1279)">Maximum SAOD @ 675 nm</text>
<rect x="1342.1" y="974" width="45" height="16" fill="#000080"/>
<text x="1405.7" y="990" font-size="22.2">NH</text>
<rect x="1342.1" y="1007.4" width="45" height="16" fill="#b22222"/>
<text x="1405.7" y="1023.4" font-size="22.2">Tropics</text>
<rect x="1342.1" y="1040.8" width="45" height="16" fill="#228b22"/>
<text x="1405.7" y="1056.8" font-size="22.2">SH</text>
<rect x="1342.1" y="1074.2" width="45" height="16" fill="#000"/>
<text x="1405.7" y="1090.2" font-size="22.2">Global</text>
<text transform="translate(964.5 1181) scale(0.8 1)" font-size="48" font-weight="bold" fill="#000" font-family="'DejaVu Sans','Liberation Sans',sans-serif">f)</text></svg></body></html>
